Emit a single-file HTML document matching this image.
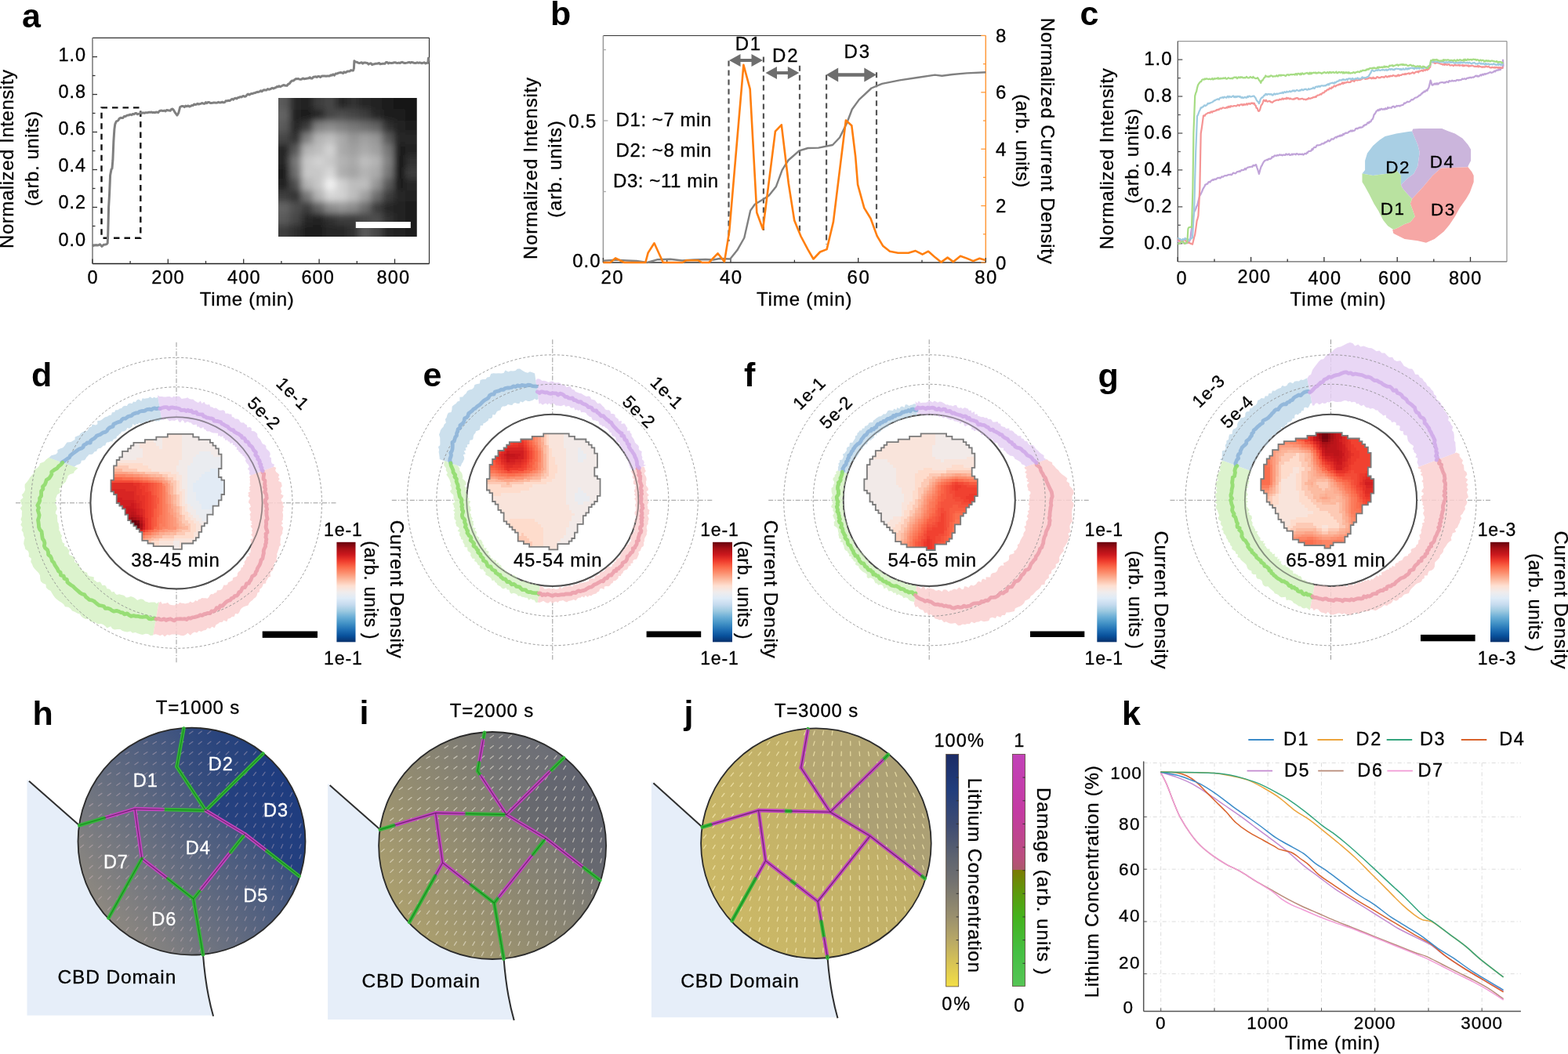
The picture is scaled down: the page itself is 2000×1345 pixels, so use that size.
<!DOCTYPE html>
<html><head><meta charset="utf-8"><title>Figure</title>
<style>html,body{margin:0;padding:0;background:#fff;}svg{display:block;}</style></head>
<body><svg width="2000" height="1345" viewBox="0 0 2000 1345" font-family="'Liberation Sans', Arial, sans-serif">
<rect width="2000" height="1345" fill="#fff"/>
<defs><clipPath id="insA"><rect x="355" y="125" width="176.5" height="177"/></clipPath><filter id="blurA" x="-50%" y="-50%" width="200%" height="200%"><feGaussianBlur stdDeviation="4.5"/></filter><filter id="blurA2" x="-50%" y="-50%" width="200%" height="200%"><feGaussianBlur stdDeviation="4"/></filter></defs>
<rect x="355" y="125" width="176.5" height="177" fill="#1c1c1c"/>
<g clip-path="url(#insA)"><g filter="url(#blurA)">
<rect x="347" y="117" width="23.3" height="23.3" fill="rgb(90,90,90)"/>
<rect x="369.7" y="117" width="15.3" height="23.3" fill="rgb(40,40,40)"/>
<rect x="384.4" y="117" width="15.3" height="23.3" fill="rgb(35,35,35)"/>
<rect x="399.1" y="117" width="15.3" height="23.3" fill="rgb(60,60,60)"/>
<rect x="413.8" y="117" width="15.3" height="23.3" fill="rgb(70,70,70)"/>
<rect x="428.5" y="117" width="15.3" height="23.3" fill="rgb(40,40,40)"/>
<rect x="443.2" y="117" width="15.3" height="23.3" fill="rgb(50,50,50)"/>
<rect x="458" y="117" width="15.3" height="23.3" fill="rgb(40,40,40)"/>
<rect x="472.7" y="117" width="15.3" height="23.3" fill="rgb(35,35,35)"/>
<rect x="487.4" y="117" width="15.3" height="23.3" fill="rgb(30,30,30)"/>
<rect x="502.1" y="117" width="15.3" height="23.3" fill="rgb(25,25,25)"/>
<rect x="516.8" y="117" width="23.3" height="23.3" fill="rgb(20,20,20)"/>
<rect x="347" y="139.7" width="23.3" height="15.3" fill="rgb(100,100,100)"/>
<rect x="369.7" y="139.7" width="15.3" height="15.3" fill="rgb(35,35,35)"/>
<rect x="384.4" y="139.7" width="15.3" height="15.3" fill="rgb(30,30,30)"/>
<rect x="399.1" y="139.7" width="15.3" height="15.3" fill="rgb(40,40,40)"/>
<rect x="413.8" y="139.7" width="15.3" height="15.3" fill="rgb(70,70,70)"/>
<rect x="428.5" y="139.7" width="15.3" height="15.3" fill="rgb(80,80,80)"/>
<rect x="443.2" y="139.7" width="15.3" height="15.3" fill="rgb(70,70,70)"/>
<rect x="458" y="139.7" width="15.3" height="15.3" fill="rgb(60,60,60)"/>
<rect x="472.7" y="139.7" width="15.3" height="15.3" fill="rgb(40,40,40)"/>
<rect x="487.4" y="139.7" width="15.3" height="15.3" fill="rgb(30,30,30)"/>
<rect x="502.1" y="139.7" width="15.3" height="15.3" fill="rgb(30,30,30)"/>
<rect x="516.8" y="139.7" width="23.3" height="15.3" fill="rgb(25,25,25)"/>
<rect x="347" y="154.4" width="23.3" height="15.3" fill="rgb(90,90,90)"/>
<rect x="369.7" y="154.4" width="15.3" height="15.3" fill="rgb(40,40,40)"/>
<rect x="384.4" y="154.4" width="15.3" height="15.3" fill="rgb(60,60,60)"/>
<rect x="399.1" y="154.4" width="15.3" height="15.3" fill="rgb(130,130,130)"/>
<rect x="413.8" y="154.4" width="15.3" height="15.3" fill="rgb(140,140,140)"/>
<rect x="428.5" y="154.4" width="15.3" height="15.3" fill="rgb(130,130,130)"/>
<rect x="443.2" y="154.4" width="15.3" height="15.3" fill="rgb(120,120,120)"/>
<rect x="458" y="154.4" width="15.3" height="15.3" fill="rgb(110,110,110)"/>
<rect x="472.7" y="154.4" width="15.3" height="15.3" fill="rgb(100,100,100)"/>
<rect x="487.4" y="154.4" width="15.3" height="15.3" fill="rgb(50,50,50)"/>
<rect x="502.1" y="154.4" width="15.3" height="15.3" fill="rgb(35,35,35)"/>
<rect x="516.8" y="154.4" width="23.3" height="15.3" fill="rgb(30,30,30)"/>
<rect x="347" y="169.1" width="23.3" height="15.3" fill="rgb(70,70,70)"/>
<rect x="369.7" y="169.1" width="15.3" height="15.3" fill="rgb(50,50,50)"/>
<rect x="384.4" y="169.1" width="15.3" height="15.3" fill="rgb(130,130,130)"/>
<rect x="399.1" y="169.1" width="15.3" height="15.3" fill="rgb(180,180,180)"/>
<rect x="413.8" y="169.1" width="15.3" height="15.3" fill="rgb(190,190,190)"/>
<rect x="428.5" y="169.1" width="15.3" height="15.3" fill="rgb(170,170,170)"/>
<rect x="443.2" y="169.1" width="15.3" height="15.3" fill="rgb(150,150,150)"/>
<rect x="458" y="169.1" width="15.3" height="15.3" fill="rgb(160,160,160)"/>
<rect x="472.7" y="169.1" width="15.3" height="15.3" fill="rgb(150,150,150)"/>
<rect x="487.4" y="169.1" width="15.3" height="15.3" fill="rgb(90,90,90)"/>
<rect x="502.1" y="169.1" width="15.3" height="15.3" fill="rgb(40,40,40)"/>
<rect x="516.8" y="169.1" width="23.3" height="15.3" fill="rgb(40,40,40)"/>
<rect x="347" y="183.8" width="23.3" height="15.3" fill="rgb(40,40,40)"/>
<rect x="369.7" y="183.8" width="15.3" height="15.3" fill="rgb(90,90,90)"/>
<rect x="384.4" y="183.8" width="15.3" height="15.3" fill="rgb(180,180,180)"/>
<rect x="399.1" y="183.8" width="15.3" height="15.3" fill="rgb(190,190,190)"/>
<rect x="413.8" y="183.8" width="15.3" height="15.3" fill="rgb(210,210,210)"/>
<rect x="428.5" y="183.8" width="15.3" height="15.3" fill="rgb(170,170,170)"/>
<rect x="443.2" y="183.8" width="15.3" height="15.3" fill="rgb(160,160,160)"/>
<rect x="458" y="183.8" width="15.3" height="15.3" fill="rgb(170,170,170)"/>
<rect x="472.7" y="183.8" width="15.3" height="15.3" fill="rgb(160,160,160)"/>
<rect x="487.4" y="183.8" width="15.3" height="15.3" fill="rgb(120,120,120)"/>
<rect x="502.1" y="183.8" width="15.3" height="15.3" fill="rgb(30,30,30)"/>
<rect x="516.8" y="183.8" width="23.3" height="15.3" fill="rgb(35,35,35)"/>
<rect x="347" y="198.5" width="23.3" height="15.3" fill="rgb(40,40,40)"/>
<rect x="369.7" y="198.5" width="15.3" height="15.3" fill="rgb(120,120,120)"/>
<rect x="384.4" y="198.5" width="15.3" height="15.3" fill="rgb(200,200,200)"/>
<rect x="399.1" y="198.5" width="15.3" height="15.3" fill="rgb(210,210,210)"/>
<rect x="413.8" y="198.5" width="15.3" height="15.3" fill="rgb(200,200,200)"/>
<rect x="428.5" y="198.5" width="15.3" height="15.3" fill="rgb(180,180,180)"/>
<rect x="443.2" y="198.5" width="15.3" height="15.3" fill="rgb(170,170,170)"/>
<rect x="458" y="198.5" width="15.3" height="15.3" fill="rgb(190,190,190)"/>
<rect x="472.7" y="198.5" width="15.3" height="15.3" fill="rgb(180,180,180)"/>
<rect x="487.4" y="198.5" width="15.3" height="15.3" fill="rgb(130,130,130)"/>
<rect x="502.1" y="198.5" width="15.3" height="15.3" fill="rgb(25,25,25)"/>
<rect x="516.8" y="198.5" width="23.3" height="15.3" fill="rgb(50,50,50)"/>
<rect x="347" y="213.2" width="23.3" height="15.3" fill="rgb(30,30,30)"/>
<rect x="369.7" y="213.2" width="15.3" height="15.3" fill="rgb(110,110,110)"/>
<rect x="384.4" y="213.2" width="15.3" height="15.3" fill="rgb(200,200,200)"/>
<rect x="399.1" y="213.2" width="15.3" height="15.3" fill="rgb(200,200,200)"/>
<rect x="413.8" y="213.2" width="15.3" height="15.3" fill="rgb(215,215,215)"/>
<rect x="428.5" y="213.2" width="15.3" height="15.3" fill="rgb(175,175,175)"/>
<rect x="443.2" y="213.2" width="15.3" height="15.3" fill="rgb(165,165,165)"/>
<rect x="458" y="213.2" width="15.3" height="15.3" fill="rgb(180,180,180)"/>
<rect x="472.7" y="213.2" width="15.3" height="15.3" fill="rgb(170,170,170)"/>
<rect x="487.4" y="213.2" width="15.3" height="15.3" fill="rgb(120,120,120)"/>
<rect x="502.1" y="213.2" width="15.3" height="15.3" fill="rgb(25,25,25)"/>
<rect x="516.8" y="213.2" width="23.3" height="15.3" fill="rgb(60,60,60)"/>
<rect x="347" y="228" width="23.3" height="15.3" fill="rgb(35,35,35)"/>
<rect x="369.7" y="228" width="15.3" height="15.3" fill="rgb(80,80,80)"/>
<rect x="384.4" y="228" width="15.3" height="15.3" fill="rgb(180,180,180)"/>
<rect x="399.1" y="228" width="15.3" height="15.3" fill="rgb(200,200,200)"/>
<rect x="413.8" y="228" width="15.3" height="15.3" fill="rgb(240,240,240)"/>
<rect x="428.5" y="228" width="15.3" height="15.3" fill="rgb(210,210,210)"/>
<rect x="443.2" y="228" width="15.3" height="15.3" fill="rgb(190,190,190)"/>
<rect x="458" y="228" width="15.3" height="15.3" fill="rgb(190,190,190)"/>
<rect x="472.7" y="228" width="15.3" height="15.3" fill="rgb(150,150,150)"/>
<rect x="487.4" y="228" width="15.3" height="15.3" fill="rgb(90,90,90)"/>
<rect x="502.1" y="228" width="15.3" height="15.3" fill="rgb(30,30,30)"/>
<rect x="516.8" y="228" width="23.3" height="15.3" fill="rgb(40,40,40)"/>
<rect x="347" y="242.7" width="23.3" height="15.3" fill="rgb(60,60,60)"/>
<rect x="369.7" y="242.7" width="15.3" height="15.3" fill="rgb(50,50,50)"/>
<rect x="384.4" y="242.7" width="15.3" height="15.3" fill="rgb(120,120,120)"/>
<rect x="399.1" y="242.7" width="15.3" height="15.3" fill="rgb(180,180,180)"/>
<rect x="413.8" y="242.7" width="15.3" height="15.3" fill="rgb(215,215,215)"/>
<rect x="428.5" y="242.7" width="15.3" height="15.3" fill="rgb(210,210,210)"/>
<rect x="443.2" y="242.7" width="15.3" height="15.3" fill="rgb(190,190,190)"/>
<rect x="458" y="242.7" width="15.3" height="15.3" fill="rgb(160,160,160)"/>
<rect x="472.7" y="242.7" width="15.3" height="15.3" fill="rgb(110,110,110)"/>
<rect x="487.4" y="242.7" width="15.3" height="15.3" fill="rgb(60,60,60)"/>
<rect x="502.1" y="242.7" width="15.3" height="15.3" fill="rgb(40,40,40)"/>
<rect x="516.8" y="242.7" width="23.3" height="15.3" fill="rgb(35,35,35)"/>
<rect x="347" y="257.4" width="23.3" height="15.3" fill="rgb(100,100,100)"/>
<rect x="369.7" y="257.4" width="15.3" height="15.3" fill="rgb(80,80,80)"/>
<rect x="384.4" y="257.4" width="15.3" height="15.3" fill="rgb(60,60,60)"/>
<rect x="399.1" y="257.4" width="15.3" height="15.3" fill="rgb(100,100,100)"/>
<rect x="413.8" y="257.4" width="15.3" height="15.3" fill="rgb(140,140,140)"/>
<rect x="428.5" y="257.4" width="15.3" height="15.3" fill="rgb(150,150,150)"/>
<rect x="443.2" y="257.4" width="15.3" height="15.3" fill="rgb(140,140,140)"/>
<rect x="458" y="257.4" width="15.3" height="15.3" fill="rgb(110,110,110)"/>
<rect x="472.7" y="257.4" width="15.3" height="15.3" fill="rgb(60,60,60)"/>
<rect x="487.4" y="257.4" width="15.3" height="15.3" fill="rgb(40,40,40)"/>
<rect x="502.1" y="257.4" width="15.3" height="15.3" fill="rgb(35,35,35)"/>
<rect x="516.8" y="257.4" width="23.3" height="15.3" fill="rgb(30,30,30)"/>
<rect x="347" y="272.1" width="23.3" height="15.3" fill="rgb(90,90,90)"/>
<rect x="369.7" y="272.1" width="15.3" height="15.3" fill="rgb(70,70,70)"/>
<rect x="384.4" y="272.1" width="15.3" height="15.3" fill="rgb(40,40,40)"/>
<rect x="399.1" y="272.1" width="15.3" height="15.3" fill="rgb(35,35,35)"/>
<rect x="413.8" y="272.1" width="15.3" height="15.3" fill="rgb(50,50,50)"/>
<rect x="428.5" y="272.1" width="15.3" height="15.3" fill="rgb(60,60,60)"/>
<rect x="443.2" y="272.1" width="15.3" height="15.3" fill="rgb(60,60,60)"/>
<rect x="458" y="272.1" width="15.3" height="15.3" fill="rgb(70,70,70)"/>
<rect x="472.7" y="272.1" width="15.3" height="15.3" fill="rgb(80,80,80)"/>
<rect x="487.4" y="272.1" width="15.3" height="15.3" fill="rgb(50,50,50)"/>
<rect x="502.1" y="272.1" width="15.3" height="15.3" fill="rgb(35,35,35)"/>
<rect x="516.8" y="272.1" width="23.3" height="15.3" fill="rgb(30,30,30)"/>
<rect x="347" y="286.8" width="23.3" height="23.3" fill="rgb(60,60,60)"/>
<rect x="369.7" y="286.8" width="15.3" height="23.3" fill="rgb(45,45,45)"/>
<rect x="384.4" y="286.8" width="15.3" height="23.3" fill="rgb(30,30,30)"/>
<rect x="399.1" y="286.8" width="15.3" height="23.3" fill="rgb(30,30,30)"/>
<rect x="413.8" y="286.8" width="15.3" height="23.3" fill="rgb(40,40,40)"/>
<rect x="428.5" y="286.8" width="15.3" height="23.3" fill="rgb(40,40,40)"/>
<rect x="443.2" y="286.8" width="15.3" height="23.3" fill="rgb(50,50,50)"/>
<rect x="458" y="286.8" width="15.3" height="23.3" fill="rgb(90,90,90)"/>
<rect x="472.7" y="286.8" width="15.3" height="23.3" fill="rgb(70,70,70)"/>
<rect x="487.4" y="286.8" width="15.3" height="23.3" fill="rgb(40,40,40)"/>
<rect x="502.1" y="286.8" width="15.3" height="23.3" fill="rgb(35,35,35)"/>
<rect x="516.8" y="286.8" width="23.3" height="23.3" fill="rgb(30,30,30)"/>
</g></g>
<rect x="453.8" y="283" width="70" height="8" fill="#fff"/>
<line x1="118" y1="48.3" x2="547.5" y2="48.3" stroke="#333" stroke-width="1.2"/>
<line x1="547.5" y1="48.3" x2="547.5" y2="336.4" stroke="#333" stroke-width="1.2"/>
<line x1="118" y1="336.4" x2="547.5" y2="336.4" stroke="#222" stroke-width="1.5"/>
<line x1="118" y1="48.3" x2="118" y2="336.4" stroke="#777" stroke-width="1.5"/>
<line x1="118" y1="312.5" x2="124" y2="312.5" stroke="#333" stroke-width="1.3"/>
<line x1="118" y1="288.5" x2="121.5" y2="288.5" stroke="#333" stroke-width="1.3"/>
<line x1="118" y1="264.5" x2="124" y2="264.5" stroke="#333" stroke-width="1.3"/>
<line x1="118" y1="240.5" x2="121.5" y2="240.5" stroke="#333" stroke-width="1.3"/>
<line x1="118" y1="216.5" x2="124" y2="216.5" stroke="#333" stroke-width="1.3"/>
<line x1="118" y1="192.5" x2="121.5" y2="192.5" stroke="#333" stroke-width="1.3"/>
<line x1="118" y1="168.5" x2="124" y2="168.5" stroke="#333" stroke-width="1.3"/>
<line x1="118" y1="144.5" x2="121.5" y2="144.5" stroke="#333" stroke-width="1.3"/>
<line x1="118" y1="120.5" x2="124" y2="120.5" stroke="#333" stroke-width="1.3"/>
<line x1="118" y1="96.5" x2="121.5" y2="96.5" stroke="#333" stroke-width="1.3"/>
<line x1="118" y1="72.5" x2="124" y2="72.5" stroke="#333" stroke-width="1.3"/>
<line x1="117.9" y1="336.4" x2="117.9" y2="330.4" stroke="#333" stroke-width="1.3"/>
<line x1="166.1" y1="336.4" x2="166.1" y2="332.9" stroke="#333" stroke-width="1.3"/>
<line x1="214.3" y1="336.4" x2="214.3" y2="330.4" stroke="#333" stroke-width="1.3"/>
<line x1="262.5" y1="336.4" x2="262.5" y2="332.9" stroke="#333" stroke-width="1.3"/>
<line x1="310.7" y1="336.4" x2="310.7" y2="330.4" stroke="#333" stroke-width="1.3"/>
<line x1="358.9" y1="336.4" x2="358.9" y2="332.9" stroke="#333" stroke-width="1.3"/>
<line x1="407.1" y1="336.4" x2="407.1" y2="330.4" stroke="#333" stroke-width="1.3"/>
<line x1="455.3" y1="336.4" x2="455.3" y2="332.9" stroke="#333" stroke-width="1.3"/>
<line x1="503.5" y1="336.4" x2="503.5" y2="330.4" stroke="#333" stroke-width="1.3"/>
<text x="109" y="313.5" font-size="23.5" text-anchor="end" stroke="#000" stroke-width="0.3" textLength="34.5" lengthAdjust="spacing">0.0</text>
<text x="109" y="266" font-size="23.5" text-anchor="end" stroke="#000" stroke-width="0.3" textLength="34.5" lengthAdjust="spacing">0.2</text>
<text x="109" y="219.3" font-size="23.5" text-anchor="end" stroke="#000" stroke-width="0.3" textLength="34.5" lengthAdjust="spacing">0.4</text>
<text x="109" y="171.9" font-size="23.5" text-anchor="end" stroke="#000" stroke-width="0.3" textLength="34.5" lengthAdjust="spacing">0.6</text>
<text x="109" y="125.3" font-size="23.5" text-anchor="end" stroke="#000" stroke-width="0.3" textLength="34.5" lengthAdjust="spacing">0.8</text>
<text x="109" y="77.9" font-size="23.5" text-anchor="end" stroke="#000" stroke-width="0.3" textLength="34.5" lengthAdjust="spacing">1.0</text>
<text x="118.1" y="362" font-size="23.5" text-anchor="middle" stroke="#000" stroke-width="0.3" textLength="13.8" lengthAdjust="spacing">0</text>
<text x="214" y="362" font-size="23.5" text-anchor="middle" stroke="#000" stroke-width="0.3" textLength="41.4" lengthAdjust="spacing">200</text>
<text x="310.8" y="362" font-size="23.5" text-anchor="middle" stroke="#000" stroke-width="0.3" textLength="41.4" lengthAdjust="spacing">400</text>
<text x="405.1" y="362" font-size="23.5" text-anchor="middle" stroke="#000" stroke-width="0.3" textLength="41.4" lengthAdjust="spacing">600</text>
<text x="501.3" y="362" font-size="23.5" text-anchor="middle" stroke="#000" stroke-width="0.3" textLength="41.4" lengthAdjust="spacing">800</text>
<text x="314.7" y="390.4" font-size="24" text-anchor="middle" stroke="#000" stroke-width="0.3" textLength="120" lengthAdjust="spacing">Time (min)</text>
<text x="16.8" y="203" font-size="24" text-anchor="middle" stroke="#000" stroke-width="0.3" textLength="228" lengthAdjust="spacing" transform="rotate(-90 16.8 203)">Normalized Intensity</text>
<text x="48.5" y="202.5" font-size="24" text-anchor="middle" stroke="#000" stroke-width="0.3" textLength="121" lengthAdjust="spacing" transform="rotate(-90 48.5 202.5)">(arb. units)</text>
<text x="28" y="34.5" font-size="43" font-weight="bold">a</text>
<rect x="129.5" y="137.4" width="49.8" height="166.4" fill="none" stroke="#111" stroke-width="2.4" stroke-dasharray="7.5 6"/>
<path d="M117.9 314.2 L120.3 312.9 L122.7 312.7 L125.1 313 L127.5 311.8 L130 314.5 L132.4 312.2 L134.8 311.9 L136.2 311.5 L137.2 310.1 L137.7 299.5 L138.6 264.6 L139.6 247.1 L140.6 223.7 L142 216.2 L143 214.8 L143.9 204.2 L144.9 179.8 L145.9 164.9 L146.8 158.4 L148.3 155 L150.7 153.7 L152.4 151.2 L154.1 150.3 L155.5 150.4 L156.9 150.4 L158.4 148.4 L159.8 148.6 L161.3 147.7 L162.9 147 L164.5 146.9 L166.1 146.1 L167.7 146.7 L169.3 145.5 L170.9 145.8 L172.4 144.6 L173.8 144.5 L175.3 145.8 L176.7 145.4 L178.2 145 L179.7 143.5 L181.2 144.3 L182.7 143.8 L184.2 144.3 L185.7 143.7 L187.2 143.8 L188.7 143.7 L190.2 143.1 L191.6 143.4 L193.1 143 L194.5 143.7 L196 143.4 L197.4 143.8 L198.9 143.1 L200.3 143.2 L201.8 143.7 L203.2 141.9 L204.7 141.2 L206.3 141.1 L207.9 141.6 L209.5 141.1 L211.1 141.9 L212.7 140.5 L214.3 140.8 L215.7 141.1 L217.2 141.3 L218.6 139.5 L220.1 139 L221.5 140.5 L223.5 143.9 L225.9 147.1 L227.8 144 L229.7 136.5 L231.7 135.6 L233.6 135.4 L235.2 136.6 L236.8 135.1 L238.4 135.8 L240 134.9 L241.6 136 L243.2 135.4 L244.7 134.5 L246.1 134.6 L247.6 133 L249 133.6 L250.4 133.3 L252 132.2 L253.5 133.1 L255 132.6 L256.5 132.1 L258 131.5 L259.5 132.3 L261 132.3 L262.5 130.6 L263.9 131.7 L265.4 130.4 L266.8 130.5 L268.3 131.5 L269.7 131.4 L271.2 131.3 L272.6 131 L274.1 131.1 L275.5 131.2 L277 131.1 L278.6 130.3 L280.2 130.9 L281.8 130.8 L283.4 130.1 L285 130.8 L286.6 130.5 L288.2 128.6 L289.8 128.9 L291.4 128.2 L293 128.6 L294.6 127.3 L296.2 126.3 L297.7 127.1 L299.1 125.6 L300.6 125.2 L302 125.9 L303.5 124.5 L304.9 124.4 L306.4 123.6 L307.8 123.9 L309.3 122.9 L310.7 122.4 L312.1 123.3 L313.6 122.8 L315 121.1 L316.5 120.1 L317.9 121 L319.4 120.1 L320.8 119.4 L322.3 119.4 L323.7 118.8 L325.2 118.5 L326.6 118 L328.1 117.2 L329.6 117.4 L331.1 116.9 L332.6 115.7 L334.1 116.8 L335.5 115.4 L337 114.7 L338.5 115.1 L340 114.9 L341.5 113.5 L343 114.2 L344.4 113.9 L345.9 113.1 L347.3 112.2 L348.8 113 L350.2 112.2 L351.7 111.8 L353.1 110.5 L354.6 110.9 L356 109.7 L357.5 110.7 L358.9 110 L360.3 109.2 L361.8 108.5 L363.2 109.1 L364.7 109.3 L366.1 109.2 L367.7 107.2 L369.3 106.7 L370.9 104.3 L372.6 103.1 L374.2 103.1 L375.8 101.7 L377.3 100.6 L378.8 100.8 L380.3 100.4 L381.8 101.1 L383.3 101.4 L384.8 101 L386.3 99.9 L387.8 100.8 L389.3 100.5 L390.8 100.2 L392.3 100 L393.8 99.8 L395.2 98.7 L396.7 100 L398.2 100.1 L399.7 98.2 L401.2 98.1 L402.7 97.7 L404.1 98.6 L405.6 97.5 L407.1 97.4 L408.6 98.5 L410.1 97.3 L411.5 96.9 L413 97 L414.5 97 L416 97.3 L417.5 96.9 L419 96.9 L420.4 97 L421.9 95.8 L423.4 96.2 L424.9 94.9 L426.4 96.2 L428 94.1 L429.6 94.1 L431.2 93.3 L432.8 92.9 L434.4 92.5 L436 92.8 L437.5 93.5 L438.9 91.8 L440.4 92.6 L441.8 92 L443.2 91 L444.7 91 L446.1 90.9 L447.6 89.6 L449 89.9 L450.5 90.1 L451.4 87.4 L451.9 77.8 L453.6 79.1 L455.3 79.2 L456.8 80.1 L458.3 80.6 L459.7 80.1 L461.2 79.7 L462.7 81.1 L464.2 80 L465.7 79.9 L467.2 80.3 L468.6 80.4 L470.1 82.1 L471.6 81.1 L473.1 80.8 L474.6 82.5 L476.1 81.9 L477.5 81.8 L479 81.2 L480.5 81.3 L482 81.1 L483.5 80.4 L485 81.8 L486.4 81.6 L487.9 81.3 L489.4 81.2 L490.9 81.2 L492.4 79.4 L493.9 79.5 L495.3 80.9 L496.8 80.1 L498.3 80.4 L499.8 80.4 L501.3 80.3 L502.8 79.7 L504.2 79.8 L505.7 80.2 L507.2 80.4 L508.7 80.1 L510.2 80.5 L511.7 79.6 L513.1 79.3 L514.6 80 L516.1 80.6 L517.6 80.4 L519.1 80.1 L520.6 79.7 L522 79.4 L523.5 80.2 L525 79.4 L526.5 79.8 L528 80.2 L529.5 80.4 L530.9 80.2 L532.4 79.8 L533.9 80.3 L535.4 79.8 L536.9 80.3 L538.4 80.7 L539.9 80.1 L541.4 79.8 L542.9 81 L544.4 80.3 L545.9 80.3 L546.4 74.2 L546.9 78.9" stroke="#808080" stroke-width="3" fill="none" stroke-linejoin="round"/>
<line x1="769.4" y1="45.5" x2="1257.3" y2="45.5" stroke="#333" stroke-width="1.2"/>
<line x1="769.4" y1="335" x2="1257.3" y2="335" stroke="#333" stroke-width="1.5"/>
<line x1="769.4" y1="45.5" x2="769.4" y2="335" stroke="#999" stroke-width="1.5"/>
<line x1="1257.3" y1="45.5" x2="1257.3" y2="335" stroke="#ff9a3c" stroke-width="1.5"/>
<line x1="769.4" y1="335" x2="775.4" y2="335" stroke="#aaa" stroke-width="1.3"/>
<line x1="769.4" y1="244.5" x2="772.9" y2="244.5" stroke="#aaa" stroke-width="1.3"/>
<line x1="769.4" y1="154" x2="775.4" y2="154" stroke="#aaa" stroke-width="1.3"/>
<line x1="769.4" y1="63.5" x2="772.9" y2="63.5" stroke="#aaa" stroke-width="1.3"/>
<line x1="1257.3" y1="335" x2="1251.3" y2="335" stroke="#ff9a3c" stroke-width="1.3"/>
<line x1="1257.3" y1="298.8" x2="1254" y2="298.8" stroke="#ff9a3c" stroke-width="1.3"/>
<line x1="1257.3" y1="262.6" x2="1251.3" y2="262.6" stroke="#ff9a3c" stroke-width="1.3"/>
<line x1="1257.3" y1="226.4" x2="1254" y2="226.4" stroke="#ff9a3c" stroke-width="1.3"/>
<line x1="1257.3" y1="190.2" x2="1251.3" y2="190.2" stroke="#ff9a3c" stroke-width="1.3"/>
<line x1="1257.3" y1="154" x2="1254" y2="154" stroke="#ff9a3c" stroke-width="1.3"/>
<line x1="1257.3" y1="117.8" x2="1251.3" y2="117.8" stroke="#ff9a3c" stroke-width="1.3"/>
<line x1="1257.3" y1="81.6" x2="1254" y2="81.6" stroke="#ff9a3c" stroke-width="1.3"/>
<line x1="1257.3" y1="45.4" x2="1251.3" y2="45.4" stroke="#ff9a3c" stroke-width="1.3"/>
<line x1="769.4" y1="335" x2="769.4" y2="329" stroke="#333" stroke-width="1.3"/>
<line x1="850.7" y1="335" x2="850.7" y2="331.7" stroke="#333" stroke-width="1.3"/>
<line x1="932" y1="335" x2="932" y2="329" stroke="#333" stroke-width="1.3"/>
<line x1="1013.4" y1="335" x2="1013.4" y2="331.7" stroke="#333" stroke-width="1.3"/>
<line x1="1094.7" y1="335" x2="1094.7" y2="329" stroke="#333" stroke-width="1.3"/>
<line x1="1176" y1="335" x2="1176" y2="331.7" stroke="#333" stroke-width="1.3"/>
<line x1="1257.3" y1="335" x2="1257.3" y2="329" stroke="#333" stroke-width="1.3"/>
<text x="765.5" y="340.5" font-size="24" text-anchor="end" stroke="#000" stroke-width="0.3" textLength="35.2" lengthAdjust="spacing">0.0</text>
<text x="760.4" y="162.5" font-size="24" text-anchor="end" stroke="#000" stroke-width="0.3" textLength="35.2" lengthAdjust="spacing">0.5</text>
<text x="1270" y="343.5" font-size="24" stroke="#000" stroke-width="0.3" textLength="14.1" lengthAdjust="spacing">0</text>
<text x="1270" y="271.1" font-size="24" stroke="#000" stroke-width="0.3" textLength="14.1" lengthAdjust="spacing">2</text>
<text x="1270" y="198.7" font-size="24" stroke="#000" stroke-width="0.3" textLength="14.1" lengthAdjust="spacing">4</text>
<text x="1270" y="126.3" font-size="24" stroke="#000" stroke-width="0.3" textLength="14.1" lengthAdjust="spacing">6</text>
<text x="1270" y="53.9" font-size="24" stroke="#000" stroke-width="0.3" textLength="14.1" lengthAdjust="spacing">8</text>
<text x="780.5" y="362" font-size="24" text-anchor="middle" stroke="#000" stroke-width="0.3" textLength="28.2" lengthAdjust="spacing">20</text>
<text x="932" y="362" font-size="24" text-anchor="middle" stroke="#000" stroke-width="0.3" textLength="28.2" lengthAdjust="spacing">40</text>
<text x="1094.7" y="362" font-size="24" text-anchor="middle" stroke="#000" stroke-width="0.3" textLength="28.2" lengthAdjust="spacing">60</text>
<text x="1257.3" y="362" font-size="24" text-anchor="middle" stroke="#000" stroke-width="0.3" textLength="28.2" lengthAdjust="spacing">80</text>
<text x="1025.7" y="390.4" font-size="24" text-anchor="middle" stroke="#000" stroke-width="0.3" textLength="121.4" lengthAdjust="spacing">Time (min)</text>
<text x="685.1" y="215" font-size="24" text-anchor="middle" stroke="#000" stroke-width="0.3" textLength="231.8" lengthAdjust="spacing" transform="rotate(-90 685.1 215)">Normalized Intensity</text>
<text x="716.2" y="216" font-size="24" text-anchor="middle" stroke="#000" stroke-width="0.3" textLength="123.4" lengthAdjust="spacing" transform="rotate(-90 716.2 216)">(arb. units)</text>
<text x="1328.1" y="179.8" font-size="24" text-anchor="middle" stroke="#000" stroke-width="0.3" textLength="314" lengthAdjust="spacing" transform="rotate(90 1328.1 179.8)">Normalized Current Density</text>
<text x="1296" y="179.8" font-size="24" text-anchor="middle" stroke="#000" stroke-width="0.3" textLength="119" lengthAdjust="spacing" transform="rotate(90 1296 179.8)">(arb. units)</text>
<text x="702" y="31.5" font-size="43" font-weight="bold">b</text>
<text x="785.6" y="160.7" font-size="24" stroke="#000" stroke-width="0.3" textLength="121.7" lengthAdjust="spacing">D1: ~7 min</text>
<text x="785.6" y="199.5" font-size="24" stroke="#000" stroke-width="0.3" textLength="121.7" lengthAdjust="spacing">D2: ~8 min</text>
<text x="782" y="239" font-size="24" stroke="#000" stroke-width="0.3" textLength="134" lengthAdjust="spacing">D3: ~11 min</text>
<line x1="929.5" y1="77.6" x2="929.5" y2="308" stroke="#555" stroke-width="2.2" stroke-dasharray="7 5"/>
<line x1="973.9" y1="72.5" x2="973.9" y2="294" stroke="#555" stroke-width="2.2" stroke-dasharray="7 5"/>
<line x1="1020" y1="83.7" x2="1020" y2="296" stroke="#555" stroke-width="2.2" stroke-dasharray="7 5"/>
<line x1="1054.1" y1="95.6" x2="1054.1" y2="312" stroke="#555" stroke-width="2.2" stroke-dasharray="7 5"/>
<line x1="1118" y1="92.3" x2="1118" y2="294" stroke="#555" stroke-width="2.2" stroke-dasharray="7 5"/>
<path d="M930 77 L944.5 69 L944.5 85Z" fill="#6e6e6e"/><path d="M973 77 L958.5 69 L958.5 85Z" fill="#6e6e6e"/><line x1="943.5" y1="77" x2="959.5" y2="77" stroke="#6e6e6e" stroke-width="4"/>
<path d="M976.5 93 L991 85 L991 101Z" fill="#6e6e6e"/><path d="M1019.3 93 L1004.8 85 L1004.8 101Z" fill="#6e6e6e"/><line x1="990" y1="93" x2="1005.8" y2="93" stroke="#6e6e6e" stroke-width="4"/>
<path d="M1053.7 95.6 L1069.2 86.6 L1069.2 104.6Z" fill="#6e6e6e"/><path d="M1117.8 95.6 L1102.3 86.6 L1102.3 104.6Z" fill="#6e6e6e"/><line x1="1068.2" y1="95.6" x2="1103.3" y2="95.6" stroke="#6e6e6e" stroke-width="4.5"/>
<text x="954" y="64.1" font-size="24" text-anchor="middle" stroke="#000" stroke-width="0.3" textLength="32.4" lengthAdjust="spacing">D1</text>
<text x="1001.3" y="79.2" font-size="24" text-anchor="middle" stroke="#000" stroke-width="0.3" textLength="32.4" lengthAdjust="spacing">D2</text>
<text x="1092.8" y="74.3" font-size="24" text-anchor="middle" stroke="#000" stroke-width="0.3" textLength="32.4" lengthAdjust="spacing">D3</text>
<path d="M769.4 332.8 L785 331.6 L800 332.5 L812 333 L825.5 335 L839 331.2 L855 330.8 L870 332.5 L885 331.5 L900 331 L910 331.5 L917.8 330 L931.3 330.5 L940.3 319.3 L949.3 303.5 L957.2 268.6 L962.8 260.8 L974 254 L980.8 249.5 L989.8 238.3 L997.7 216.9 L1005.5 204.5 L1019.3 192.4 L1030.5 189 L1044 188.6 L1062 185 L1071 175.5 L1080 157.5 L1086.8 139.5 L1095.8 127.1 L1111.5 112.5 L1125 106.9 L1147.5 102.4 L1170 99 L1192.5 95.6 L1201.5 96.8 L1215 95 L1233 93.4 L1257.3 92.3" stroke="#808080" stroke-width="2.4" fill="none" stroke-linejoin="round"/>
<path d="M769.4 335 L778.3 335 L785 329.4 L796.3 335 L823.3 335 L826.6 322.6 L834.5 310.3 L845.8 335 L870.5 335 L875 332.3 L890.8 332.3 L895.3 335 L904.3 335 L915.5 323.3 L924 333.9 L930.2 295.6 L948.4 82.8 L956.7 113.6 L965.3 271.2 L973.1 292.5 L988.9 167.6 L996.8 159.3 L1005.8 234 L1013.2 281.3 L1021.5 301.5 L1030.3 318.1 L1037.5 330.5 L1046 321.5 L1054.6 318.1 L1062.9 283.3 L1078.9 153.5 L1086.3 160.2 L1091.2 200 L1094.1 235.7 L1102.3 265.4 L1110.5 278.8 L1118.7 301.1 L1126.1 313.7 L1135 320.7 L1145.4 322.7 L1158.8 322.7 L1167.7 320.1 L1176.6 324.6 L1184.1 320.7 L1193 328.6 L1200.4 334.6 L1208.6 328.6 L1216 334.1 L1225 326.7 L1233.1 329.6 L1241.3 333.1 L1249.5 329.8 L1256.9 332" stroke="#ff7f0e" stroke-width="2.6" fill="none" stroke-linejoin="round"/>
<line x1="1502.3" y1="52.6" x2="1922" y2="52.6" stroke="#999" stroke-width="1.3"/>
<line x1="1922" y1="52.6" x2="1922" y2="333.9" stroke="#999" stroke-width="1.3"/>
<line x1="1502.3" y1="333.9" x2="1922" y2="333.9" stroke="#666" stroke-width="1.3"/>
<line x1="1502.3" y1="52.6" x2="1502.3" y2="333.9" stroke="#666" stroke-width="1.4"/>
<line x1="1502.3" y1="310.8" x2="1508.3" y2="310.8" stroke="#555" stroke-width="1.3"/>
<line x1="1502.3" y1="287.3" x2="1505.8" y2="287.3" stroke="#555" stroke-width="1.3"/>
<line x1="1502.3" y1="263.9" x2="1508.3" y2="263.9" stroke="#555" stroke-width="1.3"/>
<line x1="1502.3" y1="240.4" x2="1505.8" y2="240.4" stroke="#555" stroke-width="1.3"/>
<line x1="1502.3" y1="216.9" x2="1508.3" y2="216.9" stroke="#555" stroke-width="1.3"/>
<line x1="1502.3" y1="193.5" x2="1505.8" y2="193.5" stroke="#555" stroke-width="1.3"/>
<line x1="1502.3" y1="170" x2="1508.3" y2="170" stroke="#555" stroke-width="1.3"/>
<line x1="1502.3" y1="146.5" x2="1505.8" y2="146.5" stroke="#555" stroke-width="1.3"/>
<line x1="1502.3" y1="123" x2="1508.3" y2="123" stroke="#555" stroke-width="1.3"/>
<line x1="1502.3" y1="99.6" x2="1505.8" y2="99.6" stroke="#555" stroke-width="1.3"/>
<line x1="1502.3" y1="76.1" x2="1508.3" y2="76.1" stroke="#555" stroke-width="1.3"/>
<line x1="1502.3" y1="333.9" x2="1502.3" y2="327.9" stroke="#333" stroke-width="1.3"/>
<line x1="1549" y1="333.9" x2="1549" y2="330.4" stroke="#333" stroke-width="1.3"/>
<line x1="1595.6" y1="333.9" x2="1595.6" y2="327.9" stroke="#333" stroke-width="1.3"/>
<line x1="1642.2" y1="333.9" x2="1642.2" y2="330.4" stroke="#333" stroke-width="1.3"/>
<line x1="1688.9" y1="333.9" x2="1688.9" y2="327.9" stroke="#333" stroke-width="1.3"/>
<line x1="1735.5" y1="333.9" x2="1735.5" y2="330.4" stroke="#333" stroke-width="1.3"/>
<line x1="1782.2" y1="333.9" x2="1782.2" y2="327.9" stroke="#333" stroke-width="1.3"/>
<line x1="1828.8" y1="333.9" x2="1828.8" y2="330.4" stroke="#333" stroke-width="1.3"/>
<line x1="1875.5" y1="333.9" x2="1875.5" y2="327.9" stroke="#333" stroke-width="1.3"/>
<text x="1494.5" y="317.7" font-size="24" text-anchor="end" stroke="#000" stroke-width="0.3" textLength="35.2" lengthAdjust="spacing">0.0</text>
<text x="1494.5" y="270.8" font-size="24" text-anchor="end" stroke="#000" stroke-width="0.3" textLength="35.2" lengthAdjust="spacing">0.2</text>
<text x="1494.5" y="223.8" font-size="24" text-anchor="end" stroke="#000" stroke-width="0.3" textLength="35.2" lengthAdjust="spacing">0.4</text>
<text x="1494.5" y="176.9" font-size="24" text-anchor="end" stroke="#000" stroke-width="0.3" textLength="35.2" lengthAdjust="spacing">0.6</text>
<text x="1494.5" y="129.9" font-size="24" text-anchor="end" stroke="#000" stroke-width="0.3" textLength="35.2" lengthAdjust="spacing">0.8</text>
<text x="1494.5" y="83" font-size="24" text-anchor="end" stroke="#000" stroke-width="0.3" textLength="35.2" lengthAdjust="spacing">1.0</text>
<text x="1507" y="362.8" font-size="23.5" text-anchor="middle" stroke="#000" stroke-width="0.3" textLength="13.8" lengthAdjust="spacing">0</text>
<text x="1599.3" y="361.2" font-size="23.5" text-anchor="middle" stroke="#000" stroke-width="0.3" textLength="41.4" lengthAdjust="spacing">200</text>
<text x="1689.3" y="363" font-size="23.5" text-anchor="middle" stroke="#000" stroke-width="0.3" textLength="41.4" lengthAdjust="spacing">400</text>
<text x="1778.8" y="363" font-size="23.5" text-anchor="middle" stroke="#000" stroke-width="0.3" textLength="41.4" lengthAdjust="spacing">600</text>
<text x="1868.6" y="363" font-size="23.5" text-anchor="middle" stroke="#000" stroke-width="0.3" textLength="41.4" lengthAdjust="spacing">800</text>
<text x="1706.5" y="390.2" font-size="24" text-anchor="middle" stroke="#000" stroke-width="0.3" textLength="122" lengthAdjust="spacing">Time (min)</text>
<text x="1419.7" y="202.7" font-size="24" text-anchor="middle" stroke="#000" stroke-width="0.3" textLength="231" lengthAdjust="spacing" transform="rotate(-90 1419.7 202.7)">Normalized Intensity</text>
<text x="1451.6" y="199.2" font-size="24" text-anchor="middle" stroke="#000" stroke-width="0.3" textLength="121" lengthAdjust="spacing" transform="rotate(-90 1451.6 199.2)">(arb. units)</text>
<text x="1377.5" y="31.5" font-size="43" font-weight="bold">c</text>
<path d="M1737.5 221.6 L1741.1 216.9 L1741.1 205 L1744 195.4 L1751.2 185.9 L1759.5 178.8 L1766.6 174 L1780.9 170.5 L1796.4 168.1 L1801.1 167.5 L1808.3 184.7 L1810.7 194.3 L1808.3 212.1 L1803.5 221.6 L1794 228.8 L1786.9 235.9 L1786.9 224 L1780.9 216.9 L1770.2 221.6 L1751.2 224Z" stroke="none" stroke-width="0" fill="#a9cfe4"/>
<path d="M1801.1 167.5 L1802.3 164.5 L1810.7 163.9 L1839.2 163.9 L1846.3 166.9 L1855.9 170.5 L1865.4 176.4 L1872.5 184.7 L1876.1 190.7 L1876.1 205 L1872.5 212.1 L1872.5 213.3 L1838 214.5 L1827.3 224 L1815.4 238.3 L1801.1 253.7 L1796.4 249 L1789.2 240.7 L1786.9 235.9 L1794 228.8 L1803.5 221.6 L1808.3 212.1 L1810.7 194.3 L1808.3 184.7Z" stroke="none" stroke-width="0" fill="#cbb5dc"/>
<path d="M1872.5 213.3 L1877.3 219.2 L1879.7 224 L1879.7 232.3 L1874.9 245.4 L1870.1 253.7 L1861.8 265.6 L1855.9 276.3 L1848.7 287 L1841.6 295.4 L1829.7 304.9 L1819 309.7 L1808.3 307.3 L1791.6 304.9 L1777.3 297.8 L1776.2 293 L1777.3 293 L1783.3 290.6 L1791.6 285.9 L1798.8 283.5 L1804.7 276.3 L1802.3 269.2 L1798.8 259.7 L1801.1 253.7 L1815.4 238.3 L1827.3 224 L1838 214.5Z" stroke="none" stroke-width="0" fill="#f6a7a5"/>
<path d="M1737.5 221.6 L1751.2 224 L1770.2 221.6 L1780.9 216.9 L1786.9 224 L1786.9 235.9 L1789.2 240.7 L1796.4 249 L1801.1 253.7 L1798.8 259.7 L1802.3 269.2 L1804.7 276.3 L1798.8 283.5 L1791.6 285.9 L1783.3 290.6 L1777.3 293 L1770.2 288.2 L1764.3 281.1 L1758.3 269.2 L1752.4 259.7 L1746.4 247.8 L1740.5 237.1 L1737.5 232.3Z" stroke="none" stroke-width="0" fill="#b9e2a0"/>
<text x="1782.4" y="221.2" font-size="22.5" text-anchor="middle" stroke="#000" stroke-width="0.3" textLength="30.3" lengthAdjust="spacing">D2</text>
<text x="1838.9" y="213.7" font-size="22.5" text-anchor="middle" stroke="#000" stroke-width="0.3" textLength="30.3" lengthAdjust="spacing">D4</text>
<text x="1775.8" y="273.8" font-size="22.5" text-anchor="middle" stroke="#000" stroke-width="0.3" textLength="30.3" lengthAdjust="spacing">D1</text>
<text x="1840.1" y="275.3" font-size="22.5" text-anchor="middle" stroke="#000" stroke-width="0.3" textLength="30.3" lengthAdjust="spacing">D3</text>
<path d="M1502.3 309.1 L1503.2 307.3 L1504.2 307 L1505.1 307.5 L1506 306.6 L1507 306.2 L1507.9 306.8 L1508.8 307.4 L1509.8 309.7 L1510.7 310.7 L1511.6 310.2 L1512.6 310.5 L1513.5 309.4 L1514.4 310.3 L1515.4 309 L1516.3 308 L1517.2 307.8 L1518.2 305.3 L1519.1 297.5 L1520 291.3 L1521 283.5 L1522.1 276.7 L1523.3 270.1 L1524.2 268.7 L1525.2 266.6 L1526.1 263.8 L1527 262.2 L1528.1 258 L1529.2 253.7 L1530.3 249.8 L1531.3 248.2 L1532.3 246.1 L1533.3 244 L1534.3 241.4 L1535.3 239.6 L1536.4 238 L1537.3 235.7 L1538.3 235.5 L1539.3 234.5 L1540.3 234.6 L1541.3 232.4 L1542.3 231.9 L1543.3 232.5 L1544.3 231.3 L1545.2 230.2 L1546.2 229.9 L1547.1 229.1 L1548 229.8 L1549 228.7 L1549.9 228.6 L1550.8 229 L1551.7 228.1 L1552.7 227.2 L1553.6 226.9 L1554.5 227.2 L1555.5 226.7 L1556.4 227.4 L1557.3 226.7 L1558.3 225.3 L1559.2 225.6 L1560.1 225.7 L1561.1 224.8 L1562 224.2 L1562.9 224 L1563.9 224.3 L1564.8 223.9 L1565.7 223.6 L1566.7 222.8 L1567.6 223 L1568.5 223 L1569.5 222.5 L1570.4 223.1 L1571.3 222.9 L1572.3 221.4 L1573.2 220.6 L1574.1 221 L1575.1 221.2 L1576 221.3 L1576.9 220.4 L1577.9 219.2 L1578.8 219.2 L1579.7 219.2 L1580.7 218.2 L1581.6 219 L1582.5 218.1 L1583.5 216.9 L1584.4 217.2 L1585.3 217.1 L1586.3 217 L1587.2 216.1 L1588.1 215 L1589.1 216.4 L1590 214.6 L1590.9 214.1 L1591.9 213.6 L1592.8 213.5 L1593.7 213 L1594.7 213.1 L1595.6 212.7 L1596.5 212.5 L1597.5 212.9 L1598.4 210.9 L1599.3 211.1 L1600.3 211.4 L1601.2 210.5 L1602.1 210.1 L1603.3 213.8 L1604.5 217.2 L1605.9 222 L1606.8 218.6 L1607.7 215.3 L1608.7 212.3 L1609.6 211.2 L1610.5 209 L1611.5 207.2 L1612.4 206 L1613.3 205 L1614.3 204.6 L1615.2 204.2 L1616.1 203.7 L1617.1 204.2 L1618 202.7 L1618.9 202.5 L1619.9 203 L1620.8 202.6 L1621.7 202 L1622.7 200 L1623.6 200.4 L1624.5 200.1 L1625.5 198.5 L1626.4 198.4 L1627.3 198.9 L1628.3 198.6 L1629.2 197.9 L1630.1 198.5 L1631.1 198.2 L1632 197.3 L1632.9 197.7 L1633.9 197.9 L1634.8 197.6 L1635.7 198.3 L1636.7 197.6 L1637.6 197.5 L1638.5 197.8 L1639.5 197.9 L1640.4 196.4 L1641.3 197 L1642.2 197.5 L1643.2 196.8 L1644.2 196.4 L1645.1 197.8 L1646.1 197.8 L1647 197.6 L1648 196.5 L1648.9 197.5 L1649.9 196.5 L1650.8 196.5 L1651.8 196.8 L1652.7 197.4 L1653.7 196 L1654.6 196.3 L1655.6 196.8 L1656.5 197.3 L1657.5 196.5 L1658.4 197 L1659.4 196.7 L1660.3 197.1 L1661.3 196.5 L1662.3 197.6 L1663.2 197.1 L1664.2 195.9 L1665.1 196 L1666 196.4 L1667 194.7 L1667.9 195.1 L1668.8 193.3 L1669.8 193 L1670.7 192.9 L1671.6 192.6 L1672.6 192.4 L1673.5 190.1 L1674.4 191 L1675.4 188.9 L1676.3 187.9 L1677.2 188 L1678.2 188.1 L1679.1 186.1 L1680 185.3 L1681 185.4 L1682 185.3 L1682.9 185.1 L1683.9 184.8 L1684.8 184.6 L1685.8 183.3 L1686.7 183.4 L1687.7 183.4 L1688.7 183.1 L1689.6 181.7 L1690.6 181.9 L1691.5 181.1 L1692.5 181 L1693.4 179.6 L1694.4 179.1 L1695.4 180.4 L1696.3 179.6 L1697.3 178.9 L1698.2 177.3 L1699.2 177.3 L1700.1 177.7 L1701 177.5 L1702 176.2 L1702.9 175.5 L1703.8 174.9 L1704.8 175.6 L1705.7 174.2 L1706.6 174.1 L1707.6 174.1 L1708.5 172.8 L1709.4 173.8 L1710.4 172.4 L1711.3 173.2 L1712.2 172.7 L1713.2 170.9 L1714.1 171.8 L1715 170.3 L1716 170.2 L1716.9 169.3 L1717.8 169.9 L1718.8 169.5 L1719.7 169.2 L1720.6 167.8 L1721.6 167.9 L1722.5 166.9 L1723.4 166.6 L1724.4 167.7 L1725.3 166.5 L1726.2 167 L1727.2 166.7 L1728.1 166.3 L1729 164.4 L1730 164.2 L1730.9 163.7 L1731.8 164.3 L1732.8 163.4 L1733.7 162.7 L1734.6 163.1 L1735.5 162.3 L1736.5 162.6 L1737.4 162.5 L1738.3 161.8 L1739.3 160.2 L1740.2 160.5 L1741.1 159.1 L1742.1 159.3 L1743 158.9 L1743.9 157.2 L1744.9 156.5 L1745.8 157.3 L1746.7 155.3 L1747.7 155.7 L1748.6 155 L1749.5 152.8 L1750.6 152.3 L1751.6 149.9 L1752.6 146.4 L1753.6 145.4 L1754.6 143.9 L1755.6 141.7 L1756.6 141.4 L1757.5 140.2 L1758.5 141.2 L1759.5 139.5 L1760.5 140.3 L1761.4 138.9 L1762.4 138.8 L1763.4 139.8 L1764.3 139.6 L1765.3 139 L1766.3 139.5 L1767.2 138.2 L1768.2 139.2 L1769.2 139 L1770.1 137 L1771.1 138.1 L1772 137.4 L1773 137.5 L1774 137.6 L1774.9 137.8 L1775.9 136.1 L1776.8 135.8 L1777.8 135.6 L1778.8 137 L1779.7 136.6 L1780.7 135.7 L1781.6 134.8 L1782.6 135.5 L1783.5 135 L1784.5 134.9 L1785.5 135.5 L1786.4 134.5 L1787.4 134.5 L1788.4 134.1 L1789.3 134 L1790.3 133.1 L1791.2 131.4 L1792.2 131.9 L1793.2 131.1 L1794.1 130.6 L1795.1 129.6 L1796 130.2 L1797 129.9 L1798 129.4 L1798.9 129 L1799.9 127.5 L1800.9 127 L1801.8 127.5 L1802.7 126.8 L1803.7 125.8 L1804.6 125.1 L1805.5 124.5 L1806.5 124.5 L1807.4 124.3 L1808.3 123.3 L1809.3 123 L1810.2 121.5 L1811.1 121.7 L1812.1 121.1 L1813 119.4 L1813.9 119.5 L1814.9 117.9 L1815.8 117.8 L1816.7 116.5 L1817.7 117.2 L1818.6 116 L1819.5 114.8 L1820.5 115.5 L1821.4 113.3 L1822.3 112.2 L1823.3 108.4 L1824.7 102.6 L1825.6 105.2 L1826.5 108.4 L1827.5 108.6 L1828.4 107.7 L1829.4 106.7 L1830.3 107.7 L1831.3 106.4 L1832.2 107.7 L1833.2 106.1 L1834.2 107.5 L1835.1 106.8 L1836.1 105.6 L1837 105.6 L1838 105.2 L1838.9 105.2 L1839.9 105.2 L1840.8 105.1 L1841.8 105.9 L1842.7 105.2 L1843.7 105.6 L1844.6 104.4 L1845.6 104.3 L1846.6 104.9 L1847.5 105.1 L1848.4 103.2 L1849.4 103.3 L1850.3 103.7 L1851.2 103.5 L1852.2 102.7 L1853.1 103.3 L1854 103.3 L1855 103.2 L1855.9 103.2 L1856.8 103.4 L1857.8 102.1 L1858.7 102.4 L1859.6 101.9 L1860.6 102.7 L1861.5 102 L1862.4 102.2 L1863.4 102 L1864.3 101.6 L1865.2 100.4 L1866.2 101 L1867.1 100.8 L1868 100.3 L1869 100.8 L1869.9 101.1 L1870.8 99.9 L1871.8 99.8 L1872.7 99.3 L1873.6 99.6 L1874.6 98.9 L1875.5 98.7 L1876.4 99.4 L1877.4 98.7 L1878.3 98.5 L1879.2 98.8 L1880.2 98.2 L1881.1 97.7 L1882 96.8 L1883 96.6 L1883.9 97.6 L1884.8 96.7 L1885.8 97.6 L1886.7 97.3 L1887.6 96.3 L1888.6 95.4 L1889.5 96.5 L1890.4 95.1 L1891.4 94.7 L1892.3 95.6 L1893.2 94.6 L1894.2 94.1 L1895.1 94.8 L1896 94 L1897 93.7 L1897.9 93.7 L1898.8 93 L1899.8 92.6 L1900.7 92.1 L1901.6 92.5 L1902.6 92.9 L1903.5 92.4 L1904.4 92.2 L1905.4 91.2 L1906.3 90.5 L1907.2 91.4 L1908.2 89.9 L1909.1 89.5 L1910 89.8 L1911 89.2 L1911.9 89.5 L1912.8 88.1 L1913.8 89 L1914.7 86.9 L1915.6 86.9 L1916.6 86.9 L1917 76.5 L1917.5 84.7" stroke="#c0a3d8" stroke-width="2.2" fill="none" stroke-linejoin="round"/>
<path d="M1502.3 305.2 L1503.2 305.5 L1504.2 307.4 L1505.1 307.6 L1506 306.4 L1507 306.8 L1507.9 306.7 L1508.8 307.2 L1509.8 306.4 L1510.7 306.1 L1511.6 306 L1512.6 307.7 L1513.5 308.1 L1514.4 309.1 L1515.4 309.4 L1516.3 309.9 L1517.2 310 L1518.2 310.7 L1519.1 310.9 L1520 311.2 L1521 311.7 L1522 307.8 L1523.1 303 L1524.2 299.4 L1525.4 291.1 L1526.6 281.9 L1527.5 279.1 L1528.4 275.5 L1529.4 258.5 L1530.3 241.3 L1531.7 170.3 L1532.8 163.5 L1533.9 155.6 L1535 147.5 L1535.9 147.4 L1536.8 147.8 L1537.8 145.8 L1538.7 145.4 L1539.6 144.9 L1540.6 144.2 L1541.5 144.1 L1542.4 143.7 L1543.4 144.2 L1544.3 142.7 L1545.2 142.4 L1546.2 143.5 L1547.1 142 L1548 141.8 L1549 141.9 L1549.9 141.4 L1550.9 141.2 L1551.9 140 L1552.9 140.4 L1553.8 139.5 L1554.8 140 L1555.8 138.7 L1556.8 138.3 L1557.7 138.8 L1558.7 138.3 L1559.7 137.3 L1560.6 137.5 L1561.6 137.7 L1562.6 138 L1563.5 137.7 L1564.5 136.8 L1565.4 137.6 L1566.4 136 L1567.4 137 L1568.3 135.6 L1569.3 136.6 L1570.2 135.2 L1571.2 135.5 L1572.1 135.7 L1573.1 135.5 L1574.1 135 L1575 135 L1576 135.3 L1576.9 135.3 L1577.9 134.6 L1578.8 133.7 L1579.8 134.1 L1580.7 135 L1581.7 133.5 L1582.7 133.5 L1583.6 133.1 L1584.6 134.3 L1585.5 133.1 L1586.5 134.2 L1587.4 133 L1588.4 133.6 L1589.3 133.5 L1590.3 132.2 L1591.2 133.5 L1592.2 132.5 L1593.1 131.8 L1594.1 132.8 L1595 132.7 L1596 131.3 L1596.9 132 L1597.9 131.4 L1598.8 132.5 L1599.8 131.7 L1600.7 134 L1601.7 134.9 L1602.6 137.9 L1603.7 138 L1604.8 141.5 L1605.9 141.9 L1606.8 140.7 L1607.7 137.7 L1608.7 134.2 L1609.8 133.2 L1610.8 130.8 L1611.9 127.6 L1612.9 128.4 L1613.9 129.2 L1614.8 127.6 L1615.8 129.3 L1616.8 129.7 L1617.8 129.3 L1618.7 129 L1619.7 128.9 L1620.7 130.3 L1621.6 130 L1622.6 130.8 L1623.6 130.2 L1624.5 129.2 L1625.5 128.9 L1626.4 128.3 L1627.3 128.2 L1628.3 127.6 L1629.2 127.6 L1630.1 127.7 L1631.1 127.8 L1632 126.6 L1632.9 126.9 L1633.9 127.2 L1634.8 126.4 L1635.7 125.5 L1636.7 126.8 L1637.6 125.8 L1638.5 126.1 L1639.5 125.7 L1640.4 126.3 L1641.3 124.6 L1642.2 125.8 L1643.2 125.2 L1644.1 125.6 L1645 126.4 L1646 125.5 L1646.9 126.3 L1647.8 126.5 L1648.8 126.6 L1649.7 126.4 L1650.6 126.6 L1651.6 125.6 L1652.5 125.9 L1653.4 125.1 L1654.4 125.2 L1655.3 125.1 L1656.2 126.6 L1657.2 126.3 L1658.1 126.7 L1659 126.1 L1660 126.1 L1660.9 125.8 L1661.8 126 L1662.8 126.9 L1663.7 126.7 L1664.6 126.5 L1665.6 127.3 L1666.5 127 L1667.4 126.1 L1668.4 126.4 L1669.3 125 L1670.2 125.7 L1671.2 125.8 L1672.1 125.4 L1673 125.1 L1674 124.9 L1674.9 124.1 L1675.8 124 L1676.8 124.1 L1677.7 123.2 L1678.6 123.8 L1679.6 122.3 L1680.5 121.6 L1681.5 121.5 L1682.4 121.5 L1683.4 120.7 L1684.3 120 L1685.3 120.5 L1686.3 119.2 L1687.2 118.4 L1688.2 118.5 L1689.1 118.1 L1690.1 116.2 L1691 116.5 L1692 115.6 L1692.9 114.3 L1693.9 114.3 L1694.9 114.3 L1695.8 112.4 L1696.8 113 L1697.7 113.1 L1698.7 111.3 L1699.6 111.8 L1700.6 111 L1701.6 109.6 L1702.6 109.5 L1703.5 110.4 L1704.5 109.1 L1705.5 108.8 L1706.5 108.3 L1707.4 108.4 L1708.4 107.3 L1709.4 107.8 L1710.4 107 L1711.3 106.7 L1712.2 105.4 L1713.2 106.8 L1714.1 105.3 L1715 106.2 L1716 105.3 L1716.9 105.4 L1717.8 105.1 L1718.8 104.4 L1719.7 104.9 L1720.6 105.2 L1721.6 105 L1722.5 104.9 L1723.4 103.2 L1724.4 103.4 L1725.3 102.6 L1726.2 103 L1727.2 104 L1728.1 102.7 L1729 102.2 L1730 102.2 L1730.9 102.4 L1731.8 102.5 L1732.8 102.1 L1733.7 101.3 L1734.6 102.1 L1735.5 101.4 L1736.5 101.3 L1737.4 100.2 L1738.3 100.3 L1739.3 99.9 L1740.2 99.9 L1741.1 100.8 L1742.1 100.8 L1743 100.3 L1743.9 100.6 L1744.9 100.2 L1745.8 99.7 L1746.7 99.1 L1747.7 99.7 L1748.6 99.2 L1749.5 100.4 L1750.5 99.8 L1751.4 98.6 L1752.3 100.1 L1753.3 99.5 L1754.2 100.1 L1755.1 99.9 L1756.1 98.3 L1757 98.1 L1757.9 98.6 L1758.9 99.5 L1759.8 99.1 L1760.7 99.2 L1761.7 98.2 L1762.6 98.1 L1763.5 98.5 L1764.5 98.2 L1765.4 98.9 L1766.4 98 L1767.4 97.1 L1768.3 97.4 L1769.3 98.5 L1770.2 97.7 L1771.2 97.2 L1772.1 97.9 L1773.1 96.6 L1774 97.3 L1775 96.8 L1775.9 97.2 L1776.9 96 L1777.8 96.3 L1778.8 96.6 L1779.7 97.3 L1780.7 96.7 L1781.7 97.3 L1782.6 96.2 L1783.6 95.5 L1784.5 96.8 L1785.5 96 L1786.4 95.9 L1787.4 95.9 L1788.3 95.2 L1789.3 94.6 L1790.2 94.8 L1791.2 95.1 L1792.2 94 L1793.1 95 L1794.1 94.1 L1795 94.1 L1796 93.7 L1796.9 93.4 L1797.9 94.4 L1798.8 93.5 L1799.8 93.7 L1800.7 93.1 L1801.7 92.3 L1802.7 92.8 L1803.6 93.8 L1804.6 92.8 L1805.5 92.1 L1806.5 91.6 L1807.4 91.8 L1808.3 91.2 L1809.3 92.5 L1810.2 90.5 L1811.1 90.7 L1812.1 90.7 L1813 89.9 L1813.9 89.7 L1814.9 90.9 L1815.8 89.4 L1816.7 89.2 L1817.7 90 L1818.6 88.8 L1819.5 88.8 L1820.5 89.4 L1821.4 88 L1822.3 88.2 L1823.3 86.3 L1824.2 85.6 L1825.1 79.1 L1826.1 78.8 L1827 79.2 L1827.9 79.9 L1828.8 78.7 L1829.8 80.6 L1830.7 80.9 L1831.6 80.2 L1832.6 79.7 L1833.5 80.2 L1834.4 80.2 L1835.4 80.8 L1836.3 80.6 L1837.2 81.5 L1838.2 81.8 L1839.1 81.5 L1840 82.5 L1841 82.6 L1841.9 81.5 L1842.8 82.8 L1843.8 81.9 L1844.7 82 L1845.6 82.9 L1846.6 82.4 L1847.5 82.2 L1848.4 82.1 L1849.4 83.5 L1850.3 83.5 L1851.2 83.2 L1852.2 83 L1853.1 83.4 L1854 84 L1855 83 L1855.9 82.3 L1856.8 83.5 L1857.8 83.2 L1858.7 83.5 L1859.6 83.4 L1860.6 82.7 L1861.5 83.8 L1862.4 83.2 L1863.4 83.5 L1864.3 83.5 L1865.2 82.8 L1866.2 84.4 L1867.1 83.1 L1868 84.1 L1869 83.5 L1869.9 83.3 L1870.8 83.6 L1871.8 84.1 L1872.7 83.3 L1873.6 84.8 L1874.6 83.8 L1875.5 84.3 L1876.4 84.1 L1877.4 83.5 L1878.3 83.7 L1879.2 84.1 L1880.2 84.7 L1881.1 84.9 L1882 84.6 L1883 85 L1883.9 85 L1884.8 83.8 L1885.8 85.4 L1886.7 84.2 L1887.6 85 L1888.6 85.1 L1889.5 85.3 L1890.4 85.8 L1891.4 85.1 L1892.3 85.7 L1893.2 85.3 L1894.2 85.6 L1895.1 84.5 L1896 84.5 L1897 85.5 L1897.9 85.2 L1898.8 84.7 L1899.8 85.9 L1900.7 86.4 L1901.6 86.2 L1902.6 86.4 L1903.5 85.6 L1904.4 86.2 L1905.4 86.3 L1906.3 85.6 L1907.2 86.7 L1908.2 85.7 L1909.1 86.1 L1910 86.7 L1911 85.9 L1911.9 86.9 L1912.8 86 L1913.8 86 L1914.7 86.9 L1915.6 86.6 L1916.6 86.2 L1917.5 86.7" stroke="#f59494" stroke-width="2.2" fill="none" stroke-linejoin="round"/>
<path d="M1502.3 304.3 L1503.2 304.1 L1504.2 304.9 L1505.1 305 L1506 305.4 L1507 306.9 L1507.9 306.8 L1508.8 305 L1509.8 305.9 L1510.7 305.7 L1511.6 304 L1512.6 305.2 L1513.5 304.8 L1514.4 305.7 L1515.4 305.6 L1516.3 306.8 L1517.2 305.4 L1518.2 304.5 L1519.1 304.7 L1520 303.8 L1521 303.4 L1522.1 284.6 L1523.3 263.4 L1524.2 228.5 L1525.2 193.8 L1526.1 172 L1527 148.2 L1528 146.7 L1528.9 144.1 L1529.8 141.7 L1530.8 139.8 L1531.7 137.3 L1532.7 137.6 L1533.7 136.3 L1534.7 136.3 L1535.7 134.8 L1536.6 134.3 L1537.6 135.1 L1538.6 134.4 L1539.6 133.7 L1540.6 131.8 L1541.5 132.4 L1542.4 131.6 L1543.4 131.8 L1544.3 131 L1545.2 130.8 L1546.2 130.5 L1547.1 129.6 L1548 129.2 L1549 128.1 L1549.9 128.2 L1550.9 127.3 L1551.9 127 L1552.9 126.4 L1553.8 126.6 L1554.8 127.1 L1555.8 125.4 L1556.8 124.8 L1557.7 124.5 L1558.7 124.7 L1559.7 124 L1560.6 124.9 L1561.6 123.6 L1562.6 124 L1563.6 124.4 L1564.5 124.7 L1565.5 123.1 L1566.5 122.8 L1567.4 124.4 L1568.4 122.9 L1569.4 123.5 L1570.3 123.9 L1571.3 123.5 L1572.3 122.5 L1573.2 122.4 L1574.1 124.1 L1575.1 123.1 L1576 124.2 L1576.9 123 L1577.9 123.8 L1578.8 122.9 L1579.7 122.8 L1580.7 123.7 L1581.6 122.9 L1582.5 124.3 L1583.5 124.8 L1584.4 123.9 L1585.3 125 L1586.3 124.8 L1587.2 124.3 L1588.2 123.8 L1589.2 124.6 L1590.1 124.7 L1591.1 123 L1592.1 124 L1593 122.6 L1594 122.7 L1595 123.5 L1595.9 123.3 L1596.9 123.1 L1597.9 122.7 L1598.8 122.7 L1599.8 122.7 L1600.7 124.2 L1601.7 125.3 L1602.6 127.7 L1603.7 129.2 L1604.8 130 L1605.9 132.2 L1606.8 130 L1607.7 126.6 L1608.7 125.3 L1609.6 124.4 L1610.5 124.5 L1611.5 122.8 L1612.4 121.6 L1613.3 121.8 L1614.3 119.8 L1615.2 119.8 L1616.1 121 L1617.1 120 L1618 120.3 L1618.9 120 L1619.9 120.7 L1620.8 120.1 L1621.7 120.1 L1622.7 121.5 L1623.6 121.5 L1624.5 120.2 L1625.5 119.4 L1626.4 120.6 L1627.3 120 L1628.3 119.6 L1629.2 119.9 L1630.1 119.6 L1631.1 119.5 L1632 119.2 L1632.9 118.6 L1633.9 119 L1634.8 118.7 L1635.7 117.7 L1636.7 119 L1637.6 117.7 L1638.5 117.2 L1639.5 117.9 L1640.4 117.8 L1641.3 116.6 L1642.2 117.4 L1643.2 117.4 L1644.1 116.8 L1645 116.2 L1646 117.2 L1646.9 116.7 L1647.8 116.6 L1648.8 115.5 L1649.7 116.2 L1650.6 115.3 L1651.6 116.5 L1652.5 116 L1653.4 115.3 L1654.4 114.8 L1655.3 115.5 L1656.2 115.8 L1657.2 115.9 L1658.1 115 L1659 115.5 L1660 114.3 L1660.9 114.1 L1661.8 115.2 L1662.8 114.9 L1663.7 113.8 L1664.6 114 L1665.6 113.6 L1666.5 114.4 L1667.4 114.7 L1668.4 114.3 L1669.3 113.2 L1670.2 114.1 L1671.2 113.7 L1672.1 113.3 L1673.1 113.1 L1674 112.9 L1675 111.7 L1675.9 112.9 L1676.9 112.9 L1677.8 110.9 L1678.8 110.8 L1679.7 110.4 L1680.7 111.2 L1681.6 110 L1682.6 109.8 L1683.5 110.9 L1684.5 109.7 L1685.4 109.3 L1686.4 109.4 L1687.3 109.4 L1688.3 109.6 L1689.2 109.3 L1690.1 109.2 L1691.1 109.3 L1692 108.1 L1693 108.4 L1693.9 107.2 L1694.9 108.4 L1695.8 106.6 L1696.8 106.7 L1697.7 106 L1698.7 105.9 L1699.6 105.6 L1700.6 105.8 L1701.6 106.5 L1702.6 104.8 L1703.5 105.5 L1704.5 104.8 L1705.5 103.8 L1706.5 103.6 L1707.4 103.5 L1708.4 102.1 L1709.4 102.3 L1710.4 102.4 L1711.3 102.5 L1712.2 101.3 L1713.2 101.9 L1714.1 101.2 L1715 102 L1716 102.1 L1716.9 101.4 L1717.8 100.8 L1718.8 101.9 L1719.7 100.6 L1720.6 100.3 L1721.6 100.4 L1722.5 100.3 L1723.4 101.7 L1724.4 100.5 L1725.3 99.9 L1726.2 101.4 L1727.2 100.9 L1728.1 100.8 L1729 100.2 L1730 100.3 L1730.9 100.1 L1731.8 99.4 L1732.8 100.8 L1733.7 100.6 L1734.6 100.4 L1735.5 100.3 L1736.5 100.3 L1737.4 98.4 L1738.3 98.6 L1739.3 99.9 L1740.2 99 L1741.1 99.2 L1742.1 99.1 L1743 98.9 L1743.9 98.2 L1744.9 98.2 L1745.8 97 L1746.7 95.7 L1747.7 93.8 L1748.6 92.5 L1749.5 90.1 L1750.5 89.7 L1751.4 90.3 L1752.3 90.8 L1753.3 90.6 L1754.2 90.2 L1755.1 89.7 L1756.1 89.3 L1757 90 L1757.9 89.1 L1758.9 89.4 L1759.8 89.7 L1760.7 89.8 L1761.7 89.5 L1762.6 89.1 L1763.5 89.5 L1764.5 89 L1765.4 89.3 L1766.3 89.7 L1767.3 89.1 L1768.2 88.7 L1769.1 89.9 L1770.1 89.1 L1771 89.1 L1771.9 88.2 L1772.9 88 L1773.8 89 L1774.7 88 L1775.7 88.1 L1776.6 89.1 L1777.5 88.6 L1778.5 89.2 L1779.4 87.9 L1780.3 88.1 L1781.3 87.6 L1782.2 87.8 L1783.1 87.9 L1784.1 87.8 L1785 88 L1785.9 88.9 L1786.9 87.9 L1787.8 88.9 L1788.7 88.6 L1789.7 87.4 L1790.6 88.7 L1791.5 88.6 L1792.5 88.5 L1793.4 87 L1794.3 88.3 L1795.3 88.5 L1796.2 86.9 L1797.1 88.2 L1798.1 86.8 L1799 87.1 L1799.9 86.8 L1800.9 86.5 L1801.8 87.1 L1802.7 86.7 L1803.7 88.1 L1804.6 86.6 L1805.5 87.1 L1806.5 86.6 L1807.4 87.7 L1808.3 86.5 L1809.3 86.1 L1810.2 87.7 L1811.1 87.1 L1812.1 86.6 L1813 86.1 L1813.9 87.2 L1814.9 87.2 L1815.8 87 L1816.7 86.3 L1817.7 86 L1818.6 86.6 L1819.5 86.1 L1820.5 85.5 L1821.4 85.1 L1822.3 84.4 L1823.3 84.5 L1824.2 83.1 L1825.1 77.8 L1826.1 78.9 L1827 78.3 L1827.9 79.4 L1828.8 78.5 L1829.8 78.4 L1830.7 78.5 L1831.6 78.9 L1832.6 79 L1833.5 78.7 L1834.4 78.3 L1835.4 79.7 L1836.3 79.8 L1837.2 78.6 L1838.2 78.4 L1839.1 79.1 L1840 79.3 L1841 78.8 L1841.9 79.9 L1842.8 79.7 L1843.8 79.9 L1844.7 79.2 L1845.6 79.7 L1846.6 79.9 L1847.5 79.1 L1848.4 78.6 L1849.4 79.9 L1850.3 79.2 L1851.2 79.8 L1852.2 79 L1853.1 79.5 L1854 80.1 L1855 80.3 L1855.9 80.7 L1856.8 79.8 L1857.8 80.1 L1858.7 80.5 L1859.6 80.2 L1860.6 80.3 L1861.5 79.5 L1862.4 80.7 L1863.4 79.1 L1864.3 80.1 L1865.2 80 L1866.2 80.2 L1867.1 79.6 L1868 79.7 L1869 80.2 L1869.9 80.4 L1870.8 80 L1871.8 79.7 L1872.7 80.6 L1873.6 80 L1874.6 79.7 L1875.5 80.6 L1876.4 81.1 L1877.4 81.2 L1878.3 80.3 L1879.2 80.4 L1880.2 79.9 L1881.1 80.2 L1882 81.4 L1883 81.5 L1883.9 81.4 L1884.8 81.6 L1885.8 80.7 L1886.7 80.4 L1887.6 80.4 L1888.6 81.7 L1889.5 80.6 L1890.4 81.7 L1891.4 81.5 L1892.3 81 L1893.2 82.2 L1894.2 82.3 L1895.1 80.9 L1896 82 L1897 81.9 L1897.9 81.5 L1898.8 81.4 L1899.8 82.7 L1900.7 82.1 L1901.6 82 L1902.6 81.9 L1903.5 82.5 L1904.4 81.9 L1905.4 81.2 L1906.3 82.3 L1907.2 82.1 L1908.2 82.9 L1909.1 82.7 L1910 82 L1911 83.1 L1911.9 81.7 L1912.8 81.7 L1913.8 83.2 L1914.7 81.7 L1915.6 82.8 L1916.6 82.1 L1917.5 82.2" stroke="#9ecae1" stroke-width="2.2" fill="none" stroke-linejoin="round"/>
<path d="M1502.3 311.3 L1503.2 311.1 L1504.2 310.1 L1505.1 310 L1506 309.7 L1507 308.6 L1507.9 308.1 L1508.8 308.8 L1509.8 309.4 L1510.7 310.9 L1511.6 310.7 L1512.6 310.4 L1513.5 309.8 L1514.4 309.2 L1515.4 291.9 L1516.3 290.2 L1517.2 290 L1518.2 289.8 L1519.1 289.4 L1520 290.3 L1521.4 240.7 L1522.4 169.7 L1523.3 146.1 L1524.2 122.4 L1525.2 118.8 L1526.1 116.8 L1527 112.3 L1528 108.6 L1529.1 106.8 L1530.3 105.3 L1531.2 104.1 L1532.2 104.2 L1533.1 101.9 L1534 101.4 L1535 101.4 L1535.9 101.7 L1536.8 100.5 L1537.8 101.1 L1538.7 100.4 L1539.6 100.4 L1540.6 101 L1541.5 101.1 L1542.4 100.6 L1543.4 100.9 L1544.3 101.3 L1545.2 101 L1546.2 99.9 L1547.1 101.3 L1548 101.2 L1549 100 L1549.9 100.7 L1550.8 100.2 L1551.7 100.2 L1552.7 100.5 L1553.6 99.2 L1554.5 100.7 L1555.5 100.2 L1556.4 100.6 L1557.3 99.8 L1558.3 100.4 L1559.2 100.2 L1560.1 99.5 L1561.1 100.2 L1562 99.8 L1562.9 99.1 L1563.9 100.6 L1564.8 100.6 L1565.7 100.3 L1566.7 99.2 L1567.6 99.5 L1568.5 100.2 L1569.5 100 L1570.4 100.2 L1571.3 99.7 L1572.3 100.4 L1573.2 99.2 L1574.1 98.7 L1575.1 98.6 L1576 98.9 L1576.9 98.5 L1577.9 100.2 L1578.8 99.6 L1579.7 98.3 L1580.7 98.6 L1581.6 99.3 L1582.5 98.2 L1583.5 98.8 L1584.4 98.4 L1585.3 99.3 L1586.3 99.4 L1587.2 98.9 L1588.1 99.5 L1589.1 98.9 L1590 97.8 L1590.9 98.9 L1591.9 99.5 L1592.8 99.4 L1593.7 99.1 L1594.7 97.9 L1595.6 98.7 L1596.5 98.9 L1597.5 99.4 L1598.4 97.8 L1599.3 99 L1600.3 99.5 L1601.2 99.9 L1602.1 100.1 L1603.1 100 L1604 99.1 L1604.9 100.2 L1606 102.4 L1607.1 103.5 L1608.2 105.9 L1609.4 102.7 L1610.5 102.6 L1611.5 100.7 L1612.4 99.2 L1613.3 98.7 L1614.3 96.5 L1615.2 97.5 L1616.1 97.8 L1617.1 97.5 L1618 98.1 L1618.9 97.4 L1619.9 97.6 L1620.8 96.4 L1621.7 96.5 L1622.7 97 L1623.6 97.9 L1624.5 97.4 L1625.5 97.4 L1626.4 97.4 L1627.3 97.3 L1628.3 96.1 L1629.2 97.4 L1630.1 97.5 L1631.1 95.8 L1632 96.4 L1632.9 95.6 L1633.9 96.7 L1634.8 95.7 L1635.7 96.1 L1636.7 95.8 L1637.6 95.8 L1638.5 96.2 L1639.5 97 L1640.4 96.7 L1641.3 95.4 L1642.2 95.3 L1643.2 95.2 L1644.1 96.2 L1645 95.5 L1646 95.1 L1646.9 95.3 L1647.8 94.9 L1648.8 95.3 L1649.7 95 L1650.6 94.9 L1651.6 95.5 L1652.5 94.2 L1653.4 94.1 L1654.4 95.6 L1655.3 93.9 L1656.2 93.8 L1657.2 94.2 L1658.1 95.3 L1659 93.6 L1660 95 L1660.9 93.3 L1661.8 93.8 L1662.8 94.8 L1663.7 94.5 L1664.6 93.5 L1665.6 93.6 L1666.5 93.2 L1667.5 92.8 L1668.4 94.1 L1669.4 94.5 L1670.3 92.7 L1671.3 94.4 L1672.2 92.7 L1673.1 94.1 L1674.1 92.8 L1675 92.8 L1676 92.6 L1676.9 93.1 L1677.9 92.5 L1678.8 93.7 L1679.8 92.8 L1680.7 93.4 L1681.7 92.3 L1682.6 92.5 L1683.5 93 L1684.5 92.9 L1685.4 93.8 L1686.4 93.7 L1687.3 92.6 L1688.3 92.8 L1689.2 92 L1690.2 92.5 L1691.1 93.3 L1692.1 92.9 L1693 92.1 L1694 92.5 L1694.9 93.4 L1695.8 91.8 L1696.8 91.8 L1697.7 93.2 L1698.7 92.3 L1699.6 92.5 L1700.6 91.8 L1701.5 92.7 L1702.5 92.9 L1703.4 92.4 L1704.4 91.5 L1705.3 93.2 L1706.3 93.2 L1707.2 92.3 L1708.2 91.8 L1709.1 92.5 L1710.1 92.7 L1711 91.9 L1712 92.1 L1712.9 93.5 L1713.9 92 L1714.8 93.3 L1715.8 93.1 L1716.7 92.1 L1717.7 92.9 L1718.6 92.3 L1719.6 93.5 L1720.5 92.2 L1721.5 93.5 L1722.4 93.6 L1723.4 93 L1724.3 93.3 L1725.3 92.9 L1726.2 92.1 L1727.2 92.3 L1728.1 93.4 L1729 92.6 L1730 92 L1730.9 92 L1731.8 91.4 L1732.8 91.6 L1733.7 92.2 L1734.6 91.7 L1735.5 90.4 L1736.5 91.2 L1737.4 90.2 L1738.3 89.6 L1739.3 90.1 L1740.2 89.9 L1741.1 89.7 L1742.1 89.9 L1743 88.5 L1743.9 89 L1744.9 87.9 L1745.8 88.7 L1746.7 87.4 L1747.7 87.2 L1748.6 87.2 L1749.5 87.2 L1750.5 87.7 L1751.4 86.4 L1752.4 87.1 L1753.3 86.4 L1754.3 87.3 L1755.2 87.3 L1756.2 87 L1757.1 85.7 L1758 86.8 L1759 85.3 L1759.9 86.2 L1760.9 85.7 L1761.8 86 L1762.8 85.4 L1763.7 86.3 L1764.7 85.6 L1765.6 84.5 L1766.5 85.8 L1767.5 84.8 L1768.4 85.3 L1769.4 85.2 L1770.3 85.6 L1771.3 85.5 L1772.2 83.7 L1773.2 83.8 L1774.1 83.7 L1775 83.6 L1776 83.2 L1776.9 84.6 L1777.9 83.7 L1778.8 83.8 L1779.8 83.5 L1780.7 82.7 L1781.7 82.9 L1782.6 82.4 L1783.5 83.9 L1784.5 82.8 L1785.4 82.7 L1786.4 82.4 L1787.3 82.6 L1788.3 82 L1789.2 83.1 L1790.2 82.1 L1791.1 83.1 L1792.1 82.9 L1793.1 82.4 L1794 82.8 L1795 83.7 L1795.9 83.9 L1796.9 83.8 L1797.9 83.3 L1798.8 82.7 L1799.8 83 L1800.7 84 L1801.7 84.1 L1802.6 83.4 L1803.6 84.5 L1804.6 84.4 L1805.5 85.2 L1806.5 85 L1807.4 84.5 L1808.3 84.3 L1809.3 84.6 L1810.2 85.2 L1811.1 84.2 L1812.1 85 L1813 86 L1813.9 86.2 L1814.9 84.7 L1815.8 84.8 L1816.7 85 L1817.7 85.7 L1818.6 86.4 L1819.5 86.9 L1820.5 86.8 L1821.4 86.9 L1822.3 84.5 L1823.3 83.5 L1824.2 82.6 L1825.1 77.2 L1826.1 77.1 L1827 77 L1827.9 75.8 L1828.8 77.3 L1829.8 76.1 L1830.7 76.4 L1831.6 76.7 L1832.6 75.9 L1833.5 77.2 L1834.4 76.8 L1835.4 77.5 L1836.3 77.6 L1837.2 77.8 L1838.2 77.3 L1839.1 77.6 L1840 77.8 L1841 76.1 L1841.9 77.4 L1842.8 76.3 L1843.8 76.7 L1844.7 76.6 L1845.6 76.8 L1846.6 76.3 L1847.5 76.4 L1848.4 76.8 L1849.4 77.1 L1850.3 76.9 L1851.2 76.8 L1852.2 77.2 L1853.1 77.2 L1854 77.8 L1855 76.5 L1855.9 77.1 L1856.8 77.9 L1857.8 77.6 L1858.7 76.2 L1859.6 77.4 L1860.6 77.1 L1861.5 76.5 L1862.4 76.1 L1863.4 77 L1864.3 76.9 L1865.2 76.8 L1866.2 77.5 L1867.1 75.8 L1868 77.4 L1869 75.6 L1869.9 77 L1870.8 77 L1871.8 75.6 L1872.7 75.6 L1873.6 76.7 L1874.6 76 L1875.5 76.1 L1876.4 75.8 L1877.4 76.8 L1878.3 75.7 L1879.2 75.5 L1880.2 76.1 L1881.1 75.8 L1882 75.8 L1883 77 L1883.9 76.2 L1884.8 76.3 L1885.8 76.8 L1886.7 77.8 L1887.6 76.9 L1888.6 76.4 L1889.5 77.6 L1890.4 77.1 L1891.4 76.7 L1892.3 77.3 L1893.2 78.5 L1894.2 77.4 L1895.1 78.2 L1896 77.1 L1897 77.6 L1897.9 78.3 L1898.8 77.3 L1899.8 77.9 L1900.7 78.5 L1901.6 77.7 L1902.6 77.6 L1903.5 77.7 L1904.4 77.8 L1905.4 78.3 L1906.3 78.3 L1907.2 78.6 L1908.2 78.8 L1909.1 78 L1910 79.3 L1911 79.9 L1911.9 78.8 L1912.8 79.2 L1913.8 79.2 L1914.7 79.2 L1915.6 79.9 L1916.6 80.1 L1917.5 80.4" stroke="#a6dc84" stroke-width="2.2" fill="none" stroke-linejoin="round"/>
<line x1="20" y1="641.8" x2="430" y2="641.8" stroke="#9a9a9a" stroke-width="1" stroke-dasharray="6 2 1.5 2"/>
<line x1="225" y1="436.8" x2="225" y2="846.8" stroke="#9a9a9a" stroke-width="1" stroke-dasharray="6 2 1.5 2"/>
<circle cx="225" cy="641.8" r="109.6" fill="#fff" stroke="#505050" stroke-width="2"/>
<path d="M201.4 506.6 L199.2 508.1 L196.5 506.8 L194.3 508.2 L191.3 506.2 L189.3 508 L186.8 508.2 L184.4 508.7 L181.6 508.2 L180.3 511.9 L176.9 509.6 L174.6 510.6 L173 513 L170.1 512.5 L168.5 514.9 L165.6 514.5 L163.4 515.4 L161.9 518 L159.1 517.8 L156.8 518.8 L155.1 521.1 L152.4 521.6 L150.4 523.2 L147.3 523.3 L146 526 L142.9 526.2 L142 529.4 L139.1 529.9 L137.1 531.6 L134.2 532.2 L132 533.8 L130 535.4 L127.6 536.8 L124.2 537.1 L124.4 541.2 L122 542.4 L117.5 541.6 L116.8 544.4 L113.9 545.2 L112.6 547.5 L111.3 549.7 L107.7 550.1 L105.2 551.5 L102.8 553 L101.5 555.3 L98.3 556.4 L95.6 557.8 L95.6 561 L93 562.5 L90.5 564.1 L85.5 564.5 L83.8 566.7 L82.3 569.1 L80.3 571.2 L76.6 572.6 L73.3 574.3 L73.5 577.5 L71.2 579.7 L65.4 581.3 L62.2 584.2 L94.9 595.7 L97.6 593.5 L102 592.1 L103.4 590.2 L103.8 587.8 L107.9 587.2 L109.3 585.4 L110.4 583.4 L112.2 581.8 L113.6 580 L117.7 579.8 L119.2 578.2 L120.4 576.4 L123.3 575.8 L123.9 573.6 L125.6 572.2 L128.6 571.8 L130.2 570.3 L131.5 568.7 L134.3 568.4 L135 566.2 L136.1 564.5 L138.9 564.3 L140.8 563.3 L143.6 563.2 L144.3 561.1 L146.2 560 L148.4 559.2 L149 556.7 L150.9 555.7 L152.3 554 L154.1 552.9 L155.1 550.7 L157.7 550.6 L159.6 549.7 L161.2 548.2 L162.2 546 L165.2 546.8 L166.9 545.6 L168.6 544.4 L169.2 541.1 L172.5 543.1 L173.5 540.8 L176.1 541.6 L177.2 539.3 L180 540.8 L181.7 539.8 L183.7 539.6 L185.3 538.3 L187.2 537.9 L189.4 538.5 L190.3 535 L193.2 537.8 L194.9 536.5 L196.9 536.7 L199.2 537.8 L201 537.1 L203 537.4 L204.4 535.2 L206.6 536.6Z" stroke="none" stroke-width="0" fill="#c3dbea" fill-opacity="0.85"/>
<path d="M62.1 584.1 L58.7 586.5 L56.3 589.3 L50.9 591.2 L50.1 594.6 L47.1 597.4 L43.1 599.8 L43.5 603.2 L41.1 606.1 L38.4 608.9 L36.6 612 L34.4 615 L31.7 618.1 L31.6 621.5 L32.1 624.9 L30.7 628.2 L27.8 631.5 L29.6 635 L26 638.3 L26.5 641.8 L28.3 645.2 L25.8 648.8 L28.1 652.1 L27.8 655.6 L27.9 659 L26.4 662.7 L28.1 666 L26.3 669.7 L28.7 672.9 L27.5 676.6 L29.7 679.8 L30 683.3 L31.6 686.5 L30.6 690.3 L30.2 694 L31.5 697.3 L32.3 700.7 L35.9 703.3 L36.9 706.6 L36.7 710.3 L40 712.8 L39.2 716.9 L41 719.9 L42.2 723.2 L44.3 726.1 L46.9 728.7 L49.4 731.3 L51 734.3 L51.2 738.2 L52 741.7 L54.5 744.2 L58.5 745.8 L58.8 749.8 L61.3 752.2 L64.6 754.1 L66.3 757.1 L68.2 760 L70.2 762.8 L72.7 765.1 L75.6 767.2 L78.6 769 L81.3 771.2 L83 774.2 L87.3 774.7 L90 776.8 L92 779.5 L95.5 780.7 L98.3 782.5 L101.8 783.5 L103.7 786.4 L106.1 788.6 L109.1 790.1 L113.6 789.7 L115 793.2 L118.7 793.6 L121.9 794.6 L124.6 796.4 L128.7 795.9 L131.7 797.1 L134.3 799 L136.5 801.4 L141.2 799.3 L143.2 802.3 L146.2 803.4 L149.8 803 L153.4 803.1 L156.1 805.1 L159.3 805.9 L162.5 806.6 L166.4 805.5 L169 807.8 L172.7 807 L175.6 808.2 L178.7 809.2 L181.8 809.9 L185.5 808.8 L188.9 809 L191.8 810.9 L195.2 810.7 L202.8 767.8 L199.8 770.2 L197.6 768.6 L195 768.5 L192.5 768.5 L189.9 768.9 L187.5 768.1 L185.2 767.5 L183.3 765.4 L181.1 764.4 L178.5 764.6 L175.2 766.1 L173.3 764.3 L171.3 762.7 L169.1 761.7 L166.8 761.1 L163.6 762.3 L160.8 762.6 L159.1 760.6 L157.1 759.4 L154.6 759 L152.2 758.3 L149 758.9 L146.9 757.6 L145.7 755.1 L142.3 755.6 L141.1 753.1 L139.2 751.6 L136.4 751.2 L135.4 748.6 L133.8 746.8 L130.3 747 L129.2 744.5 L127.7 742.6 L123.7 743.1 L122 741.3 L119.6 740 L119.9 736.5 L117 735.7 L113.7 735.2 L111.7 733.6 L111.2 730.7 L108.2 729.8 L106.2 728.1 L103.5 726.9 L103.2 724 L99.9 723 L101 719.3 L97.6 718.4 L94.8 717 L95.8 713.4 L94.2 711.4 L92.4 709.4 L88.8 708.2 L87.6 705.9 L88.8 702.5 L86.7 700.5 L85.5 698.2 L81.9 696.7 L82.4 693.7 L79.6 691.9 L79.2 689.2 L78 686.8 L79.2 683.6 L77.3 681.4 L76.8 678.8 L75.2 676.4 L75.5 673.6 L74.9 671 L74.8 668.3 L73.3 665.8 L73.2 663.1 L73 660.5 L73.2 657.8 L70.8 655.3 L71.2 652.6 L72.8 649.8 L72.5 647.1 L71.6 644.5 L70 641.8 L72.1 639.1 L71 636.4 L72.1 633.8 L73 631.2 L76.7 628.8 L76.8 626.2 L75.3 623.4 L78.7 621.2 L79.6 618.8 L81.9 616.6 L84.1 614.4 L84.7 612 L86.1 609.7 L86.5 607.3 L89.3 605.2 L94.1 603.8 L94.9 601.3 L97.3 599.3 L99.4 597.3Z" stroke="none" stroke-width="0" fill="#d6f1c4" fill-opacity="0.85"/>
<path d="M195.3 810.1 L198.5 809.2 L201.4 809.9 L204.2 811.3 L207.3 809.8 L210.1 812.6 L213.3 809.7 L216.1 810.8 L219.1 809.5 L222.1 809.5 L225 809.4 L227.9 809.9 L230.9 811.1 L233.9 811.3 L236.8 810.1 L239.5 807.7 L242.8 810.7 L245.4 808 L248.2 806.6 L251.2 807.4 L253.8 805.1 L256.9 805.9 L259.6 804.5 L262.5 804.1 L264.8 801.3 L268 802.3 L270.3 799.7 L273.7 801.2 L275.5 797.2 L278.1 796 L280.4 794.1 L283.4 793.9 L285.5 791.5 L289.3 793.2 L290.8 789.5 L293.6 789 L295.8 786.9 L298.9 786.8 L300.1 783.1 L303.5 783.5 L305.4 781 L306.7 777.8 L308.6 775.7 L311 774.2 L313.7 773.2 L316.5 772.5 L317.8 769.5 L319.7 767.5 L322 765.9 L323.8 763.8 L326.1 762.3 L327.6 759.9 L328.4 756.6 L330.9 755.4 L331.2 751.8 L333.5 750.3 L334.9 747.9 L335.8 745.1 L339.1 744.5 L339.5 741.3 L341.1 739.2 L342.2 736.7 L345.2 735.7 L344.6 732 L345.6 729.4 L348 728 L348.8 725.3 L349.3 722.5 L349.6 719.6 L350.9 717.5 L353.6 716 L352.4 712.4 L353.6 710.2 L353.1 707.1 L354.1 704.8 L354.8 702.3 L355.7 700 L356 697.4 L358.3 695.6 L357.3 692.6 L357.7 690.1 L358 687.6 L357.6 684.9 L359 682.8 L360.4 680.6 L360.1 678 L360.9 675.7 L361.2 673.2 L358.4 670.1 L361 668.2 L359.3 665.5 L360.9 663.3 L360.7 660.9 L361.1 658.5 L361 656.1 L360.1 653.6 L361.4 651.3 L360.6 648.9 L362.3 646.6 L360.3 644.2 L361.8 641.8 L359.1 639.5 L358.6 637.1 L360.8 634.7 L361.6 632.2 L358 630.2 L359.3 627.7 L358.7 625.4 L357.7 623.1 L359.8 620.3 L359.2 617.9 L358.7 615.5 L354.9 613.8 L356.8 610.9 L354.8 608.9 L356.4 606 L354.4 604 L352.2 602.2 L351.1 600 L352.3 597 L349.3 595.6 L319.5 606.6 L318 609.1 L319 610.6 L318.5 612.7 L319 614.3 L318.8 616.2 L318.4 618.1 L319.8 619.6 L317.6 621.9 L318.7 623.4 L317.7 625.3 L319.6 626.7 L316.1 628.9 L317.5 630.4 L316.5 632.2 L316.8 633.8 L318.9 635.2 L318.6 636.9 L317.5 638.6 L317 640.2 L317.2 641.8 L319 643.4 L319.3 645.1 L320 646.8 L317.9 648.3 L318.3 650 L318.9 651.7 L320.4 653.5 L319.4 655.1 L318.4 656.6 L319.4 658.4 L319.5 660.2 L319.2 661.8 L318.8 663.5 L321.7 665.9 L320 667.2 L321.9 669.6 L319.5 670.7 L320.3 672.8 L322.3 675.3 L320.9 676.7 L321.7 678.9 L321.7 680.9 L320 682.1 L322.4 685.2 L322.5 687.3 L319.4 687.9 L319.8 690.1 L320 692.3 L320.9 695 L320.1 696.7 L320.1 698.9 L319.3 700.7 L319.8 703.4 L319.2 705.4 L316.7 706 L318.4 709.6 L315.7 710.1 L314.2 711.5 L314 713.8 L312.8 715.5 L311.4 716.9 L312.1 720.2 L310.1 721.1 L309.9 723.8 L307.6 724.4 L307.2 726.9 L306 728.6 L304.2 729.7 L303 731.5 L302.8 734.5 L301.3 736 L299 736.5 L297 737.4 L296.7 740.5 L294.8 741.5 L292.9 742.5 L290.9 743.3 L290.1 746 L288 746.7 L285.5 746.6 L284.4 748.9 L283.3 751.4 L281.6 752.8 L279.4 753.2 L277 753.2 L276 756.3 L273.7 756.6 L272 758.2 L269.6 758.1 L267.8 759.3 L266.4 762 L264.6 763.7 L262.1 763.2 L259.8 763.2 L257.5 763.1 L255.6 764.5 L253.4 764.7 L251.7 767.3 L249.1 765.9 L247.3 768.5 L245.1 769 L242.7 767.4 L240.7 769.5 L238.5 769.8 L236.2 770.4 L234 769.8 L231.7 769.8 L229.4 768.8 L227.3 771.1 L225 770.5 L222.7 772.5 L220.4 772.2 L218.2 771.9 L216 771.2 L213.9 768.7 L211.5 769.9 L209.3 770 L206.9 770.7 L205.1 767.5 L202.5 769.4Z" stroke="none" stroke-width="0" fill="#fad0d0" fill-opacity="0.85"/>
<path d="M348.8 595.7 L350.1 592.8 L347 591.5 L346.1 589.4 L345.9 587 L346 584.3 L343.6 582.9 L344.8 579.7 L344.2 577.3 L342.9 575.4 L340.9 573.8 L339.4 572 L339.4 569.2 L337.8 567.4 L335 566.5 L333.8 564.5 L332.8 562.3 L331.6 560.2 L329.5 558.7 L328.3 556.6 L328.2 553.4 L326.4 551.7 L324.3 550.2 L320.8 550.1 L320.9 546.7 L319 545.1 L315.3 545.4 L314.9 542.3 L312.6 541.2 L311 539.3 L307.8 539.4 L306.1 537.9 L304.8 535.6 L302.6 534.6 L299.7 534.6 L298.3 532.5 L295.9 532 L295.3 528.5 L292.6 528.4 L290.5 527.4 L287.6 527.8 L286.7 524.5 L284.7 523.2 L281.8 523.8 L279.4 523.4 L277.5 521.9 L275.6 520.4 L272.8 521 L270.9 519.5 L268.5 519.2 L267.1 515.9 L264.4 516.5 L262.1 515.7 L260.5 512.7 L257.4 514.9 L255.8 511.5 L252.8 513.9 L250.6 512.7 L248.4 511.4 L246.3 509.5 L243.8 509.6 L241.5 508.9 L239.2 507.3 L236.7 508.2 L234.2 508.6 L231.7 508.9 L229.3 506.2 L226.8 505.4 L224.2 506.7 L221.7 505.4 L219.2 507.4 L216.7 505.9 L214.1 505.9 L211.6 506.5 L209.1 506.6 L206.5 506 L203.9 505.9 L201 504.5 L206.4 535.4 L208.6 536.3 L210.2 533.7 L212.3 534.2 L214.6 536.1 L216.6 537.4 L218.5 536.6 L220.5 536.6 L222.5 536.9 L224.4 536 L226.4 534.9 L228.3 538.4 L230.2 539 L232.3 536.1 L234.2 537.1 L235.8 539.9 L237.8 538.5 L239.8 537.9 L241.5 539.3 L243.4 539.3 L245 541 L246.6 542.3 L248.6 541.9 L250.6 541.6 L251.6 544.9 L253.7 544.2 L255 546.3 L256.9 546.4 L259.3 545 L260.3 547.8 L262.2 548 L263.2 550.1 L265 550.4 L267.1 550.2 L268.6 551.2 L270.3 551.9 L271.9 552.6 L274 552.6 L275.9 552.8 L278.1 552.7 L277.9 556.5 L280.4 556 L281.6 557.5 L284.6 556.3 L284.8 559.2 L286.8 559.6 L287.3 562 L290.1 561.3 L290.8 563.3 L292.9 563.8 L293.5 565.9 L296.9 565.1 L296.9 567.9 L299.4 568 L299.8 570.3 L302.3 570.5 L301.6 573.7 L303.9 574.2 L304.3 576.3 L306.1 577.3 L307 579 L309.2 579.7 L309.4 581.8 L311.6 582.5 L312.1 584.4 L313.6 585.6 L312.9 588.2 L313.9 589.6 L314.8 591.2 L316.4 592.4 L317.2 594 L317.9 595.7 L315.7 598.7 L317.6 599.8 L318.5 601.4 L317.9 603.5 L318.2 605.3 L320.3 606.4Z" stroke="none" stroke-width="0" fill="#e5d0f3" fill-opacity="0.85"/>
<circle cx="225" cy="641.8" r="148" fill="none" stroke="#8a8a8a" stroke-width="1" stroke-dasharray="3 2.5" opacity="0.85"/>
<circle cx="225" cy="641.8" r="185.5" fill="none" stroke="#8a8a8a" stroke-width="1" stroke-dasharray="3 2.5" opacity="0.85"/>
<circle cx="225" cy="641.8" r="109.6" fill="none" stroke="#505050" stroke-width="1.6" opacity="0.55"/>
<path d="M204 521.4 L201.7 520.9 L199.6 521.7 L197.2 520.9 L195.1 521.3 L193.2 522.8 L190.8 522.2 L188.5 522.3 L186.4 523 L184.6 524.4 L182.3 524.5 L180.1 524.7 L177.9 525.3 L176.2 526.8 L173.9 526.9 L171.8 527.6 L169.7 528.4 L168.1 530.2 L166.1 530.9 L163.7 531.3 L161.8 532.7 L160 534.1 L157.2 534.1 L155.4 535.6 L154 537.8 L151.6 538.4 L149.2 539.2 L147.1 540.3 L144.8 541.2 L144.1 544.1 L141.6 544.9 L139.4 546 L137.6 547.7 L136.4 549.9 L134.5 551.3 L131.9 551.8 L129.9 553.1 L127.9 554.4 L125.5 555.3 L123.1 556.3 L121.7 558.2 L119.9 559.7 L117.6 560.8 L115.6 562.3 L115.3 565 L111.2 565 L109.5 566.8 L106.8 567.9 L106.2 570.4 L104 571.9 L101 573.1 L98.7 574.6 L96.4 576.3 L94 577.9 L91.8 579.7 L89.5 581.5 L88.5 583.9 L85.6 585.5 L82.6 587.9 L78.9 590.1" stroke="#8db4d8" stroke-width="4.8" fill="none" stroke-linejoin="round" stroke-linecap="round" stroke-opacity="0.9"/>
<path d="M79.8 590.4 L77.7 592.8 L74.8 595 L72.8 597.6 L69.1 599.7 L65.8 602.1 L65.9 605.1 L64.4 607.7 L62.7 610.3 L59.2 612.6 L58.4 615.4 L57.3 618.2 L54.5 620.9 L54.9 623.9 L52.6 626.7 L52.6 629.7 L52.6 632.8 L50.6 635.7 L50.8 638.8 L49.6 641.8 L47.8 644.9 L49.5 647.9 L48.2 651.1 L49.2 654.1 L50.1 657.1 L49.6 660.2 L48.5 663.5 L49 666.5 L49.4 669.6 L49.5 672.7 L50.7 675.7 L53.1 678.3 L53.4 681.4 L53.8 684.5 L54.3 687.5 L56.2 690.2 L57 693.2 L56.4 696.6 L57.6 699.4 L60.5 701.7 L61.5 704.6 L61.6 707.8 L64.4 710 L65.7 712.7 L66.4 715.8 L68.8 718 L69.9 720.8 L71.6 723.3 L73.3 725.9 L74.4 728.7 L77.2 730.6 L77.5 734 L81.3 735.1 L81.9 738.3 L85.4 739.6 L85.9 742.9 L88.3 744.8 L90.7 746.7 L93.4 748.3 L95.4 750.5 L97.7 752.5 L99.9 754.4 L102.1 756.4 L104.7 758 L107.9 758.9 L109.4 761.5 L111.7 763.3 L113.8 765.3 L117.2 765.8 L119.9 767.1 L122 769 L124.2 770.9 L126.5 772.5 L129.7 773 L132.6 773.8 L134.3 776.3 L137.7 776.2 L140.4 777.2 L142.6 778.9 L145.1 780.2 L148.7 779.4 L151.4 780.2 L153.8 781.5 L156.7 781.8 L158.7 783.9 L162.3 782.9 L164.6 784.9 L167.2 786.3 L170.4 785.7 L173.3 786.3 L176.3 786.3 L178.9 787.2 L181.9 787.3 L184.9 786.9 L187.7 787.2 L190.1 789.5 L193 789.8 L196.1 789.2 L198.9 790" stroke="#8fdb6c" stroke-width="4.8" fill="none" stroke-linejoin="round" stroke-linecap="round" stroke-opacity="0.9"/>
<path d="M198.9 789.9 L201.6 789.6 L204.1 790.6 L206.7 790.8 L209.4 789.8 L211.9 791.5 L214.6 790.4 L217.2 789.7 L219.8 790.9 L222.4 791.9 L225 789.9 L227.6 789.8 L230.2 789.6 L232.8 790 L235.3 789.6 L238 790.6 L240.4 788.7 L243.1 789.1 L245.5 787.8 L248.1 787.6 L250.6 786.9 L253.1 786.2 L255.4 784.7 L258.1 785.4 L260.4 783.7 L262.9 783.1 L265.3 782.3 L268 782.5 L269.9 780 L272.6 780.1 L274.8 778.5 L276.3 775.6 L279.4 776.5 L280.7 773 L283.6 773.4 L285.4 771.4 L287.2 769.4 L289.2 767.7 L291.3 766.5 L293.8 765.9 L295.2 763.5 L297.7 762.8 L299.3 760.6 L301.9 760.2 L303.7 758.4 L304.8 755.8 L307.1 754.8 L308.3 752.3 L309.5 749.9 L312.3 749.6 L313.5 747.3 L314.5 744.7 L317.4 744.4 L318.4 741.9 L319.9 740.1 L320.9 737.7 L321.8 735.3 L324.1 734.2 L325.8 732.6 L326.3 729.8 L327.8 728.1 L328.3 725.5 L329.5 723.5 L330.8 721.5 L331.8 719.4 L332.5 717.1 L332.9 714.6 L334.8 713.1 L335.3 710.7 L335.7 708.3 L336.4 706.1 L336.2 703.4 L336.6 701.2 L337.6 699.2 L338.6 697.2 L338.5 694.7 L339.5 692.8 L339.3 690.3 L339.9 688.2 L338.9 685.5 L339.4 683.4 L339 681.1 L341 679.5 L340.7 677.2 L339.6 674.7 L339.1 672.4 L339.4 670.3 L339.7 668.3 L339.4 666.1 L339.5 664.1 L341.1 662.3 L340.6 660.1 L340.1 658 L339.9 655.9 L340.1 653.9 L339.6 651.8 L340.7 649.9 L340.1 647.8 L339.5 645.8 L340.3 643.8 L338.5 641.8 L338.4 639.8 L338.4 637.8 L340.3 635.8 L340 633.8 L339.8 631.8 L339.1 629.8 L337.7 628 L338.4 625.8 L338.7 623.7 L337.4 621.8 L338.2 619.6 L337.5 617.6 L337.9 615.3 L337.9 613.2 L336.1 611.5 L336.1 609.4 L336.3 607.1 L336.7 604.8 L335 603.1 L335 600.9" stroke="#eb9eab" stroke-width="4.8" fill="none" stroke-linejoin="round" stroke-linecap="round" stroke-opacity="0.9"/>
<path d="M335.1 600.9 L333.5 599.3 L334 596.9 L332.2 595.4 L332.9 592.8 L331 591.5 L331.4 589 L330.5 587.1 L328.6 585.8 L328.8 583.3 L327.1 581.9 L325.7 580.3 L326.5 577.4 L325.1 575.8 L323.4 574.4 L322.6 572.5 L321.6 570.6 L320 569.1 L318 567.9 L317.3 565.6 L316 563.9 L313.4 563.2 L312.7 560.9 L311.5 559.1 L308.8 558.7 L308 556.4 L306.1 555.2 L304.5 553.8 L302.4 553 L300.5 551.8 L298.6 550.9 L297.7 548.7 L295 548.6 L293.4 547.4 L291.7 546.2 L290.5 544.2 L288.4 543.6 L286.5 542.6 L284.9 541.3 L282.8 540.8 L281.7 538.6 L279.5 538.1 L277.5 537.5 L275.3 537.3 L273.1 537.1 L271.9 534.8 L269.9 534 L267.8 533.8 L265.8 533.2 L263.6 533 L261.8 531.7 L259.7 531.3 L258.3 528.8 L256.1 528.8 L253.9 528.6 L251.8 528.3 L250.2 525.9 L247.9 526.5 L245.8 526.3 L244 524 L241.7 524.7 L239.7 523.3 L237.4 524.5 L235.4 523.2 L233.2 523.3 L230.9 523.5 L228.8 521.5 L226.6 521 L224.3 520.6 L222.1 520.5 L219.8 519.8 L217.5 520.1 L215.4 521.8 L212.9 519.6 L210.6 519.7 L208.4 520 L206.2 520.7 L204 521.5" stroke="#cfaae9" stroke-width="4.8" fill="none" stroke-linejoin="round" stroke-linecap="round" stroke-opacity="0.9"/>
<g shape-rendering="crispEdges">
<path fill="#f9e4db" d="M213.8 553.9h18.5v4.1h-18.5zM206.6 557.6h25.7v4.1h-25.7zM184.9 561.2h11.2v4.1h-11.2zM206.6 561.2h25.7v4.1h-25.7zM177.7 564.9h22.1v4.1h-22.1zM206.6 564.9h25.7v4.1h-25.7zM177.7 568.6h25.7v4.1h-25.7zM206.6 568.6h25.7v4.1h-25.7zM181.3 572.3h51v4.1h-51zM181.3 575.9h51v4.1h-51zM181.3 579.6h51v4.1h-51zM174 583.3h58.2v4.1h-58.2zM148.7 587h79.9v4.1h-79.9zM181.3 590.6h47.4v4.1h-47.4zM188.5 594.3h36.5v4.1h-36.5zM192.1 598h32.9v4.1h-32.9zM217.4 601.6h11.2v4.1h-11.2zM224.6 605.3h7.6v4.1h-7.6zM224.6 609h7.6v4.1h-7.6zM228.3 612.7h4v4.1h-4zM228.3 616.3h4v4.1h-4zM228.3 620h4v4.1h-4zM228.3 623.7h7.6v4.1h-7.6zM231.9 627.4h4v4.1h-4zM231.9 631h4v4.1h-4zM231.9 634.7h4v4.1h-4zM231.9 638.4h4v4.1h-4zM231.9 642h7.6v4.1h-7.6zM235.5 645.7h4v4.1h-4zM235.5 649.4h4v4.1h-4zM239.1 653.1h4v4.1h-4zM239.1 656.7h7.6v4.1h-7.6zM242.7 660.4h7.6v4.1h-7.6zM246.3 664.1h7.6v4.1h-7.6zM249.9 667.7h7.6v4.1h-7.6zM249.9 671.4h7.6v4.1h-7.6zM249.9 675.1h7.6v4.1h-7.6zM246.3 678.8h7.6v4.1h-7.6zM246.3 682.4h7.6v4.1h-7.6zM221 686.1h29.3v4.1h-29.3zM203 689.8h18.5v4.1h-18.5zM228.3 689.8h18.5v4.1h-18.5zM203 693.5h18.5v4.1h-18.5zM228.3 693.5h4v4.1h-4zM228.3 697.1h4v4.1h-4z"/>
<path fill="#f2eae8" d="M231.9 553.9h14.9v4.1h-14.9zM199.3 557.6h7.6v4.1h-7.6zM231.9 557.6h22.1v4.1h-22.1zM195.7 561.2h11.2v4.1h-11.2zM231.9 561.2h36.5v4.1h-36.5zM170.4 564.9h7.6v4.1h-7.6zM199.3 564.9h7.6v4.1h-7.6zM231.9 564.9h40.2v4.1h-40.2zM166.8 568.6h11.2v4.1h-11.2zM203 568.6h4v4.1h-4zM231.9 568.6h43.8v4.1h-43.8zM163.2 572.3h18.5v4.1h-18.5zM231.9 572.3h47.4v4.1h-47.4zM156 575.9h25.7v4.1h-25.7zM231.9 575.9h22.1v4.1h-22.1zM268 575.9h11.2v4.1h-11.2zM156 579.6h25.7v4.1h-25.7zM231.9 579.6h18.5v4.1h-18.5zM271.6 579.6h11.2v4.1h-11.2zM152.3 583.3h22.1v4.1h-22.1zM231.9 583.3h14.9v4.1h-14.9zM228.3 587h18.5v4.1h-18.5zM228.3 590.6h14.9v4.1h-14.9zM224.6 594.3h14.9v4.1h-14.9zM224.6 598h14.9v4.1h-14.9zM228.3 601.6h11.2v4.1h-11.2zM231.9 605.3h7.6v4.1h-7.6zM231.9 609h7.6v4.1h-7.6zM231.9 612.7h7.6v4.1h-7.6zM231.9 616.3h7.6v4.1h-7.6zM231.9 620h7.6v4.1h-7.6zM235.5 623.7h4v4.1h-4zM235.5 627.4h4v4.1h-4zM235.5 631h4v4.1h-4zM235.5 634.7h4v4.1h-4zM235.5 638.4h4v4.1h-4zM239.1 642h4v4.1h-4zM239.1 645.7h7.6v4.1h-7.6zM239.1 649.4h11.2v4.1h-11.2zM242.7 653.1h7.6v4.1h-7.6zM246.3 656.7h7.6v4.1h-7.6zM249.9 660.4h7.6v4.1h-7.6zM253.6 664.1h11.2v4.1h-11.2zM257.2 667.7h4v4.1h-4zM221 689.8h7.6v4.1h-7.6zM221 693.5h7.6v4.1h-7.6zM221 697.1h7.6v4.1h-7.6z"/>
<path fill="#eaecf0" d="M253.6 575.9h14.9v4.1h-14.9zM249.9 579.6h22.1v4.1h-22.1zM246.3 583.3h36.6v4.1h-36.6zM246.3 587h36.6v4.1h-36.6zM242.7 590.6h40.2v4.1h-40.2zM239.1 594.3h43.8v4.1h-43.8zM239.1 598h29.3v4.1h-29.3zM239.1 601.6h22.1v4.1h-22.1zM239.1 605.3h18.5v4.1h-18.5zM239.1 609h14.9v4.1h-14.9zM239.1 612.7h11.2v4.1h-11.2zM239.1 616.3h7.6v4.1h-7.6zM239.1 620h7.6v4.1h-7.6zM239.1 623.7h7.6v4.1h-7.6zM239.1 627.4h11.2v4.1h-11.2zM239.1 631h11.2v4.1h-11.2zM239.1 634.7h11.2v4.1h-11.2zM239.1 638.4h14.9v4.1h-14.9zM242.7 642h14.9v4.1h-14.9zM246.3 645.7h11.2v4.1h-11.2zM249.9 649.4h22.1v4.1h-22.1zM249.9 653.1h22.1v4.1h-22.1zM253.6 656.7h11.2v4.1h-11.2zM257.2 660.4h7.6v4.1h-7.6z"/>
<path fill="#fedccc" d="M148.7 590.6h32.9v4.1h-32.9zM163.2 594.3h25.7v4.1h-25.7zM174 598h18.5v4.1h-18.5zM203 601.6h14.9v4.1h-14.9zM213.8 605.3h11.2v4.1h-11.2zM221 609h4v4.1h-4zM224.6 612.7h4v4.1h-4zM224.6 616.3h4v4.1h-4zM224.6 620h4v4.1h-4zM224.6 623.7h4v4.1h-4zM224.6 627.4h7.6v4.1h-7.6zM228.3 631h4v4.1h-4zM228.3 634.7h4v4.1h-4zM228.3 638.4h4v4.1h-4zM228.3 642h4v4.1h-4zM231.9 645.7h4v4.1h-4zM231.9 649.4h4v4.1h-4zM231.9 653.1h7.6v4.1h-7.6zM235.5 656.7h4v4.1h-4zM235.5 660.4h7.6v4.1h-7.6zM239.1 664.1h7.6v4.1h-7.6zM242.7 667.7h7.6v4.1h-7.6zM242.7 671.4h7.6v4.1h-7.6zM242.7 675.1h7.6v4.1h-7.6zM235.5 678.8h11.2v4.1h-11.2zM221 682.4h25.7v4.1h-25.7zM203 686.1h18.5v4.1h-18.5zM192.1 689.8h11.2v4.1h-11.2zM195.7 693.5h7.6v4.1h-7.6z"/>
<path fill="#fdcab5" d="M145.1 594.3h18.5v4.1h-18.5zM156 598h18.5v4.1h-18.5zM184.9 601.6h18.5v4.1h-18.5zM206.6 605.3h7.6v4.1h-7.6zM213.8 609h7.6v4.1h-7.6zM217.4 612.7h7.6v4.1h-7.6zM221 616.3h4v4.1h-4zM221 620h4v4.1h-4zM221 623.7h4v4.1h-4zM221 627.4h4v4.1h-4zM224.6 631h4v4.1h-4zM224.6 634.7h4v4.1h-4zM224.6 638.4h4v4.1h-4zM224.6 642h4v4.1h-4zM228.3 645.7h4v4.1h-4zM228.3 649.4h4v4.1h-4zM228.3 653.1h4v4.1h-4zM231.9 656.7h4v4.1h-4zM231.9 660.4h4v4.1h-4zM231.9 664.1h7.6v4.1h-7.6zM235.5 667.7h7.6v4.1h-7.6zM239.1 671.4h4v4.1h-4zM231.9 675.1h11.2v4.1h-11.2zM224.6 678.8h11.2v4.1h-11.2zM206.6 682.4h14.9v4.1h-14.9zM195.7 686.1h7.6v4.1h-7.6zM188.5 689.8h4v4.1h-4z"/>
<path fill="#fcb89d" d="M145.1 598h11.2v4.1h-11.2zM181.3 601.6h4v4.1h-4zM203 605.3h4v4.1h-4zM221 631h4v4.1h-4zM221 634.7h4v4.1h-4zM224.6 645.7h4v4.1h-4zM228.3 656.7h4v4.1h-4zM235.5 671.4h4v4.1h-4zM221 678.8h4v4.1h-4zM203 682.4h4v4.1h-4z"/>
<path fill="#e2ebf5" d="M268 598h11.2v4.1h-11.2zM260.8 601.6h18.5v4.1h-18.5zM257.2 605.3h22.1v4.1h-22.1zM253.6 609h29.3v4.1h-29.3zM249.9 612.7h36.6v4.1h-36.6zM246.3 616.3h40.2v4.1h-40.2zM246.3 620h40.2v4.1h-40.2zM246.3 623.7h40.2v4.1h-40.2zM249.9 627.4h36.6v4.1h-36.6zM249.9 631h32.9v4.1h-32.9zM249.9 634.7h32.9v4.1h-32.9zM253.6 638.4h25.7v4.1h-25.7zM257.2 642h22.1v4.1h-22.1zM257.2 645.7h14.9v4.1h-14.9z"/>
<path fill="#fca487" d="M145.1 601.6h18.5v4.1h-18.5zM181.3 605.3h7.6v4.1h-7.6zM203 609h4v4.1h-4zM210.2 612.7h4v4.1h-4zM213.8 616.3h4v4.1h-4zM213.8 620h4v4.1h-4zM213.8 623.7h4v4.1h-4zM213.8 627.4h4v4.1h-4zM217.4 642h4v4.1h-4zM217.4 645.7h4v4.1h-4zM221 653.1h4v4.1h-4zM221 656.7h4v4.1h-4zM224.6 667.7h4v4.1h-4zM224.6 671.4h4v4.1h-4zM213.8 675.1h7.6v4.1h-7.6zM192.1 682.4h4v4.1h-4zM181.3 686.1h4v4.1h-4z"/>
<path fill="#fcac90" d="M163.2 601.6h7.6v4.1h-7.6zM188.5 605.3h4v4.1h-4zM206.6 609h4v4.1h-4zM217.4 631h4v4.1h-4zM217.4 634.7h4v4.1h-4zM217.4 638.4h4v4.1h-4zM221 645.7h4v4.1h-4zM221 649.4h4v4.1h-4zM224.6 660.4h4v4.1h-4zM224.6 664.1h4v4.1h-4zM228.3 671.4h4v4.1h-4zM221 675.1h4v4.1h-4zM203 678.8h7.6v4.1h-7.6zM195.7 682.4h4v4.1h-4zM184.9 686.1h4v4.1h-4z"/>
<path fill="#fcb499" d="M170.4 601.6h7.6v4.1h-7.6zM192.1 605.3h7.6v4.1h-7.6zM213.8 612.7h4v4.1h-4zM217.4 620h4v4.1h-4zM217.4 623.7h4v4.1h-4zM217.4 627.4h4v4.1h-4zM221 642h4v4.1h-4zM224.6 653.1h4v4.1h-4zM224.6 656.7h4v4.1h-4zM228.3 664.1h4v4.1h-4zM228.3 667.7h4v4.1h-4zM231.9 671.4h4v4.1h-4zM224.6 675.1h4v4.1h-4zM210.2 678.8h7.6v4.1h-7.6zM199.3 682.4h4v4.1h-4zM188.5 686.1h4v4.1h-4z"/>
<path fill="#fcbca2" d="M177.7 601.6h4v4.1h-4zM199.3 605.3h4v4.1h-4zM210.2 609h4v4.1h-4zM217.4 616.3h4v4.1h-4zM221 638.4h4v4.1h-4zM224.6 649.4h4v4.1h-4zM228.3 660.4h4v4.1h-4zM231.9 667.7h4v4.1h-4zM228.3 675.1h4v4.1h-4zM217.4 678.8h4v4.1h-4zM192.1 686.1h4v4.1h-4z"/>
<path fill="#fc8565" d="M145.1 605.3h14.9v4.1h-14.9zM181.3 609h7.6v4.1h-7.6zM199.3 612.7h4v4.1h-4zM206.6 616.3h4v4.1h-4zM210.2 642h4v4.1h-4zM210.2 645.7h4v4.1h-4zM210.2 649.4h4v4.1h-4zM210.2 653.1h4v4.1h-4zM210.2 656.7h4v4.1h-4zM210.2 660.4h4v4.1h-4zM210.2 664.1h4v4.1h-4zM210.2 667.7h4v4.1h-4zM206.6 671.4h7.6v4.1h-7.6zM199.3 675.1h4v4.1h-4zM181.3 682.4h4v4.1h-4z"/>
<path fill="#fc8d6d" d="M159.6 605.3h11.2v4.1h-11.2zM188.5 609h4v4.1h-4zM203 612.7h4v4.1h-4zM210.2 627.4h4v4.1h-4zM210.2 631h4v4.1h-4zM210.2 634.7h4v4.1h-4zM210.2 638.4h4v4.1h-4zM213.8 653.1h4v4.1h-4zM213.8 656.7h4v4.1h-4zM213.8 660.4h4v4.1h-4zM213.8 664.1h4v4.1h-4zM213.8 667.7h4v4.1h-4zM213.8 671.4h4v4.1h-4zM192.1 678.8h4v4.1h-4z"/>
<path fill="#fc9475" d="M170.4 605.3h7.6v4.1h-7.6zM192.1 609h4v4.1h-4zM210.2 616.3h4v4.1h-4zM210.2 620h4v4.1h-4zM210.2 623.7h4v4.1h-4zM213.8 642h4v4.1h-4zM213.8 645.7h4v4.1h-4zM213.8 649.4h4v4.1h-4zM217.4 656.7h4v4.1h-4zM217.4 660.4h4v4.1h-4zM217.4 664.1h4v4.1h-4zM217.4 667.7h4v4.1h-4zM217.4 671.4h7.6v4.1h-7.6zM203 675.1h7.6v4.1h-7.6zM195.7 678.8h4v4.1h-4zM184.9 682.4h4v4.1h-4z"/>
<path fill="#fc9c7e" d="M177.7 605.3h4v4.1h-4zM195.7 609h7.6v4.1h-7.6zM206.6 612.7h4v4.1h-4zM213.8 631h4v4.1h-4zM213.8 634.7h4v4.1h-4zM213.8 638.4h4v4.1h-4zM217.4 649.4h4v4.1h-4zM217.4 653.1h4v4.1h-4zM221 660.4h4v4.1h-4zM221 664.1h4v4.1h-4zM221 667.7h4v4.1h-4zM210.2 675.1h4v4.1h-4zM199.3 678.8h4v4.1h-4zM188.5 682.4h4v4.1h-4z"/>
<path fill="#fa6547" d="M145.1 609h11.2v4.1h-11.2zM181.3 612.7h7.6v4.1h-7.6zM199.3 616.3h4v4.1h-4zM199.3 620h4v4.1h-4zM199.3 623.7h4v4.1h-4zM199.3 627.4h4v4.1h-4zM199.3 631h4v4.1h-4zM199.3 642h4v4.1h-4zM199.3 645.7h4v4.1h-4zM199.3 649.4h4v4.1h-4zM199.3 653.1h4v4.1h-4zM199.3 656.7h4v4.1h-4zM195.7 671.4h4v4.1h-4zM188.5 675.1h4v4.1h-4zM181.3 678.8h4v4.1h-4z"/>
<path fill="#fb6e4e" d="M156 609h14.9v4.1h-14.9zM188.5 612.7h4v4.1h-4zM203 616.3h4v4.1h-4zM203 620h4v4.1h-4zM203 623.7h4v4.1h-4zM203 627.4h4v4.1h-4zM203 631h4v4.1h-4zM203 634.7h4v4.1h-4zM203 638.4h4v4.1h-4zM203 642h4v4.1h-4zM203 645.7h4v4.1h-4zM203 649.4h4v4.1h-4zM203 653.1h4v4.1h-4zM199.3 660.4h4v4.1h-4zM199.3 664.1h4v4.1h-4zM199.3 667.7h4v4.1h-4zM199.3 671.4h4v4.1h-4zM192.1 675.1h4v4.1h-4z"/>
<path fill="#fb7656" d="M170.4 609h7.6v4.1h-7.6zM192.1 612.7h4v4.1h-4zM203 656.7h4v4.1h-4zM203 660.4h4v4.1h-4zM203 664.1h4v4.1h-4zM184.9 678.8h4v4.1h-4z"/>
<path fill="#fb7d5d" d="M177.7 609h4v4.1h-4zM195.7 612.7h4v4.1h-4zM206.6 620h4v4.1h-4zM206.6 623.7h4v4.1h-4zM206.6 627.4h4v4.1h-4zM206.6 631h4v4.1h-4zM206.6 634.7h4v4.1h-4zM206.6 638.4h4v4.1h-4zM206.6 642h4v4.1h-4zM206.6 645.7h4v4.1h-4zM206.6 649.4h4v4.1h-4zM206.6 653.1h4v4.1h-4zM206.6 656.7h4v4.1h-4zM206.6 660.4h4v4.1h-4zM206.6 664.1h4v4.1h-4zM203 667.7h7.6v4.1h-7.6zM203 671.4h4v4.1h-4zM195.7 675.1h4v4.1h-4zM188.5 678.8h4v4.1h-4z"/>
<path fill="#f34a36" d="M141.5 612.7h29.3v4.1h-29.3zM188.5 616.3h4v4.1h-4zM188.5 620h4v4.1h-4zM188.5 623.7h4v4.1h-4zM192.1 631h4v4.1h-4zM192.1 634.7h4v4.1h-4zM192.1 638.4h4v4.1h-4zM192.1 642h4v4.1h-4zM192.1 645.7h4v4.1h-4zM192.1 649.4h4v4.1h-4zM192.1 653.1h4v4.1h-4zM192.1 656.7h4v4.1h-4z"/>
<path fill="#f5533c" d="M170.4 612.7h7.6v4.1h-7.6zM192.1 616.3h4v4.1h-4zM192.1 620h4v4.1h-4zM192.1 623.7h4v4.1h-4zM192.1 627.4h4v4.1h-4zM195.7 631h4v4.1h-4zM195.7 634.7h4v4.1h-4zM195.7 638.4h4v4.1h-4zM195.7 642h4v4.1h-4zM195.7 645.7h4v4.1h-4zM192.1 660.4h4v4.1h-4zM192.1 664.1h4v4.1h-4zM192.1 667.7h4v4.1h-4zM192.1 671.4h4v4.1h-4zM184.9 675.1h4v4.1h-4z"/>
<path fill="#f85c41" d="M177.7 612.7h4v4.1h-4zM195.7 616.3h4v4.1h-4zM195.7 620h4v4.1h-4zM195.7 623.7h4v4.1h-4zM195.7 627.4h4v4.1h-4zM199.3 634.7h4v4.1h-4zM199.3 638.4h4v4.1h-4zM195.7 649.4h4v4.1h-4zM195.7 653.1h4v4.1h-4zM195.7 656.7h4v4.1h-4zM195.7 660.4h4v4.1h-4zM195.7 664.1h4v4.1h-4zM195.7 667.7h4v4.1h-4z"/>
<path fill="#df2c25" d="M141.5 616.3h29.3v4.1h-29.3zM141.5 620h32.9v4.1h-32.9zM159.6 623.7h14.9v4.1h-14.9zM170.4 627.4h4v4.1h-4zM170.4 631h7.6v4.1h-7.6zM170.4 634.7h7.6v4.1h-7.6zM174 638.4h7.6v4.1h-7.6zM177.7 642h4v4.1h-4zM177.7 645.7h4v4.1h-4zM181.3 649.4h4v4.1h-4zM181.3 653.1h4v4.1h-4zM181.3 656.7h4v4.1h-4z"/>
<path fill="#e63228" d="M170.4 616.3h7.6v4.1h-7.6zM174 620h4v4.1h-4zM174 623.7h7.6v4.1h-7.6zM174 627.4h7.6v4.1h-7.6zM177.7 631h7.6v4.1h-7.6zM177.7 634.7h7.6v4.1h-7.6zM181.3 638.4h4v4.1h-4zM181.3 642h4v4.1h-4zM181.3 645.7h4v4.1h-4zM184.9 660.4h4v4.1h-4zM184.9 664.1h4v4.1h-4zM184.9 667.7h4v4.1h-4zM184.9 671.4h4v4.1h-4z"/>
<path fill="#ed392b" d="M177.7 616.3h4v4.1h-4zM177.7 620h7.6v4.1h-7.6zM181.3 623.7h4v4.1h-4zM181.3 627.4h7.6v4.1h-7.6zM184.9 631h4v4.1h-4zM184.9 634.7h4v4.1h-4zM184.9 638.4h4v4.1h-4zM184.9 642h4v4.1h-4zM184.9 645.7h4v4.1h-4zM184.9 649.4h4v4.1h-4zM184.9 653.1h4v4.1h-4zM184.9 656.7h4v4.1h-4zM181.3 675.1h4v4.1h-4z"/>
<path fill="#f14130" d="M181.3 616.3h7.6v4.1h-7.6zM184.9 620h4v4.1h-4zM184.9 623.7h4v4.1h-4zM188.5 627.4h4v4.1h-4zM188.5 631h4v4.1h-4zM188.5 634.7h4v4.1h-4zM188.5 638.4h4v4.1h-4zM188.5 642h4v4.1h-4zM188.5 645.7h4v4.1h-4zM188.5 649.4h4v4.1h-4zM188.5 653.1h4v4.1h-4zM188.5 656.7h4v4.1h-4zM188.5 660.4h4v4.1h-4zM188.5 664.1h4v4.1h-4zM188.5 667.7h4v4.1h-4zM188.5 671.4h4v4.1h-4z"/>
<path fill="#d82523" d="M141.5 623.7h18.5v4.1h-18.5zM145.1 627.4h25.7v4.1h-25.7zM148.7 631h22.1v4.1h-22.1zM156 634.7h14.9v4.1h-14.9zM170.4 638.4h4v4.1h-4zM174 642h4v4.1h-4zM174 645.7h4v4.1h-4zM177.7 649.4h4v4.1h-4zM177.7 653.1h4v4.1h-4zM181.3 660.4h4v4.1h-4zM177.7 675.1h4v4.1h-4z"/>
<path fill="#d11e20" d="M148.7 634.7h7.6v4.1h-7.6zM148.7 638.4h22.1v4.1h-22.1zM152.3 642h14.9v4.1h-14.9zM170.4 642h4v4.1h-4zM156 645.7h4v4.1h-4zM170.4 645.7h4v4.1h-4zM174 649.4h4v4.1h-4zM174 653.1h4v4.1h-4zM177.7 656.7h4v4.1h-4zM181.3 664.1h4v4.1h-4zM181.3 671.4h4v4.1h-4z"/>
<path fill="#ca181d" d="M166.8 642h4v4.1h-4zM159.6 645.7h11.2v4.1h-11.2zM159.6 649.4h4v4.1h-4zM170.4 649.4h4v4.1h-4zM181.3 667.7h4v4.1h-4z"/>
<path fill="#c3161b" d="M163.2 649.4h7.6v4.1h-7.6zM159.6 653.1h7.6v4.1h-7.6zM170.4 653.1h4v4.1h-4zM174 656.7h4v4.1h-4zM177.7 660.4h4v4.1h-4z"/>
<path fill="#bc141a" d="M166.8 653.1h4v4.1h-4zM163.2 656.7h4v4.1h-4zM170.4 656.7h4v4.1h-4z"/>
<path fill="#b51318" d="M166.8 656.7h4v4.1h-4zM174 660.4h4v4.1h-4zM177.7 664.1h4v4.1h-4z"/>
<path fill="#ad1117" d="M163.2 660.4h4v4.1h-4zM177.7 671.4h4v4.1h-4z"/>
<path fill="#9b0c14" d="M166.8 660.4h4v4.1h-4z"/>
<path fill="#a60f15" d="M170.4 660.4h4v4.1h-4zM177.7 667.7h4v4.1h-4z"/>
<path fill="#6b010e" d="M166.8 664.1h7.6v4.1h-7.6zM174 667.7h4v4.1h-4z"/>
<path fill="#830711" d="M174 664.1h4v4.1h-4z"/>
<path fill="#67000d" d="M170.4 667.7h4v4.1h-4z"/>
<path fill="#77040f" d="M174 671.4h4v4.1h-4z"/>
</g>
<path d="M213.8 553.9h3.6M213.8 553.9v3.7M217.4 553.9h3.6M221 553.9h3.6M224.6 553.9h3.6M228.3 553.9h3.6M231.9 553.9h3.6M235.5 553.9h3.6M239.1 553.9h3.6M242.7 553.9h3.6M246.3 553.9v3.7M199.3 557.6h3.6M199.3 557.6v3.7M203 557.6h3.6M206.6 557.6h3.6M210.2 557.6h3.6M246.3 557.6h3.6M249.9 557.6h3.6M253.6 557.6v3.7M184.9 561.2h3.6M184.9 561.2v3.7M188.5 561.2h3.6M192.1 561.2h3.6M195.7 561.2h3.6M253.6 561.2h3.6M257.2 561.2h3.6M260.8 561.2h3.6M264.4 561.2h3.6M268 561.2v3.7M170.4 564.9h3.6M170.4 564.9v3.7M174 564.9h3.6M177.7 564.9h3.6M181.3 564.9h3.6M268 564.9h3.6M271.6 564.9v3.7M166.8 568.6h3.6M166.8 568.6v3.7M271.6 568.6h3.6M275.3 568.6v3.7M163.2 572.3h3.6M163.2 572.3v3.7M275.3 572.3h3.6M278.9 572.3v3.7M156 575.9h3.6M156 575.9v3.7M159.6 575.9h3.6M278.9 575.9v3.7M156 579.6v3.7M278.9 579.6h3.6M282.5 579.6v3.7M152.3 583.3h3.6M152.3 583.3v3.7M282.5 583.3v3.7M148.7 587h3.6M148.7 587v3.7M282.5 587v3.7M148.7 590.6v3.7M282.5 590.6v3.7M145.1 594.3h3.6M145.1 594.3v3.7M278.9 598h3.6M282.5 594.3v3.7M145.1 598v3.7M278.9 598v3.7M145.1 601.6v3.7M278.9 601.6v3.7M145.1 605.3v3.7M278.9 605.3v3.7M145.1 609v3.7M278.9 609h3.6M282.5 609v3.7M141.5 612.7h3.6M141.5 612.7v3.7M282.5 612.7h3.6M286.1 612.7v3.7M141.5 616.3v3.7M286.1 616.3v3.7M141.5 620v3.7M286.1 620v3.7M141.5 627.4h3.6M141.5 623.7v3.7M286.1 623.7v3.7M145.1 631h3.6M145.1 627.4v3.7M282.5 631h3.6M286.1 627.4v3.7M148.7 631v3.7M282.5 631v3.7M148.7 634.7v3.7M278.9 638.4h3.6M282.5 634.7v3.7M148.7 642h3.6M148.7 638.4v3.7M278.9 638.4v3.7M152.3 645.7h3.6M152.3 642v3.7M271.6 645.7h3.6M275.3 645.7h3.6M278.9 642v3.7M156 649.4h3.6M156 645.7v3.7M271.6 645.7v3.7M159.6 649.4v3.7M271.6 649.4v3.7M159.6 656.7h3.6M159.6 653.1v3.7M264.4 656.7h3.6M268 656.7h3.6M271.6 653.1v3.7M163.2 656.7v3.7M264.4 656.7v3.7M163.2 664.1h3.6M163.2 660.4v3.7M264.4 660.4v3.7M166.8 667.7h3.6M166.8 664.1v3.7M260.8 667.7h3.6M264.4 664.1v3.7M170.4 671.4h3.6M170.4 667.7v3.7M257.2 671.4h3.6M260.8 667.7v3.7M174 675.1h3.6M174 671.4v3.7M257.2 671.4v3.7M177.7 678.8h3.6M177.7 675.1v3.7M253.6 678.8h3.6M257.2 675.1v3.7M181.3 678.8v3.7M253.6 678.8v3.7M181.3 682.4v3.7M249.9 686.1h3.6M253.6 682.4v3.7M181.3 689.8h3.6M181.3 686.1v3.7M184.9 689.8h3.6M246.3 689.8h3.6M249.9 686.1v3.7M188.5 693.5h3.6M188.5 689.8v3.7M192.1 693.5h3.6M231.9 693.5h3.6M235.5 693.5h3.6M239.1 693.5h3.6M242.7 693.5h3.6M246.3 689.8v3.7M195.7 697.1h3.6M195.7 693.5v3.7M199.3 697.1h3.6M203 697.1h3.6M206.6 697.1h3.6M210.2 697.1h3.6M213.8 697.1h3.6M217.4 697.1h3.6M231.9 693.5v3.7M221 700.8h3.6M221 697.1v3.7M224.6 700.8h3.6M228.3 700.8h3.6M231.9 697.1v3.7" stroke="#7a7a7a" stroke-width="1.8" fill="none" stroke-linecap="square"/>
<text x="223.5" y="722.9" font-size="24" text-anchor="middle" stroke="#000" stroke-width="0.3" textLength="112.6" lengthAdjust="spacing">38-45 min</text>
<text x="373.1" y="509.7" font-size="22.5" text-anchor="middle" stroke="#000" stroke-width="0.3" textLength="47.5" lengthAdjust="spacing" transform="rotate(45 373.1 502.2)">1e-1</text>
<text x="336.3" y="534.8" font-size="22.5" text-anchor="middle" stroke="#000" stroke-width="0.3" textLength="47.5" lengthAdjust="spacing" transform="rotate(45 336.3 527.3)">5e-2</text>
<defs><linearGradient id="cbd" x1="0" y1="0" x2="0" y2="1"><stop offset="0.0000" stop-color="#67000d"/><stop offset="0.0625" stop-color="#a50f15"/><stop offset="0.1250" stop-color="#cb181d"/><stop offset="0.1875" stop-color="#ef3b2c"/><stop offset="0.2500" stop-color="#fb6a4a"/><stop offset="0.3125" stop-color="#fc9272"/><stop offset="0.3750" stop-color="#fcbba1"/><stop offset="0.4375" stop-color="#fee0d2"/><stop offset="0.5000" stop-color="#f0ecec"/><stop offset="0.5625" stop-color="#deebf7"/><stop offset="0.6250" stop-color="#c6dbef"/><stop offset="0.6875" stop-color="#9ecae1"/><stop offset="0.7500" stop-color="#6baed6"/><stop offset="0.8125" stop-color="#4292c6"/><stop offset="0.8750" stop-color="#2171b5"/><stop offset="0.9375" stop-color="#08519c"/><stop offset="1.0000" stop-color="#08306b"/></linearGradient></defs><rect x="429.4" y="691.8" width="24.1" height="127.5" fill="url(#cbd)"/>
<text x="437.4" y="684.4" font-size="23" text-anchor="middle" stroke="#000" stroke-width="0.3" textLength="48.6" lengthAdjust="spacing">1e-1</text>
<text x="437.4" y="847.7" font-size="23" text-anchor="middle" stroke="#000" stroke-width="0.3" textLength="48.6" lengthAdjust="spacing">1e-1</text>
<text x="464.5" y="753" font-size="23.5" text-anchor="middle" stroke="#000" stroke-width="0.3" textLength="125.4" lengthAdjust="spacing" transform="rotate(90 464.5 753)">(arb. units )</text>
<text x="497.9" y="751.8" font-size="24" text-anchor="middle" stroke="#000" stroke-width="0.3" textLength="175.9" lengthAdjust="spacing" transform="rotate(90 497.9 751.8)">Current Density</text>
<rect x="334.7" y="805.5" width="70.3" height="8.4" fill="#000"/>
<text x="40" y="493" font-size="43" font-weight="bold">d</text>
<line x1="499.8" y1="638.3" x2="909.8" y2="638.3" stroke="#9a9a9a" stroke-width="1" stroke-dasharray="6 2 1.5 2"/>
<line x1="704.8" y1="433.3" x2="704.8" y2="843.3" stroke="#9a9a9a" stroke-width="1" stroke-dasharray="6 2 1.5 2"/>
<circle cx="704.8" cy="638.3" r="109.6" fill="#fff" stroke="#505050" stroke-width="2"/>
<path d="M682.1 476.4 L679 475.3 L675.9 474.2 L673.2 475.8 L670.1 475.1 L666.6 473 L663 470.5 L659.9 470.8 L657.4 473 L654.4 473.5 L651.2 473.3 L648.4 474.5 L644.5 472.6 L642.5 476.1 L639.4 476.4 L636 476.2 L632.8 476.6 L629.3 476.3 L626.2 477.1 L624.6 480.9 L621.4 481.5 L619.3 484.1 L615.8 484.1 L612.6 484.9 L611.8 489.4 L608.5 490 L605.4 491 L604.3 494.8 L602 496.8 L598.7 497.5 L596 499 L594.5 502 L592 503.9 L590.2 506.5 L586.4 506.8 L586.4 511.4 L583.4 512.5 L581.6 515.1 L578.9 516.7 L576.7 518.8 L576.4 522.7 L575.6 526 L571.9 526.8 L570.4 529.5 L569.6 532.7 L567.9 535.1 L568.9 539.6 L566.6 541.6 L565.6 544.4 L563.6 546.6 L561.9 549 L561.1 551.9 L559.9 554.6 L561.3 558.8 L561.3 562 L561.4 565.2 L561.2 568.2 L558.9 570.3 L560.2 573.9 L559.6 576.7 L560.2 579.9 L560.6 583 L560.8 585.9 L587.4 595.6 L588.3 593.6 L589 591.5 L590.4 589.7 L591.2 587.7 L592.2 585.8 L592 583.3 L590.8 580.2 L593.9 579.3 L591.7 575.6 L594.5 574.6 L593.6 571.5 L596.2 570.5 L595.8 567.5 L598.7 566.7 L598.8 564.1 L599.5 561.8 L602.6 561.3 L603.6 559.2 L603.8 556.5 L604.7 554.3 L606.3 552.7 L607 550.2 L609.6 549.5 L611.7 548.4 L612.5 546 L612.8 543 L616 543.1 L616.5 540.2 L618.9 539.5 L620.7 538.1 L622.6 536.8 L623.4 534.1 L626.2 534 L627.9 532.5 L628.4 529.1 L631.3 529.4 L632.7 527.3 L633.9 524.9 L636.1 523.9 L638.4 523.3 L639.3 520.2 L641.1 518.6 L643.8 518.6 L646 517.8 L647.8 516.1 L650.7 516.8 L653.3 517 L654.9 514.7 L657.1 514.1 L659.9 515 L662.4 515.1 L663.9 512.3 L666.7 513.6 L668.5 511.9 L670.6 510.7 L673.3 511.9 L675.6 512 L677.8 511.2 L680 510.6 L681.9 508.7 L684.6 510.6 L686.6 508.9Z" stroke="none" stroke-width="0" fill="#c3dbea" fill-opacity="0.85"/>
<path d="M566.9 588.1 L566.5 590.9 L566.2 593.7 L569 597.5 L568.7 600.2 L571 603.5 L569.3 605.8 L571.8 609.1 L573.4 612 L574.1 614.6 L575.3 617.2 L574.2 619.4 L575.9 622 L576.1 624.4 L574 626.5 L575.3 629 L578.2 631.5 L578.5 633.8 L578.4 636 L579.2 638.3 L580.5 640.5 L577.1 642.8 L578.8 644.9 L578.8 647.1 L580.5 649.2 L578 651.6 L580.5 653.6 L579 656 L579.8 658.1 L579.2 660.4 L579.6 662.6 L581.8 664.5 L580.9 666.9 L581.7 669 L582.1 671.2 L584.6 672.8 L586 674.6 L583.6 677.7 L586.8 678.9 L585.9 681.6 L586.3 683.8 L587.9 685.5 L588 687.9 L590.7 689.1 L590.3 691.7 L591.6 693.5 L592.6 695.5 L592.4 698 L596.2 698.5 L596.2 701 L596.7 703.3 L598.9 704.5 L600.5 706 L600.1 708.9 L601.4 710.7 L602.3 712.7 L605.7 713 L605.1 716.2 L607.5 717.1 L608.8 718.9 L609.6 721 L612.1 721.8 L611.8 725 L613.4 726.6 L616.5 726.6 L617.2 729 L619.4 729.9 L619.2 733.4 L621.3 734.4 L623.3 735.4 L625 736.8 L626.6 738.3 L627.5 740.9 L630.5 740.6 L631.4 743.1 L633.5 744 L634.5 746.6 L636.6 747.5 L638.6 748.5 L640 750.5 L642.2 751.4 L645.5 750.1 L646.9 752.5 L649.4 752.6 L650.4 755.9 L652.1 757.7 L655.1 756.7 L657.3 757.5 L659.4 758.4 L661 760.8 L663.7 760.3 L665.6 761.8 L668 762 L670.2 762.8 L672.6 762.7 L674.3 765.7 L677.1 764 L679.2 765.4 L681.5 765.4 L683.3 768.8 L685.7 769 L688.6 749.3 L686.9 747.2 L685 746.5 L683.3 745 L680.9 746.5 L679.5 743.9 L676.9 746 L675.6 743.2 L673.8 742.5 L671.7 742.7 L669.9 741.7 L668.3 740.3 L665.7 741.7 L663.8 741.2 L662.4 739.3 L660.6 738.6 L659.2 736.8 L657.7 735.4 L656.3 733.9 L654.4 733.4 L651.6 734.4 L651 731.5 L648.9 731.4 L647.4 730.2 L645.6 729.5 L644.6 727.5 L642.2 727.7 L641.9 724.9 L639.7 724.6 L639.4 722.1 L638 720.8 L636 720.3 L635.8 717.7 L632.7 718.4 L633.1 715.2 L631.2 714.5 L628.7 714.4 L628.2 712.3 L625.8 711.9 L625.6 709.6 L624.6 708 L622.5 707.4 L623.8 703.9 L622.1 702.9 L619.6 702.5 L620.8 699.3 L617.3 699.6 L617.2 697.4 L617.3 695.2 L615.3 694.2 L615.5 692 L614.5 690.4 L613.7 688.8 L610.3 688.6 L611.5 685.9 L609.4 684.8 L607.6 683.6 L607.4 681.7 L608.2 679.3 L607.1 677.8 L605.1 676.6 L607.1 673.9 L603.3 673.3 L603.4 671.2 L604.2 669 L603.4 667.4 L604.2 665.3 L601.2 664.1 L602.9 661.8 L601.7 660.2 L600.6 658.6 L600.9 656.6 L599.6 655 L599 653.2 L601.1 651 L600 649.3 L600.5 647.4 L598.9 645.7 L598.1 643.9 L598.9 642 L600.3 640.1 L597 638.3 L598.6 636.4 L595.9 634.4 L596.9 632.5 L595.9 630.5 L594.2 628.4 L594.1 626.3 L596.2 624.6 L594.7 622.4 L592.2 620 L594.6 618.3 L594.4 616.2 L593.4 613.8 L589.7 610.7 L590.3 608.6 L589.8 606.1 L589 603.5 L586.2 600.2 L586.3 597.7 L583.9 594.3Z" stroke="none" stroke-width="0" fill="#d6f1c4" fill-opacity="0.85"/>
<path d="M685.8 768.6 L688.1 769 L690.6 768.1 L693 766.8 L695.2 768.3 L697.4 769.6 L699.8 769.6 L702.1 767.2 L704.4 769.9 L706.7 768.5 L709 767.4 L711.4 769.1 L713.6 766.7 L715.8 766.7 L718.1 765.9 L720.5 767.4 L723 768.5 L725.1 767 L727.4 766.5 L729.6 766 L731.7 765 L734.4 766.5 L736.2 764.1 L738.1 762.7 L740.5 762.7 L742.3 761 L745.1 762.4 L746.6 759.7 L749.8 761.9 L751.4 759.7 L754.2 760.5 L755.9 758.7 L758.1 758 L760.4 757.6 L762 755.6 L764.1 754.7 L765.1 751.6 L767.2 750.8 L770.5 752 L771 748.5 L773.4 748.1 L776.2 748.3 L778.2 747.1 L779.3 744.7 L781.6 744 L782.4 741.2 L785.1 741.1 L786.8 739.6 L788.5 738 L788.8 734.9 L791.9 735 L792.6 732.4 L794.5 731.2 L795.2 728.7 L797.2 727.5 L799.7 726.8 L801.1 725 L801.6 722.5 L804.5 722 L804.5 719.1 L807.5 718.6 L807.3 715.5 L809.1 714.1 L812.1 713.4 L813.1 711.3 L814 709.2 L815 707.1 L814.3 704.1 L816.7 702.9 L817.5 700.8 L818.3 698.6 L820.5 697.3 L821.3 695.1 L820.9 692.4 L822 690.5 L821.9 688 L822.7 685.9 L823.8 684 L824.9 682 L824.8 679.6 L825.6 677.6 L825 675.1 L824.7 672.7 L825.2 670.6 L826.7 668.7 L826.5 666.4 L826.9 664.3 L827.8 662.2 L826.8 659.8 L825.8 657.5 L828.3 655.7 L827.7 653.4 L828.6 651.3 L826.1 648.9 L826.3 646.8 L825.5 644.6 L826.6 642.6 L827.4 640.4 L825.9 638.3 L826.3 636.1 L825.5 634 L827.8 631.7 L825.8 629.7 L824.4 627.6 L827 625.2 L826.7 623 L825.3 621 L823.8 619.1 L824.2 616.8 L823.9 614.7 L824.7 612.3 L824.5 610.1 L823.9 608 L822.7 606 L821.7 604.1 L823.9 601.1 L822.6 599.2 L822.4 596.9 L820.7 595.2 L804.5 601.2 L805.6 602.8 L806.5 604.6 L807.6 606.2 L806.6 608.5 L807.1 610.3 L809.3 611.7 L808 614 L808 615.9 L808 617.8 L811.2 619.2 L809.6 621.4 L810.5 623.2 L809.1 625.2 L808.8 627.2 L810.5 628.9 L808.8 630.9 L810.4 632.7 L811.1 634.5 L809 636.4 L810.5 638.3 L811.1 640.2 L811.4 642 L810.1 643.8 L810.2 645.7 L811.3 647.6 L811 649.5 L811.2 651.4 L809.8 653 L809.5 654.9 L809.9 656.8 L811.7 659.1 L810.9 660.9 L811.7 663 L808.6 664.2 L809.8 666.4 L811.3 668.8 L808.6 670 L808 671.8 L807 673.5 L809.4 676.4 L808.8 678.2 L807.2 679.7 L806.6 681.5 L804.6 682.8 L804 684.5 L804 686.7 L805.1 689.4 L804.4 691.3 L802.4 692.4 L802.4 694.7 L798.8 694.8 L800.1 697.8 L796.7 698 L797.4 700.7 L795 701.4 L794.1 703.2 L792.8 704.6 L792.3 706.6 L791.1 708.2 L791.1 710.7 L789.9 712.3 L786.8 712.2 L786 714 L785.9 716.6 L783.4 716.9 L783.3 719.6 L781 720.1 L780.7 722.6 L778.7 723.4 L775.6 722.7 L774.2 723.9 L772.9 725.4 L771.6 727 L770.5 728.7 L768.7 729.6 L766.5 729.7 L764.9 730.8 L764.6 734 L762.4 734.2 L760.2 734.3 L758.6 735.4 L758.2 738.7 L755.5 737.9 L753.6 738.4 L751.4 738.2 L750.8 741.7 L748.8 741.9 L747.1 743 L745 742.9 L743.1 743.4 L741.2 743.9 L739.1 743.8 L737.6 745.5 L735.5 745.5 L733.8 746.6 L731.5 745.6 L730.4 749 L728 747.6 L725.9 746.8 L724.2 748.4 L722.2 748.2 L720.2 748.5 L718.3 749.2 L716.5 751.2 L714.3 748.3 L712.5 751.2 L710.5 751.8 L708.5 751.9 L706.5 751 L704.5 751.3 L702.5 751.5 L700.5 750.5 L698.5 750.9 L696.4 751.5 L694.4 751.5 L692.6 749.1 L690.7 748.3 L688.8 747.8Z" stroke="none" stroke-width="0" fill="#fad0d0" fill-opacity="0.85"/>
<path d="M824.3 593.8 L820.9 592.7 L821.8 589.9 L820.9 587.8 L818.8 586.2 L819.4 583.4 L818.4 581.3 L818.3 578.8 L818.7 575.9 L815.9 574.8 L814.7 572.8 L815 569.9 L813.7 567.9 L811.7 566.4 L810 564.8 L809.3 562.4 L808.3 560.3 L807 558.4 L805.6 556.6 L805.6 553.7 L803.8 552.2 L803.5 549.4 L799.8 549.7 L800.3 546.1 L798.8 544.3 L797.8 542 L796.2 540.3 L792.4 541 L792.9 537 L789.3 537.6 L788.7 534.7 L786.7 533.5 L784.8 532.1 L784.3 528.9 L782 528 L779.3 527.9 L778.5 524.8 L776.7 523.2 L773.9 523.3 L771.8 522.2 L770.6 519.7 L768.7 518.2 L767 516.2 L765.2 514.6 L762.3 515 L760.6 512.9 L759 510.7 L756.7 509.9 L754.2 509.5 L752.8 506.3 L750.6 505.4 L747.8 505.9 L745.6 504.8 L743.5 503.4 L741.3 502 L738.9 501.7 L736.6 500.8 L734.2 500 L732.2 497.2 L729.7 497.1 L727.8 493.4 L725.2 492.9 L722.5 494.2 L720.3 491 L717.6 491.6 L715.2 489.6 L712.7 487.9 L710 488.4 L707.4 488.3 L704.8 486.6 L702.2 486.8 L699.6 488.1 L696.8 486.5 L694.1 485.7 L691.5 486 L688.6 483.7 L685.8 483.3 L683.3 485.2 L687.5 515.5 L689.6 514.6 L692 516.8 L694.1 515.5 L696.2 514.6 L698.4 516.5 L700.5 514.6 L702.7 516.5 L704.8 514.8 L706.9 515.3 L709 517.4 L711.1 517.5 L713.2 517.7 L715.3 518.3 L717.5 517.6 L719.8 516.5 L721.6 519 L723.8 518.3 L726 518.1 L727.8 520.2 L729.8 520.8 L732.1 520.1 L733.4 523.6 L735.8 522.8 L737.6 524.1 L740 523.1 L741.2 526.2 L743.5 525.9 L745.6 526.2 L747.5 527.1 L748.8 529.3 L750.5 530.6 L752.2 531.9 L754.3 532.2 L755.2 535 L756.6 536.6 L759 536.3 L760.8 537.3 L763.1 537.3 L764 539.7 L764.8 542.3 L767.2 542.2 L768.2 544.3 L770.8 544 L772.1 545.7 L774 546.5 L775.5 547.9 L776.7 549.5 L777.4 551.7 L779.8 552 L780 554.8 L781.1 556.5 L783.3 557 L785.1 558 L785.6 560.3 L786.1 562.5 L786.6 564.7 L789.7 564.5 L790.6 566.3 L789.7 569.6 L792.6 569.7 L792.4 572.3 L794 573.5 L793.7 576.2 L796.8 576.4 L795.9 579.4 L798.1 580.4 L797.4 583.1 L799.8 584 L800 586.1 L801.8 587.4 L800.6 590.2 L802.8 591.3 L802.2 593.8 L803.3 595.4 L803.6 597.4 L805.8 598.7 L807.5 600.1Z" stroke="none" stroke-width="0" fill="#e5d0f3" fill-opacity="0.85"/>
<circle cx="704.8" cy="638.3" r="148" fill="none" stroke="#8a8a8a" stroke-width="1" stroke-dasharray="3 2.5" opacity="0.85"/>
<circle cx="704.8" cy="638.3" r="185.5" fill="none" stroke="#8a8a8a" stroke-width="1" stroke-dasharray="3 2.5" opacity="0.85"/>
<circle cx="704.8" cy="638.3" r="109.6" fill="none" stroke="#505050" stroke-width="1.6" opacity="0.55"/>
<path d="M684.4 493.1 L681.8 492.9 L679.1 492.7 L676.2 491.3 L673.5 491.1 L671.1 492.3 L668.3 491.8 L665.5 491.5 L663.1 492.9 L660 491.9 L657.8 493.6 L654.7 492.9 L652.5 494.5 L649.8 495 L646.9 495 L644.2 495.6 L642.1 497.4 L639 497.1 L636.7 498.7 L634 499.3 L631.3 500 L629.9 503.2 L626.8 503.2 L624.5 504.6 L623.1 507.5 L620.9 509.2 L618.5 510.4 L616.4 512 L614.4 513.9 L612.6 516 L610.4 517.5 L608.2 519 L606.4 521 L603.9 522.2 L602.2 524.3 L600 525.9 L597.7 527.4 L597 530.5 L595.4 532.7 L592.7 533.7 L592.1 536.8 L591.1 539.4 L589.1 541.2 L586.9 542.8 L586.8 546.1 L584.2 547.5 L583.7 550.3 L582.6 552.7 L582.5 555.8 L580.8 557.7 L580 560.3 L579.3 562.9 L576.9 564.5 L577.3 567.6 L577.2 570.5 L577 573.2 L576.3 575.6 L574.8 577.7 L575.5 580.7 L574.9 583.2 L574 585.4 L573.8 588 L575.1 591.1" stroke="#8db4d8" stroke-width="4.8" fill="none" stroke-linejoin="round" stroke-linecap="round" stroke-opacity="0.9"/>
<path d="M574.8 591 L575.2 593.9 L576.7 597.1 L578 600.2 L578 602.8 L580.8 606.1 L579.9 608.4 L582.4 611.4 L582.1 613.8 L582.8 616.2 L584 618.6 L584.3 620.9 L583.8 623 L585.8 625.5 L585 627.5 L585.6 629.7 L586 631.9 L586.5 634.1 L588.2 636.2 L589.1 638.3 L588.3 640.3 L588.9 642.3 L589.7 644.3 L588.8 646.4 L589.7 648.4 L589.3 650.4 L590.8 652.3 L590.3 654.4 L589.4 656.6 L589.5 658.6 L590.2 660.6 L592.1 662.3 L593 664.1 L592.5 666.3 L593.5 668.1 L594.3 670 L593.2 672.4 L594.8 674.1 L595.3 676 L596.7 677.6 L595.9 680.1 L597.4 681.7 L598.2 683.5 L600.2 684.9 L601 686.7 L600.1 689.4 L602 690.7 L603.5 692.2 L604.7 693.8 L603.9 696.5 L605.7 697.9 L607.4 699.2 L608.2 701.1 L609.9 702.3 L609.6 704.9 L611.3 706.2 L613 707.5 L613.2 709.9 L614.9 711.1 L616.3 712.5 L616.4 715.2 L618.4 716.1 L620.1 717.3 L621 719.3 L621.6 721.5 L623 723 L625.9 722.9 L626.7 725 L627.9 726.8 L629.8 727.7 L631.8 728.5 L632.3 731 L634.3 731.9 L635.8 733.3 L638 733.7 L638.7 736.2 L640.5 737.3 L641.9 738.9 L644.4 738.8 L645.7 740.7 L647 742.7 L649.6 742.4 L651.2 744 L652.6 745.9 L655.3 745.2 L657.1 746.4 L658.6 748.4 L660.8 748.6 L662.9 749.1 L664.5 751 L666.3 752.6 L668.5 752.7 L670.7 752.9 L672.4 755 L674.5 755.6 L676.8 755.3 L678.8 756.4 L680.9 756.6 L683.1 756.9 L685.3 756.7 L687.3 758.1" stroke="#8fdb6c" stroke-width="4.8" fill="none" stroke-linejoin="round" stroke-linecap="round" stroke-opacity="0.9"/>
<path d="M687.5 756.9 L689.6 757.4 L691.5 759.5 L693.8 758.4 L695.8 759.4 L698.1 758 L700.2 758.8 L702.3 759.5 L704.4 760.4 L706.6 759.6 L708.7 758.8 L710.9 759.5 L713.1 759.4 L715.2 758.9 L717.3 758.7 L719.5 758.8 L721.5 757.8 L723.7 758 L725.9 757.9 L728.1 758.2 L729.9 756.4 L732 756.2 L734.3 756.6 L736 754.8 L737.9 753.9 L740.4 754.7 L742.3 753.8 L744.5 753.5 L746.5 752.8 L748.2 751.5 L750.1 750.4 L751.9 749.4 L754.1 749.1 L755.9 748 L757.5 746.3 L759.5 745.6 L761.4 744.8 L763.2 743.6 L765 742.6 L766.8 741.4 L769.5 741.8 L770.5 739.5 L772 738 L774.5 737.8 L775.5 735.6 L776.9 734 L779.8 734.2 L780.8 732.2 L782.4 730.8 L783.2 728.5 L786.1 728.6 L786.5 725.9 L789.1 725.6 L790.3 723.8 L792.2 722.7 L793.6 721.1 L794 718.6 L795.8 717.4 L798 716.5 L799.1 714.7 L800 712.7 L800.1 710.1 L802.2 709.1 L803.5 707.4 L804.6 705.6 L806.6 704.4 L807.4 702.4 L807.2 699.8 L809.7 698.9 L810.4 696.8 L811.8 695.2 L812.4 693.1 L812.2 690.7 L814.5 689.5 L814 686.9 L814.6 684.9 L815.3 683 L815.6 680.8 L817.5 679.3 L817.9 677.2 L816.4 674.6 L816.8 672.5 L818.6 670.9 L818.9 668.9 L818 666.5 L818.8 664.6 L817.7 662.3 L819.3 660.6 L817.8 658.2 L818.9 656.4 L818.9 654.3 L817.8 652.2 L818.5 650.2 L819.9 648.4 L818.8 646.3 L819.5 644.3 L817.7 642.2 L817.4 640.3 L818 638.3 L818.1 636.3 L817.7 634.3 L817.4 632.3 L818.7 630.2 L817.6 628.2 L818.5 626.1 L817.1 624.2 L817.3 622.2 L818.4 619.9 L817.5 618 L817 616.1 L816 614.2 L816.6 612 L816.5 609.9 L816.8 607.7 L814.6 606.2 L816.1 603.6 L814.5 601.9 L814.8 599.6 L813.2 598" stroke="#eb9eab" stroke-width="4.8" fill="none" stroke-linejoin="round" stroke-linecap="round" stroke-opacity="0.9"/>
<path d="M815.3 597.2 L813.7 595.5 L812.6 593.7 L812.5 591.4 L812.4 589.1 L811.7 587.1 L811.1 585 L809.9 583.2 L809.4 581 L808.3 579.1 L807 577.4 L806 575.5 L804.4 573.9 L803.4 572 L802.1 570.3 L802.5 567.3 L800.4 566.3 L799.8 564.1 L799.1 562 L796.9 561 L796.3 558.7 L795.8 556.4 L792.8 556.2 L793.1 553 L791 552.1 L789.3 550.7 L787.7 549.4 L786.3 547.8 L784.9 546.2 L783.3 544.7 L781.9 543.1 L780.6 541.2 L779.6 539 L777.4 538.4 L776.1 536.5 L774.1 535.5 L772.6 533.9 L771 532.4 L769.5 530.6 L766.8 530.9 L765.3 529.2 L763.8 527.4 L761.9 526.2 L760.6 523.9 L758 524.1 L756.1 523.1 L754.8 520.5 L752.7 519.7 L750.4 519.6 L748.8 517.5 L746.8 516.2 L744.6 515.7 L742.6 514.7 L740.8 512.7 L738.4 513 L736.2 512.2 L734.3 510.7 L732 510.6 L730.2 507.9 L727.7 508.4 L725.4 508 L723.3 506.4 L721 506.3 L718.9 504.1 L716.7 502.8 L714.3 502.2 L711.8 504 L709.6 501.9 L707.2 501.9 L704.8 501.5 L702.4 502.4 L700 501.9 L697.6 500.7 L695.2 501 L692.7 500.2 L690.2 499.8 L688 501.5 L685.3 499.9" stroke="#cfaae9" stroke-width="4.8" fill="none" stroke-linejoin="round" stroke-linecap="round" stroke-opacity="0.9"/>
<g shape-rendering="crispEdges">
<path fill="#fdcab5" d="M693.2 553.3h4v4h-4zM693.2 556.9h4v4h-4zM693.2 560.5h4v4h-4zM693.2 564.1h4v4h-4zM696.8 567.7h4v4h-4zM696.8 571.4h4v4h-4zM696.8 575h4v4h-4zM696.8 578.6h4v4h-4zM696.8 582.2h4v4h-4zM696.8 585.8h4v4h-4zM696.8 589.4h4v4h-4zM696.8 593h4v4h-4zM696.8 596.6h4v4h-4zM696.8 600.3h4v4h-4zM693.2 603.9h7.6v4h-7.6zM689.6 607.5h7.6v4h-7.6zM675.1 611.1h14.9v4h-14.9zM620.9 614.7h25.7v4h-25.7zM649.8 614.7h18.5v4h-18.5zM639 618.3h14.9v4h-14.9zM664.3 679.7h4v4h-4zM660.7 683.3h11.2v4h-11.2zM660.7 687h14.9v4h-14.9zM667.9 690.6h11.2v4h-11.2zM675.1 694.2h4v4h-4z"/>
<path fill="#fedccc" d="M696.8 553.3h4v4h-4zM696.8 556.9h4v4h-4zM696.8 560.5h4v4h-4zM696.8 564.1h4v4h-4zM700.4 571.4h4v4h-4zM700.4 575h4v4h-4zM700.4 578.6h4v4h-4zM700.4 582.2h7.6v4h-7.6zM700.4 585.8h7.6v4h-7.6zM700.4 589.4h7.6v4h-7.6zM700.4 593h11.2v4h-11.2zM700.4 596.6h11.2v4h-11.2zM700.4 600.3h11.2v4h-11.2zM700.4 603.9h7.6v4h-7.6zM696.8 607.5h11.2v4h-11.2zM689.6 611.1h14.9v4h-14.9zM667.9 614.7h29.3v4h-29.3zM620.9 618.3h18.5v4h-18.5zM653.4 618.3h25.7v4h-25.7zM620.9 621.9h54.6v4h-54.6zM624.5 625.5h40.2v4h-40.2zM628.1 629.2h11.2v4h-11.2zM649.8 661.7h32.9v4h-32.9zM646.2 665.3h40.2v4h-40.2zM649.8 668.9h40.2v4h-40.2zM653.4 672.5h40.2v4h-40.2zM657 676.1h36.5v4h-36.5zM660.7 679.7h4v4h-4zM667.9 679.7h25.7v4h-25.7zM671.5 683.3h22.1v4h-22.1zM675.1 687h18.5v4h-18.5zM678.7 690.6h14.9v4h-14.9zM678.7 694.2h14.9v4h-14.9z"/>
<path fill="#f9e4db" d="M700.4 553.3h18.5v4h-18.5zM700.4 556.9h18.5v4h-18.5zM700.4 560.5h18.5v4h-18.5zM700.4 564.1h18.5v4h-18.5zM700.4 567.7h18.5v4h-18.5zM704 571.4h18.5v4h-18.5zM704 575h18.5v4h-18.5zM704 578.6h18.5v4h-18.5zM707.7 582.2h14.9v4h-14.9zM707.7 585.8h14.9v4h-14.9zM707.7 589.4h14.9v4h-14.9zM711.3 593h11.2v4h-11.2zM711.3 596.6h11.2v4h-11.2zM711.3 600.3h11.2v4h-11.2zM707.7 603.9h14.9v4h-14.9zM707.7 607.5h14.9v4h-14.9zM704 611.1h18.5v4h-18.5zM696.8 614.7h25.7v4h-25.7zM678.7 618.3h43.8v4h-43.8zM675.1 621.9h47.4v4h-47.4zM664.3 625.5h58.2v4h-58.2zM639 629.2h83.5v4h-83.5zM628.1 632.8h94.4v4h-94.4zM628.1 636.4h94.4v4h-94.4zM631.7 640h90.8v4h-90.8zM635.4 643.6h90.8v4h-90.8zM635.4 647.2h90.8v4h-90.8zM639 650.8h90.8v4h-90.8zM642.6 654.4h90.8v4h-90.8zM642.6 658.1h87.2v4h-87.2zM642.6 661.7h7.6v4h-7.6zM682.4 661.7h47.4v4h-47.4zM686 665.3h40.2v4h-40.2zM689.6 668.9h36.5v4h-36.5zM693.2 672.5h29.3v4h-29.3zM693.2 676.1h29.3v4h-29.3zM693.2 679.7h29.3v4h-29.3zM693.2 683.3h25.7v4h-25.7zM693.2 687h22.1v4h-22.1zM693.2 690.6h18.5v4h-18.5zM693.2 694.2h18.5v4h-18.5zM700.4 697.8h11.2v4h-11.2z"/>
<path fill="#f2eae8" d="M718.5 553.3h7.6v4h-7.6zM718.5 556.9h14.9v4h-14.9zM718.5 560.5h29.3v4h-29.3zM718.5 564.1h32.9v4h-32.9zM718.5 567.7h36.5v4h-36.5zM722.1 571.4h14.9v4h-14.9zM740.2 571.4h18.5v4h-18.5zM722.1 575h14.9v4h-14.9zM743.8 575h14.9v4h-14.9zM722.1 578.6h14.9v4h-14.9zM747.4 578.6h14.9v4h-14.9zM722.1 582.2h14.9v4h-14.9zM747.4 582.2h14.9v4h-14.9zM722.1 585.8h14.9v4h-14.9zM743.8 585.8h18.5v4h-18.5zM722.1 589.4h40.2v4h-40.2zM722.1 593h40.2v4h-40.2zM722.1 596.6h36.5v4h-36.5zM722.1 600.3h36.5v4h-36.5zM722.1 603.9h36.5v4h-36.5zM722.1 607.5h40.2v4h-40.2zM722.1 611.1h43.8v4h-43.8zM722.1 614.7h43.8v4h-43.8zM722.1 618.3h43.8v4h-43.8zM722.1 621.9h14.9v4h-14.9zM740.2 621.9h25.7v4h-25.7zM722.1 625.5h14.9v4h-14.9zM743.8 625.5h22.1v4h-22.1zM722.1 629.2h11.2v4h-11.2zM747.4 629.2h18.5v4h-18.5zM722.1 632.8h11.2v4h-11.2zM751 632.8h11.2v4h-11.2zM722.1 636.4h11.2v4h-11.2zM751 636.4h11.2v4h-11.2zM722.1 640h14.9v4h-14.9zM743.8 640h14.9v4h-14.9zM725.7 643.6h29.3v4h-29.3zM725.7 647.2h25.7v4h-25.7zM729.3 650.8h22.1v4h-22.1zM733 654.4h14.9v4h-14.9zM729.3 658.1h14.9v4h-14.9zM729.3 661.7h14.9v4h-14.9zM725.7 665.3h18.5v4h-18.5zM725.7 668.9h11.2v4h-11.2zM722.1 672.5h14.9v4h-14.9zM722.1 676.1h14.9v4h-14.9zM722.1 679.7h11.2v4h-11.2zM718.5 683.3h14.9v4h-14.9zM714.9 687h14.9v4h-14.9zM711.3 690.6h14.9v4h-14.9z"/>
<path fill="#fb7d5d" d="M678.7 556.9h4v4h-4zM678.7 560.5h4v4h-4zM682.4 567.7h4v4h-4zM682.4 596.6h4v4h-4zM675.1 600.3h4v4h-4zM635.4 603.9h4v4h-4zM664.3 603.9h4v4h-4z"/>
<path fill="#fc8d6d" d="M682.4 556.9h4v4h-4zM682.4 560.5h4v4h-4zM686 571.4h4v4h-4zM686 589.4h4v4h-4zM686 593h4v4h-4zM686 596.6h4v4h-4zM682.4 600.3h4v4h-4zM624.5 603.9h7.6v4h-7.6zM671.5 603.9h4v4h-4zM642.6 607.5h4v4h-4zM649.8 607.5h7.6v4h-7.6z"/>
<path fill="#fc9c7e" d="M686 556.9h4v4h-4zM686 560.5h4v4h-4zM686 564.1h4v4h-4zM689.6 575h4v4h-4zM689.6 578.6h4v4h-4zM689.6 582.2h4v4h-4zM689.6 585.8h4v4h-4zM689.6 589.4h4v4h-4zM689.6 593h4v4h-4zM686 600.3h4v4h-4zM678.7 603.9h4v4h-4zM631.7 607.5h4v4h-4zM667.9 607.5h4v4h-4z"/>
<path fill="#fcb499" d="M689.6 556.9h4v4h-4zM689.6 560.5h4v4h-4zM693.2 578.6h4v4h-4zM693.2 582.2h4v4h-4zM693.2 585.8h4v4h-4zM693.2 589.4h4v4h-4zM693.2 593h4v4h-4zM693.2 596.6h4v4h-4zM678.7 607.5h7.6v4h-7.6zM631.7 611.1h7.6v4h-7.6zM660.7 611.1h7.6v4h-7.6z"/>
<path fill="#ed392b" d="M664.3 560.5h4v4h-4zM653.4 564.1h7.6v4h-7.6zM667.9 567.7h4v4h-4zM635.4 575h4v4h-4zM671.5 575h4v4h-4zM671.5 578.6h4v4h-4zM631.7 582.2h4v4h-4zM671.5 582.2h4v4h-4zM635.4 585.8h4v4h-4zM667.9 589.4h4v4h-4zM664.3 593h4v4h-4zM642.6 596.6h4v4h-4zM649.8 596.6h11.2v4h-11.2z"/>
<path fill="#f34a36" d="M667.9 560.5h4v4h-4zM671.5 567.7h4v4h-4zM675.1 575h4v4h-4zM675.1 578.6h4v4h-4zM675.1 582.2h4v4h-4zM631.7 589.4h4v4h-4zM671.5 589.4h4v4h-4zM635.4 593h4v4h-4zM639 596.6h4v4h-4zM667.9 596.6h4v4h-4zM646.2 600.3h7.6v4h-7.6z"/>
<path fill="#f85c41" d="M671.5 560.5h4v4h-4zM675.1 567.7h4v4h-4zM678.7 575h4v4h-4zM678.7 578.6h4v4h-4zM678.7 582.2h4v4h-4zM628.1 589.4h4v4h-4zM675.1 589.4h4v4h-4zM624.5 593h7.6v4h-7.6zM675.1 593h4v4h-4zM631.7 596.6h4v4h-4zM671.5 596.6h4v4h-4zM639 600.3h4v4h-4zM660.7 600.3h7.6v4h-7.6z"/>
<path fill="#fb6e4e" d="M675.1 560.5h4v4h-4zM678.7 567.7h4v4h-4zM682.4 575h4v4h-4zM682.4 578.6h4v4h-4zM682.4 582.2h4v4h-4zM682.4 585.8h4v4h-4zM678.7 593h4v4h-4zM678.7 596.6h4v4h-4zM631.7 600.3h4v4h-4zM671.5 600.3h4v4h-4zM646.2 603.9h11.2v4h-11.2z"/>
<path fill="#f14130" d="M649.8 564.1h4v4h-4zM667.9 564.1h4v4h-4zM671.5 571.4h4v4h-4zM631.7 585.8h4v4h-4zM671.5 585.8h4v4h-4zM635.4 589.4h4v4h-4zM639 593h4v4h-4zM667.9 593h4v4h-4zM660.7 596.6h7.6v4h-7.6z"/>
<path fill="#e63228" d="M660.7 564.1h7.6v4h-7.6zM646.2 567.7h14.9v4h-14.9zM667.9 571.4h4v4h-4zM635.4 582.2h4v4h-4zM667.9 585.8h4v4h-4zM639 589.4h4v4h-4zM664.3 589.4h4v4h-4zM642.6 593h4v4h-4zM653.4 593h11.2v4h-11.2zM646.2 596.6h4v4h-4z"/>
<path fill="#f5533c" d="M671.5 564.1h4v4h-4zM675.1 571.4h4v4h-4zM628.1 585.8h4v4h-4zM675.1 585.8h4v4h-4zM631.7 593h4v4h-4zM671.5 593h4v4h-4zM635.4 596.6h4v4h-4zM642.6 600.3h4v4h-4zM653.4 600.3h7.6v4h-7.6z"/>
<path fill="#fa6547" d="M675.1 564.1h4v4h-4zM678.7 571.4h4v4h-4zM678.7 585.8h4v4h-4zM678.7 589.4h4v4h-4zM624.5 596.6h7.6v4h-7.6zM675.1 596.6h4v4h-4zM635.4 600.3h4v4h-4zM667.9 600.3h4v4h-4z"/>
<path fill="#fb7656" d="M678.7 564.1h4v4h-4zM682.4 571.4h4v4h-4zM682.4 589.4h4v4h-4zM682.4 593h4v4h-4zM624.5 600.3h7.6v4h-7.6zM639 603.9h7.6v4h-7.6zM657 603.9h7.6v4h-7.6z"/>
<path fill="#fc8565" d="M682.4 564.1h4v4h-4zM686 575h4v4h-4zM686 578.6h4v4h-4zM686 582.2h4v4h-4zM686 585.8h4v4h-4zM678.7 600.3h4v4h-4zM631.7 603.9h4v4h-4zM667.9 603.9h4v4h-4zM646.2 607.5h4v4h-4z"/>
<path fill="#fcac90" d="M689.6 564.1h4v4h-4zM689.6 567.7h4v4h-4zM689.6 600.3h4v4h-4zM686 603.9h4v4h-4zM675.1 607.5h4v4h-4zM639 611.1h4v4h-4zM653.4 611.1h7.6v4h-7.6z"/>
<path fill="#df2c25" d="M660.7 567.7h7.6v4h-7.6zM642.6 571.4h4v4h-4zM639 575h4v4h-4zM667.9 575h4v4h-4zM635.4 578.6h4v4h-4zM667.9 578.6h4v4h-4zM667.9 582.2h4v4h-4zM639 585.8h4v4h-4zM664.3 585.8h4v4h-4zM642.6 589.4h4v4h-4zM657 589.4h7.6v4h-7.6zM646.2 593h7.6v4h-7.6z"/>
<path fill="#fc9475" d="M686 567.7h4v4h-4zM675.1 603.9h4v4h-4zM635.4 607.5h7.6v4h-7.6zM657 607.5h11.2v4h-11.2z"/>
<path fill="#fcb89d" d="M693.2 567.7h4v4h-4zM686 607.5h4v4h-4zM671.5 611.1h4v4h-4zM646.2 614.7h4v4h-4z"/>
<path fill="#d82523" d="M646.2 571.4h22.1v4h-22.1zM642.6 575h4v4h-4zM639 578.6h4v4h-4zM639 582.2h4v4h-4zM642.6 585.8h4v4h-4zM657 585.8h7.6v4h-7.6zM646.2 589.4h11.2v4h-11.2z"/>
<path fill="#fca487" d="M689.6 571.4h4v4h-4zM689.6 596.6h4v4h-4zM682.4 603.9h4v4h-4zM624.5 607.5h7.6v4h-7.6zM671.5 607.5h4v4h-4zM642.6 611.1h11.2v4h-11.2z"/>
<path fill="#fcbca2" d="M693.2 571.4h4v4h-4zM693.2 575h4v4h-4zM693.2 600.3h4v4h-4zM689.6 603.9h4v4h-4zM620.9 611.1h11.2v4h-11.2zM667.9 611.1h4v4h-4z"/>
<path fill="#eaecf0" d="M736.6 571.4h4v4h-4zM736.6 575h7.6v4h-7.6zM736.6 578.6h11.2v4h-11.2zM736.6 582.2h11.2v4h-11.2zM736.6 585.8h7.6v4h-7.6zM736.6 621.9h4v4h-4zM736.6 625.5h7.6v4h-7.6zM733 629.2h14.9v4h-14.9zM733 632.8h18.5v4h-18.5zM733 636.4h18.5v4h-18.5zM736.6 640h7.6v4h-7.6z"/>
<path fill="#ca181d" d="M646.2 575h4v4h-4zM642.6 578.6h4v4h-4zM657 578.6h7.6v4h-7.6zM649.8 582.2h11.2v4h-11.2zM646.2 585.8h4v4h-4z"/>
<path fill="#d11e20" d="M649.8 575h18.5v4h-18.5zM664.3 578.6h4v4h-4zM642.6 582.2h4v4h-4zM660.7 582.2h7.6v4h-7.6zM649.8 585.8h7.6v4h-7.6z"/>
<path fill="#bc141a" d="M646.2 578.6h4v4h-4z"/>
<path fill="#c3161b" d="M649.8 578.6h7.6v4h-7.6zM646.2 582.2h4v4h-4z"/>
</g>
<path d="M693.2 553.3h3.6M693.2 553.3v3.6M696.8 553.3h3.6M700.4 553.3h3.6M704 553.3h3.6M707.7 553.3h3.6M711.3 553.3h3.6M714.9 553.3h3.6M718.5 553.3h3.6M722.1 553.3h3.6M725.7 553.3v3.6M678.7 556.9h3.6M678.7 556.9v3.6M682.4 556.9h3.6M686 556.9h3.6M689.6 556.9h3.6M725.7 556.9h3.6M729.3 556.9h3.6M733 556.9v3.6M664.3 560.5h3.6M664.3 560.5v3.6M667.9 560.5h3.6M671.5 560.5h3.6M675.1 560.5h3.6M733 560.5h3.6M736.6 560.5h3.6M740.2 560.5h3.6M743.8 560.5h3.6M747.4 560.5v3.6M649.8 564.1h3.6M649.8 564.1v3.6M653.4 564.1h3.6M657 564.1h3.6M660.7 564.1h3.6M747.4 564.1h3.6M751 564.1v3.6M646.2 567.7h3.6M646.2 567.7v3.6M751 567.7h3.6M754.7 567.7v3.6M642.6 571.4h3.6M642.6 571.4v3.6M754.7 571.4h3.6M758.3 571.4v3.6M635.4 575h3.6M635.4 575v3.6M639 575h3.6M758.3 575v3.6M635.4 578.6v3.6M758.3 578.6h3.6M761.9 578.6v3.6M631.7 582.2h3.6M631.7 582.2v3.6M761.9 582.2v3.6M628.1 585.8h3.6M628.1 585.8v3.6M761.9 585.8v3.6M628.1 589.4v3.6M761.9 589.4v3.6M624.5 593h3.6M624.5 593v3.6M758.3 596.6h3.6M761.9 593v3.6M624.5 596.6v3.6M758.3 596.6v3.6M624.5 600.3v3.6M758.3 600.3v3.6M624.5 603.9v3.6M758.3 603.9v3.6M624.5 607.5v3.6M758.3 607.5h3.6M761.9 607.5v3.6M620.9 611.1h3.6M620.9 611.1v3.6M761.9 611.1h3.6M765.5 611.1v3.6M620.9 614.7v3.6M765.5 614.7v3.6M620.9 618.3v3.6M765.5 618.3v3.6M620.9 625.5h3.6M620.9 621.9v3.6M765.5 621.9v3.6M624.5 629.2h3.6M624.5 625.5v3.6M765.5 625.5v3.6M628.1 629.2v3.6M761.9 632.8h3.6M765.5 629.2v3.6M628.1 632.8v3.6M761.9 632.8v3.6M628.1 640h3.6M628.1 636.4v3.6M758.3 640h3.6M761.9 636.4v3.6M631.7 643.6h3.6M631.7 640v3.6M754.7 643.6h3.6M758.3 640v3.6M635.4 643.6v3.6M751 647.2h3.6M754.7 643.6v3.6M635.4 650.8h3.6M635.4 647.2v3.6M751 647.2v3.6M639 654.4h3.6M639 650.8v3.6M747.4 654.4h3.6M751 650.8v3.6M642.6 654.4v3.6M743.8 658.1h3.6M747.4 654.4v3.6M642.6 658.1v3.6M743.8 658.1v3.6M642.6 665.3h3.6M642.6 661.7v3.6M743.8 661.7v3.6M646.2 668.9h3.6M646.2 665.3v3.6M736.6 668.9h3.6M740.2 668.9h3.6M743.8 665.3v3.6M649.8 672.5h3.6M649.8 668.9v3.6M736.6 668.9v3.6M653.4 676.1h3.6M653.4 672.5v3.6M736.6 672.5v3.6M657 679.7h3.6M657 676.1v3.6M733 679.7h3.6M736.6 676.1v3.6M660.7 679.7v3.6M733 679.7v3.6M660.7 683.3v3.6M729.3 687h3.6M733 683.3v3.6M660.7 690.6h3.6M660.7 687v3.6M664.3 690.6h3.6M725.7 690.6h3.6M729.4 687v3.6M667.9 694.2h3.6M667.9 690.6v3.6M671.5 694.2h3.6M711.3 694.2h3.6M714.9 694.2h3.6M718.5 694.2h3.6M722.1 694.2h3.6M725.7 690.6v3.6M675.1 697.8h3.6M675.1 694.2v3.6M678.7 697.8h3.6M682.4 697.8h3.6M686 697.8h3.6M689.6 697.8h3.6M693.2 697.8h3.6M696.8 697.8h3.6M711.3 694.2v3.6M700.4 701.4h3.6M700.4 697.8v3.6M704 701.4h3.6M707.7 701.4h3.6M711.3 697.8v3.6" stroke="#7a7a7a" stroke-width="1.8" fill="none" stroke-linecap="square"/>
<text x="711.2" y="722.9" font-size="24" text-anchor="middle" stroke="#000" stroke-width="0.3" textLength="112.6" lengthAdjust="spacing">45-54 min</text>
<text x="850.4" y="508.6" font-size="22.5" text-anchor="middle" stroke="#000" stroke-width="0.3" textLength="47.5" lengthAdjust="spacing" transform="rotate(45 850.4 501.1)">1e-1</text>
<text x="814.5" y="533" font-size="22.5" text-anchor="middle" stroke="#000" stroke-width="0.3" textLength="47.5" lengthAdjust="spacing" transform="rotate(45 814.5 525.5)">5e-2</text>
<defs><linearGradient id="cbe" x1="0" y1="0" x2="0" y2="1"><stop offset="0.0000" stop-color="#67000d"/><stop offset="0.0625" stop-color="#a50f15"/><stop offset="0.1250" stop-color="#cb181d"/><stop offset="0.1875" stop-color="#ef3b2c"/><stop offset="0.2500" stop-color="#fb6a4a"/><stop offset="0.3125" stop-color="#fc9272"/><stop offset="0.3750" stop-color="#fcbba1"/><stop offset="0.4375" stop-color="#fee0d2"/><stop offset="0.5000" stop-color="#f0ecec"/><stop offset="0.5625" stop-color="#deebf7"/><stop offset="0.6250" stop-color="#c6dbef"/><stop offset="0.6875" stop-color="#9ecae1"/><stop offset="0.7500" stop-color="#6baed6"/><stop offset="0.8125" stop-color="#4292c6"/><stop offset="0.8750" stop-color="#2171b5"/><stop offset="0.9375" stop-color="#08519c"/><stop offset="1.0000" stop-color="#08306b"/></linearGradient></defs><rect x="909" y="691.8" width="25" height="127.5" fill="url(#cbe)"/>
<text x="917.5" y="684.4" font-size="23" text-anchor="middle" stroke="#000" stroke-width="0.3" textLength="48.6" lengthAdjust="spacing">1e-1</text>
<text x="917.5" y="847.7" font-size="23" text-anchor="middle" stroke="#000" stroke-width="0.3" textLength="48.6" lengthAdjust="spacing">1e-1</text>
<text x="941" y="753" font-size="23.5" text-anchor="middle" stroke="#000" stroke-width="0.3" textLength="125.4" lengthAdjust="spacing" transform="rotate(90 941 753)">(arb. units )</text>
<text x="974.5" y="751.8" font-size="24" text-anchor="middle" stroke="#000" stroke-width="0.3" textLength="175.9" lengthAdjust="spacing" transform="rotate(90 974.5 751.8)">Current Density</text>
<rect x="824.6" y="805.5" width="69.6" height="7.7" fill="#000"/>
<text x="539.5" y="493" font-size="43" font-weight="bold">e</text>
<line x1="980.2" y1="638.3" x2="1390.2" y2="638.3" stroke="#9a9a9a" stroke-width="1" stroke-dasharray="6 2 1.5 2"/>
<line x1="1185.2" y1="433.3" x2="1185.2" y2="843.3" stroke="#9a9a9a" stroke-width="1" stroke-dasharray="6 2 1.5 2"/>
<circle cx="1185.2" cy="638.3" r="109.6" fill="#fff" stroke="#505050" stroke-width="2"/>
<path d="M1167.9 515.4 L1165.7 515.3 L1163.7 516.5 L1161.6 516.7 L1159.6 517.9 L1157 516.3 L1154.8 516.3 L1153.5 520 L1150.9 518.5 L1148.8 519.1 L1147.3 521.7 L1144.4 519.9 L1143.3 523.2 L1140.4 521.6 L1139 524 L1136.5 523.7 L1134.1 523.5 L1132.1 524.5 L1130.9 526.9 L1129.3 528.6 L1126.7 528.2 L1125.2 530.1 L1123.4 531.3 L1121.1 531.6 L1119.3 532.8 L1117.4 533.9 L1115.8 535.4 L1114 536.6 L1113.1 539.1 L1110.5 539.1 L1108.2 539.8 L1107.3 542.1 L1105.5 543.3 L1103.1 543.8 L1102.5 546.4 L1099.8 546.7 L1099.1 549.2 L1096.3 549.4 L1095.3 551.5 L1093.5 552.7 L1093.2 555.5 L1090.9 556.3 L1090.9 559.2 L1089.7 560.9 L1088.6 562.8 L1087.5 564.7 L1084.1 564.9 L1083.6 567.1 L1083.4 569.7 L1080.9 570.6 L1079.7 572.4 L1080 575.1 L1078.5 576.7 L1077.4 578.6 L1074.8 579.6 L1076 582.7 L1075.1 584.6 L1074.3 586.6 L1070.8 587.3 L1071.1 589.9 L1069.3 591.5 L1070 594.1 L1068.8 595.9 L1069.1 598.3 L1068.6 600.4 L1080.1 604.2 L1080.9 602.4 L1083.5 601.3 L1081.8 598.6 L1084 597.4 L1083.5 595.1 L1084.9 593.7 L1084.8 591.5 L1085.6 589.7 L1087.1 588.3 L1090.1 587.7 L1088.9 584.9 L1090.2 583.5 L1093 582.9 L1093.8 581.2 L1095.2 579.8 L1096 578.1 L1096.9 576.5 L1096.7 574 L1098.2 572.7 L1100.9 572.5 L1100.5 569.7 L1102.5 568.9 L1103.5 567.3 L1106 567 L1106.6 565 L1106.8 562.6 L1109.1 562.2 L1111.1 561.5 L1112.3 560.1 L1114 559.2 L1115.2 557.8 L1115 554.6 L1118.4 555.7 L1118.4 552.8 L1120.7 552.8 L1122.1 551.4 L1123.6 550.4 L1124.4 548.1 L1126 547.1 L1128.2 547.1 L1129.6 545.7 L1131.3 545 L1133.3 544.6 L1133.9 541.7 L1135.7 541.2 L1137 539.5 L1138.7 538.6 L1141 539.1 L1142.7 538.3 L1144.4 537.4 L1146.3 537 L1148.3 536.8 L1149.3 534 L1151.5 534.6 L1153.1 533.4 L1154.8 532.4 L1157.3 534.3 L1158.6 531.6 L1160.5 531.2 L1162.7 532.6 L1163.9 528.8 L1166 529.6 L1168.2 530.8 L1170 530.1Z" stroke="none" stroke-width="0" fill="#c3dbea" fill-opacity="0.85"/>
<path d="M1068.9 600.5 L1066 601.9 L1066.9 604.4 L1064.6 606 L1064.8 608.3 L1062.6 610 L1062.4 612.2 L1064.1 614.8 L1064.1 616.9 L1062.6 618.9 L1062.9 621.1 L1060.4 623 L1060.6 625.2 L1060.6 627.4 L1061 629.6 L1062 631.8 L1060.7 634 L1059.5 636.1 L1061.9 638.3 L1061.1 640.5 L1062.4 642.6 L1060.7 644.8 L1060 647.1 L1062.8 649 L1062.1 651.2 L1063.5 653.2 L1063.8 655.4 L1062 657.8 L1063.1 659.8 L1063.9 661.9 L1065.5 663.7 L1063.6 666.4 L1063.9 668.5 L1063.7 670.8 L1066.4 672.4 L1068.2 674.1 L1068.8 676.1 L1069 678.3 L1069.7 680.3 L1069.4 682.8 L1070.1 684.8 L1070.3 687.1 L1073.2 688.2 L1071.4 691.4 L1074.8 692.1 L1075 694.5 L1076.3 696.2 L1076.6 698.5 L1077.1 700.7 L1078.6 702.4 L1081 703.4 L1081.5 705.6 L1083.3 707 L1083 709.8 L1086.1 710.3 L1086.2 712.9 L1088.1 714.1 L1088.9 716.3 L1091.6 716.9 L1090.9 720.3 L1092.7 721.6 L1095.1 722.3 L1095.7 724.7 L1097.1 726.4 L1098.7 727.9 L1100.3 729.4 L1102.1 730.5 L1104.1 731.6 L1105.7 733.1 L1105.7 736.5 L1107.3 738 L1110.6 737.3 L1112.5 738.3 L1114.4 739.4 L1115.4 741.8 L1116.5 744.2 L1118.9 744.4 L1120.1 746.7 L1123.1 745.8 L1125.2 746.6 L1126.6 748.5 L1127.5 751.6 L1130.9 749.7 L1132.2 751.9 L1133.5 754.5 L1136.1 753.9 L1138.1 754.8 L1139.6 757.1 L1142.3 756.3 L1143.6 759.5 L1146.5 758.3 L1148.5 759.7 L1150.7 760.5 L1152.5 763.3 L1155.1 762.6 L1157.4 762.9 L1159.3 765.5 L1161.5 766.9 L1163.9 767.5 L1166.3 768.1 L1169 749.1 L1167.3 747.1 L1165.2 747.2 L1163.2 746.8 L1161.5 744.9 L1158.9 746.7 L1157.6 743.8 L1154.9 745.9 L1153.6 742.8 L1151.5 743 L1149.6 742.2 L1147.9 740.7 L1145.3 742.2 L1144.5 739.1 L1142.1 739.7 L1140.1 739.6 L1138.2 739 L1136.6 737.9 L1135 736.9 L1133.7 735.1 L1131.8 734.7 L1130.9 732.3 L1128.1 733.3 L1126.6 732.2 L1125.4 730.4 L1124.4 728.4 L1122.3 728.1 L1121.5 726 L1119 726.1 L1116.8 725.8 L1115.6 724.3 L1114 723.1 L1113.2 721.1 L1111.2 720.5 L1109.3 719.7 L1107.7 718.6 L1108.2 715.3 L1106.5 714.3 L1104.5 713.6 L1103.7 711.7 L1102.7 710 L1102.3 707.9 L1100.3 707.1 L1099.4 705.3 L1097.4 704.5 L1096.9 702.4 L1095.5 701.1 L1094.9 699.2 L1092 698.8 L1091 697.2 L1089.7 695.7 L1088.9 693.9 L1089.8 691.2 L1088.3 689.8 L1088.3 687.7 L1085.2 687.1 L1084.9 685.1 L1083.8 683.5 L1084.1 681.2 L1082.5 679.8 L1081.3 678.2 L1082 675.9 L1080.1 674.5 L1080.2 672.4 L1081.3 670.1 L1080.2 668.4 L1079.5 666.6 L1079.3 664.7 L1077.3 663.2 L1079 660.9 L1076.8 659.4 L1075.8 657.6 L1075.3 655.7 L1077.4 653.5 L1077.5 651.5 L1074.8 649.9 L1075.8 647.9 L1074.9 646 L1076.8 644 L1073.8 642.2 L1074.6 640.2 L1076.4 638.3 L1073.4 636.3 L1074.1 634.4 L1075.9 632.6 L1076.5 630.7 L1074.8 628.6 L1075.3 626.7 L1077.7 625.1 L1077.3 623.1 L1074.9 620.8 L1077.9 619.4 L1077.7 617.4 L1077.9 615.5 L1079.4 613.9 L1078.6 611.7 L1078.4 609.7 L1078.6 607.7 L1081.3 606.5 L1081.9 604.7Z" stroke="none" stroke-width="0" fill="#d6f1c4" fill-opacity="0.85"/>
<path d="M1165.9 770.4 L1167.7 775 L1170.3 773.7 L1172.5 776.8 L1174.9 777.9 L1177.3 778.5 L1179.6 782.5 L1182.2 781.6 L1184.7 785.8 L1187.3 783.7 L1190 786.2 L1192.8 789.5 L1195.5 790 L1198.3 791.3 L1201 790.8 L1204.1 794.2 L1206.8 793.3 L1209.9 795 L1212.9 795.8 L1215.7 795.6 L1218.5 795 L1222.2 798.3 L1225.1 797.9 L1227.8 796.5 L1230.9 797 L1233.7 796 L1236.8 796.2 L1239.1 793.6 L1242.7 795.2 L1245.4 793.7 L1248.5 793.6 L1251.1 792.1 L1254.9 793.2 L1258 792.7 L1261.2 792.3 L1262.8 788.7 L1265.6 787.7 L1269.8 788.9 L1271.7 786.1 L1276.2 787.7 L1278.2 785 L1281.9 784.9 L1283.4 781.6 L1287 781.4 L1290.4 780.8 L1293.8 780.1 L1294.9 776.3 L1297.8 774.9 L1301 773.8 L1303.8 772.1 L1306.1 769.8 L1307.5 766.6 L1310.6 765.3 L1313.4 763.5 L1314.9 760.5 L1317.7 758.7 L1319.8 756.3 L1321.9 753.9 L1324.7 752 L1327 749.7 L1328.4 746.6 L1332.6 745.7 L1333 742 L1334.9 739.4 L1338 737.5 L1337.7 733.5 L1341 731.7 L1341.2 728 L1344.1 726 L1346.9 723.7 L1346.6 719.9 L1350.4 718.1 L1351.4 714.9 L1351 711.2 L1352.6 708.3 L1354.6 705.6 L1357.1 703.1 L1356.2 699.4 L1358.5 696.7 L1360.2 693.9 L1362 691 L1362.7 687.8 L1364.4 684.9 L1362.2 681 L1365.9 678.5 L1364.7 674.9 L1364.3 671.5 L1365.4 668.4 L1368 665.5 L1367.4 662.2 L1367.4 658.9 L1367.1 655.6 L1367.3 652.3 L1367.7 649.1 L1369.1 645.9 L1369.7 642.7 L1367.4 639.4 L1367.7 636.2 L1367.5 632.9 L1369.7 629.6 L1369.3 626.3 L1367.2 623.1 L1364.2 620 L1364.1 616.7 L1360.3 614 L1361.4 610.5 L1358.2 607.8 L1354.5 605.3 L1351.9 602.7 L1350 600 L1347.1 597.7 L1345.1 595.1 L1342.4 592.8 L1342 589.9 L1337.8 588.2 L1335.2 586.1 L1306.7 596 L1307.1 598.3 L1309.8 599.8 L1307.1 603 L1309.8 604.7 L1308.6 607.3 L1308.7 609.6 L1311.2 611.4 L1309.4 614.1 L1312.9 615.8 L1310.1 618.6 L1310.3 620.9 L1311.5 623.1 L1311.2 625.4 L1314.3 627.5 L1314.5 629.8 L1312.9 632.3 L1313.7 634.5 L1312.8 636.8 L1312.3 639.1 L1312.8 641.3 L1311.4 643.5 L1313.6 645.9 L1312.4 648.1 L1313.2 650.5 L1310.6 652.5 L1312.3 654.9 L1310.8 657 L1309.6 659.1 L1311.7 661.8 L1310.3 663.8 L1308.5 665.7 L1308.8 668.1 L1308.8 670.4 L1306.3 672.1 L1307.9 674.9 L1307.9 677.3 L1306.3 679.1 L1305.3 681.2 L1305.4 683.6 L1303.8 685.5 L1302.7 687.5 L1301.5 689.4 L1300.9 691.6 L1300 693.8 L1297.7 695.2 L1298.3 698.1 L1297 699.9 L1295.8 701.9 L1293.3 703.1 L1293.6 705.9 L1291.1 707.1 L1288.2 707.8 L1287 709.8 L1287.2 712.7 L1286.4 714.9 L1284.5 716.3 L1282.4 717.5 L1279.8 718.3 L1280.5 721.8 L1276.9 721.6 L1275.2 723.1 L1273.4 724.5 L1272.7 726.8 L1271.6 729 L1270 730.5 L1267.3 730.9 L1265.1 731.8 L1263.7 733.5 L1263.3 736.6 L1260.4 736.4 L1257.6 736.3 L1257.5 740 L1253.8 738.5 L1252.2 740 L1251.5 742.9 L1248.3 741.8 L1246.5 743 L1245.3 745.3 L1243.5 746.5 L1241.6 747.6 L1238.6 746.5 L1236.9 747.9 L1235.4 749.9 L1232.5 748.6 L1230 748.2 L1229.1 751.8 L1227 752.3 L1223.8 749.6 L1221.9 750.5 L1220.3 752.5 L1217.8 751.5 L1215.8 751.9 L1214 753.6 L1211.8 753.5 L1210.1 755.3 L1207.4 752.7 L1205.2 752.2 L1203.2 752.4 L1201.5 754.9 L1199.2 753.4 L1197 752.7 L1195.1 753.7 L1193 753.5 L1190.9 751.8 L1188.9 751.5 L1186.8 750.8 L1184.8 750.7 L1182.9 750.2 L1180.8 752.5 L1179 749.1 L1177 748.6 L1174.8 751.5 L1173 749.4 L1171.1 748.7 L1169.3 747.1Z" stroke="none" stroke-width="0" fill="#fad0d0" fill-opacity="0.85"/>
<path d="M1334.7 586.3 L1331.6 584.2 L1331.5 581.1 L1328.4 579.2 L1325.9 577.2 L1324 574.9 L1321.2 573 L1319.7 570.6 L1318 568.3 L1313.1 567.8 L1311.2 565.8 L1310.3 563.2 L1306.7 562.4 L1305.6 560.1 L1302.5 559.2 L1302.5 556.2 L1298.2 556.2 L1296.7 554.3 L1294.3 553.1 L1292.9 551.1 L1291 549.6 L1287.5 549.3 L1287.3 546.4 L1283.1 547 L1281.7 545.1 L1279.1 544.4 L1276.7 543.6 L1276.2 540.7 L1273.5 540.2 L1272.5 537.9 L1269 538.5 L1266.1 538.4 L1265.1 536 L1263.2 534.8 L1260.3 534.9 L1259 532.9 L1256.1 533.3 L1254.3 532 L1251.5 532.2 L1249.5 531.3 L1247.3 530.7 L1246.3 528.1 L1243.4 528.9 L1242.9 525 L1239.5 526.9 L1238.7 523.6 L1236 524.1 L1234.7 521.6 L1232.6 520.9 L1230.6 520.1 L1227.6 521.8 L1226 519.9 L1223.4 520.7 L1221.4 520 L1220 517.1 L1217.7 517.1 L1215.1 518.4 L1213.1 517.3 L1210.9 517.6 L1208.9 516.2 L1206.7 516.6 L1204.7 515.1 L1202.7 513.7 L1200.6 512.7 L1198.4 512.5 L1196.1 513.7 L1194 512.6 L1191.8 511.5 L1189.6 513.5 L1187.4 512.2 L1185.2 510.9 L1183 512.9 L1180.9 513.8 L1178.7 513.8 L1176.5 513.8 L1174.3 514.2 L1171.9 511.5 L1170 514.7 L1167.5 512.1 L1169.9 529.3 L1171.6 527.8 L1173.5 527.4 L1175.7 530 L1177.6 529 L1179.5 529.2 L1181.4 529.8 L1183.3 530.4 L1185.2 528 L1187.1 530.2 L1189 528.6 L1190.9 529.9 L1192.7 531 L1194.8 528.9 L1196.5 530.5 L1198.2 532.5 L1200.5 529.7 L1201.9 533.1 L1203.7 533.4 L1205.9 531.9 L1207.5 533.4 L1209.2 534.4 L1211 534.9 L1212.6 535.9 L1214.7 535.3 L1216.4 536.4 L1217.9 537.7 L1219.9 537.5 L1221.5 538.6 L1223.6 538.3 L1224.5 541.1 L1227.5 538.7 L1229 540 L1229.8 542.7 L1231.1 544.2 L1234 542.5 L1235.8 543.1 L1237.6 543.8 L1239.1 545 L1239.3 548.3 L1241.6 548.1 L1242.4 550.2 L1245.4 549.1 L1246.9 550.2 L1248.7 550.8 L1250.8 551.2 L1251 554.1 L1252.5 555.2 L1255.5 554.5 L1256.4 556.3 L1257.6 557.9 L1259.7 558.4 L1260.3 560.5 L1263 560.5 L1265.7 560.6 L1266.5 562.5 L1267 564.6 L1269.7 564.9 L1272.2 565.3 L1272.9 567.2 L1273.8 569.1 L1275 570.7 L1276.8 571.7 L1280.1 571.8 L1279.8 574.5 L1281.9 575.5 L1283.3 577 L1284.3 578.7 L1286.7 579.9 L1288.3 581.5 L1292 582 L1293.7 583.7 L1294.6 585.8 L1297.4 587 L1299.9 588.4 L1302.1 590.1 L1303 592.3 L1306.6 593.5 L1308.4 595.4Z" stroke="none" stroke-width="0" fill="#e5d0f3" fill-opacity="0.85"/>
<circle cx="1185.2" cy="638.3" r="148" fill="none" stroke="#8a8a8a" stroke-width="1" stroke-dasharray="3 2.5" opacity="0.85"/>
<circle cx="1185.2" cy="638.3" r="185.5" fill="none" stroke="#8a8a8a" stroke-width="1" stroke-dasharray="3 2.5" opacity="0.85"/>
<circle cx="1185.2" cy="638.3" r="109.6" fill="none" stroke="#505050" stroke-width="1.6" opacity="0.55"/>
<path d="M1169.1 523.6 L1167 523.4 L1164.7 522 L1162.7 522.4 L1161.1 524.8 L1158.7 523.5 L1156.9 525 L1154.8 524.9 L1153 526 L1150.8 525.9 L1149.3 527.9 L1147.5 528.7 L1145.5 529.3 L1143.3 529.1 L1141.9 531.1 L1139.4 530.4 L1138.3 533 L1136.1 533 L1134.5 534.4 L1132.3 534.4 L1130.7 535.8 L1129.3 537.4 L1126.9 537.3 L1125.6 539.1 L1123.4 539.3 L1122.2 541.3 L1119.7 541.2 L1118.4 542.9 L1117.7 545.4 L1115.5 545.9 L1114.5 547.8 L1111.7 547.5 L1111 549.9 L1108.5 550.1 L1106.9 551.4 L1106 553.3 L1104.7 555 L1102.7 555.8 L1101.6 557.5 L1100.4 559.2 L1099 560.7 L1098.2 562.7 L1097.1 564.3 L1095.7 565.9 L1093.7 566.8 L1092.3 568.3 L1090.8 569.7 L1089.8 571.5 L1088.4 573 L1087.8 575 L1086.2 576.4 L1085.6 578.4 L1084.5 580.2 L1082.6 581.4 L1082.8 583.8 L1081.4 585.4 L1081.3 587.6 L1079.6 589 L1079.4 591.2 L1078.8 593.1 L1076.9 594.5 L1076.1 596.4 L1074.8 598.1 L1075.7 600.6 L1074.4 602.3" stroke="#8db4d8" stroke-width="4.8" fill="none" stroke-linejoin="round" stroke-linecap="round" stroke-opacity="0.9"/>
<path d="M1074.2 602.2 L1074.2 604.4 L1073.5 606.3 L1073 608.2 L1071.9 610 L1072.3 612.2 L1071.5 614.1 L1069.3 615.8 L1069.8 617.9 L1068.8 619.9 L1068.5 621.9 L1068.5 624 L1069.5 626.1 L1069.4 628.2 L1069.6 630.2 L1068.6 632.2 L1067.2 634.2 L1067.5 636.2 L1067.9 638.3 L1069.2 640.3 L1068 642.4 L1068.6 644.4 L1067.3 646.5 L1067.9 648.6 L1068.7 650.5 L1067.9 652.7 L1069.7 654.5 L1069.7 656.6 L1070.5 658.5 L1070 660.7 L1071.6 662.4 L1070.1 664.9 L1071.1 666.8 L1073.3 668.3 L1073.5 670.3 L1072.5 672.8 L1074.6 674.2 L1075 676.2 L1074.8 678.5 L1076.2 680.1 L1076.8 682.1 L1078.3 683.7 L1077.8 686.1 L1079 687.8 L1080.9 689.2 L1081.2 691.3 L1081.4 693.5 L1082.3 695.3 L1084.8 696.2 L1085.4 698.3 L1086.3 700.1 L1087.3 701.9 L1088.5 703.5 L1088.8 705.8 L1090.3 707.2 L1090.9 709.3 L1093.9 709.6 L1094.3 711.9 L1095.8 713.3 L1096.1 715.7 L1097.7 717.1 L1099 718.7 L1101.6 719 L1102.6 720.9 L1103.5 722.9 L1105.6 723.7 L1106.6 725.5 L1107.7 727.4 L1110.5 727.4 L1111.6 729.2 L1113.6 730 L1113.8 733 L1116.4 733 L1117.8 734.6 L1120.1 734.8 L1121.2 736.9 L1122.4 738.8 L1124.8 738.8 L1125.9 740.9 L1127.7 742.1 L1130 742.1 L1131.4 744 L1133.6 744.1 L1135.2 745.6 L1136.9 746.9 L1138.9 747.5 L1140.9 747.8 L1143.2 747.6 L1145 748.8 L1147 749.7 L1148.7 751.5 L1151 751.4 L1153.1 752.2 L1154.8 754.4 L1157.1 754.4 L1159 756 L1161.3 755.7 L1163.6 755.7 L1165.4 758.2 L1167.9 757.1" stroke="#8fdb6c" stroke-width="4.8" fill="none" stroke-linejoin="round" stroke-linecap="round" stroke-opacity="0.9"/>
<path d="M1167.5 759.5 L1169.4 761.7 L1171.5 763.1 L1173.6 764.2 L1175.8 765 L1178 765.9 L1180.2 767.4 L1182.5 766.3 L1184.8 767.3 L1187.1 767.8 L1189.4 769.3 L1191.9 771.2 L1194.2 771.4 L1196.6 771.2 L1199.1 772.2 L1201.4 772 L1204.1 773.5 L1206.4 773 L1209.1 774 L1211.5 773.8 L1214.4 775.7 L1217.1 776.2 L1219.4 775 L1221.8 774.4 L1224.6 775.2 L1227.2 774.8 L1229.3 773.1 L1232.4 774.3 L1234.8 773.4 L1237.4 773.2 L1239.4 771.3 L1241.7 770.2 L1244.4 769.8 L1247.1 769.7 L1250 769.7 L1251.8 767.5 L1254.9 767.8 L1257 766.2 L1260.2 766.4 L1262 764.4 L1263.9 762.4 L1267 762.4 L1269.9 762 L1272.3 760.7 L1274.3 759 L1275.9 756.7 L1279.6 757.1 L1281.6 755.2 L1284.2 754.1 L1284.8 750.7 L1287.2 749.2 L1290.5 748.8 L1292.1 746.5 L1293.5 744 L1295.1 741.9 L1298.4 741.2 L1300.3 739.2 L1301.8 736.8 L1302.8 734.1 L1305.2 732.6 L1306.8 730.3 L1307.9 727.8 L1311.2 726.7 L1313.2 724.7 L1314.1 722 L1315.2 719.4 L1317.1 717.3 L1318.6 715.1 L1320.9 713.1 L1321.3 710.2 L1323.2 708.1 L1324.6 705.7 L1325.8 703.2 L1326.5 700.4 L1328.9 698.4 L1329.5 695.7 L1330.7 693.2 L1330.9 690.3 L1331.5 687.6 L1332.2 685 L1333.7 682.6 L1334 679.8 L1334.8 677.2 L1336.3 674.7 L1337.2 672.1 L1338.5 669.6 L1338.6 666.8 L1339.2 664 L1338.2 661.1 L1339.1 658.5 L1339 655.7 L1339.3 652.9 L1339.8 650.2 L1340 647.5 L1340.9 644.8 L1340.3 642 L1340.9 639.2 L1341.1 636.5 L1342.2 633.7 L1341.8 630.9 L1341.4 628.1 L1340.1 625.3 L1338.7 622.6 L1337.5 619.9 L1336.3 617.3 L1335.1 614.7 L1334.2 612 L1333.2 609.5 L1331.1 607.2 L1330.1 604.7 L1328.5 602.3 L1327.4 599.9 L1326.9 597.3 L1325 595.2 L1322.2 593.3 L1322.2 590.6" stroke="#eb9eab" stroke-width="4.8" fill="none" stroke-linejoin="round" stroke-linecap="round" stroke-opacity="0.9"/>
<path d="M1321.9 590.7 L1320.1 588.5 L1317.5 586.6 L1316.1 584.3 L1313.9 582.4 L1310.4 581.1 L1308.9 579 L1307.2 576.9 L1304.6 575.4 L1303 573.4 L1300.6 571.9 L1297.1 571.1 L1294.7 569.8 L1293.8 567.8 L1291.3 566.8 L1290.5 564.6 L1287.8 563.7 L1286.3 562.1 L1285.2 560.2 L1282.7 559.3 L1280.8 558.1 L1279 556.8 L1278 554.8 L1275.3 554.3 L1273.8 552.8 L1271.7 551.8 L1269.8 550.7 L1267.6 549.9 L1266.4 548.1 L1263.2 548.6 L1261.7 547.1 L1260.4 545.4 L1258.3 544.7 L1256.7 543.4 L1254.9 542.4 L1252.4 542.3 L1250.5 541.5 L1247.8 541.8 L1246.8 539.8 L1245.5 537.9 L1243.5 537.3 L1241.6 536.5 L1239.6 536.1 L1237.5 535.7 L1236.3 533.4 L1233.8 534 L1232.6 531.8 L1230.8 531 L1228.2 531.8 L1226.6 530.4 L1224.7 529.7 L1222.7 529.3 L1220.8 528.8 L1218.9 528.2 L1217.1 526.9 L1214.9 527.4 L1213.2 526 L1211.5 524.3 L1209.3 524.8 L1207.3 524.7 L1205.6 522.4 L1203.6 522 L1201.4 523.1 L1199.4 523 L1197.5 521.3 L1195.3 522.8 L1193.3 522.2 L1191.4 520.5 L1189.3 520.1 L1187.3 520.5 L1185.2 520.9 L1183.1 520.1 L1181.1 521.8 L1179 520.7 L1176.9 520.1 L1174.9 520.7 L1172.8 520.8 L1170.7 520 L1168.8 521.7" stroke="#cfaae9" stroke-width="4.8" fill="none" stroke-linejoin="round" stroke-linecap="round" stroke-opacity="0.9"/>
<g shape-rendering="crispEdges">
<path fill="#f9e4db" d="M1174.6 553.3h18.5v4h-18.5zM1160.1 556.9h32.9v4h-32.9zM1145.7 560.6h47.4v4h-47.4zM1131.2 564.2h61.9v4h-61.9zM1127.6 567.8h61.9v4h-61.9zM1124 571.4h65.5v4h-65.5zM1116.8 575.1h72.7v4h-72.7zM1116.8 578.7h72.7v4h-72.7zM1113.1 582.3h79.9v4h-79.9zM1232.4 582.3h11.2v4h-11.2zM1131.2 585.9h69.1v4h-69.1zM1203.5 585.9h40.2v4h-40.2zM1134.8 589.6h108.8v4h-108.8zM1138.5 593.2h76.3v4h-76.3zM1228.8 593.2h14.9v4h-14.9zM1142.1 596.8h36.5v4h-36.5zM1189.1 596.8h18.5v4h-18.5zM1142.1 600.4h29.3v4h-29.3zM1142.1 604.1h25.7v4h-25.7zM1142.1 607.7h25.7v4h-25.7zM1142.1 611.3h25.7v4h-25.7zM1142.1 615h25.7v4h-25.7zM1145.7 618.6h22.1v4h-22.1zM1149.3 622.2h18.5v4h-18.5zM1149.3 625.8h14.9v4h-14.9zM1152.9 629.5h11.2v4h-11.2zM1152.9 633.1h11.2v4h-11.2zM1152.9 636.7h11.2v4h-11.2zM1149.3 640.3h11.2v4h-11.2zM1149.3 644h7.6v4h-7.6zM1149.3 647.6h7.6v4h-7.6zM1149.3 651.2h4v4h-4zM1149.3 654.9h4v4h-4zM1138.5 658.5h11.2v4h-11.2zM1134.8 662.1h14.9v4h-14.9zM1131.2 665.7h14.9v4h-14.9zM1131.2 669.4h11.2v4h-11.2zM1134.8 673h4v4h-4z"/>
<path fill="#f2eae8" d="M1192.7 553.3h14.9v4h-14.9zM1192.7 556.9h22.1v4h-22.1zM1192.7 560.6h36.6v4h-36.6zM1192.7 564.2h40.2v4h-40.2zM1189.1 567.8h47.4v4h-47.4zM1189.1 571.4h51v4h-51zM1189.1 575.1h51v4h-51zM1189.1 578.7h54.6v4h-54.6zM1192.7 582.3h40.2v4h-40.2zM1109.5 585.9h22.1v4h-22.1zM1199.9 585.9h4v4h-4zM1109.5 589.6h25.7v4h-25.7zM1105.9 593.2h32.9v4h-32.9zM1105.9 596.8h36.6v4h-36.6zM1105.9 600.4h36.6v4h-36.6zM1105.9 604.1h36.6v4h-36.6zM1105.9 607.7h36.6v4h-36.6zM1102.3 611.3h40.2v4h-40.2zM1102.3 615h40.2v4h-40.2zM1102.3 618.6h43.8v4h-43.8zM1102.3 622.2h47.4v4h-47.4zM1105.9 625.8h43.8v4h-43.8zM1109.5 629.5h43.8v4h-43.8zM1109.5 633.1h43.8v4h-43.8zM1109.5 636.7h43.8v4h-43.8zM1113.1 640.3h36.5v4h-36.5zM1116.8 644h32.9v4h-32.9zM1116.8 647.6h32.9v4h-32.9zM1120.4 651.2h29.3v4h-29.3zM1124 654.9h25.7v4h-25.7zM1124 658.5h14.9v4h-14.9zM1124 662.1h11.2v4h-11.2zM1127.6 665.7h4v4h-4z"/>
<path fill="#fedccc" d="M1214.4 593.2h14.9v4h-14.9zM1178.2 596.8h11.2v4h-11.2zM1207.1 596.8h32.9v4h-32.9zM1171 600.4h36.6v4h-36.6zM1167.4 604.1h18.5v4h-18.5zM1167.4 607.7h14.9v4h-14.9zM1167.4 611.3h11.2v4h-11.2zM1167.4 615h7.6v4h-7.6zM1167.4 618.6h7.6v4h-7.6zM1167.4 622.2h4v4h-4zM1163.8 625.8h7.6v4h-7.6zM1163.8 629.5h7.6v4h-7.6zM1163.8 633.1h7.6v4h-7.6zM1163.8 636.7h4v4h-4zM1160.1 640.3h7.6v4h-7.6zM1156.5 644h7.6v4h-7.6zM1156.5 647.6h7.6v4h-7.6zM1152.9 651.2h7.6v4h-7.6zM1152.9 654.9h7.6v4h-7.6zM1149.3 658.5h7.6v4h-7.6zM1149.3 662.1h4v4h-4zM1145.7 665.7h7.6v4h-7.6zM1142.1 669.4h7.6v4h-7.6zM1138.5 673h11.2v4h-11.2zM1138.5 676.6h7.6v4h-7.6z"/>
<path fill="#fdcab5" d="M1207.1 600.4h32.9v4h-32.9zM1185.4 604.1h14.9v4h-14.9zM1181.8 607.7h7.6v4h-7.6zM1178.2 611.3h7.6v4h-7.6zM1174.6 615h11.2v4h-11.2zM1174.6 618.6h7.6v4h-7.6zM1171 622.2h7.6v4h-7.6zM1171 625.8h7.6v4h-7.6zM1171 629.5h4v4h-4zM1171 633.1h4v4h-4zM1167.4 636.7h4v4h-4zM1167.4 640.3h4v4h-4zM1163.8 644h7.6v4h-7.6zM1163.8 647.6h4v4h-4zM1160.1 651.2h7.6v4h-7.6zM1160.1 654.9h4v4h-4zM1156.5 658.5h4v4h-4zM1152.9 662.1h7.6v4h-7.6zM1152.9 665.7h4v4h-4zM1149.3 669.4h7.6v4h-7.6zM1149.3 673h4v4h-4zM1145.7 676.6h7.6v4h-7.6zM1142.1 680.2h7.6v4h-7.6zM1142.1 683.9h7.6v4h-7.6zM1142.1 687.5h7.6v4h-7.6z"/>
<path fill="#fcb89d" d="M1199.9 604.1h4v4h-4zM1189.1 607.7h4v4h-4zM1171 636.7h4v4h-4zM1160.1 658.5h4v4h-4z"/>
<path fill="#fcbca2" d="M1203.5 604.1h4v4h-4zM1192.7 607.7h4v4h-4zM1185.4 611.3h4v4h-4zM1181.8 618.6h4v4h-4zM1178.2 622.2h4v4h-4zM1174.6 629.5h4v4h-4zM1171 640.3h4v4h-4zM1167.4 647.6h4v4h-4zM1163.8 654.9h4v4h-4zM1156.5 665.7h4v4h-4zM1152.9 673h4v4h-4zM1149.3 680.2h4v4h-4zM1149.3 683.9h4v4h-4z"/>
<path fill="#fcb499" d="M1207.1 604.1h7.6v4h-7.6zM1232.4 604.1h7.6v4h-7.6zM1189.1 611.3h4v4h-4zM1185.4 615h4v4h-4zM1181.8 622.2h4v4h-4zM1178.2 625.8h4v4h-4zM1174.6 633.1h4v4h-4zM1174.6 636.7h4v4h-4zM1171 644h4v4h-4zM1167.4 651.2h4v4h-4zM1163.8 658.5h4v4h-4zM1160.1 662.1h4v4h-4zM1156.5 669.4h4v4h-4zM1152.9 676.6h4v4h-4zM1149.3 687.5h4v4h-4z"/>
<path fill="#fcac90" d="M1214.4 604.1h4v4h-4zM1225.2 604.1h7.6v4h-7.6zM1196.3 607.7h4v4h-4zM1185.4 618.6h4v4h-4zM1178.2 629.5h4v4h-4zM1174.6 640.3h4v4h-4zM1171 647.6h4v4h-4zM1171 651.2h4v4h-4zM1167.4 654.9h4v4h-4zM1163.8 662.1h4v4h-4zM1160.1 665.7h4v4h-4zM1156.5 673h4v4h-4zM1152.9 680.2h4v4h-4zM1152.9 683.9h4v4h-4zM1149.3 691.1h4v4h-4z"/>
<path fill="#fca487" d="M1218 604.1h7.6v4h-7.6zM1199.9 607.7h7.6v4h-7.6zM1192.7 611.3h4v4h-4zM1189.1 615h4v4h-4zM1185.4 622.2h4v4h-4zM1181.8 625.8h4v4h-4zM1178.2 633.1h4v4h-4zM1174.6 644h4v4h-4zM1171 654.9h4v4h-4zM1167.4 658.5h4v4h-4zM1163.8 665.7h4v4h-4zM1160.1 669.4h4v4h-4zM1156.5 676.6h4v4h-4zM1152.9 687.5h4v4h-4z"/>
<path fill="#fc9c7e" d="M1207.1 607.7h4v4h-4zM1196.3 611.3h4v4h-4zM1189.1 618.6h4v4h-4zM1185.4 625.8h4v4h-4zM1181.8 629.5h4v4h-4zM1178.2 636.7h4v4h-4zM1178.2 640.3h4v4h-4zM1174.6 647.6h4v4h-4zM1174.6 651.2h4v4h-4zM1171 658.5h4v4h-4zM1167.4 662.1h4v4h-4zM1160.1 673h4v4h-4zM1156.5 680.2h4v4h-4zM1152.9 691.1h4v4h-4z"/>
<path fill="#fc9475" d="M1210.8 607.7h4v4h-4zM1232.4 607.7h11.2v4h-11.2zM1192.7 615h4v4h-4zM1189.1 622.2h4v4h-4zM1185.4 629.5h4v4h-4zM1181.8 633.1h4v4h-4zM1178.2 644h4v4h-4zM1178.2 647.6h4v4h-4zM1174.6 654.9h4v4h-4zM1167.4 665.7h4v4h-4zM1163.8 669.4h4v4h-4zM1160.1 676.6h4v4h-4zM1156.5 683.9h4v4h-4zM1156.5 687.5h4v4h-4z"/>
<path fill="#fc8d6d" d="M1214.4 607.7h4v4h-4zM1221.6 607.7h11.2v4h-11.2zM1199.9 611.3h4v4h-4zM1189.1 625.8h4v4h-4zM1185.4 633.1h4v4h-4zM1181.8 636.7h4v4h-4zM1181.8 640.3h4v4h-4zM1178.2 651.2h4v4h-4zM1174.6 658.5h4v4h-4zM1171 662.1h4v4h-4zM1167.4 669.4h4v4h-4zM1163.8 673h4v4h-4zM1160.1 680.2h4v4h-4zM1156.5 691.1h4v4h-4zM1156.5 694.7h4v4h-4z"/>
<path fill="#fc8565" d="M1218 607.7h4v4h-4zM1203.5 611.3h4v4h-4zM1196.3 615h4v4h-4zM1192.7 618.6h4v4h-4zM1192.7 622.2h4v4h-4zM1189.1 629.5h4v4h-4zM1185.4 636.7h4v4h-4zM1181.8 644h4v4h-4zM1181.8 647.6h4v4h-4zM1178.2 654.9h4v4h-4zM1174.6 662.1h4v4h-4zM1171 665.7h4v4h-4zM1167.4 673h4v4h-4zM1163.8 676.6h4v4h-4zM1160.1 683.9h4v4h-4zM1160.1 687.5h4v4h-4z"/>
<path fill="#fb7d5d" d="M1207.1 611.3h4v4h-4zM1236.1 611.3h11.2v4h-11.2zM1192.7 625.8h4v4h-4zM1192.7 629.5h4v4h-4zM1189.1 633.1h4v4h-4zM1189.1 636.7h4v4h-4zM1185.4 640.3h4v4h-4zM1185.4 644h4v4h-4zM1181.8 651.2h4v4h-4zM1181.8 654.9h4v4h-4zM1178.2 658.5h4v4h-4zM1174.6 665.7h4v4h-4zM1171 669.4h4v4h-4zM1167.4 676.6h4v4h-4zM1163.8 680.2h4v4h-4zM1160.1 691.1h4v4h-4zM1160.1 694.7h4v4h-4z"/>
<path fill="#fb7656" d="M1210.8 611.3h4v4h-4zM1228.8 611.3h7.6v4h-7.6zM1199.9 615h4v4h-4zM1196.3 618.6h4v4h-4zM1196.3 622.2h4v4h-4zM1192.7 633.1h4v4h-4zM1189.1 640.3h4v4h-4zM1189.1 644h4v4h-4zM1185.4 647.6h4v4h-4zM1185.4 651.2h4v4h-4zM1181.8 658.5h4v4h-4zM1178.2 662.1h4v4h-4zM1218 662.1h7.6v4h-7.6zM1218 665.7h7.6v4h-7.6zM1171 673h4v4h-4zM1214.4 673h4v4h-4zM1214.4 676.6h4v4h-4zM1167.4 680.2h4v4h-4zM1163.8 683.9h4v4h-4z"/>
<path fill="#fb6e4e" d="M1214.4 611.3h4v4h-4zM1221.6 611.3h7.6v4h-7.6zM1203.5 615h4v4h-4zM1196.3 625.8h4v4h-4zM1196.3 629.5h4v4h-4zM1192.7 636.7h4v4h-4zM1192.7 640.3h4v4h-4zM1189.1 647.6h4v4h-4zM1189.1 651.2h4v4h-4zM1185.4 654.9h4v4h-4zM1218 654.9h11.2v4h-11.2zM1218 658.5h7.6v4h-7.6zM1178.2 665.7h4v4h-4zM1214.4 665.7h4v4h-4zM1174.6 669.4h4v4h-4zM1214.4 669.4h4v4h-4zM1171 676.6h4v4h-4zM1210.8 680.2h4v4h-4zM1167.4 683.9h4v4h-4zM1210.8 683.9h4v4h-4zM1163.8 687.5h4v4h-4zM1163.8 691.1h4v4h-4zM1163.8 694.7h4v4h-4z"/>
<path fill="#fa6547" d="M1218 611.3h4v4h-4zM1207.1 615h4v4h-4zM1199.9 618.6h4v4h-4zM1199.9 622.2h4v4h-4zM1199.9 625.8h4v4h-4zM1196.3 633.1h4v4h-4zM1196.3 636.7h4v4h-4zM1192.7 644h4v4h-4zM1192.7 647.6h4v4h-4zM1218 651.2h14.9v4h-14.9zM1189.1 654.9h4v4h-4zM1214.4 654.9h4v4h-4zM1185.4 658.5h4v4h-4zM1214.4 658.5h4v4h-4zM1181.8 662.1h4v4h-4zM1214.4 662.1h4v4h-4zM1210.8 665.7h4v4h-4zM1178.2 669.4h4v4h-4zM1210.8 669.4h4v4h-4zM1174.6 673h4v4h-4zM1210.8 673h4v4h-4zM1174.6 676.6h4v4h-4zM1210.8 676.6h4v4h-4zM1171 680.2h4v4h-4zM1207.1 683.9h4v4h-4zM1167.4 687.5h4v4h-4zM1207.1 687.5h4v4h-4zM1203.5 691.1h4v4h-4z"/>
<path fill="#f85c41" d="M1210.8 615h4v4h-4zM1236.1 615h11.2v4h-11.2zM1203.5 618.6h4v4h-4zM1203.5 622.2h4v4h-4zM1203.5 625.8h4v4h-4zM1199.9 629.5h7.6v4h-7.6zM1199.9 633.1h7.6v4h-7.6zM1199.9 636.7h4v4h-4zM1196.3 640.3h4v4h-4zM1196.3 644h4v4h-4zM1214.4 644h7.6v4h-7.6zM1210.8 647.6h22.1v4h-22.1zM1192.7 651.2h4v4h-4zM1210.8 651.2h7.6v4h-7.6zM1192.7 654.9h4v4h-4zM1210.8 654.9h4v4h-4zM1189.1 658.5h4v4h-4zM1210.8 658.5h4v4h-4zM1185.4 662.1h7.6v4h-7.6zM1210.8 662.1h4v4h-4zM1181.8 665.7h7.6v4h-7.6zM1178.2 673h4v4h-4zM1207.1 673h4v4h-4zM1207.1 676.6h4v4h-4zM1174.6 680.2h4v4h-4zM1207.1 680.2h4v4h-4zM1171 683.9h4v4h-4zM1203.5 683.9h4v4h-4zM1171 687.5h4v4h-4zM1203.5 687.5h4v4h-4zM1167.4 691.1h4v4h-4zM1199.9 691.1h4v4h-4zM1167.4 694.7h4v4h-4z"/>
<path fill="#f34a36" d="M1214.4 615h4v4h-4zM1221.6 615h7.6v4h-7.6zM1210.8 618.6h4v4h-4zM1232.4 618.6h14.9v4h-14.9zM1210.8 622.2h4v4h-4zM1210.8 625.8h7.6v4h-7.6zM1214.4 629.5h4v4h-4zM1214.4 633.1h11.2v4h-11.2zM1218 636.7h11.2v4h-11.2zM1225.2 640.3h11.2v4h-11.2zM1199.9 647.6h4v4h-4zM1199.9 651.2h7.6v4h-7.6zM1203.5 654.9h4v4h-4zM1196.3 658.5h4v4h-4zM1203.5 658.5h4v4h-4zM1196.3 662.1h4v4h-4zM1203.5 662.1h4v4h-4zM1192.7 665.7h4v4h-4zM1203.5 665.7h4v4h-4zM1189.1 669.4h7.6v4h-7.6zM1203.5 669.4h4v4h-4zM1181.8 673h7.6v4h-7.6zM1203.5 673h4v4h-4zM1178.2 680.2h4v4h-4zM1196.3 680.2h7.6v4h-7.6zM1178.2 683.9h4v4h-4zM1192.7 683.9h7.6v4h-7.6zM1174.6 687.5h4v4h-4zM1192.7 687.5h7.6v4h-7.6zM1174.6 691.1h4v4h-4zM1192.7 691.1h4v4h-4zM1174.6 694.7h4v4h-4z"/>
<path fill="#f14130" d="M1218 615h4v4h-4zM1214.4 618.6h4v4h-4zM1225.2 618.6h7.6v4h-7.6zM1214.4 622.2h4v4h-4zM1221.6 622.2h25.7v4h-25.7zM1218 625.8h29.3v4h-29.3zM1218 629.5h18.5v4h-18.5zM1225.2 633.1h7.6v4h-7.6zM1228.8 636.7h7.6v4h-7.6zM1236.1 640.3h4v4h-4zM1199.9 654.9h4v4h-4zM1199.9 658.5h4v4h-4zM1199.9 662.1h4v4h-4zM1196.3 665.7h7.6v4h-7.6zM1196.3 669.4h7.6v4h-7.6zM1189.1 673h14.9v4h-14.9zM1181.8 676.6h22.1v4h-22.1zM1181.8 680.2h14.9v4h-14.9zM1185.4 683.9h7.6v4h-7.6zM1178.2 687.5h4v4h-4zM1189.1 687.5h4v4h-4zM1189.1 691.1h4v4h-4zM1189.1 694.7h4v4h-4zM1189.1 698.4h4v4h-4z"/>
<path fill="#f5533c" d="M1228.8 615h7.6v4h-7.6zM1207.1 618.6h4v4h-4zM1207.1 622.2h4v4h-4zM1207.1 625.8h4v4h-4zM1207.1 629.5h7.6v4h-7.6zM1207.1 633.1h7.6v4h-7.6zM1203.5 636.7h14.9v4h-14.9zM1199.9 640.3h25.7v4h-25.7zM1199.9 644h14.9v4h-14.9zM1221.6 644h14.9v4h-14.9zM1196.3 647.6h4v4h-4zM1203.5 647.6h7.6v4h-7.6zM1196.3 651.2h4v4h-4zM1207.1 651.2h4v4h-4zM1196.3 654.9h4v4h-4zM1207.1 654.9h4v4h-4zM1192.7 658.5h4v4h-4zM1207.1 658.5h4v4h-4zM1192.7 662.1h4v4h-4zM1207.1 662.1h4v4h-4zM1189.1 665.7h4v4h-4zM1207.1 665.7h4v4h-4zM1181.8 669.4h7.6v4h-7.6zM1207.1 669.4h4v4h-4zM1178.2 676.6h4v4h-4zM1203.5 676.6h4v4h-4zM1203.5 680.2h4v4h-4zM1174.6 683.9h4v4h-4zM1199.9 683.9h4v4h-4zM1199.9 687.5h4v4h-4zM1171 691.1h4v4h-4zM1196.3 691.1h4v4h-4zM1171 694.7h4v4h-4z"/>
<path fill="#ed392b" d="M1218 618.6h7.6v4h-7.6zM1218 622.2h4v4h-4zM1236.1 629.5h11.2v4h-11.2zM1232.4 633.1h11.2v4h-11.2zM1236.1 636.7h7.6v4h-7.6zM1181.8 683.9h4v4h-4zM1185.4 687.5h4v4h-4zM1178.2 691.1h4v4h-4zM1185.4 691.1h4v4h-4zM1178.2 694.7h4v4h-4zM1185.4 694.7h4v4h-4zM1185.4 698.4h4v4h-4z"/>
<path fill="#e63228" d="M1181.8 687.5h4v4h-4zM1181.8 691.1h4v4h-4zM1181.8 694.7h4v4h-4zM1181.8 698.4h4v4h-4z"/>
</g>
<path d="M1174.6 553.3h3.6M1174.6 553.3v3.6M1178.2 553.3h3.6M1181.8 553.3h3.6M1185.4 553.3h3.6M1189.1 553.3h3.6M1192.7 553.3h3.6M1196.3 553.3h3.6M1199.9 553.3h3.6M1203.5 553.3h3.6M1207.1 553.3v3.6M1160.1 556.9h3.6M1160.1 556.9v3.6M1163.8 556.9h3.6M1167.4 556.9h3.6M1171 556.9h3.6M1207.1 556.9h3.6M1210.8 556.9h3.6M1214.4 556.9v3.6M1145.7 560.6h3.6M1145.7 560.6v3.6M1149.3 560.6h3.6M1152.9 560.6h3.6M1156.5 560.6h3.6M1214.4 560.6h3.6M1218 560.6h3.6M1221.6 560.6h3.6M1225.2 560.6h3.6M1228.8 560.6v3.6M1131.2 564.2h3.6M1131.2 564.2v3.6M1134.8 564.2h3.6M1138.5 564.2h3.6M1142.1 564.2h3.6M1228.8 564.2h3.6M1232.4 564.2v3.6M1127.6 567.8h3.6M1127.6 567.8v3.6M1232.4 567.8h3.6M1236.1 567.8v3.6M1124 571.4h3.6M1124 571.4v3.6M1236.1 571.4h3.6M1239.7 571.4v3.6M1116.8 575.1h3.6M1116.8 575.1v3.6M1120.4 575.1h3.6M1239.7 575.1v3.6M1116.8 578.7v3.6M1239.7 578.7h3.6M1243.3 578.7v3.6M1113.1 582.3h3.6M1113.1 582.3v3.6M1243.3 582.3v3.6M1109.5 585.9h3.6M1109.5 585.9v3.6M1243.3 585.9v3.6M1109.5 589.6v3.6M1243.3 589.6v3.6M1105.9 593.2h3.6M1105.9 593.2v3.6M1239.7 596.8h3.6M1243.3 593.2v3.6M1105.9 596.8v3.6M1239.7 596.8v3.6M1105.9 600.4v3.6M1239.7 600.4v3.6M1105.9 604.1v3.6M1239.7 604.1v3.6M1105.9 607.7v3.6M1239.7 607.7h3.6M1243.3 607.7v3.6M1102.3 611.3h3.6M1102.3 611.3v3.6M1243.3 611.3h3.6M1246.9 611.3v3.6M1102.3 615v3.6M1246.9 615v3.6M1102.3 618.6v3.6M1246.9 618.6v3.6M1102.3 625.8h3.6M1102.3 622.2v3.6M1246.9 622.2v3.6M1105.9 629.5h3.6M1105.9 625.8v3.6M1246.9 625.8v3.6M1109.5 629.5v3.6M1243.3 633.1h3.6M1246.9 629.5v3.6M1109.5 633.1v3.6M1243.3 633.1v3.6M1109.5 640.3h3.6M1109.5 636.7v3.6M1239.7 640.3h3.6M1243.3 636.7v3.6M1113.1 644h3.6M1113.1 640.3v3.6M1236.1 644h3.6M1239.7 640.3v3.6M1116.8 644v3.6M1232.4 647.6h3.6M1236.1 644v3.6M1116.8 651.2h3.6M1116.8 647.6v3.6M1232.4 647.6v3.6M1120.4 654.9h3.6M1120.4 651.2v3.6M1228.8 654.9h3.6M1232.4 651.2v3.6M1124 654.9v3.6M1225.2 658.5h3.6M1228.8 654.9v3.6M1124 658.5v3.6M1225.2 658.5v3.6M1124 665.7h3.6M1124 662.1v3.6M1225.2 662.1v3.6M1127.6 669.4h3.6M1127.6 665.7v3.6M1218 669.4h3.6M1221.6 669.4h3.6M1225.2 665.7v3.6M1131.2 673h3.6M1131.2 669.4v3.6M1218 669.4v3.6M1134.8 676.6h3.6M1134.8 673v3.6M1218 673v3.6M1138.5 680.2h3.6M1138.5 676.6v3.6M1214.4 680.2h3.6M1218 676.6v3.6M1142.1 680.2v3.6M1214.4 680.2v3.6M1142.1 683.9v3.6M1210.8 687.5h3.6M1214.4 683.9v3.6M1142.1 691.1h3.6M1142.1 687.5v3.6M1145.7 691.1h3.6M1207.1 691.1h3.6M1210.8 687.5v3.6M1149.3 694.7h3.6M1149.3 691.1v3.6M1152.9 694.7h3.6M1192.7 694.7h3.6M1196.3 694.7h3.6M1199.9 694.7h3.6M1203.5 694.7h3.6M1207.1 691.1v3.6M1156.5 698.4h3.6M1156.5 694.7v3.6M1160.1 698.4h3.6M1163.8 698.4h3.6M1167.4 698.4h3.6M1171 698.4h3.6M1174.6 698.4h3.6M1178.2 698.4h3.6M1192.7 694.7v3.6M1181.8 702h3.6M1181.8 698.4v3.6M1185.4 702h3.6M1189.1 702h3.6M1192.7 698.4v3.6" stroke="#7a7a7a" stroke-width="1.8" fill="none" stroke-linecap="square"/>
<text x="1188.9" y="722.9" font-size="24" text-anchor="middle" stroke="#000" stroke-width="0.3" textLength="112.6" lengthAdjust="spacing">54-65 min</text>
<text x="1031.9" y="509.7" font-size="22.5" text-anchor="middle" stroke="#000" stroke-width="0.3" textLength="47.5" lengthAdjust="spacing" transform="rotate(-45 1031.9 502.2)">1e-1</text>
<text x="1066.2" y="534.1" font-size="22.5" text-anchor="middle" stroke="#000" stroke-width="0.3" textLength="47.5" lengthAdjust="spacing" transform="rotate(-45 1066.2 526.6)">5e-2</text>
<defs><linearGradient id="cbf" x1="0" y1="0" x2="0" y2="1"><stop offset="0.0000" stop-color="#67000d"/><stop offset="0.0625" stop-color="#a50f15"/><stop offset="0.1250" stop-color="#cb181d"/><stop offset="0.1875" stop-color="#ef3b2c"/><stop offset="0.2500" stop-color="#fb6a4a"/><stop offset="0.3125" stop-color="#fc9272"/><stop offset="0.3750" stop-color="#fcbba1"/><stop offset="0.4375" stop-color="#fee0d2"/><stop offset="0.5000" stop-color="#f0ecec"/><stop offset="0.5625" stop-color="#deebf7"/><stop offset="0.6250" stop-color="#c6dbef"/><stop offset="0.6875" stop-color="#9ecae1"/><stop offset="0.7500" stop-color="#6baed6"/><stop offset="0.8125" stop-color="#4292c6"/><stop offset="0.8750" stop-color="#2171b5"/><stop offset="0.9375" stop-color="#08519c"/><stop offset="1.0000" stop-color="#08306b"/></linearGradient></defs><rect x="1399.3" y="691.8" width="25.1" height="127.5" fill="url(#cbf)"/>
<text x="1407.8" y="684.4" font-size="23" text-anchor="middle" stroke="#000" stroke-width="0.3" textLength="48.6" lengthAdjust="spacing">1e-1</text>
<text x="1407.8" y="847.7" font-size="23" text-anchor="middle" stroke="#000" stroke-width="0.3" textLength="48.6" lengthAdjust="spacing">1e-1</text>
<text x="1439.5" y="765.5" font-size="23.5" text-anchor="middle" stroke="#000" stroke-width="0.3" textLength="125.4" lengthAdjust="spacing" transform="rotate(90 1439.5 765.5)">(arb. units )</text>
<text x="1473" y="765.5" font-size="24" text-anchor="middle" stroke="#000" stroke-width="0.3" textLength="175.9" lengthAdjust="spacing" transform="rotate(90 1473 765.5)">Current Density</text>
<rect x="1314" y="805.5" width="69.3" height="7.5" fill="#000"/>
<text x="949" y="493" font-size="43" font-weight="bold">f</text>
<line x1="1492.5" y1="638.3" x2="1902.5" y2="638.3" stroke="#9a9a9a" stroke-width="1" stroke-dasharray="6 2 1.5 2"/>
<line x1="1697.5" y1="433.3" x2="1697.5" y2="843.3" stroke="#9a9a9a" stroke-width="1" stroke-dasharray="6 2 1.5 2"/>
<circle cx="1697.5" cy="638.3" r="109.6" fill="#fff" stroke="#505050" stroke-width="2"/>
<path d="M1667.2 482.4 L1664.6 483.7 L1662.1 485 L1659.2 484.6 L1656.8 486.6 L1653.9 486.3 L1651.2 486.7 L1649.1 489.2 L1645.7 487.7 L1643.1 488.9 L1641.4 492.1 L1638.8 493 L1635.4 491.9 L1633.7 495 L1631 495.7 L1628.5 496.9 L1626.2 498.7 L1623 498.6 L1621.7 502.1 L1618.4 502 L1617.2 505.4 L1613.8 505.2 L1612.5 508.4 L1608.8 507.9 L1606.7 509.9 L1604.2 511.1 L1603.3 514.7 L1601.5 517 L1598.9 518.2 L1597.1 520.5 L1594.1 521.2 L1593.5 524.9 L1590 525.2 L1588.4 527.6 L1588.2 531.4 L1585.8 532.9 L1582.2 533.5 L1581.4 536.5 L1579.4 538.4 L1578.2 541.1 L1578.1 544.6 L1576.1 546.5 L1573 547.7 L1571.9 550.3 L1571.7 553.7 L1568 554.6 L1567.3 557.6 L1567.1 560.7 L1564.3 562.4 L1564.4 565.7 L1562.7 568 L1563.5 571.5 L1562.7 574.2 L1558.8 575.5 L1558.9 578.6 L1558.7 581.6 L1558.7 584.6 L1555.8 586.5 L1595.5 601 L1596.2 599.1 L1596.8 597.1 L1597.2 595.1 L1596.8 592.7 L1598 591 L1598.5 589 L1601.6 588.2 L1602.4 586.4 L1601.1 583.4 L1603.4 582.3 L1605.5 581.2 L1604.4 578.1 L1608.4 578.4 L1608.3 575.8 L1608.5 573.6 L1610.3 572.4 L1610.3 569.9 L1612.6 569.1 L1615.1 568.6 L1616.5 567.3 L1617.8 565.8 L1617.9 563.2 L1618.3 560.8 L1620.8 560.4 L1622.4 559.3 L1622.5 556.5 L1623.8 554.8 L1626.9 555.4 L1627.9 553.6 L1628.6 551.2 L1630.2 550 L1631.8 548.8 L1634.2 548.7 L1634.1 545.1 L1637.3 546.3 L1638.6 544.6 L1639.5 542.4 L1641.6 542 L1642.3 539.2 L1644.3 538.5 L1646.2 537.9 L1647.8 536.6 L1648.8 533.8 L1651.1 534 L1651.5 529.8 L1653.2 528.6 L1655.7 529.4 L1657.2 527.5 L1659.1 526.9 L1660.4 524.1 L1662.6 524.2 L1663.6 520 L1665.8 519.8 L1668.2 520.7 L1669.8 518.4 L1671.3 515.1 L1673.4 514.3Z" stroke="none" stroke-width="0" fill="#c3dbea" fill-opacity="0.85"/>
<path d="M1559.9 587.9 L1557.2 589.7 L1557.6 592.6 L1556.7 595 L1555.1 597.2 L1556.8 600.4 L1554.4 602.4 L1553.3 604.8 L1552.5 607.3 L1552.4 610 L1554.1 612.9 L1550.6 614.9 L1551.5 617.7 L1550.2 620.1 L1552.6 623 L1550.5 625.4 L1552.6 628.1 L1549.9 630.5 L1550.4 633.1 L1551.2 635.7 L1552.2 638.3 L1549.9 640.9 L1552.5 643.4 L1550.7 646 L1550.8 648.6 L1552.8 651 L1553.4 653.4 L1554.5 655.9 L1555.1 658.3 L1553.5 661.1 L1554.8 663.5 L1557.6 665.5 L1556.6 668.2 L1557.8 670.5 L1559.9 672.6 L1558.1 675.6 L1560.6 677.5 L1560.4 680.2 L1562.5 682.2 L1563.9 684.3 L1564.2 686.8 L1566.1 688.8 L1566.6 691.4 L1569 693.1 L1569.2 695.8 L1571.5 697.5 L1571.1 700.5 L1573.4 702.2 L1575.8 703.7 L1576.2 706.4 L1579 707.6 L1578.4 710.9 L1581.5 711.9 L1582.5 714.2 L1584.5 715.9 L1586.3 717.6 L1588.3 719.2 L1589.9 721.1 L1590.6 723.7 L1591.7 725.9 L1593.5 727.6 L1596.3 728.4 L1596.5 731.6 L1598.6 733.1 L1602.1 733 L1602.2 736.3 L1603.6 738.4 L1606.4 738.9 L1608.5 740.1 L1609.9 742.1 L1610.5 745.2 L1612 747.2 L1614.1 748.5 L1617.3 748.2 L1619 749.9 L1620.7 751.8 L1622.6 753.2 L1624.5 754.7 L1625.9 757.2 L1628.2 758.1 L1630.4 759.1 L1632.2 761 L1634.3 762.2 L1637.2 761.9 L1639.9 761.8 L1640.7 766 L1643.5 765.6 L1646 766 L1648.2 767 L1650 769.4 L1652.2 770.6 L1654.4 771.7 L1656.4 773.6 L1659 773.8 L1661.1 775.7 L1663.5 776.4 L1666.3 775.5 L1668.5 776.9 L1670.7 778.7 L1676.7 747.2 L1675.1 745.4 L1673.6 743.4 L1671.5 743.6 L1669.6 743.5 L1667.8 742.8 L1666 742.1 L1664.8 739.7 L1662.5 740.5 L1660.8 739.5 L1659.9 736.6 L1658.5 735.1 L1656.4 735.3 L1655.2 733.4 L1653.3 733 L1651.9 731.7 L1649.6 732.2 L1649.3 728.8 L1647.8 727.8 L1645.9 727.5 L1644.9 725.6 L1643.5 724.5 L1642.1 723.4 L1640.2 723 L1639.5 720.8 L1636.8 721.6 L1635.3 720.5 L1634 719.1 L1634.3 715.9 L1631.4 716.6 L1632.1 713.1 L1629.1 713.8 L1629.8 710.4 L1627 710.8 L1625.7 709.6 L1626.2 706.6 L1622.9 707.2 L1622.6 705 L1620.7 704.3 L1619.5 702.9 L1619.6 700.5 L1616.8 700.4 L1615.4 699.1 L1614.7 697.3 L1612.9 696.4 L1613.9 693.5 L1610.9 693.3 L1612.2 690.3 L1608.7 690.3 L1607.3 688.9 L1607.7 686.6 L1606.4 685.2 L1605.1 683.7 L1604.6 682 L1602.9 680.7 L1604.3 678.1 L1600.9 677.5 L1601.2 675.3 L1599.8 673.9 L1599.4 672.1 L1597.6 670.7 L1597.3 668.9 L1597.7 666.9 L1596.7 665.3 L1595.8 663.7 L1597 661.5 L1596.7 659.7 L1596.3 658 L1593.3 656.7 L1594 654.7 L1591.7 653.2 L1593.7 651 L1592.5 649.3 L1591.1 647.6 L1589.9 645.8 L1590.9 643.9 L1589.6 642.1 L1592.1 640.1 L1589.2 638.3 L1591.7 636.4 L1589 634.5 L1590.6 632.7 L1591.7 630.9 L1590.4 628.9 L1589.9 626.9 L1589.4 625 L1590.4 623.2 L1592.5 621.6 L1589.7 619.2 L1592.7 617.8 L1592.7 615.9 L1593.6 614.2 L1591.9 611.8 L1592 609.9 L1593.4 608.3 L1592.6 606.1 L1594.5 604.6 L1594.3 602.6 L1596 601.2Z" stroke="none" stroke-width="0" fill="#d6f1c4" fill-opacity="0.85"/>
<path d="M1671.1 776.7 L1673.8 776.1 L1675.8 779.3 L1678.8 776.9 L1681.2 777.6 L1683.5 780.2 L1686 781.8 L1688.5 781.9 L1691.1 783.4 L1693.8 780.8 L1696.3 783.7 L1698.9 784.6 L1701.5 784.3 L1704.1 783.6 L1706.6 782.5 L1709.2 782.6 L1712 784.1 L1714.4 782.6 L1717.2 784.1 L1719.9 784.3 L1722.7 785 L1725.2 783.8 L1727.5 781.9 L1730.2 781.8 L1733.3 783.6 L1735.6 781.5 L1738.1 780.6 L1740.7 780.2 L1743.4 780.1 L1746.2 779.9 L1748.3 777.9 L1751.2 778.2 L1754.5 779.3 L1756.8 778 L1759 776.5 L1761.4 775.4 L1763.6 773.8 L1765.7 772.1 L1769.2 773.1 L1771.1 771.1 L1773.7 770.3 L1775.7 768.4 L1777 765.6 L1780.9 766.7 L1783.3 765.5 L1784.8 763 L1787.6 762.4 L1789.4 760.3 L1791.3 758.4 L1794.2 757.7 L1797 756.9 L1798.1 753.9 L1799.8 751.8 L1801.6 749.8 L1803.7 748 L1805.3 745.9 L1807.7 744.4 L1810.6 743.4 L1813.2 742.1 L1814.1 739.3 L1816.8 738 L1816.9 734.5 L1820.9 734.2 L1821.5 731.2 L1822.7 728.7 L1826.2 727.8 L1828.4 725.9 L1829.8 723.5 L1830.1 720.4 L1830.3 717.4 L1832.5 715.5 L1834.5 713.4 L1836.4 711.3 L1836.9 708.5 L1839.1 706.5 L1840.9 704.1 L1841.2 701.1 L1842.9 698.7 L1844.7 696.3 L1846.2 693.8 L1848.3 691.5 L1851.5 689.5 L1850.6 686 L1852.1 683.5 L1852.6 680.5 L1857.1 678.7 L1855.8 675.3 L1859.1 672.9 L1860.1 670 L1861.7 667.3 L1862.5 664.3 L1864.3 661.6 L1862.6 658.3 L1865.6 655.6 L1866.9 652.7 L1869 649.7 L1868.3 646.6 L1870.6 643.6 L1871.5 640.5 L1869.7 637.4 L1873 634.2 L1871.9 631.1 L1870.9 628 L1872.8 624.7 L1870.5 621.7 L1872.6 618.3 L1869.8 615.5 L1872.4 611.9 L1868.6 609.3 L1871.4 605.6 L1870.5 602.5 L1867.5 599.9 L1867.3 596.7 L1867 593.5 L1864.6 591 L1866 587.4 L1863.7 585 L1861.7 582.4 L1861.6 579.2 L1857.5 577.5 L1808.4 596.2 L1809.3 598 L1812.6 599.1 L1811.4 601.7 L1814 603.1 L1811.9 605.9 L1814.5 607.4 L1814.9 609.5 L1815.3 611.7 L1813.3 614.3 L1815.4 616.1 L1815.2 618.3 L1815.6 620.5 L1816 622.6 L1814.1 625 L1813 627.2 L1815.7 629.1 L1815.6 631.3 L1812.7 633.5 L1813.9 635.6 L1812 637.7 L1814.2 639.8 L1814.9 641.9 L1814.1 644 L1816.5 646.2 L1814.7 648.2 L1816.7 650.6 L1816.3 652.7 L1815 654.7 L1815.8 657 L1817.2 659.4 L1817.1 661.7 L1815.6 663.6 L1817.2 666.3 L1813.8 667.7 L1814.7 670.2 L1813.8 672.3 L1813.5 674.5 L1812.3 676.4 L1813 679 L1812.4 681.2 L1810.2 682.7 L1811 685.5 L1811.5 688.1 L1809.2 689.6 L1809.1 692 L1808.6 694.2 L1806.5 695.6 L1805.9 697.7 L1804 699.2 L1801.4 700.1 L1799.5 701.5 L1800 704.3 L1798.5 705.9 L1796.2 706.9 L1795.8 709.2 L1792.8 709.7 L1790.8 710.8 L1789.6 712.5 L1788.8 714.6 L1786.5 715.4 L1784.3 716.1 L1783.4 718.1 L1780.8 718.5 L1779.4 720 L1779.4 723 L1775.6 722 L1775.1 724.5 L1772.3 724.3 L1771.8 726.8 L1769.1 726.7 L1767.5 727.9 L1765.9 729.1 L1764 729.8 L1762.1 730.6 L1762.2 734.2 L1759.2 733.3 L1758.6 736.1 L1755.1 734.2 L1754.3 736.7 L1752.6 737.8 L1751.3 739.4 L1748.8 739 L1747.7 741.2 L1744.6 739.2 L1743.4 741.3 L1740.8 740.2 L1739.6 742.5 L1737.1 741.5 L1736 744 L1733.4 742.7 L1731.7 743.7 L1730.1 745.5 L1727.8 744.8 L1726.5 747.5 L1724 745.8 L1722 745.8 L1719.9 745.5 L1718.5 748.7 L1716.4 748.2 L1714.2 746.8 L1712.4 748.5 L1710.3 747.5 L1708.4 747.9 L1706.3 747.1 L1704.4 747.8 L1702.5 749.3 L1700.5 749 L1698.5 748 L1696.6 749.2 L1694.6 749.5 L1692.7 747.6 L1690.7 747.6 L1688.8 746.3 L1686.8 746.9 L1684.8 746.7 L1682.9 746.6 L1681 745.9 L1678.6 747.9 L1677.1 745.1Z" stroke="none" stroke-width="0" fill="#fad0d0" fill-opacity="0.85"/>
<path d="M1855.8 578.2 L1857 574.4 L1856.8 571.2 L1856.4 568 L1856.4 564.6 L1854.8 561.9 L1854.9 558.3 L1854.7 554.9 L1854.1 551.6 L1852 549.1 L1853.3 544.5 L1851 542 L1849.9 538.7 L1847.1 536.6 L1848.1 531.9 L1846 529.2 L1844.6 526 L1841.8 523.9 L1841.9 519.5 L1838.8 517.6 L1837.6 514.1 L1835.4 511.5 L1832.2 509.9 L1832 505.2 L1829.1 503.3 L1828.1 499.3 L1825.5 497 L1823.7 493.9 L1820.5 492.2 L1818.9 488.6 L1816.2 486.4 L1814.3 483.1 L1811 481.6 L1809.1 478.1 L1805.1 477.8 L1803.4 473.8 L1801.2 470.7 L1797 470.6 L1794.1 468.5 L1790.8 467.1 L1788.6 463.6 L1786.2 460.2 L1781.7 461 L1778.4 459.5 L1776.1 455.7 L1772 456 L1769.1 453.5 L1766.3 450.5 L1762.4 450.4 L1759.5 447.6 L1755.6 448.2 L1752.6 446 L1749.4 444.3 L1745.8 444.1 L1742.5 442.8 L1739.2 441.4 L1735.4 442.4 L1732.3 439.5 L1728.4 441.4 L1725.4 437.9 L1721.9 437.1 L1718.2 438.3 L1714 440.4 L1710 442.5 L1706.1 443.2 L1702.2 445.5 L1698.3 449.4 L1694.7 451.2 L1691.1 454.3 L1688.1 458.2 L1684.9 458.8 L1682 461.6 L1679.3 465 L1676.6 468.4 L1674.1 471.9 L1672.1 478 L1669.5 479.3 L1667.3 483 L1674 517.4 L1676.2 517.4 L1677.9 514.8 L1680.1 514.3 L1682.5 516.2 L1684.6 515.5 L1686.6 514 L1688.9 515 L1691 514.8 L1693.1 513 L1695.6 513.5 L1698.1 511.7 L1700.6 511.8 L1703 512.8 L1705.5 513 L1708 512.8 L1710.5 512.8 L1712.8 511.7 L1715.2 510.9 L1717.5 511.2 L1719.5 512.5 L1722 511.7 L1723.9 513.5 L1726.4 512.8 L1728.7 513 L1730.3 515.6 L1732.8 514.9 L1734.6 516.9 L1736.6 518 L1739.5 516.6 L1741.2 519.1 L1743.3 520.2 L1745.8 520.2 L1747.7 521.7 L1750.6 521 L1752.8 521.8 L1754.7 523.5 L1757.3 523.5 L1758.8 525.8 L1760.7 527.2 L1762.6 528.6 L1764.3 530.4 L1767.7 529.4 L1768 533.1 L1770.2 534 L1771.9 535.6 L1774 536.6 L1775.1 538.9 L1778.6 538.3 L1780.6 539.6 L1780.9 542.8 L1784.2 542.7 L1785.8 544.3 L1785.1 548.4 L1786.9 549.9 L1789.9 550.2 L1789.9 553.4 L1791.1 555.3 L1794.5 555.5 L1795.1 558 L1795.4 560.7 L1796.2 563 L1797.7 564.7 L1799.3 566.4 L1801.3 567.8 L1803.3 569.2 L1801.8 572.9 L1803.3 574.6 L1803.5 577.1 L1805.7 578.4 L1806.9 580.2 L1805.3 583.5 L1808.2 584.5 L1808.3 586.9 L1807.4 589.7 L1808.2 591.7 L1809.1 593.6 L1809.4 595.8Z" stroke="none" stroke-width="0" fill="#e5d0f3" fill-opacity="0.85"/>
<circle cx="1697.5" cy="638.3" r="148" fill="none" stroke="#8a8a8a" stroke-width="1" stroke-dasharray="3 2.5" opacity="0.85"/>
<circle cx="1697.5" cy="638.3" r="185.5" fill="none" stroke="#8a8a8a" stroke-width="1" stroke-dasharray="3 2.5" opacity="0.85"/>
<circle cx="1697.5" cy="638.3" r="109.6" fill="none" stroke="#505050" stroke-width="1.6" opacity="0.55"/>
<path d="M1670.6 500 L1668 499.4 L1665.5 499.9 L1663.2 500.8 L1661.1 502.5 L1659.2 504.6 L1656.4 503.9 L1654.3 505.3 L1652.1 506.4 L1650 507.9 L1648.4 510.5 L1646.1 511.1 L1644.3 513 L1641.9 513.5 L1640.4 515.9 L1637.6 515.6 L1635.4 516.6 L1633.4 518.1 L1631.8 520.2 L1630.4 522.7 L1627.6 522.6 L1625.7 524.2 L1624.2 526.2 L1622.4 527.8 L1620.9 529.9 L1619.1 531.5 L1617.5 533.3 L1615.5 534.6 L1613.3 535.7 L1611 536.8 L1610.5 539.8 L1608.3 541 L1606.5 542.6 L1604.7 544.1 L1602.9 545.8 L1601.3 547.5 L1599.2 548.9 L1598.7 551.7 L1596.8 553.2 L1596.4 556 L1594.8 557.7 L1593.7 559.9 L1591.8 561.4 L1589.8 562.9 L1589.7 565.8 L1588.1 567.6 L1586.2 569.2 L1584.3 571 L1583.3 573.2 L1582.2 575.4 L1582 578.1 L1579.8 579.7 L1578.9 581.9 L1579.6 584.9 L1577.7 586.7 L1576.8 589 L1575.9 591.2 L1576.4 594" stroke="#8db4d8" stroke-width="4.8" fill="none" stroke-linejoin="round" stroke-linecap="round" stroke-opacity="0.9"/>
<path d="M1578 594.6 L1576.2 596.3 L1575.4 598.4 L1574.9 600.6 L1575.5 603.1 L1574.9 605.3 L1574.7 607.5 L1572.3 609.2 L1572.2 611.5 L1571.9 613.8 L1571.5 616 L1572.1 618.3 L1572.1 620.6 L1571.6 622.8 L1571.1 625 L1571 627.2 L1570.7 629.4 L1569.9 631.6 L1570.1 633.8 L1571.5 636.1 L1569.6 638.3 L1570.4 640.5 L1570.7 642.7 L1571.6 644.9 L1572.4 647 L1571.8 649.3 L1571.6 651.5 L1572.7 653.6 L1574.1 655.6 L1573.4 658 L1575.6 659.8 L1576.3 661.9 L1576.8 663.9 L1577.3 666 L1578.6 668 L1578 670.3 L1578.2 672.5 L1581.2 673.9 L1580.7 676.3 L1582.6 677.8 L1583.8 679.7 L1584.1 681.9 L1583.8 684.4 L1585 686.3 L1586 688.3 L1588.3 689.6 L1589.5 691.4 L1590.6 693.3 L1592.1 695 L1591.7 697.7 L1593.2 699.3 L1594.4 701.2 L1596.5 702.4 L1596.8 704.8 L1598.8 706 L1600.2 707.7 L1602.1 709 L1602.6 711.3 L1604.4 712.6 L1606 714.1 L1608.1 715.1 L1608.6 717.5 L1610.7 718.5 L1612.4 719.9 L1612.9 722.3 L1615.4 722.8 L1616.8 724.3 L1618.5 725.5 L1618.9 728.2 L1621.2 728.7 L1621.8 731.3 L1623.7 732.3 L1624.9 734.2 L1626.8 735.3 L1628.2 736.9 L1629.9 738.2 L1631.9 739.1 L1633.6 740.3 L1635.1 741.8 L1637.7 741.7 L1639.3 743 L1641.3 743.8 L1642.9 745.4 L1644.2 747.5 L1646.6 747.4 L1647.8 750.1 L1650.5 749.3 L1652 751.1 L1654.2 751.6 L1655.4 754.3 L1657.5 755.1 L1659.9 754.6 L1661.4 757.2 L1663.3 758.5 L1666 757.2 L1667.7 759 L1670 758.9 L1672.1 759.8 L1673.8 762.3" stroke="#8fdb6c" stroke-width="4.8" fill="none" stroke-linejoin="round" stroke-linecap="round" stroke-opacity="0.9"/>
<path d="M1674.1 760.9 L1676.1 762.5 L1678.4 762.4 L1680.6 763.1 L1682.8 763.9 L1685.1 764.2 L1687.3 765.1 L1689.7 763.9 L1691.9 764 L1694.2 765.5 L1696.4 765.6 L1698.7 765.8 L1701 766.7 L1703.2 764.8 L1705.5 765 L1707.8 765.5 L1710.1 765.7 L1712.6 767 L1714.7 765.1 L1717 765.4 L1719.4 765.7 L1721.8 766 L1723.9 764.6 L1726.5 765.8 L1728.7 764.7 L1730.9 763.9 L1733.2 763.7 L1735.8 764 L1738.1 763.7 L1739.7 761 L1742.5 762.1 L1744.4 760.5 L1747.1 761.1 L1749.1 759.8 L1750.8 758 L1753.1 757.6 L1755.7 757.7 L1757.1 755.3 L1759.3 754.6 L1761.3 753.3 L1764.1 753.6 L1765.6 751.6 L1768.4 751.7 L1769.3 748.9 L1771.4 747.8 L1774.3 748 L1775.9 746.2 L1778.4 745.7 L1779.9 743.7 L1781.5 742 L1783.5 740.8 L1785.2 739.1 L1787.1 737.7 L1789.7 737 L1792 735.9 L1793.5 734.1 L1795.8 733 L1797.4 731.2 L1798 728.5 L1800.4 727.4 L1803.1 726.6 L1803.7 723.9 L1805.1 721.9 L1806.9 720.3 L1808.9 718.7 L1809.7 716.3 L1813.1 715.7 L1813.1 712.7 L1815 711.1 L1817.7 709.9 L1818.1 707.2 L1820.6 705.8 L1820.3 702.8 L1822.5 701.2 L1822.7 698.6 L1825.7 697.1 L1825.2 694.1 L1827.7 692.4 L1829.4 690.3 L1829.9 687.7 L1830.7 685.3 L1832.2 683 L1833.1 680.6 L1834.2 678.2 L1835.7 675.9 L1834.7 673 L1837.1 670.9 L1836.1 668 L1837.9 665.7 L1837.2 662.9 L1839.3 660.7 L1838.6 658 L1839.5 655.5 L1839.8 653 L1841 650.5 L1840.4 647.8 L1840.5 645.3 L1841.5 642.7 L1842.1 640.1 L1843.4 637.5 L1843.5 634.9 L1841.9 632.3 L1843.6 629.6 L1842.2 627.1 L1843.6 624.3 L1843.1 621.7 L1843.6 618.9 L1843.5 616.3 L1842 613.8 L1843 610.9 L1842.5 608.3 L1842.3 605.6 L1840.9 603.2 L1840 600.7 L1839.2 598.2 L1838 595.9 L1838.6 593 L1835.5 591.3 L1836.2 588.4 L1833.8 586.5" stroke="#eb9eab" stroke-width="4.8" fill="none" stroke-linejoin="round" stroke-linecap="round" stroke-opacity="0.9"/>
<path d="M1832.3 587.1 L1833.5 583.8 L1831.5 581.9 L1833 578.3 L1831.7 576 L1832.1 572.9 L1831 570.5 L1830.6 567.7 L1829.5 565.2 L1830.1 561.8 L1828.9 559.2 L1827.7 556.6 L1826.2 554.3 L1825.2 551.5 L1823.4 549.3 L1822.7 546.3 L1820.8 544.2 L1819.4 541.7 L1817.1 539.9 L1817.1 536.2 L1815.5 533.7 L1812.4 532.6 L1810.7 530.3 L1809.6 527.4 L1806.9 526.1 L1805.3 523.6 L1804.6 520.1 L1802.4 518.3 L1800.3 516.2 L1797.8 514.6 L1795.5 512.9 L1794 510 L1791.7 508.2 L1789.2 506.7 L1787.6 503.9 L1785.1 502.3 L1782.2 501.4 L1780.8 498 L1777.2 498.3 L1775.3 495.5 L1773 493.4 L1769.7 493.2 L1767 492 L1764.3 490.6 L1761.9 488.6 L1759.1 487.5 L1756.6 485.7 L1753.4 485.6 L1750.8 484 L1748.3 481.9 L1745.6 480.9 L1742.5 481.1 L1739.9 479.9 L1737.2 478.6 L1734.3 478.2 L1731.5 477.7 L1728.7 477 L1725.6 477.9 L1723 475.8 L1720 476.5 L1717.3 474.9 L1714.4 475.2 L1711 476.5 L1707.7 478.1 L1704.5 478.6 L1701.3 479.6 L1698.2 481.4 L1695.1 480.8 L1692.1 483.3 L1689.4 484.2 L1687 487.7 L1684.4 488.2 L1682 490.6 L1679.7 493 L1677.3 494.3 L1675.1 496.8 L1673 499.2 L1670.7 500.7" stroke="#cfaae9" stroke-width="4.8" fill="none" stroke-linejoin="round" stroke-linecap="round" stroke-opacity="0.9"/>
<g shape-rendering="crispEdges">
<path fill="#ad1117" d="M1678.5 552.1h4.1v4.1h-4.1zM1696.9 559.5h4.1v4.1h-4.1zM1693.2 563.2h4.1v4.1h-4.1zM1689.5 566.9h4.1v4.1h-4.1z"/>
<path fill="#8f0a12" d="M1682.1 552.1h4.1v4.1h-4.1zM1693.2 552.1h4.1v4.1h-4.1zM1693.2 555.8h4.1v4.1h-4.1z"/>
<path fill="#77040f" d="M1685.8 552.1h7.8v4.1h-7.8zM1685.8 555.8h7.8v4.1h-7.8z"/>
<path fill="#a60f15" d="M1696.9 552.1h4.1v4.1h-4.1zM1696.9 555.8h4.1v4.1h-4.1zM1682.1 559.5h4.1v4.1h-4.1zM1685.8 563.2h7.8v4.1h-7.8z"/>
<path fill="#b51318" d="M1700.6 552.1h4.1v4.1h-4.1zM1678.5 555.8h4.1v4.1h-4.1zM1700.6 555.8h4.1v4.1h-4.1zM1696.9 563.2h4.1v4.1h-4.1zM1685.8 566.9h4.1v4.1h-4.1zM1693.2 566.9h4.1v4.1h-4.1zM1689.5 570.6h4.1v4.1h-4.1z"/>
<path fill="#c3161b" d="M1704.3 552.1h4.1v4.1h-4.1zM1704.3 555.8h4.1v4.1h-4.1zM1704.3 559.5h4.1v4.1h-4.1zM1704.3 563.2h4.1v4.1h-4.1zM1704.3 566.9h4.1v4.1h-4.1zM1685.8 570.6h4.1v4.1h-4.1zM1704.3 570.6h4.1v4.1h-4.1zM1708 574.2h4.1v4.1h-4.1zM1689.5 577.9h11.5v4.1h-11.5zM1708 577.9h4.1v4.1h-4.1zM1700.6 581.6h11.5v4.1h-11.5zM1704.3 585.3h4.1v4.1h-4.1z"/>
<path fill="#ca181d" d="M1708 552.1h4.1v4.1h-4.1zM1674.8 555.8h4.1v4.1h-4.1zM1708 555.8h4.1v4.1h-4.1zM1674.8 559.5h4.1v4.1h-4.1zM1708 563.2h4.1v4.1h-4.1zM1682.1 566.9h4.1v4.1h-4.1zM1708 566.9h4.1v4.1h-4.1zM1708 570.6h4.1v4.1h-4.1zM1685.8 574.2h4.1v4.1h-4.1zM1711.7 577.9h4.1v4.1h-4.1zM1696.9 581.6h4.1v4.1h-4.1zM1700.6 585.3h4.1v4.1h-4.1zM1708 585.3h4.1v4.1h-4.1zM1704.3 589h7.8v4.1h-7.8z"/>
<path fill="#ed392b" d="M1667.4 555.8h4.1v4.1h-4.1zM1667.4 559.5h4.1v4.1h-4.1zM1719.1 559.5h4.1v4.1h-4.1zM1722.8 566.9h4.1v4.1h-4.1zM1678.5 570.6h4.1v4.1h-4.1zM1722.8 570.6h7.8v4.1h-7.8zM1722.8 574.2h11.5v4.1h-11.5zM1682.1 577.9h4.1v4.1h-4.1zM1726.5 577.9h7.8v4.1h-7.8zM1722.8 581.6h11.5v4.1h-11.5zM1685.8 585.3h4.1v4.1h-4.1zM1722.8 585.3h7.8v4.1h-7.8zM1689.5 589h4.1v4.1h-4.1zM1722.8 589h4.1v4.1h-4.1zM1719.1 592.7h4.1v4.1h-4.1zM1696.9 596.4h4.1v4.1h-4.1zM1719.1 596.4h4.1v4.1h-4.1zM1715.4 600.1h4.1v4.1h-4.1zM1741.2 600.1h4.1v4.1h-4.1zM1733.8 603.8h7.8v4.1h-7.8zM1733.8 607.5h4.1v4.1h-4.1zM1733.8 611.1h4.1v4.1h-4.1zM1733.8 618.5h4.1v4.1h-4.1zM1737.5 625.9h4.1v4.1h-4.1zM1741.2 633.3h7.8v4.1h-7.8z"/>
<path fill="#df2c25" d="M1671.1 555.8h4.1v4.1h-4.1zM1715.4 555.8h4.1v4.1h-4.1zM1671.1 559.5h4.1v4.1h-4.1zM1715.4 559.5h4.1v4.1h-4.1zM1674.8 563.2h4.1v4.1h-4.1zM1715.4 563.2h4.1v4.1h-4.1zM1678.5 566.9h4.1v4.1h-4.1zM1715.4 566.9h4.1v4.1h-4.1zM1719.1 574.2h4.1v4.1h-4.1zM1719.1 577.9h4.1v4.1h-4.1zM1685.8 581.6h4.1v4.1h-4.1zM1719.1 581.6h4.1v4.1h-4.1zM1689.5 585.3h4.1v4.1h-4.1zM1696.9 589h4.1v4.1h-4.1zM1715.4 589h4.1v4.1h-4.1zM1715.4 592.7h4.1v4.1h-4.1zM1700.6 596.4h4.1v4.1h-4.1zM1711.7 596.4h4.1v4.1h-4.1zM1741.2 607.5h7.8v4.1h-7.8zM1737.5 611.1h4.1v4.1h-4.1zM1737.5 614.8h4.1v4.1h-4.1zM1741.2 622.2h11.5v4.1h-11.5zM1741.2 625.9h11.5v4.1h-11.5z"/>
<path fill="#9b0c14" d="M1682.1 555.8h4.1v4.1h-4.1zM1693.2 559.5h4.1v4.1h-4.1z"/>
<path fill="#d82523" d="M1711.7 555.8h4.1v4.1h-4.1zM1711.7 559.5h4.1v4.1h-4.1zM1711.7 563.2h4.1v4.1h-4.1zM1682.1 570.6h4.1v4.1h-4.1zM1715.4 570.6h4.1v4.1h-4.1zM1715.4 574.2h4.1v4.1h-4.1zM1715.4 577.9h4.1v4.1h-4.1zM1715.4 581.6h4.1v4.1h-4.1zM1693.2 585.3h4.1v4.1h-4.1zM1715.4 585.3h4.1v4.1h-4.1zM1711.7 589h4.1v4.1h-4.1zM1700.6 592.7h4.1v4.1h-4.1zM1711.7 592.7h4.1v4.1h-4.1zM1741.2 611.1h11.5v4.1h-11.5zM1741.2 618.5h11.5v4.1h-11.5z"/>
<path fill="#fa6547" d="M1652.6 559.5h4.1v4.1h-4.1zM1682.1 589h4.1v4.1h-4.1zM1693.2 600.1h4.1v4.1h-4.1zM1704.3 607.5h4.1v4.1h-4.1zM1711.7 611.1h7.8v4.1h-7.8zM1719.1 614.8h4.1v4.1h-4.1zM1722.8 622.2h4.1v4.1h-4.1zM1726.5 625.9h4.1v4.1h-4.1zM1730.1 633.3h4.1v4.1h-4.1zM1730.1 637h4.1v4.1h-4.1zM1733.8 640.7h4.1v4.1h-4.1zM1733.8 644.4h4.1v4.1h-4.1z"/>
<path fill="#f85c41" d="M1656.3 559.5h4.1v4.1h-4.1zM1663.7 563.2h4.1v4.1h-4.1zM1671.1 566.9h4.1v4.1h-4.1zM1678.5 577.9h4.1v4.1h-4.1zM1682.1 585.3h4.1v4.1h-4.1zM1685.8 592.7h4.1v4.1h-4.1zM1689.5 596.4h4.1v4.1h-4.1zM1700.6 603.8h4.1v4.1h-4.1zM1708 607.5h4.1v4.1h-4.1zM1719.1 611.1h4.1v4.1h-4.1zM1722.8 618.5h4.1v4.1h-4.1zM1726.5 622.2h4.1v4.1h-4.1zM1730.1 629.6h4.1v4.1h-4.1zM1733.8 637h4.1v4.1h-4.1z"/>
<path fill="#f5533c" d="M1660 559.5h4.1v4.1h-4.1zM1667.4 563.2h4.1v4.1h-4.1zM1674.8 570.6h4.1v4.1h-4.1zM1696.9 600.1h4.1v4.1h-4.1zM1711.7 607.5h11.5v4.1h-11.5zM1722.8 611.1h4.1v4.1h-4.1zM1722.8 614.8h4.1v4.1h-4.1zM1726.5 618.5h4.1v4.1h-4.1zM1730.1 625.9h4.1v4.1h-4.1zM1733.8 633.3h4.1v4.1h-4.1zM1737.5 640.7h4.1v4.1h-4.1z"/>
<path fill="#f14130" d="M1663.7 559.5h4.1v4.1h-4.1zM1722.8 559.5h11.5v4.1h-11.5zM1671.1 563.2h4.1v4.1h-4.1zM1722.8 563.2h15.2v4.1h-15.2zM1674.8 566.9h4.1v4.1h-4.1zM1726.5 566.9h15.2v4.1h-15.2zM1730.1 570.6h15.2v4.1h-15.2zM1733.8 574.2h11.5v4.1h-11.5zM1733.8 577.9h15.2v4.1h-15.2zM1733.8 581.6h15.2v4.1h-15.2zM1730.1 585.3h18.9v4.1h-18.9zM1726.5 589h22.6v4.1h-22.6zM1693.2 592.7h4.1v4.1h-4.1zM1722.8 592.7h26.2v4.1h-26.2zM1722.8 596.4h22.6v4.1h-22.6zM1700.6 600.1h4.1v4.1h-4.1zM1719.1 600.1h4.1v4.1h-4.1zM1726.5 600.1h15.2v4.1h-15.2zM1708 603.8h7.8v4.1h-7.8zM1730.1 603.8h4.1v4.1h-4.1zM1730.1 607.5h4.1v4.1h-4.1zM1730.1 611.1h4.1v4.1h-4.1zM1730.1 614.8h4.1v4.1h-4.1zM1730.1 618.5h4.1v4.1h-4.1zM1733.8 622.2h4.1v4.1h-4.1zM1737.5 629.6h4.1v4.1h-4.1zM1737.5 633.3h4.1v4.1h-4.1zM1741.2 637h7.8v4.1h-7.8z"/>
<path fill="#bc141a" d="M1678.5 559.5h4.1v4.1h-4.1zM1700.6 559.5h4.1v4.1h-4.1zM1682.1 563.2h4.1v4.1h-4.1zM1700.6 563.2h4.1v4.1h-4.1zM1696.9 566.9h7.8v4.1h-7.8zM1693.2 570.6h11.5v4.1h-11.5zM1689.5 574.2h18.9v4.1h-18.9zM1700.6 577.9h7.8v4.1h-7.8z"/>
<path fill="#830711" d="M1685.8 559.5h7.8v4.1h-7.8z"/>
<path fill="#d11e20" d="M1708 559.5h4.1v4.1h-4.1zM1678.5 563.2h4.1v4.1h-4.1zM1711.7 566.9h4.1v4.1h-4.1zM1711.7 570.6h4.1v4.1h-4.1zM1711.7 574.2h4.1v4.1h-4.1zM1685.8 577.9h4.1v4.1h-4.1zM1689.5 581.6h7.8v4.1h-7.8zM1711.7 581.6h4.1v4.1h-4.1zM1696.9 585.3h4.1v4.1h-4.1zM1711.7 585.3h4.1v4.1h-4.1zM1700.6 589h4.1v4.1h-4.1zM1704.3 592.7h7.8v4.1h-7.8zM1704.3 596.4h7.8v4.1h-7.8zM1741.2 614.8h11.5v4.1h-11.5z"/>
<path fill="#fc8d6d" d="M1637.8 563.2h7.8v4.1h-7.8zM1656.3 566.9h4.1v4.1h-4.1zM1663.7 570.6h4.1v4.1h-4.1zM1619.4 585.3h4.1v4.1h-4.1zM1674.8 585.3h4.1v4.1h-4.1zM1619.4 589h4.1v4.1h-4.1zM1678.5 592.7h4.1v4.1h-4.1zM1689.5 603.8h4.1v4.1h-4.1zM1700.6 611.1h4.1v4.1h-4.1zM1704.3 614.8h4.1v4.1h-4.1zM1708 618.5h4.1v4.1h-4.1zM1608.3 622.2h11.5v4.1h-11.5zM1711.7 622.2h4.1v4.1h-4.1zM1719.1 633.3h4.1v4.1h-4.1zM1719.1 637h4.1v4.1h-4.1zM1719.1 640.7h4.1v4.1h-4.1zM1719.1 644.4h4.1v4.1h-4.1zM1719.1 648h4.1v4.1h-4.1zM1719.1 651.7h4.1v4.1h-4.1zM1722.8 659.1h4.1v4.1h-4.1zM1722.8 662.8h7.8v4.1h-7.8zM1652.6 684.9h4.1v4.1h-4.1zM1678.5 684.9h4.1v4.1h-4.1zM1704.3 684.9h11.5v4.1h-11.5z"/>
<path fill="#fc8565" d="M1645.2 563.2h7.8v4.1h-7.8zM1667.4 570.6h4.1v4.1h-4.1zM1671.1 574.2h4.1v4.1h-4.1zM1674.8 581.6h4.1v4.1h-4.1zM1619.4 592.7h4.1v4.1h-4.1zM1619.4 596.4h4.1v4.1h-4.1zM1682.1 596.4h4.1v4.1h-4.1zM1619.4 600.1h4.1v4.1h-4.1zM1685.8 600.1h4.1v4.1h-4.1zM1619.4 603.8h4.1v4.1h-4.1zM1619.4 607.5h4.1v4.1h-4.1zM1696.9 607.5h4.1v4.1h-4.1zM1619.4 611.1h4.1v4.1h-4.1zM1619.4 614.8h4.1v4.1h-4.1zM1708 614.8h4.1v4.1h-4.1zM1711.7 618.5h4.1v4.1h-4.1zM1715.4 625.9h4.1v4.1h-4.1zM1719.1 629.6h4.1v4.1h-4.1zM1722.8 655.4h4.1v4.1h-4.1zM1726.5 659.1h4.1v4.1h-4.1zM1656.3 684.9h11.5v4.1h-11.5zM1674.8 684.9h4.1v4.1h-4.1zM1685.8 688.6h15.2v4.1h-15.2zM1711.7 688.6h4.1v4.1h-4.1zM1685.8 692.3h15.2v4.1h-15.2zM1689.5 696h7.8v4.1h-7.8z"/>
<path fill="#fb7d5d" d="M1652.6 563.2h4.1v4.1h-4.1zM1660 566.9h4.1v4.1h-4.1zM1674.8 577.9h4.1v4.1h-4.1zM1615.7 585.3h4.1v4.1h-4.1zM1678.5 589h4.1v4.1h-4.1zM1693.2 603.8h4.1v4.1h-4.1zM1608.3 618.5h11.5v4.1h-11.5zM1715.4 622.2h4.1v4.1h-4.1zM1719.1 625.9h4.1v4.1h-4.1zM1722.8 633.3h4.1v4.1h-4.1zM1722.8 637h4.1v4.1h-4.1zM1722.8 640.7h4.1v4.1h-4.1zM1722.8 644.4h4.1v4.1h-4.1zM1722.8 648h4.1v4.1h-4.1zM1722.8 651.7h7.8v4.1h-7.8zM1726.5 655.4h4.1v4.1h-4.1zM1667.4 684.9h7.8v4.1h-7.8zM1678.5 688.6h7.8v4.1h-7.8zM1700.6 688.6h11.5v4.1h-11.5zM1678.5 692.3h7.8v4.1h-7.8z"/>
<path fill="#fb7656" d="M1656.3 563.2h4.1v4.1h-4.1zM1663.7 566.9h4.1v4.1h-4.1zM1671.1 570.6h4.1v4.1h-4.1zM1678.5 585.3h4.1v4.1h-4.1zM1615.7 589h4.1v4.1h-4.1zM1615.7 592.7h4.1v4.1h-4.1zM1682.1 592.7h4.1v4.1h-4.1zM1689.5 600.1h4.1v4.1h-4.1zM1700.6 607.5h4.1v4.1h-4.1zM1704.3 611.1h4.1v4.1h-4.1zM1711.7 614.8h4.1v4.1h-4.1zM1715.4 618.5h4.1v4.1h-4.1zM1719.1 622.2h4.1v4.1h-4.1zM1722.8 629.6h4.1v4.1h-4.1zM1726.5 633.3h4.1v4.1h-4.1zM1726.5 637h4.1v4.1h-4.1zM1726.5 640.7h4.1v4.1h-4.1zM1726.5 644.4h4.1v4.1h-4.1zM1726.5 648h7.8v4.1h-7.8zM1730.1 651.7h7.8v4.1h-7.8zM1656.3 688.6h7.8v4.1h-7.8zM1674.8 688.6h4.1v4.1h-4.1zM1674.8 692.3h4.1v4.1h-4.1z"/>
<path fill="#fb6e4e" d="M1660 563.2h4.1v4.1h-4.1zM1667.4 566.9h4.1v4.1h-4.1zM1674.8 574.2h4.1v4.1h-4.1zM1678.5 581.6h4.1v4.1h-4.1zM1612 592.7h4.1v4.1h-4.1zM1612 596.4h7.8v4.1h-7.8zM1685.8 596.4h4.1v4.1h-4.1zM1612 600.1h7.8v4.1h-7.8zM1612 603.8h7.8v4.1h-7.8zM1696.9 603.8h4.1v4.1h-4.1zM1612 607.5h7.8v4.1h-7.8zM1608.3 611.1h11.5v4.1h-11.5zM1708 611.1h4.1v4.1h-4.1zM1608.3 614.8h11.5v4.1h-11.5zM1715.4 614.8h4.1v4.1h-4.1zM1719.1 618.5h4.1v4.1h-4.1zM1722.8 625.9h4.1v4.1h-4.1zM1726.5 629.6h4.1v4.1h-4.1zM1730.1 640.7h4.1v4.1h-4.1zM1730.1 644.4h4.1v4.1h-4.1zM1733.8 648h4.1v4.1h-4.1zM1663.7 688.6h11.5v4.1h-11.5zM1663.7 692.3h11.5v4.1h-11.5z"/>
<path fill="#e63228" d="M1719.1 563.2h4.1v4.1h-4.1zM1719.1 566.9h4.1v4.1h-4.1zM1719.1 570.6h4.1v4.1h-4.1zM1682.1 574.2h4.1v4.1h-4.1zM1722.8 577.9h4.1v4.1h-4.1zM1719.1 585.3h4.1v4.1h-4.1zM1693.2 589h4.1v4.1h-4.1zM1719.1 589h4.1v4.1h-4.1zM1696.9 592.7h4.1v4.1h-4.1zM1715.4 596.4h4.1v4.1h-4.1zM1704.3 600.1h11.5v4.1h-11.5zM1741.2 603.8h4.1v4.1h-4.1zM1737.5 607.5h4.1v4.1h-4.1zM1733.8 614.8h4.1v4.1h-4.1zM1737.5 618.5h4.1v4.1h-4.1zM1737.5 622.2h4.1v4.1h-4.1zM1741.2 629.6h7.8v4.1h-7.8z"/>
<path fill="#fc9c7e" d="M1630.5 566.9h18.9v4.1h-18.9zM1656.3 570.6h4.1v4.1h-4.1zM1623.1 574.2h4.1v4.1h-4.1zM1667.4 574.2h4.1v4.1h-4.1zM1623.1 577.9h4.1v4.1h-4.1zM1671.1 577.9h4.1v4.1h-4.1zM1623.1 581.6h4.1v4.1h-4.1zM1623.1 585.3h4.1v4.1h-4.1zM1623.1 589h4.1v4.1h-4.1zM1623.1 592.7h4.1v4.1h-4.1zM1674.8 592.7h4.1v4.1h-4.1zM1623.1 596.4h4.1v4.1h-4.1zM1623.1 600.1h4.1v4.1h-4.1zM1678.5 600.1h4.1v4.1h-4.1zM1623.1 603.8h4.1v4.1h-4.1zM1682.1 603.8h7.8v4.1h-7.8zM1623.1 607.5h4.1v4.1h-4.1zM1623.1 611.1h4.1v4.1h-4.1zM1696.9 611.1h4.1v4.1h-4.1zM1700.6 614.8h4.1v4.1h-4.1zM1612 625.9h7.8v4.1h-7.8zM1711.7 629.6h4.1v4.1h-4.1zM1715.4 633.3h4.1v4.1h-4.1zM1715.4 637h4.1v4.1h-4.1zM1715.4 640.7h4.1v4.1h-4.1zM1715.4 644.4h4.1v4.1h-4.1zM1715.4 648h4.1v4.1h-4.1zM1715.4 651.7h4.1v4.1h-4.1zM1719.1 659.1h4.1v4.1h-4.1zM1719.1 662.8h4.1v4.1h-4.1zM1719.1 677.6h4.1v4.1h-4.1zM1652.6 681.2h7.8v4.1h-7.8zM1674.8 681.2h4.1v4.1h-4.1zM1708 681.2h7.8v4.1h-7.8zM1685.8 684.9h11.5v4.1h-11.5z"/>
<path fill="#fc9475" d="M1648.9 566.9h7.8v4.1h-7.8zM1660 570.6h4.1v4.1h-4.1zM1619.4 581.6h4.1v4.1h-4.1zM1674.8 589h4.1v4.1h-4.1zM1678.5 596.4h4.1v4.1h-4.1zM1682.1 600.1h4.1v4.1h-4.1zM1693.2 607.5h4.1v4.1h-4.1zM1619.4 618.5h4.1v4.1h-4.1zM1704.3 618.5h4.1v4.1h-4.1zM1708 622.2h4.1v4.1h-4.1zM1711.7 625.9h4.1v4.1h-4.1zM1715.4 629.6h4.1v4.1h-4.1zM1719.1 655.4h4.1v4.1h-4.1zM1722.8 666.5h4.1v4.1h-4.1zM1660 681.2h15.2v4.1h-15.2zM1715.4 681.2h4.1v4.1h-4.1zM1648.9 684.9h4.1v4.1h-4.1zM1682.1 684.9h4.1v4.1h-4.1zM1696.9 684.9h7.8v4.1h-7.8z"/>
<path fill="#fca487" d="M1630.5 570.6h4.1v4.1h-4.1zM1626.8 574.2h4.1v4.1h-4.1zM1663.7 574.2h4.1v4.1h-4.1zM1671.1 581.6h4.1v4.1h-4.1zM1671.1 585.3h4.1v4.1h-4.1zM1674.8 596.4h4.1v4.1h-4.1zM1678.5 603.8h4.1v4.1h-4.1zM1689.5 607.5h4.1v4.1h-4.1zM1623.1 614.8h4.1v4.1h-4.1zM1700.6 618.5h4.1v4.1h-4.1zM1619.4 622.2h4.1v4.1h-4.1zM1704.3 622.2h4.1v4.1h-4.1zM1708 625.9h4.1v4.1h-4.1zM1685.8 633.3h7.8v4.1h-7.8zM1711.7 633.3h4.1v4.1h-4.1zM1715.4 655.4h4.1v4.1h-4.1zM1719.1 666.5h4.1v4.1h-4.1zM1719.1 670.2h4.1v4.1h-4.1zM1719.1 673.9h4.1v4.1h-4.1zM1663.7 677.6h11.5v4.1h-11.5zM1715.4 677.6h4.1v4.1h-4.1zM1648.9 681.2h4.1v4.1h-4.1zM1678.5 681.2h7.8v4.1h-7.8zM1700.6 681.2h7.8v4.1h-7.8z"/>
<path fill="#fcac90" d="M1634.1 570.6h22.6v4.1h-22.6zM1630.5 574.2h4.1v4.1h-4.1zM1660 574.2h4.1v4.1h-4.1zM1626.8 577.9h4.1v4.1h-4.1zM1626.8 581.6h4.1v4.1h-4.1zM1626.8 585.3h4.1v4.1h-4.1zM1626.8 589h4.1v4.1h-4.1zM1671.1 589h4.1v4.1h-4.1zM1674.8 600.1h4.1v4.1h-4.1zM1674.8 603.8h4.1v4.1h-4.1zM1678.5 607.5h11.5v4.1h-11.5zM1693.2 611.1h4.1v4.1h-4.1zM1671.1 614.8h4.1v4.1h-4.1zM1696.9 614.8h4.1v4.1h-4.1zM1623.1 618.5h4.1v4.1h-4.1zM1696.9 618.5h4.1v4.1h-4.1zM1700.6 622.2h4.1v4.1h-4.1zM1619.4 625.9h4.1v4.1h-4.1zM1700.6 625.9h7.8v4.1h-7.8zM1615.7 629.6h4.1v4.1h-4.1zM1689.5 629.6h4.1v4.1h-4.1zM1708 629.6h4.1v4.1h-4.1zM1682.1 633.3h4.1v4.1h-4.1zM1693.2 633.3h4.1v4.1h-4.1zM1711.7 637h4.1v4.1h-4.1zM1711.7 640.7h4.1v4.1h-4.1zM1711.7 644.4h4.1v4.1h-4.1zM1711.7 648h4.1v4.1h-4.1zM1715.4 659.1h4.1v4.1h-4.1zM1715.4 662.8h4.1v4.1h-4.1zM1715.4 673.9h4.1v4.1h-4.1zM1652.6 677.6h11.5v4.1h-11.5zM1674.8 677.6h4.1v4.1h-4.1zM1708 677.6h7.8v4.1h-7.8zM1685.8 681.2h15.2v4.1h-15.2z"/>
<path fill="#fcb499" d="M1634.1 574.2h7.8v4.1h-7.8zM1656.3 574.2h4.1v4.1h-4.1zM1630.5 577.9h4.1v4.1h-4.1zM1667.4 577.9h4.1v4.1h-4.1zM1667.4 581.6h4.1v4.1h-4.1zM1626.8 592.7h4.1v4.1h-4.1zM1671.1 592.7h4.1v4.1h-4.1zM1626.8 596.4h4.1v4.1h-4.1zM1671.1 596.4h4.1v4.1h-4.1zM1626.8 600.1h4.1v4.1h-4.1zM1671.1 600.1h4.1v4.1h-4.1zM1626.8 603.8h4.1v4.1h-4.1zM1671.1 603.8h4.1v4.1h-4.1zM1671.1 607.5h7.8v4.1h-7.8zM1667.4 611.1h11.5v4.1h-11.5zM1667.4 614.8h4.1v4.1h-4.1zM1671.1 618.5h4.1v4.1h-4.1zM1623.1 622.2h4.1v4.1h-4.1zM1696.9 622.2h4.1v4.1h-4.1zM1689.5 625.9h11.5v4.1h-11.5zM1682.1 629.6h7.8v4.1h-7.8zM1693.2 629.6h15.2v4.1h-15.2zM1696.9 633.3h7.8v4.1h-7.8zM1708 633.3h4.1v4.1h-4.1zM1685.8 637h11.5v4.1h-11.5zM1708 637h4.1v4.1h-4.1zM1711.7 651.7h4.1v4.1h-4.1zM1711.7 655.4h4.1v4.1h-4.1zM1711.7 659.1h4.1v4.1h-4.1zM1715.4 666.5h4.1v4.1h-4.1zM1715.4 670.2h4.1v4.1h-4.1zM1711.7 673.9h4.1v4.1h-4.1zM1648.9 677.6h4.1v4.1h-4.1zM1678.5 677.6h4.1v4.1h-4.1zM1704.3 677.6h4.1v4.1h-4.1z"/>
<path fill="#fcbca2" d="M1641.5 574.2h7.8v4.1h-7.8zM1663.7 577.9h4.1v4.1h-4.1zM1630.5 581.6h4.1v4.1h-4.1zM1663.7 581.6h4.1v4.1h-4.1zM1667.4 585.3h4.1v4.1h-4.1zM1667.4 589h4.1v4.1h-4.1zM1667.4 603.8h4.1v4.1h-4.1zM1626.8 607.5h4.1v4.1h-4.1zM1667.4 607.5h4.1v4.1h-4.1zM1626.8 611.1h4.1v4.1h-4.1zM1678.5 611.1h7.8v4.1h-7.8zM1689.5 611.1h4.1v4.1h-4.1zM1626.8 614.8h4.1v4.1h-4.1zM1674.8 614.8h4.1v4.1h-4.1zM1667.4 618.5h4.1v4.1h-4.1zM1674.8 618.5h4.1v4.1h-4.1zM1693.2 618.5h4.1v4.1h-4.1zM1667.4 622.2h15.2v4.1h-15.2zM1693.2 622.2h4.1v4.1h-4.1zM1671.1 625.9h18.9v4.1h-18.9zM1619.4 629.6h4.1v4.1h-4.1zM1674.8 629.6h7.8v4.1h-7.8zM1678.5 633.3h4.1v4.1h-4.1zM1704.3 633.3h4.1v4.1h-4.1zM1682.1 637h4.1v4.1h-4.1zM1696.9 637h7.8v4.1h-7.8zM1685.8 640.7h11.5v4.1h-11.5zM1708 640.7h4.1v4.1h-4.1zM1708 644.4h4.1v4.1h-4.1zM1708 648h4.1v4.1h-4.1zM1711.7 662.8h4.1v4.1h-4.1zM1652.6 673.9h22.6v4.1h-22.6zM1682.1 677.6h4.1v4.1h-4.1zM1696.9 677.6h7.8v4.1h-7.8z"/>
<path fill="#fcb89d" d="M1648.9 574.2h7.8v4.1h-7.8zM1634.1 577.9h4.1v4.1h-4.1zM1630.5 585.3h4.1v4.1h-4.1zM1663.7 585.3h4.1v4.1h-4.1zM1667.4 592.7h4.1v4.1h-4.1zM1667.4 600.1h4.1v4.1h-4.1zM1685.8 611.1h4.1v4.1h-4.1zM1663.7 614.8h4.1v4.1h-4.1zM1693.2 614.8h4.1v4.1h-4.1zM1678.5 618.5h4.1v4.1h-4.1zM1682.1 622.2h4.1v4.1h-4.1zM1689.5 622.2h4.1v4.1h-4.1zM1623.1 625.9h4.1v4.1h-4.1zM1615.7 633.3h4.1v4.1h-4.1zM1674.8 633.3h4.1v4.1h-4.1zM1678.5 637h4.1v4.1h-4.1zM1704.3 637h4.1v4.1h-4.1zM1696.9 640.7h7.8v4.1h-7.8zM1708 651.7h4.1v4.1h-4.1zM1711.7 666.5h4.1v4.1h-4.1zM1674.8 673.9h4.1v4.1h-4.1zM1708 673.9h4.1v4.1h-4.1zM1693.2 677.6h4.1v4.1h-4.1z"/>
<path fill="#f34a36" d="M1678.5 574.2h4.1v4.1h-4.1zM1682.1 581.6h4.1v4.1h-4.1zM1685.8 589h4.1v4.1h-4.1zM1689.5 592.7h4.1v4.1h-4.1zM1693.2 596.4h4.1v4.1h-4.1zM1722.8 600.1h4.1v4.1h-4.1zM1704.3 603.8h4.1v4.1h-4.1zM1715.4 603.8h15.2v4.1h-15.2zM1722.8 607.5h7.8v4.1h-7.8zM1726.5 611.1h4.1v4.1h-4.1zM1726.5 614.8h4.1v4.1h-4.1zM1730.1 622.2h4.1v4.1h-4.1zM1733.8 625.9h4.1v4.1h-4.1zM1733.8 629.6h4.1v4.1h-4.1zM1737.5 637h4.1v4.1h-4.1zM1741.2 640.7h4.1v4.1h-4.1z"/>
<path fill="#fdcab5" d="M1637.8 577.9h15.2v4.1h-15.2zM1656.3 577.9h7.8v4.1h-7.8zM1634.1 581.6h15.2v4.1h-15.2zM1656.3 581.6h7.8v4.1h-7.8zM1634.1 585.3h11.5v4.1h-11.5zM1656.3 585.3h7.8v4.1h-7.8zM1630.5 589h7.8v4.1h-7.8zM1660 589h7.8v4.1h-7.8zM1630.5 592.7h4.1v4.1h-4.1zM1660 592.7h7.8v4.1h-7.8zM1630.5 596.4h4.1v4.1h-4.1zM1663.7 596.4h7.8v4.1h-7.8zM1630.5 600.1h4.1v4.1h-4.1zM1660 600.1h7.8v4.1h-7.8zM1630.5 603.8h4.1v4.1h-4.1zM1660 603.8h7.8v4.1h-7.8zM1630.5 607.5h4.1v4.1h-4.1zM1660 607.5h7.8v4.1h-7.8zM1630.5 611.1h4.1v4.1h-4.1zM1660 611.1h7.8v4.1h-7.8zM1660 614.8h4.1v4.1h-4.1zM1678.5 614.8h15.2v4.1h-15.2zM1626.8 618.5h4.1v4.1h-4.1zM1660 618.5h7.8v4.1h-7.8zM1682.1 618.5h11.5v4.1h-11.5zM1626.8 622.2h4.1v4.1h-4.1zM1660 622.2h7.8v4.1h-7.8zM1685.8 622.2h4.1v4.1h-4.1zM1626.8 625.9h4.1v4.1h-4.1zM1663.7 625.9h7.8v4.1h-7.8zM1623.1 629.6h4.1v4.1h-4.1zM1663.7 629.6h11.5v4.1h-11.5zM1619.4 633.3h4.1v4.1h-4.1zM1667.4 633.3h7.8v4.1h-7.8zM1615.7 637h7.8v4.1h-7.8zM1671.1 637h7.8v4.1h-7.8zM1619.4 640.7h4.1v4.1h-4.1zM1674.8 640.7h11.5v4.1h-11.5zM1704.3 640.7h4.1v4.1h-4.1zM1678.5 644.4h29.9v4.1h-29.9zM1682.1 648h26.2v4.1h-26.2zM1693.2 651.7h15.2v4.1h-15.2zM1696.9 655.4h15.2v4.1h-15.2zM1700.6 659.1h11.5v4.1h-11.5zM1704.3 662.8h7.8v4.1h-7.8zM1652.6 666.5h22.6v4.1h-22.6zM1708 666.5h4.1v4.1h-4.1zM1648.9 670.2h29.9v4.1h-29.9zM1708 670.2h7.8v4.1h-7.8zM1645.2 673.9h7.8v4.1h-7.8zM1678.5 673.9h7.8v4.1h-7.8zM1693.2 673.9h15.2v4.1h-15.2zM1685.8 677.6h7.8v4.1h-7.8z"/>
<path fill="#fedccc" d="M1652.6 577.9h4.1v4.1h-4.1zM1648.9 581.6h7.8v4.1h-7.8zM1645.2 585.3h11.5v4.1h-11.5zM1637.8 589h22.6v4.1h-22.6zM1634.1 592.7h26.2v4.1h-26.2zM1634.1 596.4h15.2v4.1h-15.2zM1656.3 596.4h7.8v4.1h-7.8zM1634.1 600.1h15.2v4.1h-15.2zM1656.3 600.1h4.1v4.1h-4.1zM1634.1 603.8h11.5v4.1h-11.5zM1652.6 603.8h7.8v4.1h-7.8zM1634.1 607.5h7.8v4.1h-7.8zM1652.6 607.5h7.8v4.1h-7.8zM1652.6 611.1h7.8v4.1h-7.8zM1630.5 614.8h4.1v4.1h-4.1zM1652.6 614.8h7.8v4.1h-7.8zM1630.5 618.5h4.1v4.1h-4.1zM1652.6 618.5h7.8v4.1h-7.8zM1630.5 622.2h4.1v4.1h-4.1zM1652.6 622.2h7.8v4.1h-7.8zM1630.5 625.9h4.1v4.1h-4.1zM1656.3 625.9h7.8v4.1h-7.8zM1626.8 629.6h4.1v4.1h-4.1zM1656.3 629.6h7.8v4.1h-7.8zM1623.1 633.3h7.8v4.1h-7.8zM1656.3 633.3h11.5v4.1h-11.5zM1623.1 637h7.8v4.1h-7.8zM1656.3 637h15.2v4.1h-15.2zM1623.1 640.7h7.8v4.1h-7.8zM1660 640.7h15.2v4.1h-15.2zM1623.1 644.4h4.1v4.1h-4.1zM1663.7 644.4h15.2v4.1h-15.2zM1667.4 648h15.2v4.1h-15.2zM1674.8 651.7h18.9v4.1h-18.9zM1667.4 655.4h29.9v4.1h-29.9zM1652.6 659.1h48.4v4.1h-48.4zM1645.2 662.8h59.5v4.1h-59.5zM1645.2 666.5h7.8v4.1h-7.8zM1674.8 666.5h33.6v4.1h-33.6zM1641.5 670.2h7.8v4.1h-7.8zM1678.5 670.2h7.8v4.1h-7.8zM1693.2 670.2h15.2v4.1h-15.2zM1641.5 673.9h4.1v4.1h-4.1zM1685.8 673.9h7.8v4.1h-7.8z"/>
<path fill="#f9e4db" d="M1648.9 596.4h7.8v4.1h-7.8zM1648.9 600.1h7.8v4.1h-7.8zM1645.2 603.8h7.8v4.1h-7.8zM1641.5 607.5h11.5v4.1h-11.5zM1634.1 611.1h18.9v4.1h-18.9zM1634.1 614.8h18.9v4.1h-18.9zM1634.1 618.5h18.9v4.1h-18.9zM1634.1 622.2h18.9v4.1h-18.9zM1634.1 625.9h22.6v4.1h-22.6zM1630.5 629.6h26.2v4.1h-26.2zM1630.5 633.3h26.2v4.1h-26.2zM1630.5 637h26.2v4.1h-26.2zM1630.5 640.7h29.9v4.1h-29.9zM1626.8 644.4h37.3v4.1h-37.3zM1626.8 648h41v4.1h-41zM1626.8 651.7h48.4v4.1h-48.4zM1630.5 655.4h37.3v4.1h-37.3zM1630.5 659.1h22.6v4.1h-22.6zM1634.1 662.8h11.5v4.1h-11.5zM1637.8 666.5h7.8v4.1h-7.8zM1637.8 670.2h4.1v4.1h-4.1zM1685.8 670.2h7.8v4.1h-7.8z"/>
</g>
<path d="M1678.5 552.1h3.7M1678.5 552.1v3.7M1682.1 552.1h3.7M1685.8 552.1h3.7M1689.5 552.1h3.7M1693.2 552.1h3.7M1696.9 552.1h3.7M1700.6 552.1h3.7M1704.3 552.1h3.7M1708 552.1h3.7M1711.7 552.1v3.7M1667.4 555.8h3.7M1667.4 555.8v3.7M1671.1 555.8h3.7M1674.8 555.8h3.7M1711.7 555.8h3.7M1715.4 555.8h3.7M1719.1 555.8v3.7M1652.6 559.5h3.7M1652.6 559.5v3.7M1656.3 559.5h3.7M1660 559.5h3.7M1663.7 559.5h3.7M1719.1 559.5h3.7M1722.8 559.5h3.7M1726.5 559.5h3.7M1730.1 559.5h3.7M1733.8 559.5v3.7M1637.8 563.2h3.7M1637.8 563.2v3.7M1641.5 563.2h3.7M1645.2 563.2h3.7M1648.9 563.2h3.7M1733.8 563.2h3.7M1737.5 563.2v3.7M1630.5 566.9h3.7M1630.5 566.9v3.7M1634.1 566.9h3.7M1737.5 566.9h3.7M1741.2 566.9v3.7M1630.5 570.6v3.7M1741.2 570.6h3.7M1744.9 570.6v3.7M1623.1 574.2h3.7M1623.1 574.2v3.7M1626.8 574.2h3.7M1744.9 574.2v3.7M1623.1 577.9v3.7M1744.9 577.9h3.7M1748.6 577.9v3.7M1619.4 581.6h3.7M1619.4 581.6v3.7M1748.6 581.6v3.7M1615.7 585.3h3.7M1615.7 585.3v3.7M1748.6 585.3v3.7M1615.7 589v3.7M1748.6 589v3.7M1612 592.7h3.7M1612 592.7v3.7M1744.9 596.4h3.7M1748.6 592.7v3.7M1612 596.4v3.7M1744.9 596.4v3.7M1612 600.1v3.7M1744.9 600.1v3.7M1612 603.8v3.7M1744.9 603.8v3.7M1612 607.5v3.7M1744.9 607.5h3.7M1748.6 607.5v3.7M1608.3 611.1h3.7M1608.3 611.1v3.7M1748.6 611.1h3.7M1752.3 611.1v3.7M1608.3 614.8v3.7M1752.3 614.8v3.7M1608.3 618.5v3.7M1752.3 618.5v3.7M1608.3 625.9h3.7M1608.3 622.2v3.7M1752.3 622.2v3.7M1612 629.6h3.7M1612 625.9v3.7M1748.6 629.6h3.7M1752.3 625.9v3.7M1615.7 629.6v3.7M1748.6 629.6v3.7M1615.7 633.3v3.7M1748.6 633.3v3.7M1615.7 640.7h3.7M1615.7 637v3.7M1744.9 640.7h3.7M1748.6 637v3.7M1619.4 644.4h3.7M1619.4 640.7v3.7M1737.5 644.4h3.7M1741.2 644.4h3.7M1744.9 640.7v3.7M1623.1 648h3.7M1623.1 644.4v3.7M1737.5 644.4v3.7M1626.8 648v3.7M1737.5 648v3.7M1626.8 655.4h3.7M1626.8 651.7v3.7M1730.1 655.4h3.7M1733.8 655.4h3.7M1737.5 651.7v3.7M1630.5 655.4v3.7M1730.1 655.4v3.7M1630.5 662.8h3.7M1630.5 659.1v3.7M1730.1 659.1v3.7M1634.1 666.5h3.7M1634.1 662.8v3.7M1726.5 666.5h3.7M1730.1 662.8v3.7M1637.8 666.5v3.7M1722.8 670.2h3.7M1726.5 666.5v3.7M1637.8 673.9h3.7M1637.8 670.2v3.7M1722.8 670.2v3.7M1641.5 677.6h3.7M1641.5 673.9v3.7M1645.2 677.6h3.7M1722.8 673.9v3.7M1648.9 677.6v3.7M1719.1 681.3h3.7M1722.8 677.6v3.7M1648.9 681.2v3.7M1715.4 684.9h3.7M1719.1 681.2v3.7M1648.9 688.6h3.7M1648.9 684.9v3.7M1652.6 688.6h3.7M1715.4 684.9v3.7M1656.3 692.3h3.7M1656.3 688.6v3.7M1660 692.3h3.7M1700.6 692.3h3.7M1704.3 692.3h3.7M1708 692.3h3.7M1711.7 692.3h3.7M1715.4 688.6v3.7M1663.7 696h3.7M1663.7 692.3v3.7M1667.4 696h3.7M1671.1 696h3.7M1674.8 696h3.7M1678.5 696h3.7M1682.1 696h3.7M1685.8 696h3.7M1696.9 696h3.7M1700.6 692.3v3.7M1689.5 699.7h3.7M1689.5 696v3.7M1693.2 699.7h3.7M1696.9 696v3.7" stroke="#7a7a7a" stroke-width="1.8" fill="none" stroke-linecap="square"/>
<text x="1703.6" y="722.9" font-size="24" text-anchor="middle" stroke="#000" stroke-width="0.3" textLength="126.7" lengthAdjust="spacing">65-891 min</text>
<text x="1541.2" y="507" font-size="22.5" text-anchor="middle" stroke="#000" stroke-width="0.3" textLength="47.5" lengthAdjust="spacing" transform="rotate(-45 1541.2 499.5)">1e-3</text>
<text x="1577.7" y="533.3" font-size="22.5" text-anchor="middle" stroke="#000" stroke-width="0.3" textLength="47.5" lengthAdjust="spacing" transform="rotate(-45 1577.7 525.8)">5e-4</text>
<defs><linearGradient id="cbg" x1="0" y1="0" x2="0" y2="1"><stop offset="0.0000" stop-color="#67000d"/><stop offset="0.0625" stop-color="#a50f15"/><stop offset="0.1250" stop-color="#cb181d"/><stop offset="0.1875" stop-color="#ef3b2c"/><stop offset="0.2500" stop-color="#fb6a4a"/><stop offset="0.3125" stop-color="#fc9272"/><stop offset="0.3750" stop-color="#fcbba1"/><stop offset="0.4375" stop-color="#fee0d2"/><stop offset="0.5000" stop-color="#f0ecec"/><stop offset="0.5625" stop-color="#deebf7"/><stop offset="0.6250" stop-color="#c6dbef"/><stop offset="0.6875" stop-color="#9ecae1"/><stop offset="0.7500" stop-color="#6baed6"/><stop offset="0.8125" stop-color="#4292c6"/><stop offset="0.8750" stop-color="#2171b5"/><stop offset="0.9375" stop-color="#08519c"/><stop offset="1.0000" stop-color="#08306b"/></linearGradient></defs><rect x="1901" y="691.8" width="24.1" height="127.5" fill="url(#cbg)"/>
<text x="1909" y="684.4" font-size="23" text-anchor="middle" stroke="#000" stroke-width="0.3" textLength="48.6" lengthAdjust="spacing">1e-3</text>
<text x="1909" y="847.7" font-size="23" text-anchor="middle" stroke="#000" stroke-width="0.3" textLength="48.6" lengthAdjust="spacing">1e-3</text>
<text x="1949.6" y="769" font-size="23.5" text-anchor="middle" stroke="#000" stroke-width="0.3" textLength="125.4" lengthAdjust="spacing" transform="rotate(90 1949.6 769)">(arb. units )</text>
<text x="1983" y="765.5" font-size="24" text-anchor="middle" stroke="#000" stroke-width="0.3" textLength="175.9" lengthAdjust="spacing" transform="rotate(90 1983 765.5)">Current Density</text>
<rect x="1812" y="809.9" width="69.6" height="8.4" fill="#000"/>
<text x="1400.5" y="493.5" font-size="43" font-weight="bold">g</text>
<path d="M34.5 994.7 L37 996.7 L100.9 1053.3 L100.2 1059.8 L99.7 1066.3 L99.5 1072.9 L99.6 1079.5 L100 1086 L100.7 1092.6 L101.7 1099 L103 1105.5 L104.6 1111.9 L106.5 1118.2 L108.6 1124.4 L111.1 1130.5 L113.8 1136.4 L116.8 1142.3 L120 1148 L123.5 1153.6 L127.2 1159 L131.2 1164.2 L135.4 1169.2 L139.9 1174.1 L144.5 1178.7 L149.4 1183.1 L154.4 1187.3 L159.7 1191.3 L165.1 1195 L170.7 1198.5 L176.4 1201.7 L182.3 1204.7 L188.2 1207.3 L194.4 1209.8 L200.6 1211.9 L206.9 1213.7 L213.3 1215.3 L219.7 1216.6 L226.2 1217.5 L232.7 1218.2 L239.3 1218.6 L245.9 1218.7 L252.4 1218.5 L259 1218 L265 1258.7 L272.1 1295.7 L34.5 1295.7Z" stroke="none" stroke-width="0" fill="#e6eef9"/>
<path d="M37 996.7 L101.2 1053.3" stroke="#2e2e2e" stroke-width="2" fill="none"/>
<path d="M259 1218.3 Q262.5 1263.7 272.1 1296.7" stroke="#2e2e2e" stroke-width="2" fill="none"/>
<defs><linearGradient id="sgh" gradientUnits="userSpaceOnUse" x1="124.5" y1="1153.7" x2="354.5" y2="978.7"><stop offset="0" stop-color="#8d8880"/><stop offset="1" stop-color="#22407f"/></linearGradient><clipPath id="cch"><circle cx="244.5" cy="1073.7" r="145"/></clipPath></defs>
<circle cx="244.5" cy="1073.7" r="145" fill="url(#sgh)"/>
<g clip-path="url(#cch)">
<path d="M335.5 961.8 L262.3 1034.3 L312.5 1064.4 L381.6 1118 L384.9 1109.9 L386.8 1101.4 L388.2 1092.8 L389.1 1084.2 L389.5 1075.5 L389.3 1066.8 L388.7 1058.1 L387.5 1049.5 L385.8 1041 L383.5 1032.5 L380.8 1024.3 L377.6 1016.2 L373.9 1008.3 L369.8 1000.7 L365.2 993.3 L360.1 986.2 L354.7 979.4 L348.8 973 L342.6 966.9Z" stroke="none" stroke-width="0" fill="#1d3b7f" fill-opacity="0.75"/>
<path d="M234.4 929.5 L225.5 978.5 L262.3 1034.3 L335.5 961.8 L331.7 957.8 L327.3 954.6 L322.7 951.6 L318.1 948.8 L313.3 946.1 L308.5 943.6 L303.5 941.3 L298.5 939.1 L293.4 937.2 L288.2 935.5 L283 933.9 L277.7 932.6 L272.4 931.4 L267 930.5 L261.6 929.7 L256.2 929.2 L250.7 928.8 L245.3 928.7 L239.8 928.8Z" stroke="none" stroke-width="0" fill="#1f3b7c" fill-opacity="0.35"/>
<path d="M229.9 936.1l4.3 -2.9M241.6 936.2l4.3 -3M253.2 936.2l4.2 -3.1M264.8 936.3l4.1 -3.2M183.5 949.3l4.4 -2.7M195.1 949.3l4.4 -2.8M206.7 949.3l4.3 -2.9M218.4 949.4l4.3 -2.9M230 949.4l4.2 -3M241.6 949.5l4.2 -3.1M253.2 949.5l4.1 -3.2M264.9 949.5l4 -3.3M276.5 949.6l3.9 -3.4M288.2 949.6l3.9 -3.5M299.8 949.7l3.8 -3.6M160.3 962.4l4.4 -2.7M171.9 962.5l4.4 -2.8M183.5 962.5l4.4 -2.8M195.1 962.6l4.3 -2.9M206.8 962.6l4.3 -3M218.4 962.6l4.2 -3.1M230 962.7l4.1 -3.2M241.7 962.7l4.1 -3.2M253.3 962.8l4 -3.3M264.9 962.8l3.9 -3.4M276.6 962.9l3.8 -3.5M288.2 962.9l3.7 -3.6M299.9 963l3.6 -3.7M311.5 963l3.5 -3.8M323.2 963.1l3.4 -3.9M148.7 975.7l4.4 -2.8M160.3 975.7l4.4 -2.8M171.9 975.7l4.3 -2.9M183.6 975.8l4.3 -3M195.2 975.8l4.2 -3M206.8 975.9l4.2 -3.1M218.4 975.9l4.1 -3.2M230.1 975.9l4 -3.3M241.7 976l4 -3.4M253.4 976l3.9 -3.4M265 976.1l3.8 -3.5M276.6 976.1l3.7 -3.6M288.3 976.2l3.6 -3.7M299.9 976.2l3.5 -3.8M311.6 976.3l3.4 -3.9M323.3 976.3l3.3 -4M334.9 976.4l3.2 -4.1M137.1 988.9l4.4 -2.8M148.7 988.9l4.3 -2.9M160.4 989l4.3 -2.9M172 989l4.2 -3M183.6 989l4.2 -3.1M195.2 989.1l4.1 -3.1M206.9 989.1l4.1 -3.2M218.5 989.2l4 -3.3M230.1 989.2l3.9 -3.4M241.8 989.2l3.9 -3.5M253.4 989.3l3.8 -3.6M265 989.3l3.7 -3.6M276.7 989.4l3.6 -3.7M288.3 989.4l3.5 -3.8M300 989.5l3.4 -3.9M311.7 989.5l3.3 -4M323.3 989.6l3.2 -4.1M335 989.6l3 -4.2M346.7 989.7l2.9 -4.3M125.5 1002.1l4.3 -2.9M137.1 1002.2l4.3 -2.9M148.8 1002.2l4.3 -3M160.4 1002.2l4.2 -3M172 1002.3l4.2 -3.1M183.6 1002.3l4.1 -3.2M195.3 1002.3l4.1 -3.3M206.9 1002.4l4 -3.3M218.5 1002.4l3.9 -3.4M230.2 1002.4l3.9 -3.5M241.8 1002.5l3.8 -3.6M253.5 1002.5l3.7 -3.7M265.1 1002.6l3.6 -3.7M276.7 1002.6l3.5 -3.8M288.4 1002.7l3.4 -3.9M300.1 1002.7l3.3 -4M311.7 1002.8l3.2 -4.1M323.4 1002.8l3.1 -4.2M335 1002.8l2.9 -4.3M346.7 1002.9l2.8 -4.4M358.4 1002.9l2.6 -4.5M125.6 1015.4l4.3 -3M137.2 1015.4l4.2 -3M148.8 1015.4l4.2 -3.1M160.4 1015.5l4.1 -3.1M172.1 1015.5l4.1 -3.2M183.7 1015.5l4 -3.3M195.3 1015.6l4 -3.4M206.9 1015.6l3.9 -3.4M218.6 1015.7l3.8 -3.5M230.2 1015.7l3.8 -3.6M241.9 1015.7l3.7 -3.7M253.5 1015.8l3.6 -3.8M265.1 1015.8l3.5 -3.8M276.8 1015.9l3.4 -3.9M288.4 1015.9l3.3 -4M300.1 1016l3.2 -4.1M311.8 1016l3.1 -4.2M323.4 1016l3 -4.3M335.1 1016.1l2.8 -4.4M346.8 1016.1l2.7 -4.5M358.4 1016.2l2.5 -4.5M370.1 1016.2l2.4 -4.6M114 1028.6l4.3 -3M125.6 1028.6l4.2 -3.1M137.2 1028.7l4.2 -3.1M148.8 1028.7l4.1 -3.2M160.5 1028.7l4.1 -3.2M172.1 1028.8l4 -3.3M183.7 1028.8l3.9 -3.4M195.4 1028.8l3.9 -3.5M207 1028.9l3.8 -3.5M218.6 1028.9l3.7 -3.6M230.3 1028.9l3.7 -3.7M241.9 1029l3.6 -3.8M253.5 1029l3.5 -3.8M265.2 1029.1l3.4 -3.9M276.8 1029.1l3.3 -4M288.5 1029.1l3.2 -4.1M300.2 1029.2l3.1 -4.2M311.8 1029.2l3 -4.3M323.5 1029.3l2.9 -4.3M335.1 1029.3l2.7 -4.4M346.8 1029.4l2.6 -4.5M358.5 1029.4l2.4 -4.6M370.2 1029.4l2.3 -4.7M114 1041.8l4.2 -3.1M125.6 1041.9l4.1 -3.1M137.3 1041.9l4.1 -3.2M148.9 1041.9l4 -3.3M160.5 1042l4 -3.3M172.1 1042l3.9 -3.4M183.8 1042l3.9 -3.5M195.4 1042.1l3.8 -3.5M207 1042.1l3.7 -3.6M218.7 1042.1l3.7 -3.7M230.3 1042.2l3.6 -3.8M242 1042.2l3.5 -3.8M253.6 1042.3l3.4 -3.9M265.2 1042.3l3.3 -4M276.9 1042.3l3.2 -4.1M288.5 1042.4l3.1 -4.2M300.2 1042.4l3 -4.2M311.9 1042.5l2.9 -4.3M323.5 1042.5l2.8 -4.4M335.2 1042.5l2.6 -4.5M346.9 1042.6l2.5 -4.6M358.5 1042.6l2.3 -4.6M370.2 1042.7l2.2 -4.7M114 1055.1l4.1 -3.2M125.7 1055.1l4.1 -3.2M137.3 1055.1l4 -3.3M148.9 1055.2l4 -3.4M160.5 1055.2l3.9 -3.4M172.2 1055.2l3.9 -3.5M183.8 1055.3l3.8 -3.6M195.4 1055.3l3.7 -3.6M207.1 1055.4l3.7 -3.7M218.7 1055.4l3.6 -3.8M230.4 1055.4l3.5 -3.8M242 1055.5l3.4 -3.9M253.6 1055.5l3.3 -4M265.3 1055.5l3.2 -4.1M276.9 1055.6l3.1 -4.2M288.6 1055.6l3 -4.2M300.2 1055.7l2.9 -4.3M311.9 1055.7l2.8 -4.4M323.6 1055.7l2.7 -4.5M335.2 1055.8l2.5 -4.5M346.9 1055.8l2.4 -4.6M358.6 1055.8l2.3 -4.7M370.2 1055.9l2.1 -4.8M381.9 1055.9l2 -4.8M102.5 1068.3l4.1 -3.2M114.1 1068.3l4 -3.3M125.7 1068.4l4 -3.3M137.3 1068.4l3.9 -3.4M149 1068.4l3.9 -3.4M160.6 1068.5l3.8 -3.5M172.2 1068.5l3.8 -3.6M183.8 1068.5l3.7 -3.6M195.5 1068.6l3.6 -3.7M207.1 1068.6l3.6 -3.8M218.8 1068.6l3.5 -3.9M230.4 1068.7l3.4 -3.9M242 1068.7l3.3 -4M253.7 1068.7l3.2 -4.1M265.3 1068.8l3.1 -4.1M277 1068.8l3 -4.2M288.6 1068.8l2.9 -4.3M300.3 1068.9l2.8 -4.4M311.9 1068.9l2.7 -4.4M323.6 1069l2.6 -4.5M335.3 1069l2.5 -4.6M346.9 1069l2.3 -4.7M358.6 1069.1l2.2 -4.7M370.3 1069.1l2 -4.8M382 1069.1l1.9 -4.8M102.5 1081.5l4 -3.3M114.1 1081.6l4 -3.3M125.7 1081.6l3.9 -3.4M137.4 1081.6l3.9 -3.5M149 1081.7l3.8 -3.5M160.6 1081.7l3.8 -3.6M172.2 1081.7l3.7 -3.7M183.9 1081.8l3.6 -3.7M195.5 1081.8l3.6 -3.8M207.2 1081.8l3.5 -3.9M218.8 1081.9l3.4 -3.9M230.4 1081.9l3.3 -4M242.1 1081.9l3.2 -4.1M253.7 1082l3.2 -4.1M265.4 1082l3.1 -4.2M277 1082l3 -4.3M288.7 1082.1l2.9 -4.3M300.3 1082.1l2.7 -4.4M312 1082.1l2.6 -4.5M323.6 1082.2l2.5 -4.6M335.3 1082.2l2.4 -4.6M347 1082.2l2.2 -4.7M358.6 1082.3l2.1 -4.8M370.3 1082.3l2 -4.8M382 1082.3l1.8 -4.9M114.1 1094.8l3.9 -3.4M125.8 1094.8l3.9 -3.5M137.4 1094.9l3.8 -3.5M149 1094.9l3.8 -3.6M160.7 1094.9l3.7 -3.7M172.3 1095l3.6 -3.7M183.9 1095l3.6 -3.8M195.6 1095l3.5 -3.9M207.2 1095.1l3.4 -3.9M218.8 1095.1l3.3 -4M230.5 1095.1l3.3 -4.1M242.1 1095.2l3.2 -4.1M253.8 1095.2l3.1 -4.2M265.4 1095.2l3 -4.3M277.1 1095.3l2.9 -4.3M288.7 1095.3l2.8 -4.4M300.4 1095.3l2.7 -4.5M312 1095.4l2.6 -4.5M323.7 1095.4l2.4 -4.6M335.3 1095.4l2.3 -4.7M347 1095.5l2.2 -4.7M358.7 1095.5l2 -4.8M370.4 1095.5l1.9 -4.8M382 1095.5l1.8 -4.9M114.2 1108l3.9 -3.5M125.8 1108.1l3.8 -3.6M137.4 1108.1l3.7 -3.6M149.1 1108.1l3.7 -3.7M160.7 1108.2l3.6 -3.7M172.3 1108.2l3.6 -3.8M184 1108.2l3.5 -3.9M195.6 1108.3l3.4 -3.9M207.2 1108.3l3.3 -4M218.9 1108.3l3.3 -4M230.5 1108.4l3.2 -4.1M242.2 1108.4l3.1 -4.2M253.8 1108.4l3 -4.2M265.4 1108.5l2.9 -4.3M277.1 1108.5l2.8 -4.4M288.7 1108.5l2.7 -4.4M300.4 1108.6l2.6 -4.5M312.1 1108.6l2.5 -4.6M323.7 1108.6l2.4 -4.6M335.4 1108.6l2.2 -4.7M347 1108.7l2.1 -4.8M358.7 1108.7l2 -4.8M370.4 1108.7l1.8 -4.9M114.2 1121.3l3.8 -3.6M125.8 1121.3l3.7 -3.6M137.5 1121.3l3.7 -3.7M149.1 1121.4l3.6 -3.7M160.7 1121.4l3.6 -3.8M172.4 1121.4l3.5 -3.9M184 1121.5l3.4 -3.9M195.6 1121.5l3.3 -4M207.3 1121.5l3.3 -4M218.9 1121.6l3.2 -4.1M230.5 1121.6l3.1 -4.2M242.2 1121.6l3 -4.2M253.8 1121.6l2.9 -4.3M265.5 1121.7l2.8 -4.4M277.1 1121.7l2.7 -4.4M288.8 1121.7l2.6 -4.5M300.4 1121.8l2.5 -4.5M312.1 1121.8l2.4 -4.6M323.8 1121.8l2.3 -4.7M335.4 1121.9l2.2 -4.7M347.1 1121.9l2 -4.8M358.7 1121.9l1.9 -4.8M370.4 1121.9l1.8 -4.9M125.9 1134.5l3.7 -3.7M137.5 1134.6l3.6 -3.7M149.1 1134.6l3.5 -3.8M160.8 1134.6l3.5 -3.9M172.4 1134.7l3.4 -3.9M184 1134.7l3.3 -4M195.7 1134.7l3.3 -4M207.3 1134.8l3.2 -4.1M218.9 1134.8l3.1 -4.2M230.6 1134.8l3 -4.2M242.2 1134.8l2.9 -4.3M253.9 1134.9l2.9 -4.3M265.5 1134.9l2.8 -4.4M277.2 1134.9l2.7 -4.5M288.8 1135l2.6 -4.5M300.5 1135l2.5 -4.6M312.1 1135l2.3 -4.6M323.8 1135l2.2 -4.7M335.4 1135.1l2.1 -4.8M347.1 1135.1l2 -4.8M358.8 1135.1l1.9 -4.9M370.4 1135.2l1.7 -4.9M125.9 1147.8l3.6 -3.7M137.5 1147.8l3.5 -3.8M149.2 1147.8l3.5 -3.9M160.8 1147.9l3.4 -3.9M172.4 1147.9l3.4 -4M184.1 1147.9l3.3 -4M195.7 1147.9l3.2 -4.1M207.3 1148l3.1 -4.2M219 1148l3 -4.2M230.6 1148l3 -4.3M242.3 1148.1l2.9 -4.3M253.9 1148.1l2.8 -4.4M265.6 1148.1l2.7 -4.4M277.2 1148.2l2.6 -4.5M288.9 1148.2l2.5 -4.6M300.5 1148.2l2.4 -4.6M312.2 1148.2l2.3 -4.7M323.8 1148.3l2.2 -4.7M335.5 1148.3l2 -4.8M347.1 1148.3l1.9 -4.8M358.8 1148.3l1.8 -4.9M137.6 1161l3.5 -3.9M149.2 1161.1l3.4 -3.9M160.8 1161.1l3.4 -4M172.5 1161.1l3.3 -4M184.1 1161.1l3.2 -4.1M195.7 1161.2l3.1 -4.1M207.4 1161.2l3.1 -4.2M219 1161.2l3 -4.3M230.6 1161.3l2.9 -4.3M242.3 1161.3l2.8 -4.4M253.9 1161.3l2.7 -4.4M265.6 1161.3l2.6 -4.5M277.2 1161.4l2.5 -4.5M288.9 1161.4l2.4 -4.6M300.5 1161.4l2.3 -4.7M312.2 1161.5l2.2 -4.7M323.8 1161.5l2.1 -4.8M335.5 1161.5l2 -4.8M347.2 1161.5l1.9 -4.9M149.2 1174.3l3.4 -4M160.9 1174.3l3.3 -4M172.5 1174.3l3.2 -4.1M184.1 1174.4l3.2 -4.1M195.8 1174.4l3.1 -4.2M207.4 1174.4l3 -4.2M219 1174.5l2.9 -4.3M230.7 1174.5l2.8 -4.4M242.3 1174.5l2.7 -4.4M254 1174.5l2.7 -4.5M265.6 1174.6l2.6 -4.5M277.3 1174.6l2.5 -4.6M288.9 1174.6l2.4 -4.6M300.6 1174.6l2.3 -4.7M312.2 1174.7l2.2 -4.7M323.9 1174.7l2.1 -4.8M335.5 1174.7l1.9 -4.8M160.9 1187.5l3.2 -4.1M172.5 1187.6l3.2 -4.1M184.2 1187.6l3.1 -4.2M195.8 1187.6l3 -4.2M207.4 1187.6l2.9 -4.3M219.1 1187.7l2.9 -4.3M230.7 1187.7l2.8 -4.4M242.4 1187.7l2.7 -4.5M254 1187.8l2.6 -4.5M265.6 1187.8l2.5 -4.6M277.3 1187.8l2.4 -4.6M288.9 1187.8l2.3 -4.7M300.6 1187.9l2.2 -4.7M312.2 1187.9l2.1 -4.8M323.9 1187.9l2 -4.8M184.2 1200.8l3 -4.2M195.8 1200.8l3 -4.3M207.5 1200.9l2.9 -4.3M219.1 1200.9l2.8 -4.4M230.7 1200.9l2.7 -4.4M242.4 1200.9l2.6 -4.5M254 1201l2.5 -4.5M265.7 1201l2.4 -4.6M277.3 1201l2.4 -4.6M289 1201l2.3 -4.7M300.6 1201.1l2.2 -4.7M219.1 1214.1l2.7 -4.4M230.8 1214.1l2.7 -4.5M242.4 1214.2l2.6 -4.5M254.1 1214.2l2.5 -4.6M265.7 1214.2l2.4 -4.6" stroke="#e8c8d0" stroke-width="1.3" stroke-linecap="round" opacity="0.35" fill="none"/>
</g>
<circle cx="244.5" cy="1073.7" r="145" fill="none" stroke="#2a2a2a" stroke-width="1.8"/>
<line x1="234.4" y1="929.5" x2="225.5" y2="978.5" stroke="#35b53a" stroke-width="4.6" stroke-linecap="round"/>
<line x1="225.5" y1="978.5" x2="262.3" y2="1034.3" stroke="#35b53a" stroke-width="4.6" stroke-linecap="round"/>
<line x1="335.5" y1="961.8" x2="262.3" y2="1034.3" stroke="#35b53a" stroke-width="4.6" stroke-linecap="round"/>
<line x1="262.3" y1="1034.3" x2="208.1" y2="1033" stroke="#35b53a" stroke-width="4.6" stroke-linecap="round"/>
<line x1="208.1" y1="1033" x2="172" y2="1032.1" stroke="#c145bf" stroke-width="4.6" stroke-linecap="round"/>
<line x1="172" y1="1032.1" x2="133.1" y2="1043.8" stroke="#c145bf" stroke-width="4.6" stroke-linecap="round"/>
<line x1="133.1" y1="1043.8" x2="101.2" y2="1053.3" stroke="#35b53a" stroke-width="4.6" stroke-linecap="round"/>
<line x1="172" y1="1032.1" x2="180.9" y2="1095.6" stroke="#c145bf" stroke-width="4.6" stroke-linecap="round"/>
<line x1="180.9" y1="1095.6" x2="213.8" y2="1121.3" stroke="#c145bf" stroke-width="4.6" stroke-linecap="round"/>
<line x1="213.8" y1="1121.3" x2="246.7" y2="1147" stroke="#35b53a" stroke-width="4.6" stroke-linecap="round"/>
<line x1="180.9" y1="1095.6" x2="138.5" y2="1171.5" stroke="#35b53a" stroke-width="4.6" stroke-linecap="round"/>
<line x1="246.7" y1="1147" x2="259" y2="1218.3" stroke="#35b53a" stroke-width="4.6" stroke-linecap="round"/>
<line x1="246.7" y1="1147" x2="256.6" y2="1134.6" stroke="#35b53a" stroke-width="4.6" stroke-linecap="round"/>
<line x1="256.6" y1="1134.6" x2="294.1" y2="1087.5" stroke="#c145bf" stroke-width="4.6" stroke-linecap="round"/>
<line x1="294.1" y1="1087.5" x2="312.5" y2="1064.4" stroke="#35b53a" stroke-width="4.6" stroke-linecap="round"/>
<line x1="262.3" y1="1034.3" x2="312.5" y2="1064.4" stroke="#c145bf" stroke-width="4.6" stroke-linecap="round"/>
<line x1="312.5" y1="1064.4" x2="340.1" y2="1085.8" stroke="#c145bf" stroke-width="4.6" stroke-linecap="round"/>
<line x1="340.1" y1="1085.8" x2="381.6" y2="1118" stroke="#35b53a" stroke-width="4.6" stroke-linecap="round"/>
<line x1="234.4" y1="929.5" x2="225.5" y2="978.5" stroke="#0d7d14" stroke-width="1.1" stroke-opacity="0.8"/>
<line x1="225.5" y1="978.5" x2="262.3" y2="1034.3" stroke="#0d7d14" stroke-width="1.1" stroke-opacity="0.8"/>
<line x1="335.5" y1="961.8" x2="262.3" y2="1034.3" stroke="#0d7d14" stroke-width="1.1" stroke-opacity="0.8"/>
<line x1="262.3" y1="1034.3" x2="208.1" y2="1033" stroke="#0d7d14" stroke-width="1.1" stroke-opacity="0.8"/>
<line x1="208.1" y1="1033" x2="172" y2="1032.1" stroke="#5a1a5a" stroke-width="1.1" stroke-opacity="0.8"/>
<line x1="172" y1="1032.1" x2="133.1" y2="1043.8" stroke="#5a1a5a" stroke-width="1.1" stroke-opacity="0.8"/>
<line x1="133.1" y1="1043.8" x2="101.2" y2="1053.3" stroke="#0d7d14" stroke-width="1.1" stroke-opacity="0.8"/>
<line x1="172" y1="1032.1" x2="180.9" y2="1095.6" stroke="#5a1a5a" stroke-width="1.1" stroke-opacity="0.8"/>
<line x1="180.9" y1="1095.6" x2="213.8" y2="1121.3" stroke="#5a1a5a" stroke-width="1.1" stroke-opacity="0.8"/>
<line x1="213.8" y1="1121.3" x2="246.7" y2="1147" stroke="#0d7d14" stroke-width="1.1" stroke-opacity="0.8"/>
<line x1="180.9" y1="1095.6" x2="138.5" y2="1171.5" stroke="#0d7d14" stroke-width="1.1" stroke-opacity="0.8"/>
<line x1="246.7" y1="1147" x2="259" y2="1218.3" stroke="#0d7d14" stroke-width="1.1" stroke-opacity="0.8"/>
<line x1="246.7" y1="1147" x2="256.6" y2="1134.6" stroke="#0d7d14" stroke-width="1.1" stroke-opacity="0.8"/>
<line x1="256.6" y1="1134.6" x2="294.1" y2="1087.5" stroke="#5a1a5a" stroke-width="1.1" stroke-opacity="0.8"/>
<line x1="294.1" y1="1087.5" x2="312.5" y2="1064.4" stroke="#0d7d14" stroke-width="1.1" stroke-opacity="0.8"/>
<line x1="262.3" y1="1034.3" x2="312.5" y2="1064.4" stroke="#5a1a5a" stroke-width="1.1" stroke-opacity="0.8"/>
<line x1="312.5" y1="1064.4" x2="340.1" y2="1085.8" stroke="#5a1a5a" stroke-width="1.1" stroke-opacity="0.8"/>
<line x1="340.1" y1="1085.8" x2="381.6" y2="1118" stroke="#0d7d14" stroke-width="1.1" stroke-opacity="0.8"/>
<text x="252" y="911.3" font-size="24" text-anchor="middle" stroke="#000" stroke-width="0.3" textLength="106.3" lengthAdjust="spacing">T=1000 s</text>
<text x="41.5" y="924.7" font-size="43" font-weight="bold">h</text>
<text x="73.5" y="1254.6" font-size="24.5" stroke="#000" stroke-width="0.3" textLength="150.8" lengthAdjust="spacing">CBD Domain</text>
<text x="185.3" y="1003.8" font-size="23.5" text-anchor="middle" fill="#fff" stroke="#fff" stroke-width="0.3" textLength="31" lengthAdjust="spacing">D1</text>
<text x="281.3" y="982.6" font-size="23.5" text-anchor="middle" fill="#fff" stroke="#fff" stroke-width="0.3" textLength="31" lengthAdjust="spacing">D2</text>
<text x="351.5" y="1041.7" font-size="23.5" text-anchor="middle" fill="#fff" stroke="#fff" stroke-width="0.3" textLength="31" lengthAdjust="spacing">D3</text>
<text x="252.3" y="1089.6" font-size="23.5" text-anchor="middle" fill="#fff" stroke="#fff" stroke-width="0.3" textLength="31" lengthAdjust="spacing">D4</text>
<text x="147.4" y="1107.5" font-size="23.5" text-anchor="middle" fill="#fff" stroke="#fff" stroke-width="0.3" textLength="31" lengthAdjust="spacing">D7</text>
<text x="325.9" y="1151" font-size="23.5" text-anchor="middle" fill="#fff" stroke="#fff" stroke-width="0.3" textLength="31" lengthAdjust="spacing">D5</text>
<text x="208.8" y="1181.1" font-size="23.5" text-anchor="middle" fill="#fff" stroke="#fff" stroke-width="0.3" textLength="31" lengthAdjust="spacing">D6</text>
<path d="M418.1 1000 L420.6 1002 L484.5 1058.6 L483.8 1065.1 L483.3 1071.6 L483.1 1078.2 L483.2 1084.8 L483.6 1091.3 L484.3 1097.9 L485.3 1104.3 L486.6 1110.8 L488.2 1117.2 L490.1 1123.5 L492.2 1129.7 L494.7 1135.8 L497.4 1141.7 L500.4 1147.6 L503.6 1153.3 L507.1 1158.9 L510.8 1164.3 L514.8 1169.5 L519 1174.5 L523.5 1179.4 L528.1 1184 L533 1188.4 L538 1192.6 L543.3 1196.6 L548.7 1200.3 L554.3 1203.8 L560 1207 L565.9 1210 L571.8 1212.6 L578 1215.1 L584.2 1217.2 L590.5 1219 L596.9 1220.6 L603.3 1221.9 L609.8 1222.8 L616.3 1223.5 L622.9 1223.9 L629.5 1224 L636 1223.8 L642.6 1223.3 L648.6 1264 L655.7 1301 L418.1 1301Z" stroke="none" stroke-width="0" fill="#e6eef9"/>
<path d="M420.6 1002 L484.8 1058.6" stroke="#2e2e2e" stroke-width="2" fill="none"/>
<path d="M642.6 1223.6 Q646.1 1269 655.7 1302" stroke="#2e2e2e" stroke-width="2" fill="none"/>
<defs><linearGradient id="sgi" gradientUnits="userSpaceOnUse" x1="508.1" y1="1159" x2="738.1" y2="984"><stop offset="0" stop-color="#ab9f6e"/><stop offset="1" stop-color="#6a6c76"/></linearGradient><clipPath id="cci"><circle cx="628.1" cy="1079" r="145"/></clipPath></defs>
<circle cx="628.1" cy="1079" r="145" fill="url(#sgi)"/>
<g clip-path="url(#cci)">
<path d="M719.1 967.1 L645.9 1039.6 L696.1 1069.7 L765.2 1123.3 L768.5 1115.2 L770.4 1106.7 L771.8 1098.1 L772.7 1089.5 L773.1 1080.8 L772.9 1072.1 L772.3 1063.4 L771.1 1054.8 L769.4 1046.3 L767.1 1037.8 L764.4 1029.6 L761.2 1021.5 L757.5 1013.6 L753.4 1006 L748.8 998.6 L743.7 991.5 L738.3 984.7 L732.4 978.3 L726.2 972.2Z" stroke="none" stroke-width="0" fill="#5b5f6d" fill-opacity="0.6"/>
<path d="M618 934.8 L609.1 983.8 L645.9 1039.6 L719.1 967.1 L715.3 963.1 L710.9 959.9 L706.3 956.9 L701.7 954.1 L696.9 951.4 L692.1 948.9 L687.1 946.6 L682.1 944.4 L677 942.5 L671.8 940.8 L666.6 939.2 L661.3 937.9 L656 936.7 L650.6 935.8 L645.2 935 L639.8 934.5 L634.3 934.1 L628.9 934 L623.4 934.1Z" stroke="none" stroke-width="0" fill="#6b6e78" fill-opacity="0.35"/>
<path d="M613.6 941.5l4.3 -3M625.2 941.5l4.2 -3.1M636.8 941.6l4.1 -3.2M648.5 941.6l4 -3.3M567.1 954.6l4.4 -2.8M578.7 954.6l4.4 -2.8M590.4 954.7l4.3 -2.9M602 954.7l4.2 -3M613.6 954.8l4.2 -3.1M625.3 954.8l4.1 -3.2M636.9 954.9l4 -3.3M648.5 954.9l3.9 -3.4M660.2 955l3.8 -3.6M671.9 955l3.7 -3.7M683.5 955.1l3.6 -3.8M543.9 967.8l4.4 -2.7M555.5 967.8l4.4 -2.8M567.1 967.9l4.3 -2.9M578.8 967.9l4.3 -3M590.4 967.9l4.2 -3.1M602 968l4.1 -3.2M613.7 968l4 -3.3M625.3 968.1l4 -3.4M637 968.1l3.9 -3.5M648.6 968.2l3.8 -3.6M660.3 968.2l3.7 -3.7M671.9 968.3l3.5 -3.8M683.6 968.4l3.4 -3.9M695.3 968.4l3.3 -4M706.9 968.5l3.1 -4.2M532.3 981l4.4 -2.8M543.9 981l4.3 -2.9M555.6 981.1l4.3 -3M567.2 981.1l4.2 -3M578.8 981.2l4.2 -3.1M590.5 981.2l4.1 -3.2M602.1 981.3l4 -3.3M613.7 981.3l3.9 -3.4M625.4 981.3l3.8 -3.5M637 981.4l3.8 -3.6M648.7 981.5l3.6 -3.7M660.3 981.5l3.5 -3.8M672 981.6l3.4 -3.9M683.7 981.6l3.3 -4M695.3 981.7l3.1 -4.2M707 981.7l3 -4.3M718.7 981.8l2.8 -4.4M520.7 994.2l4.3 -2.9M532.4 994.3l4.3 -2.9M544 994.3l4.2 -3M555.6 994.3l4.2 -3.1M567.2 994.4l4.1 -3.2M578.9 994.4l4.1 -3.2M590.5 994.5l4 -3.3M602.1 994.5l3.9 -3.4M613.8 994.6l3.8 -3.5M625.4 994.6l3.7 -3.6M637.1 994.7l3.6 -3.7M648.7 994.7l3.5 -3.8M660.4 994.8l3.4 -3.9M672.1 994.8l3.3 -4M683.7 994.9l3.2 -4.1M695.4 994.9l3 -4.2M707.1 995l2.8 -4.4M718.8 995l2.7 -4.5M730.5 995.1l2.5 -4.6M509.1 1007.5l4.3 -2.9M520.8 1007.5l4.3 -3M532.4 1007.5l4.2 -3M544 1007.6l4.2 -3.1M555.7 1007.6l4.1 -3.2M567.3 1007.6l4 -3.3M578.9 1007.7l4 -3.4M590.6 1007.7l3.9 -3.5M602.2 1007.8l3.8 -3.5M613.8 1007.8l3.7 -3.6M625.5 1007.9l3.6 -3.7M637.1 1007.9l3.5 -3.8M648.8 1008l3.4 -3.9M660.5 1008l3.3 -4M672.1 1008.1l3.2 -4.1M683.8 1008.1l3 -4.2M695.5 1008.2l2.9 -4.3M707.1 1008.2l2.7 -4.4M718.8 1008.3l2.6 -4.5M730.5 1008.3l2.4 -4.6M742.2 1008.4l2.2 -4.7M509.2 1020.7l4.2 -3M520.8 1020.7l4.2 -3.1M532.4 1020.8l4.1 -3.2M544.1 1020.8l4.1 -3.2M555.7 1020.9l4 -3.3M567.3 1020.9l3.9 -3.4M579 1020.9l3.9 -3.5M590.6 1021l3.8 -3.6M602.2 1021l3.7 -3.6M613.9 1021.1l3.6 -3.7M625.5 1021.1l3.5 -3.8M637.2 1021.2l3.4 -3.9M648.8 1021.2l3.3 -4M660.5 1021.3l3.2 -4.1M672.2 1021.3l3.1 -4.2M683.8 1021.4l2.9 -4.3M695.5 1021.4l2.8 -4.4M707.2 1021.4l2.6 -4.5M718.9 1021.5l2.4 -4.6M730.6 1021.5l2.3 -4.7M742.3 1021.6l2.1 -4.8M754 1021.6l1.9 -4.8M497.6 1033.9l4.2 -3.1M509.2 1034l4.2 -3.1M520.8 1034l4.1 -3.2M532.5 1034l4 -3.3M544.1 1034.1l4 -3.3M555.7 1034.1l3.9 -3.4M567.4 1034.1l3.8 -3.5M579 1034.2l3.8 -3.6M590.7 1034.2l3.7 -3.7M602.3 1034.3l3.6 -3.7M613.9 1034.3l3.5 -3.8M625.6 1034.4l3.4 -3.9M637.2 1034.4l3.3 -4M648.9 1034.5l3.2 -4.1M660.6 1034.5l3.1 -4.2M672.2 1034.5l2.9 -4.3M683.9 1034.6l2.8 -4.4M695.6 1034.6l2.7 -4.5M707.2 1034.7l2.5 -4.6M718.9 1034.7l2.3 -4.6M730.6 1034.8l2.2 -4.7M742.3 1034.8l2 -4.8M754 1034.8l1.8 -4.9M497.6 1047.2l4.1 -3.2M509.3 1047.2l4.1 -3.2M520.9 1047.2l4 -3.3M532.5 1047.3l4 -3.4M544.2 1047.3l3.9 -3.4M555.8 1047.4l3.8 -3.5M567.4 1047.4l3.8 -3.6M579.1 1047.4l3.7 -3.7M590.7 1047.5l3.6 -3.8M602.3 1047.5l3.5 -3.8M614 1047.6l3.4 -3.9M625.6 1047.6l3.3 -4M637.3 1047.6l3.2 -4.1M649 1047.7l3.1 -4.2M660.6 1047.7l3 -4.3M672.3 1047.8l2.8 -4.4M683.9 1047.8l2.7 -4.4M695.6 1047.9l2.6 -4.5M707.3 1047.9l2.4 -4.6M719 1047.9l2.3 -4.7M730.7 1048l2.1 -4.8M742.3 1048l1.9 -4.8M754 1048.1l1.7 -4.9M497.7 1060.4l4.1 -3.3M509.3 1060.5l4 -3.3M520.9 1060.5l3.9 -3.4M532.6 1060.5l3.9 -3.5M544.2 1060.6l3.8 -3.5M555.8 1060.6l3.7 -3.6M567.5 1060.6l3.7 -3.7M579.1 1060.7l3.6 -3.8M590.7 1060.7l3.5 -3.8M602.4 1060.8l3.4 -3.9M614 1060.8l3.3 -4M625.7 1060.8l3.2 -4.1M637.3 1060.9l3.1 -4.2M649 1060.9l3 -4.2M660.7 1061l2.9 -4.3M672.3 1061l2.8 -4.4M684 1061l2.6 -4.5M695.7 1061.1l2.5 -4.6M707.3 1061.1l2.3 -4.7M719 1061.2l2.2 -4.7M730.7 1061.2l2 -4.8M742.4 1061.2l1.8 -4.9M754.1 1061.3l1.6 -4.9M765.8 1061.3l1.5 -5M486.1 1073.6l4 -3.3M497.7 1073.7l4 -3.3M509.3 1073.7l3.9 -3.4M521 1073.7l3.9 -3.5M532.6 1073.8l3.8 -3.6M544.2 1073.8l3.7 -3.6M555.9 1073.8l3.7 -3.7M567.5 1073.9l3.6 -3.8M579.1 1073.9l3.5 -3.8M590.8 1074l3.4 -3.9M602.4 1074l3.3 -4M614.1 1074l3.2 -4.1M625.7 1074.1l3.1 -4.2M637.4 1074.1l3 -4.2M649 1074.2l2.9 -4.3M660.7 1074.2l2.8 -4.4M672.4 1074.2l2.7 -4.5M684 1074.3l2.5 -4.5M695.7 1074.3l2.4 -4.6M707.4 1074.3l2.2 -4.7M719.1 1074.4l2.1 -4.8M730.7 1074.4l1.9 -4.8M742.4 1074.4l1.8 -4.9M754.1 1074.5l1.6 -5M765.8 1074.5l1.4 -5M486.1 1086.9l4 -3.4M497.7 1086.9l3.9 -3.4M509.4 1086.9l3.8 -3.5M521 1087l3.8 -3.6M532.6 1087l3.7 -3.6M544.3 1087.1l3.7 -3.7M555.9 1087.1l3.6 -3.8M567.5 1087.1l3.5 -3.8M579.2 1087.2l3.4 -3.9M590.8 1087.2l3.3 -4M602.5 1087.2l3.2 -4.1M614.1 1087.3l3.1 -4.1M625.8 1087.3l3 -4.2M637.4 1087.3l2.9 -4.3M649.1 1087.4l2.8 -4.4M660.8 1087.4l2.7 -4.4M672.4 1087.5l2.6 -4.5M684.1 1087.5l2.4 -4.6M695.7 1087.5l2.3 -4.7M707.4 1087.6l2.2 -4.7M719.1 1087.6l2 -4.8M730.8 1087.6l1.8 -4.9M742.5 1087.7l1.7 -4.9M754.1 1087.7l1.5 -5M765.8 1087.7l1.3 -5M497.8 1100.2l3.8 -3.5M509.4 1100.2l3.8 -3.6M521 1100.2l3.7 -3.6M532.7 1100.3l3.6 -3.7M544.3 1100.3l3.6 -3.8M556 1100.3l3.5 -3.8M567.6 1100.4l3.4 -3.9M579.2 1100.4l3.3 -4M590.9 1100.4l3.2 -4.1M602.5 1100.5l3.2 -4.1M614.2 1100.5l3.1 -4.2M625.8 1100.5l3 -4.3M637.5 1100.6l2.8 -4.3M649.1 1100.6l2.7 -4.4M660.8 1100.6l2.6 -4.5M672.5 1100.7l2.5 -4.6M684.1 1100.7l2.4 -4.6M695.8 1100.7l2.2 -4.7M707.5 1100.8l2.1 -4.8M719.1 1100.8l1.9 -4.8M730.8 1100.8l1.8 -4.9M742.5 1100.9l1.6 -4.9M754.2 1100.9l1.5 -5M765.9 1100.9l1.3 -5M497.8 1113.4l3.8 -3.6M509.5 1113.4l3.7 -3.7M521.1 1113.5l3.6 -3.7M532.7 1113.5l3.6 -3.8M544.4 1113.5l3.5 -3.8M556 1113.6l3.4 -3.9M567.6 1113.6l3.3 -4M579.3 1113.6l3.3 -4.1M590.9 1113.7l3.2 -4.1M602.6 1113.7l3.1 -4.2M614.2 1113.7l3 -4.3M625.9 1113.8l2.9 -4.3M637.5 1113.8l2.8 -4.4M649.2 1113.8l2.7 -4.5M660.8 1113.9l2.5 -4.5M672.5 1113.9l2.4 -4.6M684.2 1113.9l2.3 -4.7M695.8 1114l2.2 -4.7M707.5 1114l2 -4.8M719.2 1114l1.9 -4.9M730.8 1114.1l1.7 -4.9M742.5 1114.1l1.6 -5M754.2 1114.1l1.4 -5M497.9 1126.6l3.7 -3.7M509.5 1126.7l3.6 -3.7M521.1 1126.7l3.6 -3.8M532.8 1126.7l3.5 -3.9M544.4 1126.8l3.4 -3.9M556 1126.8l3.3 -4M567.7 1126.8l3.3 -4M579.3 1126.9l3.2 -4.1M591 1126.9l3.1 -4.2M602.6 1126.9l3 -4.2M614.2 1127l2.9 -4.3M625.9 1127l2.8 -4.4M637.6 1127l2.7 -4.4M649.2 1127.1l2.6 -4.5M660.9 1127.1l2.5 -4.6M672.5 1127.1l2.3 -4.6M684.2 1127.2l2.2 -4.7M695.9 1127.2l2.1 -4.8M707.5 1127.2l1.9 -4.8M719.2 1127.2l1.8 -4.9M730.9 1127.3l1.7 -4.9M742.5 1127.3l1.5 -5M754.2 1127.3l1.4 -5M509.5 1139.9l3.6 -3.8M521.2 1139.9l3.5 -3.9M532.8 1140l3.4 -3.9M544.4 1140l3.3 -4M556.1 1140l3.3 -4M567.7 1140.1l3.2 -4.1M579.3 1140.1l3.1 -4.2M591 1140.1l3 -4.2M602.6 1140.2l2.9 -4.3M614.3 1140.2l2.8 -4.4M625.9 1140.2l2.7 -4.4M637.6 1140.2l2.6 -4.5M649.2 1140.3l2.5 -4.6M660.9 1140.3l2.4 -4.6M672.6 1140.3l2.3 -4.7M684.2 1140.4l2.1 -4.7M695.9 1140.4l2 -4.8M707.6 1140.4l1.9 -4.8M719.2 1140.4l1.7 -4.9M730.9 1140.5l1.6 -4.9M742.6 1140.5l1.5 -5M754.2 1140.5l1.3 -5M509.6 1153.1l3.5 -3.9M521.2 1153.2l3.4 -3.9M532.8 1153.2l3.4 -4M544.5 1153.2l3.3 -4M556.1 1153.2l3.2 -4.1M567.7 1153.3l3.1 -4.2M579.4 1153.3l3 -4.2M591 1153.3l2.9 -4.3M602.7 1153.4l2.9 -4.3M614.3 1153.4l2.8 -4.4M626 1153.4l2.7 -4.5M637.6 1153.5l2.5 -4.5M649.3 1153.5l2.4 -4.6M660.9 1153.5l2.3 -4.7M672.6 1153.6l2.2 -4.7M684.3 1153.6l2.1 -4.8M695.9 1153.6l2 -4.8M707.6 1153.6l1.8 -4.9M719.3 1153.7l1.7 -4.9M730.9 1153.7l1.6 -5M742.6 1153.7l1.4 -5M521.2 1166.4l3.4 -4M532.9 1166.4l3.3 -4M544.5 1166.4l3.2 -4.1M556.1 1166.5l3.1 -4.2M567.8 1166.5l3 -4.2M579.4 1166.5l3 -4.3M591.1 1166.6l2.9 -4.3M602.7 1166.6l2.8 -4.4M614.4 1166.6l2.7 -4.5M626 1166.7l2.6 -4.5M637.7 1166.7l2.5 -4.6M649.3 1166.7l2.4 -4.6M661 1166.7l2.3 -4.7M672.6 1166.8l2.1 -4.7M684.3 1166.8l2 -4.8M696 1166.8l1.9 -4.8M707.6 1166.8l1.8 -4.9M719.3 1166.9l1.6 -4.9M730.9 1166.9l1.5 -5M532.9 1179.6l3.2 -4.1M544.5 1179.7l3.1 -4.1M556.2 1179.7l3.1 -4.2M567.8 1179.7l3 -4.3M579.5 1179.8l2.9 -4.3M591.1 1179.8l2.8 -4.4M602.7 1179.8l2.7 -4.4M614.4 1179.8l2.6 -4.5M626 1179.9l2.5 -4.5M637.7 1179.9l2.4 -4.6M649.3 1179.9l2.3 -4.7M661 1180l2.2 -4.7M672.7 1180l2.1 -4.8M684.3 1180l2 -4.8M696 1180l1.8 -4.9M707.6 1180.1l1.7 -4.9M719.3 1180.1l1.6 -5M544.6 1192.9l3.1 -4.2M556.2 1192.9l3 -4.2M567.8 1193l2.9 -4.3M579.5 1193l2.8 -4.4M591.1 1193l2.7 -4.4M602.8 1193l2.7 -4.5M614.4 1193.1l2.6 -4.5M626.1 1193.1l2.5 -4.6M637.7 1193.1l2.4 -4.6M649.4 1193.1l2.2 -4.7M661 1193.2l2.1 -4.7M672.7 1193.2l2 -4.8M684.3 1193.2l1.9 -4.8M696 1193.2l1.8 -4.9M707.7 1193.3l1.7 -4.9M567.9 1206.2l2.9 -4.3M579.5 1206.2l2.8 -4.4M591.2 1206.2l2.7 -4.5M602.8 1206.3l2.6 -4.5M614.5 1206.3l2.5 -4.6M626.1 1206.3l2.4 -4.6M637.8 1206.3l2.3 -4.7M649.4 1206.4l2.2 -4.7M661.1 1206.4l2.1 -4.8M672.7 1206.4l2 -4.8M684.4 1206.4l1.9 -4.9M602.8 1219.5l2.5 -4.5M614.5 1219.5l2.4 -4.6M626.1 1219.5l2.3 -4.6M637.8 1219.5l2.2 -4.7M649.4 1219.6l2.1 -4.7" stroke="#f4eee0" stroke-width="1.3" stroke-linecap="round" opacity="0.55" fill="none"/>
</g>
<circle cx="628.1" cy="1079" r="145" fill="none" stroke="#2a2a2a" stroke-width="1.8"/>
<line x1="618" y1="934.8" x2="616.2" y2="944.6" stroke="#35b53a" stroke-width="4.6" stroke-linecap="round"/>
<line x1="616.2" y1="944.6" x2="611.1" y2="973" stroke="#c145bf" stroke-width="4.6" stroke-linecap="round"/>
<line x1="611.1" y1="973" x2="609.1" y2="983.8" stroke="#35b53a" stroke-width="4.6" stroke-linecap="round"/>
<line x1="609.1" y1="983.8" x2="613.5" y2="990.5" stroke="#35b53a" stroke-width="4.6" stroke-linecap="round"/>
<line x1="613.5" y1="990.5" x2="645.9" y2="1039.6" stroke="#c145bf" stroke-width="4.6" stroke-linecap="round"/>
<line x1="719.1" y1="967.1" x2="700.8" y2="985.2" stroke="#35b53a" stroke-width="4.6" stroke-linecap="round"/>
<line x1="700.8" y1="985.2" x2="645.9" y2="1039.6" stroke="#c145bf" stroke-width="4.6" stroke-linecap="round"/>
<line x1="645.9" y1="1039.6" x2="591.7" y2="1038.3" stroke="#35b53a" stroke-width="4.6" stroke-linecap="round"/>
<line x1="591.7" y1="1038.3" x2="555.6" y2="1037.4" stroke="#c145bf" stroke-width="4.6" stroke-linecap="round"/>
<line x1="555.6" y1="1037.4" x2="502.5" y2="1053.3" stroke="#c145bf" stroke-width="4.6" stroke-linecap="round"/>
<line x1="502.5" y1="1053.3" x2="484.8" y2="1058.6" stroke="#35b53a" stroke-width="4.6" stroke-linecap="round"/>
<line x1="555.6" y1="1037.4" x2="564.5" y2="1100.9" stroke="#c145bf" stroke-width="4.6" stroke-linecap="round"/>
<line x1="564.5" y1="1100.9" x2="600.7" y2="1129.2" stroke="#c145bf" stroke-width="4.6" stroke-linecap="round"/>
<line x1="600.7" y1="1129.2" x2="630.3" y2="1152.3" stroke="#35b53a" stroke-width="4.6" stroke-linecap="round"/>
<line x1="564.5" y1="1100.9" x2="555.2" y2="1117.6" stroke="#c145bf" stroke-width="4.6" stroke-linecap="round"/>
<line x1="555.2" y1="1117.6" x2="522.1" y2="1176.8" stroke="#35b53a" stroke-width="4.6" stroke-linecap="round"/>
<line x1="630.3" y1="1152.3" x2="642.6" y2="1223.6" stroke="#35b53a" stroke-width="4.6" stroke-linecap="round"/>
<line x1="630.3" y1="1152.3" x2="636.9" y2="1144" stroke="#35b53a" stroke-width="4.6" stroke-linecap="round"/>
<line x1="636.9" y1="1144" x2="679.7" y2="1090.3" stroke="#c145bf" stroke-width="4.6" stroke-linecap="round"/>
<line x1="679.7" y1="1090.3" x2="696.1" y2="1069.7" stroke="#35b53a" stroke-width="4.6" stroke-linecap="round"/>
<line x1="645.9" y1="1039.6" x2="696.1" y2="1069.7" stroke="#c145bf" stroke-width="4.6" stroke-linecap="round"/>
<line x1="696.1" y1="1069.7" x2="744.5" y2="1107.2" stroke="#c145bf" stroke-width="4.6" stroke-linecap="round"/>
<line x1="744.5" y1="1107.2" x2="765.2" y2="1123.3" stroke="#35b53a" stroke-width="4.6" stroke-linecap="round"/>
<line x1="618" y1="934.8" x2="616.2" y2="944.6" stroke="#0d7d14" stroke-width="1.1" stroke-opacity="0.8"/>
<line x1="616.2" y1="944.6" x2="611.1" y2="973" stroke="#5a1a5a" stroke-width="1.1" stroke-opacity="0.8"/>
<line x1="611.1" y1="973" x2="609.1" y2="983.8" stroke="#0d7d14" stroke-width="1.1" stroke-opacity="0.8"/>
<line x1="609.1" y1="983.8" x2="613.5" y2="990.5" stroke="#0d7d14" stroke-width="1.1" stroke-opacity="0.8"/>
<line x1="613.5" y1="990.5" x2="645.9" y2="1039.6" stroke="#5a1a5a" stroke-width="1.1" stroke-opacity="0.8"/>
<line x1="719.1" y1="967.1" x2="700.8" y2="985.2" stroke="#0d7d14" stroke-width="1.1" stroke-opacity="0.8"/>
<line x1="700.8" y1="985.2" x2="645.9" y2="1039.6" stroke="#5a1a5a" stroke-width="1.1" stroke-opacity="0.8"/>
<line x1="645.9" y1="1039.6" x2="591.7" y2="1038.3" stroke="#0d7d14" stroke-width="1.1" stroke-opacity="0.8"/>
<line x1="591.7" y1="1038.3" x2="555.6" y2="1037.4" stroke="#5a1a5a" stroke-width="1.1" stroke-opacity="0.8"/>
<line x1="555.6" y1="1037.4" x2="502.5" y2="1053.3" stroke="#5a1a5a" stroke-width="1.1" stroke-opacity="0.8"/>
<line x1="502.5" y1="1053.3" x2="484.8" y2="1058.6" stroke="#0d7d14" stroke-width="1.1" stroke-opacity="0.8"/>
<line x1="555.6" y1="1037.4" x2="564.5" y2="1100.9" stroke="#5a1a5a" stroke-width="1.1" stroke-opacity="0.8"/>
<line x1="564.5" y1="1100.9" x2="600.7" y2="1129.2" stroke="#5a1a5a" stroke-width="1.1" stroke-opacity="0.8"/>
<line x1="600.7" y1="1129.2" x2="630.3" y2="1152.3" stroke="#0d7d14" stroke-width="1.1" stroke-opacity="0.8"/>
<line x1="564.5" y1="1100.9" x2="555.2" y2="1117.6" stroke="#5a1a5a" stroke-width="1.1" stroke-opacity="0.8"/>
<line x1="555.2" y1="1117.6" x2="522.1" y2="1176.8" stroke="#0d7d14" stroke-width="1.1" stroke-opacity="0.8"/>
<line x1="630.3" y1="1152.3" x2="642.6" y2="1223.6" stroke="#0d7d14" stroke-width="1.1" stroke-opacity="0.8"/>
<line x1="630.3" y1="1152.3" x2="636.9" y2="1144" stroke="#0d7d14" stroke-width="1.1" stroke-opacity="0.8"/>
<line x1="636.9" y1="1144" x2="679.7" y2="1090.3" stroke="#5a1a5a" stroke-width="1.1" stroke-opacity="0.8"/>
<line x1="679.7" y1="1090.3" x2="696.1" y2="1069.7" stroke="#0d7d14" stroke-width="1.1" stroke-opacity="0.8"/>
<line x1="645.9" y1="1039.6" x2="696.1" y2="1069.7" stroke="#5a1a5a" stroke-width="1.1" stroke-opacity="0.8"/>
<line x1="696.1" y1="1069.7" x2="744.5" y2="1107.2" stroke="#5a1a5a" stroke-width="1.1" stroke-opacity="0.8"/>
<line x1="744.5" y1="1107.2" x2="765.2" y2="1123.3" stroke="#0d7d14" stroke-width="1.1" stroke-opacity="0.8"/>
<text x="627" y="915.2" font-size="24" text-anchor="middle" stroke="#000" stroke-width="0.3" textLength="106.3" lengthAdjust="spacing">T=2000 s</text>
<text x="458.5" y="924.1" font-size="43" font-weight="bold">i</text>
<text x="461.4" y="1260.4" font-size="24.5" stroke="#000" stroke-width="0.3" textLength="150.8" lengthAdjust="spacing">CBD Domain</text>
<path d="M830.9 997.2 L833.4 999.2 L895.6 1055.5 L894.8 1062.1 L894.3 1068.7 L894.1 1075.4 L894.2 1082 L894.6 1088.7 L895.3 1095.3 L896.4 1101.9 L897.7 1108.4 L899.3 1114.8 L901.2 1121.2 L903.4 1127.5 L905.8 1133.7 L908.6 1139.7 L911.6 1145.7 L914.8 1151.4 L918.4 1157.1 L922.2 1162.5 L926.2 1167.8 L930.5 1172.9 L935 1177.8 L939.7 1182.5 L944.6 1187 L949.7 1191.2 L955 1195.3 L960.5 1199 L966.1 1202.5 L971.9 1205.8 L977.9 1208.8 L984 1211.5 L990.1 1213.9 L996.4 1216.1 L1002.8 1218 L1009.3 1219.6 L1015.8 1220.8 L1022.4 1221.8 L1029 1222.5 L1035.6 1222.9 L1042.3 1223 L1048.9 1222.8 L1055.5 1222.3 L1061.4 1261.2 L1068.5 1298.2 L830.9 1298.2Z" stroke="none" stroke-width="0" fill="#e6eef9"/>
<path d="M833.4 999.2 L895.8 1055.5" stroke="#2e2e2e" stroke-width="2" fill="none"/>
<path d="M1055.6 1222.6 Q1058.9 1266.2 1068.5 1299.2" stroke="#2e2e2e" stroke-width="2" fill="none"/>
<defs><linearGradient id="sgj" gradientUnits="userSpaceOnUse" x1="920.9" y1="1156.2" x2="1150.9" y2="981.2"><stop offset="0" stop-color="#cbb866"/><stop offset="1" stop-color="#bcac6b"/></linearGradient><clipPath id="ccj"><circle cx="1040.9" cy="1076.2" r="146.8"/></clipPath></defs>
<circle cx="1040.9" cy="1076.2" r="146.8" fill="url(#sgj)"/>
<g clip-path="url(#ccj)">
<path d="M1133 962.9 L1058.9 1036.3 L1109.7 1066.8 L1179.7 1121 L1183 1112.9 L1185 1104.3 L1186.4 1095.6 L1187.3 1086.8 L1187.7 1078 L1187.5 1069.2 L1186.8 1060.4 L1185.6 1051.7 L1183.9 1043.1 L1181.7 1034.5 L1178.9 1026.2 L1175.7 1018 L1171.9 1010 L1167.7 1002.3 L1163.1 994.8 L1157.9 987.6 L1152.4 980.7 L1146.5 974.2 L1140.2 968.1Z" stroke="none" stroke-width="0" fill="#aa9e75" fill-opacity="0.9"/>
<path d="M1030.7 930.2 L1021.7 979.8 L1058.9 1036.3 L1133 962.9 L1129.2 958.9 L1124.7 955.7 L1120.1 952.6 L1115.4 949.7 L1110.6 947 L1105.7 944.5 L1100.7 942.1 L1095.6 940 L1090.4 938 L1085.2 936.2 L1079.9 934.7 L1074.5 933.3 L1069.1 932.1 L1063.7 931.2 L1058.2 930.4 L1052.7 929.9 L1047.2 929.5 L1041.7 929.4 L1036.2 929.5Z" stroke="none" stroke-width="0" fill="#b1a574" fill-opacity="0.85"/>
<path d="M1025.6 937.8l2.2 -4.7M1037.4 937.8l1.7 -4.9M1049.2 937.9l1.3 -5M1061.1 938l0.8 -5.1M978.7 950.7l3.1 -4.1M990.4 950.8l2.9 -4.3M1002.2 950.8l2.6 -4.5M1013.9 950.9l2.3 -4.7M1025.7 951l2 -4.8M1037.5 951.1l1.6 -5M1049.3 951.1l1.2 -5.1M1061.1 951.2l0.8 -5.1M1072.9 951.2l0.3 -5.2M1084.8 951.2l-0.1 -5.2M1096.6 951.2l-0.6 -5.2M955.4 963.8l3.4 -4M967.1 963.9l3.2 -4.1M978.8 963.9l3 -4.3M990.5 964l2.7 -4.4M1002.3 964.1l2.4 -4.6M1014 964.2l2.1 -4.7M1025.8 964.2l1.8 -4.9M1037.6 964.3l1.5 -5M1049.4 964.3l1.1 -5.1M1061.2 964.4l0.7 -5.2M1073 964.4l0.3 -5.2M1084.8 964.4l-0.1 -5.2M1096.6 964.4l-0.5 -5.2M1108.4 964.4l-0.9 -5.1M1120.2 964.3l-1.3 -5M943.8 977l3.4 -4M955.5 977.1l3.2 -4.1M967.2 977.1l3 -4.2M978.9 977.2l2.8 -4.4M990.6 977.3l2.5 -4.5M1002.4 977.3l2.3 -4.7M1014.1 977.4l2 -4.8M1025.9 977.5l1.7 -4.9M1037.6 977.5l1.3 -5M1049.4 977.6l1 -5.1M1061.2 977.6l0.6 -5.2M1073 977.6l0.3 -5.2M1084.8 977.6l-0.1 -5.2M1096.6 977.6l-0.5 -5.2M1108.3 977.6l-0.9 -5.1M1120.1 977.5l-1.2 -5.1M1131.9 977.5l-1.6 -5M932.2 990.2l3.4 -4M943.9 990.2l3.2 -4.1M955.6 990.3l3 -4.2M967.3 990.4l2.8 -4.4M979 990.4l2.6 -4.5M990.7 990.5l2.4 -4.6M1002.4 990.6l2.1 -4.7M1014.2 990.6l1.9 -4.9M1025.9 990.7l1.6 -5M1037.7 990.7l1.3 -5M1049.4 990.8l0.9 -5.1M1061.2 990.8l0.6 -5.2M1073 990.8l0.2 -5.2M1084.8 990.8l-0.1 -5.2M1096.5 990.8l-0.5 -5.2M1108.3 990.8l-0.8 -5.1M1120.1 990.7l-1.1 -5.1M1131.8 990.7l-1.5 -5M1143.6 990.6l-1.8 -4.9M920.6 1003.4l3.4 -3.9M932.3 1003.4l3.2 -4.1M944 1003.5l3.1 -4.2M955.7 1003.6l2.9 -4.3M967.4 1003.6l2.7 -4.4M979.1 1003.7l2.5 -4.6M990.8 1003.7l2.3 -4.7M1002.5 1003.8l2 -4.8M1014.2 1003.8l1.7 -4.9M1026 1003.9l1.5 -5M1037.7 1003.9l1.2 -5.1M1049.5 1004l0.9 -5.1M1061.2 1004l0.5 -5.2M1073 1004l0.2 -5.2M1084.8 1004l-0.1 -5.2M1096.5 1004l-0.4 -5.2M1108.3 1004l-0.8 -5.1M1120 1003.9l-1.1 -5.1M1131.8 1003.9l-1.4 -5M1143.5 1003.9l-1.6 -4.9M1155.3 1003.8l-1.9 -4.8M920.7 1016.6l3.2 -4.1M932.4 1016.7l3.1 -4.2M944 1016.7l2.9 -4.3M955.7 1016.8l2.8 -4.4M967.4 1016.9l2.6 -4.5M979.1 1016.9l2.4 -4.6M990.8 1017l2.1 -4.7M1002.6 1017l1.9 -4.8M1014.3 1017.1l1.6 -4.9M1026 1017.1l1.4 -5M1037.8 1017.1l1.1 -5.1M1049.5 1017.2l0.8 -5.1M1061.2 1017.2l0.5 -5.2M1073 1017.2l0.2 -5.2M1084.7 1017.2l-0.1 -5.2M1096.5 1017.2l-0.4 -5.2M1108.3 1017.2l-0.7 -5.2M1120 1017.2l-1 -5.1M1131.7 1017.1l-1.3 -5M1143.5 1017.1l-1.5 -5M1155.2 1017l-1.8 -4.9M1166.9 1017l-2 -4.8M909.1 1029.8l3.3 -4.1M920.7 1029.9l3.1 -4.2M932.4 1029.9l3 -4.3M944.1 1030l2.8 -4.4M955.8 1030l2.6 -4.5M967.5 1030.1l2.4 -4.6M979.2 1030.1l2.2 -4.7M990.9 1030.2l2 -4.8M1002.6 1030.2l1.8 -4.9M1014.3 1030.3l1.5 -5M1026.1 1030.3l1.3 -5M1037.8 1030.3l1 -5.1M1049.5 1030.4l0.8 -5.1M1061.3 1030.4l0.5 -5.2M1073 1030.4l0.2 -5.2M1084.7 1030.4l-0.1 -5.2M1096.5 1030.4l-0.4 -5.2M1108.2 1030.4l-0.7 -5.2M1120 1030.4l-0.9 -5.1M1131.7 1030.3l-1.2 -5.1M1143.4 1030.3l-1.5 -5M1155.2 1030.3l-1.7 -4.9M1166.9 1030.2l-1.9 -4.8M909.1 1043.1l3.1 -4.1M920.8 1043.1l3 -4.2M932.5 1043.2l2.8 -4.4M944.2 1043.2l2.7 -4.5M955.8 1043.3l2.5 -4.6M967.5 1043.3l2.3 -4.7M979.2 1043.4l2.1 -4.7M990.9 1043.4l1.9 -4.8M1002.7 1043.5l1.7 -4.9M1014.4 1043.5l1.5 -5M1026.1 1043.5l1.2 -5.1M1037.8 1043.6l1 -5.1M1049.5 1043.6l0.7 -5.2M1061.3 1043.6l0.4 -5.2M1073 1043.6l0.2 -5.2M1084.7 1043.6l-0.1 -5.2M1096.5 1043.6l-0.4 -5.2M1108.2 1043.6l-0.6 -5.2M1119.9 1043.6l-0.9 -5.1M1131.7 1043.5l-1.1 -5.1M1143.4 1043.5l-1.4 -5M1155.1 1043.5l-1.6 -4.9M1166.8 1043.4l-1.8 -4.9M1178.5 1043.4l-2.1 -4.8M909.2 1056.3l3 -4.2M920.9 1056.4l2.9 -4.3M932.5 1056.4l2.7 -4.4M944.2 1056.5l2.6 -4.5M955.9 1056.5l2.4 -4.6M967.6 1056.6l2.2 -4.7M979.3 1056.6l2 -4.8M991 1056.6l1.8 -4.9M1002.7 1056.7l1.6 -4.9M1014.4 1056.7l1.4 -5M1026.1 1056.7l1.2 -5.1M1037.8 1056.8l0.9 -5.1M1049.6 1056.8l0.7 -5.2M1061.3 1056.8l0.4 -5.2M1073 1056.8l0.2 -5.2M1084.7 1056.8l-0.1 -5.2M1096.5 1056.8l-0.3 -5.2M1108.2 1056.8l-0.6 -5.2M1119.9 1056.8l-0.8 -5.1M1131.6 1056.7l-1.1 -5.1M1143.4 1056.7l-1.3 -5M1155.1 1056.7l-1.5 -5M1166.8 1056.6l-1.7 -4.9M1178.5 1056.6l-2 -4.8M897.6 1069.5l3 -4.2M909.2 1069.6l2.9 -4.3M920.9 1069.6l2.8 -4.4M932.6 1069.6l2.6 -4.5M944.3 1069.7l2.5 -4.6M956 1069.7l2.3 -4.7M967.6 1069.8l2.1 -4.7M979.3 1069.8l1.9 -4.8M991 1069.9l1.7 -4.9M1002.7 1069.9l1.5 -5M1014.4 1069.9l1.3 -5M1026.2 1069.9l1.1 -5.1M1037.9 1070l0.9 -5.1M1049.6 1070l0.6 -5.2M1061.3 1070l0.4 -5.2M1073 1070l0.2 -5.2M1084.7 1070l-0.1 -5.2M1096.5 1070l-0.3 -5.2M1108.2 1070l-0.6 -5.2M1119.9 1070l-0.8 -5.1M1131.6 1069.9l-1 -5.1M1143.3 1069.9l-1.2 -5M1155 1069.9l-1.5 -5M1166.7 1069.9l-1.7 -4.9M1178.4 1069.8l-1.9 -4.9M897.6 1082.7l2.9 -4.3M909.3 1082.8l2.8 -4.4M921 1082.8l2.7 -4.5M932.6 1082.9l2.5 -4.5M944.3 1082.9l2.4 -4.6M956 1083l2.2 -4.7M967.7 1083l2 -4.8M979.4 1083l1.8 -4.9M991.1 1083.1l1.7 -4.9M1002.8 1083.1l1.5 -5M1014.5 1083.1l1.3 -5M1026.2 1083.1l1 -5.1M1037.9 1083.2l0.8 -5.1M1049.6 1083.2l0.6 -5.2M1061.3 1083.2l0.4 -5.2M1073 1083.2l0.2 -5.2M1084.7 1083.2l-0.1 -5.2M1096.5 1083.2l-0.3 -5.2M1108.2 1083.2l-0.5 -5.2M1119.9 1083.2l-0.8 -5.1M1131.6 1083.2l-1 -5.1M1143.3 1083.1l-1.2 -5.1M1155 1083.1l-1.4 -5M1166.7 1083.1l-1.6 -5M1178.4 1083l-1.8 -4.9M909.3 1096l2.7 -4.4M921 1096.1l2.6 -4.5M932.7 1096.1l2.4 -4.6M944.4 1096.1l2.3 -4.7M956 1096.2l2.1 -4.7M967.7 1096.2l1.9 -4.8M979.4 1096.2l1.8 -4.9M991.1 1096.3l1.6 -5M1002.8 1096.3l1.4 -5M1014.5 1096.3l1.2 -5.1M1026.2 1096.4l1 -5.1M1037.9 1096.4l0.8 -5.1M1049.6 1096.4l0.6 -5.2M1061.3 1096.4l0.4 -5.2M1073 1096.4l0.1 -5.2M1084.7 1096.4l-0.1 -5.2M1096.4 1096.4l-0.3 -5.2M1108.2 1096.4l-0.5 -5.2M1119.9 1096.4l-0.7 -5.2M1131.6 1096.4l-0.9 -5.1M1143.3 1096.3l-1.1 -5.1M1155 1096.3l-1.3 -5M1166.7 1096.3l-1.5 -5M1178.4 1096.3l-1.7 -4.9M909.4 1109.2l2.6 -4.5M921.1 1109.3l2.5 -4.6M932.7 1109.3l2.3 -4.6M944.4 1109.4l2.2 -4.7M956.1 1109.4l2 -4.8M967.8 1109.4l1.9 -4.9M979.4 1109.5l1.7 -4.9M991.1 1109.5l1.5 -5M1002.8 1109.5l1.3 -5M1014.5 1109.5l1.1 -5.1M1026.2 1109.6l1 -5.1M1037.9 1109.6l0.8 -5.1M1049.6 1109.6l0.6 -5.2M1061.3 1109.6l0.3 -5.2M1073 1109.6l0.1 -5.2M1084.7 1109.6l-0.1 -5.2M1096.4 1109.6l-0.3 -5.2M1108.1 1109.6l-0.5 -5.2M1119.8 1109.6l-0.7 -5.2M1131.5 1109.6l-0.9 -5.1M1143.2 1109.5l-1.1 -5.1M1154.9 1109.5l-1.3 -5M1166.6 1109.5l-1.5 -5M1178.3 1109.5l-1.6 -4.9M909.4 1122.5l2.5 -4.5M921.1 1122.5l2.4 -4.6M932.8 1122.5l2.3 -4.7M944.4 1122.6l2.1 -4.8M956.1 1122.6l2 -4.8M967.8 1122.6l1.8 -4.9M979.5 1122.7l1.6 -4.9M991.2 1122.7l1.5 -5M1002.9 1122.7l1.3 -5M1014.5 1122.7l1.1 -5.1M1026.2 1122.8l0.9 -5.1M1037.9 1122.8l0.7 -5.1M1049.6 1122.8l0.5 -5.2M1061.3 1122.8l0.3 -5.2M1073 1122.8l0.1 -5.2M1084.7 1122.8l-0.1 -5.2M1096.4 1122.8l-0.3 -5.2M1108.1 1122.8l-0.5 -5.2M1119.8 1122.8l-0.7 -5.2M1131.5 1122.8l-0.8 -5.1M1143.2 1122.7l-1 -5.1M1154.9 1122.7l-1.2 -5.1M1166.6 1122.7l-1.4 -5M909.5 1135.7l2.5 -4.6M921.1 1135.7l2.3 -4.7M932.8 1135.8l2.2 -4.7M944.5 1135.8l2 -4.8M956.2 1135.8l1.9 -4.8M967.8 1135.9l1.7 -4.9M979.5 1135.9l1.6 -5M991.2 1135.9l1.4 -5M1002.9 1135.9l1.2 -5.1M1014.6 1135.9l1.1 -5.1M1026.3 1136l0.9 -5.1M1038 1136l0.7 -5.2M1049.6 1136l0.5 -5.2M1061.3 1136l0.3 -5.2M1073 1136l0.1 -5.2M1084.7 1136l-0.1 -5.2M1096.4 1136l-0.3 -5.2M1108.1 1136l-0.4 -5.2M1119.8 1136l-0.6 -5.2M1131.5 1136l-0.8 -5.1M1143.2 1136l-1 -5.1M1154.9 1135.9l-1.2 -5.1M1166.6 1135.9l-1.3 -5M921.2 1148.9l2.3 -4.7M932.8 1149l2.1 -4.8M944.5 1149l2 -4.8M956.2 1149l1.8 -4.9M967.9 1149.1l1.7 -4.9M979.5 1149.1l1.5 -5M991.2 1149.1l1.4 -5M1002.9 1149.1l1.2 -5.1M1014.6 1149.1l1 -5.1M1026.3 1149.2l0.8 -5.1M1038 1149.2l0.7 -5.2M1049.7 1149.2l0.5 -5.2M1061.3 1149.2l0.3 -5.2M1073 1149.2l0.1 -5.2M1084.7 1149.2l-0.1 -5.2M1096.4 1149.2l-0.2 -5.2M1108.1 1149.2l-0.4 -5.2M1119.8 1149.2l-0.6 -5.2M1131.5 1149.2l-0.8 -5.1M1143.2 1149.2l-1 -5.1M1154.9 1149.1l-1.1 -5.1M932.9 1162.2l2 -4.8M944.5 1162.2l1.9 -4.8M956.2 1162.2l1.8 -4.9M967.9 1162.3l1.6 -4.9M979.6 1162.3l1.5 -5M991.2 1162.3l1.3 -5M1002.9 1162.3l1.1 -5.1M1014.6 1162.4l1 -5.1M1026.3 1162.4l0.8 -5.1M1038 1162.4l0.6 -5.2M1049.7 1162.4l0.5 -5.2M1061.4 1162.4l0.3 -5.2M1073 1162.4l0.1 -5.2M1084.7 1162.4l-0.1 -5.2M1096.4 1162.4l-0.2 -5.2M1108.1 1162.4l-0.4 -5.2M1119.8 1162.4l-0.6 -5.2M1131.5 1162.4l-0.8 -5.1M1143.2 1162.4l-0.9 -5.1M1154.8 1162.3l-1.1 -5.1M944.6 1175.4l1.8 -4.9M956.2 1175.5l1.7 -4.9M967.9 1175.5l1.6 -5M979.6 1175.5l1.4 -5M991.3 1175.5l1.3 -5M1002.9 1175.5l1.1 -5.1M1014.6 1175.6l0.9 -5.1M1026.3 1175.6l0.8 -5.1M1038 1175.6l0.6 -5.2M1049.7 1175.6l0.5 -5.2M1061.4 1175.6l0.3 -5.2M1073 1175.6l0.1 -5.2M1084.7 1175.6l-0.1 -5.2M1096.4 1175.6l-0.2 -5.2M1108.1 1175.6l-0.4 -5.2M1119.8 1175.6l-0.6 -5.2M1131.5 1175.6l-0.7 -5.1M1143.1 1175.6l-0.9 -5.1M956.3 1188.7l1.6 -4.9M967.9 1188.7l1.5 -5M979.6 1188.7l1.4 -5M991.3 1188.7l1.2 -5.1M1003 1188.7l1.1 -5.1M1014.6 1188.8l0.9 -5.1M1026.3 1188.8l0.8 -5.1M1038 1188.8l0.6 -5.2M1049.7 1188.8l0.4 -5.2M1061.4 1188.8l0.3 -5.2M1073 1188.8l0.1 -5.2M1084.7 1188.8l-0.1 -5.2M1096.4 1188.8l-0.2 -5.2M1108.1 1188.8l-0.4 -5.2M1119.8 1188.8l-0.5 -5.2M1131.4 1188.8l-0.7 -5.2M968 1201.9l1.5 -5M979.6 1201.9l1.3 -5M991.3 1201.9l1.2 -5.1M1003 1201.9l1 -5.1M1014.7 1202l0.9 -5.1M1026.3 1202l0.7 -5.1M1038 1202l0.6 -5.2M1049.7 1202l0.4 -5.2M1061.4 1202l0.3 -5.2M1073 1202l0.1 -5.2M1084.7 1202l-0.1 -5.2M1096.4 1202l-0.2 -5.2M1108.1 1202l-0.4 -5.2M1003 1215.2l1 -5.1M1014.7 1215.2l0.9 -5.1M1026.3 1215.2l0.7 -5.2M1038 1215.2l0.6 -5.2M1049.7 1215.2l0.4 -5.2M1061.4 1215.2l0.3 -5.2M1073 1215.2l0.1 -5.2" stroke="#f6eab0" stroke-width="1.3" stroke-linecap="round" opacity="0.75" fill="none"/>
</g>
<circle cx="1040.9" cy="1076.2" r="146.8" fill="none" stroke="#2a2a2a" stroke-width="1.8"/>
<line x1="1030.7" y1="930.2" x2="1030.3" y2="932.2" stroke="#35b53a" stroke-width="4.6" stroke-linecap="round"/>
<line x1="1030.3" y1="932.2" x2="1021.7" y2="979.8" stroke="#c145bf" stroke-width="4.6" stroke-linecap="round"/>
<line x1="1021.7" y1="979.8" x2="1058.9" y2="1036.3" stroke="#c145bf" stroke-width="4.6" stroke-linecap="round"/>
<line x1="1133" y1="962.9" x2="1125.6" y2="970.3" stroke="#35b53a" stroke-width="4.6" stroke-linecap="round"/>
<line x1="1125.6" y1="970.3" x2="1058.9" y2="1036.3" stroke="#c145bf" stroke-width="4.6" stroke-linecap="round"/>
<line x1="1058.9" y1="1036.3" x2="1008.6" y2="1035.1" stroke="#c145bf" stroke-width="4.6" stroke-linecap="round"/>
<line x1="1008.6" y1="1035.1" x2="999.5" y2="1034.9" stroke="#35b53a" stroke-width="4.6" stroke-linecap="round"/>
<line x1="999.5" y1="1034.9" x2="967.5" y2="1034.1" stroke="#c145bf" stroke-width="4.6" stroke-linecap="round"/>
<line x1="967.5" y1="1034.1" x2="906.6" y2="1052.3" stroke="#c145bf" stroke-width="4.6" stroke-linecap="round"/>
<line x1="906.6" y1="1052.3" x2="895.8" y2="1055.5" stroke="#35b53a" stroke-width="4.6" stroke-linecap="round"/>
<line x1="967.5" y1="1034.1" x2="976.5" y2="1098.4" stroke="#c145bf" stroke-width="4.6" stroke-linecap="round"/>
<line x1="976.5" y1="1098.4" x2="1009.8" y2="1124.4" stroke="#c145bf" stroke-width="4.6" stroke-linecap="round"/>
<line x1="1009.8" y1="1124.4" x2="1016.5" y2="1129.6" stroke="#35b53a" stroke-width="4.6" stroke-linecap="round"/>
<line x1="1016.5" y1="1129.6" x2="1043.1" y2="1150.4" stroke="#c145bf" stroke-width="4.6" stroke-linecap="round"/>
<line x1="976.5" y1="1098.4" x2="963.6" y2="1121.4" stroke="#c145bf" stroke-width="4.6" stroke-linecap="round"/>
<line x1="963.6" y1="1121.4" x2="933.6" y2="1175.2" stroke="#35b53a" stroke-width="4.6" stroke-linecap="round"/>
<line x1="1043.1" y1="1150.4" x2="1047.5" y2="1175.7" stroke="#c145bf" stroke-width="4.6" stroke-linecap="round"/>
<line x1="1047.5" y1="1175.7" x2="1051.2" y2="1197.3" stroke="#35b53a" stroke-width="4.6" stroke-linecap="round"/>
<line x1="1051.2" y1="1197.3" x2="1055.2" y2="1220.4" stroke="#c145bf" stroke-width="4.6" stroke-linecap="round"/>
<line x1="1055.2" y1="1220.4" x2="1055.6" y2="1222.6" stroke="#35b53a" stroke-width="4.6" stroke-linecap="round"/>
<line x1="1043.1" y1="1150.4" x2="1109.7" y2="1066.8" stroke="#c145bf" stroke-width="4.6" stroke-linecap="round"/>
<line x1="1058.9" y1="1036.3" x2="1109.7" y2="1066.8" stroke="#c145bf" stroke-width="4.6" stroke-linecap="round"/>
<line x1="1109.7" y1="1066.8" x2="1176.2" y2="1118.3" stroke="#c145bf" stroke-width="4.6" stroke-linecap="round"/>
<line x1="1176.2" y1="1118.3" x2="1179.7" y2="1121" stroke="#35b53a" stroke-width="4.6" stroke-linecap="round"/>
<line x1="1030.7" y1="930.2" x2="1030.3" y2="932.2" stroke="#0d7d14" stroke-width="1.1" stroke-opacity="0.8"/>
<line x1="1030.3" y1="932.2" x2="1021.7" y2="979.8" stroke="#5a1a5a" stroke-width="1.1" stroke-opacity="0.8"/>
<line x1="1021.7" y1="979.8" x2="1058.9" y2="1036.3" stroke="#5a1a5a" stroke-width="1.1" stroke-opacity="0.8"/>
<line x1="1133" y1="962.9" x2="1125.6" y2="970.3" stroke="#0d7d14" stroke-width="1.1" stroke-opacity="0.8"/>
<line x1="1125.6" y1="970.3" x2="1058.9" y2="1036.3" stroke="#5a1a5a" stroke-width="1.1" stroke-opacity="0.8"/>
<line x1="1058.9" y1="1036.3" x2="1008.6" y2="1035.1" stroke="#5a1a5a" stroke-width="1.1" stroke-opacity="0.8"/>
<line x1="1008.6" y1="1035.1" x2="999.5" y2="1034.9" stroke="#0d7d14" stroke-width="1.1" stroke-opacity="0.8"/>
<line x1="999.5" y1="1034.9" x2="967.5" y2="1034.1" stroke="#5a1a5a" stroke-width="1.1" stroke-opacity="0.8"/>
<line x1="967.5" y1="1034.1" x2="906.6" y2="1052.3" stroke="#5a1a5a" stroke-width="1.1" stroke-opacity="0.8"/>
<line x1="906.6" y1="1052.3" x2="895.8" y2="1055.5" stroke="#0d7d14" stroke-width="1.1" stroke-opacity="0.8"/>
<line x1="967.5" y1="1034.1" x2="976.5" y2="1098.4" stroke="#5a1a5a" stroke-width="1.1" stroke-opacity="0.8"/>
<line x1="976.5" y1="1098.4" x2="1009.8" y2="1124.4" stroke="#5a1a5a" stroke-width="1.1" stroke-opacity="0.8"/>
<line x1="1009.8" y1="1124.4" x2="1016.5" y2="1129.6" stroke="#0d7d14" stroke-width="1.1" stroke-opacity="0.8"/>
<line x1="1016.5" y1="1129.6" x2="1043.1" y2="1150.4" stroke="#5a1a5a" stroke-width="1.1" stroke-opacity="0.8"/>
<line x1="976.5" y1="1098.4" x2="963.6" y2="1121.4" stroke="#5a1a5a" stroke-width="1.1" stroke-opacity="0.8"/>
<line x1="963.6" y1="1121.4" x2="933.6" y2="1175.2" stroke="#0d7d14" stroke-width="1.1" stroke-opacity="0.8"/>
<line x1="1043.1" y1="1150.4" x2="1047.5" y2="1175.7" stroke="#5a1a5a" stroke-width="1.1" stroke-opacity="0.8"/>
<line x1="1047.5" y1="1175.7" x2="1051.2" y2="1197.3" stroke="#0d7d14" stroke-width="1.1" stroke-opacity="0.8"/>
<line x1="1051.2" y1="1197.3" x2="1055.2" y2="1220.4" stroke="#5a1a5a" stroke-width="1.1" stroke-opacity="0.8"/>
<line x1="1055.2" y1="1220.4" x2="1055.6" y2="1222.6" stroke="#0d7d14" stroke-width="1.1" stroke-opacity="0.8"/>
<line x1="1043.1" y1="1150.4" x2="1109.7" y2="1066.8" stroke="#5a1a5a" stroke-width="1.1" stroke-opacity="0.8"/>
<line x1="1058.9" y1="1036.3" x2="1109.7" y2="1066.8" stroke="#5a1a5a" stroke-width="1.1" stroke-opacity="0.8"/>
<line x1="1109.7" y1="1066.8" x2="1176.2" y2="1118.3" stroke="#5a1a5a" stroke-width="1.1" stroke-opacity="0.8"/>
<line x1="1176.2" y1="1118.3" x2="1179.7" y2="1121" stroke="#0d7d14" stroke-width="1.1" stroke-opacity="0.8"/>
<text x="1041" y="915.2" font-size="24" text-anchor="middle" stroke="#000" stroke-width="0.3" textLength="106.3" lengthAdjust="spacing">T=3000 s</text>
<text x="872.5" y="924" font-size="43" font-weight="bold">j</text>
<text x="868.2" y="1260.4" font-size="24.5" stroke="#000" stroke-width="0.3" textLength="150.8" lengthAdjust="spacing">CBD Domain</text>
<defs><linearGradient id="licb" x1="0" y1="0" x2="0" y2="1"><stop offset="0" stop-color="#1c2c66"/><stop offset="0.15" stop-color="#213d7c"/><stop offset="0.3" stop-color="#3d4b72"/><stop offset="0.45" stop-color="#5f6470"/><stop offset="0.55" stop-color="#737270"/><stop offset="0.7" stop-color="#9a906e"/><stop offset="0.8" stop-color="#b8a866"/><stop offset="0.9" stop-color="#d8c455"/><stop offset="1" stop-color="#f3df45"/></linearGradient></defs>
<rect x="1206.7" y="962.5" width="16" height="296.4" fill="url(#licb)" stroke="#5a4a3a" stroke-width="0.8"/>
<defs><linearGradient id="dmcb" x1="0" y1="0" x2="0" y2="1"><stop offset="0" stop-color="#c242b8"/><stop offset="0.25" stop-color="#c43aa2"/><stop offset="0.45" stop-color="#b94f7c"/><stop offset="0.4999" stop-color="#aa5a6a"/><stop offset="0.5" stop-color="#7b7a02"/><stop offset="0.6" stop-color="#5c9a0c"/><stop offset="0.7" stop-color="#44b21c"/><stop offset="0.85" stop-color="#45bf42"/><stop offset="1" stop-color="#56c556"/></linearGradient></defs>
<rect x="1291.5" y="962.5" width="16" height="296" fill="url(#dmcb)" stroke="#5a4a3a" stroke-width="0.8"/>
<path d="M1219.7 992.1h3M1304.5 992.1h3M1219.7 1021.8h3M1304.5 1021.8h3M1219.7 1051.4h3M1304.5 1051.4h3M1219.7 1081.1h3M1304.5 1081.1h3M1219.7 1110.7h3M1304.5 1110.7h3M1219.7 1140.3h3M1304.5 1140.3h3M1219.7 1170h3M1304.5 1170h3M1219.7 1199.6h3M1304.5 1199.6h3M1219.7 1229.3h3M1304.5 1229.3h3" stroke="#333" stroke-width="1"/>
<text x="1223.1" y="952.6" font-size="23.5" text-anchor="middle" stroke="#000" stroke-width="0.3" textLength="63.4" lengthAdjust="spacing">100%</text>
<text x="1219.2" y="1289.2" font-size="23.5" text-anchor="middle" stroke="#000" stroke-width="0.3" textLength="35.8" lengthAdjust="spacing">0%</text>
<text x="1299.7" y="952.6" font-size="23.5" text-anchor="middle" stroke="#000" stroke-width="0.3" textLength="13.8" lengthAdjust="spacing">1</text>
<text x="1299.7" y="1290.6" font-size="23.5" text-anchor="middle" stroke="#000" stroke-width="0.3" textLength="13.8" lengthAdjust="spacing">0</text>
<text x="1234.6" y="1116.9" font-size="24" text-anchor="middle" stroke="#000" stroke-width="0.3" textLength="248.2" lengthAdjust="spacing" transform="rotate(90 1234.6 1116.9)">Lithium Concentration</text>
<text x="1322.5" y="1124.4" font-size="24" text-anchor="middle" stroke="#000" stroke-width="0.3" textLength="238.9" lengthAdjust="spacing" transform="rotate(90 1322.5 1124.4)">Damage (arb. units )</text>
<path d="M1480.7 973.4V1290.4M1549 973.4V1290.4M1617.2 973.4V1290.4M1685.5 973.4V1290.4M1753.7 973.4V1290.4M1822 973.4V1290.4M1890.2 973.4V1290.4M1458.7 1242.7H1939.9M1458.7 1176H1939.9M1458.7 1109.2H1939.9M1458.7 1042.4H1939.9M1458.7 973.6H1939.9" stroke="#dcdcdc" stroke-width="1" stroke-dasharray="5 3 1 3" fill="none"/>
<line x1="1458.7" y1="971.4" x2="1458.7" y2="1290.4" stroke="#555" stroke-width="1.5"/>
<line x1="1458.7" y1="1290.4" x2="1939.9" y2="1290.4" stroke="#555" stroke-width="1.5"/>
<path d="M1480.7 1290.4v-4M1549 1290.4v-4M1617.2 1290.4v-4M1685.5 1290.4v-4M1753.7 1290.4v-4M1822 1290.4v-4M1890.2 1290.4v-4M1458.7 1242.7h4M1458.7 1176h4M1458.7 1109.2h4M1458.7 1042.4h4" stroke="#555" stroke-width="1"/>
<text x="1455.8" y="993.8" font-size="22.5" text-anchor="end" stroke="#000" stroke-width="0.3" textLength="39.6" lengthAdjust="spacing">100</text>
<text x="1453.5" y="1059" font-size="22.5" text-anchor="end" stroke="#000" stroke-width="0.3" textLength="26.4" lengthAdjust="spacing">80</text>
<text x="1453.5" y="1117.4" font-size="22.5" text-anchor="end" stroke="#000" stroke-width="0.3" textLength="26.4" lengthAdjust="spacing">60</text>
<text x="1453.5" y="1176.3" font-size="22.5" text-anchor="end" stroke="#000" stroke-width="0.3" textLength="26.4" lengthAdjust="spacing">40</text>
<text x="1453.5" y="1235.5" font-size="22.5" text-anchor="end" stroke="#000" stroke-width="0.3" textLength="26.4" lengthAdjust="spacing">20</text>
<text x="1445" y="1292.7" font-size="22.5" text-anchor="end" stroke="#000" stroke-width="0.3" textLength="13.2" lengthAdjust="spacing">0</text>
<text x="1480.2" y="1312.9" font-size="22.5" text-anchor="middle" stroke="#000" stroke-width="0.3" textLength="13.2" lengthAdjust="spacing">0</text>
<text x="1616.7" y="1312.9" font-size="22.5" text-anchor="middle" stroke="#000" stroke-width="0.3" textLength="52.8" lengthAdjust="spacing">1000</text>
<text x="1753.2" y="1312.9" font-size="22.5" text-anchor="middle" stroke="#000" stroke-width="0.3" textLength="52.8" lengthAdjust="spacing">2000</text>
<text x="1889.7" y="1312.9" font-size="22.5" text-anchor="middle" stroke="#000" stroke-width="0.3" textLength="52.8" lengthAdjust="spacing">3000</text>
<text x="1699.5" y="1339.2" font-size="24" text-anchor="middle" stroke="#000" stroke-width="0.3" textLength="121" lengthAdjust="spacing">Time (min)</text>
<text x="1401.2" y="1125.3" font-size="24" text-anchor="middle" stroke="#000" stroke-width="0.3" textLength="296" lengthAdjust="spacing" transform="rotate(-90 1401.2 1125.3)">Lithium Concentration (%)</text>
<text x="1431" y="925" font-size="43" font-weight="bold">k</text>
<path d="M1480.3 985.3 C1481.6 987.8 1485.2 994.1 1487.9 1000.4 C1490.7 1006.7 1493.8 1016 1496.8 1023.2 C1499.8 1030.4 1502 1036.7 1505.6 1043.4 C1509.2 1050.1 1514.1 1057.7 1518.3 1063.6 C1522.5 1069.5 1526.3 1074.2 1530.9 1078.8 C1535.5 1083.4 1540.6 1087.4 1546.1 1091.4 C1551.6 1095.4 1557.9 1099.4 1563.8 1102.8 C1569.7 1106.2 1575.1 1108.1 1581.4 1111.7 C1587.7 1115.3 1595 1120.3 1601.7 1124.3 C1608.5 1128.3 1615.2 1131.9 1621.9 1135.7 C1628.6 1139.5 1635.4 1143.5 1642.1 1147.1 C1648.8 1150.7 1655.5 1154 1662.3 1157.2 C1669 1160.4 1675.8 1163 1682.6 1166 C1689.3 1169 1695.2 1171.7 1702.8 1174.9 C1710.4 1178.1 1719.7 1181.6 1728.1 1185 C1736.5 1188.4 1744.9 1191.7 1753.3 1195.1 C1761.7 1198.5 1770.2 1201.8 1778.6 1205.2 C1787 1208.6 1797.2 1212.8 1803.9 1215.3 C1810.7 1217.8 1813.2 1217.9 1819.1 1220.4 C1825 1222.9 1832.6 1227.1 1839.3 1230.5 C1846 1233.9 1852.8 1237.2 1859.5 1240.6 C1866.2 1244 1873 1247.1 1879.7 1250.7 C1886.4 1254.3 1893.6 1258.1 1899.9 1262.1 C1906.2 1266.1 1914.6 1272.6 1917.6 1274.7" stroke="#b88a78" stroke-width="1.5" fill="none"/>
<path d="M1480.3 985.3 C1481.6 987.8 1485.2 994.1 1487.9 1000.4 C1490.7 1006.7 1493.8 1016 1496.8 1023.2 C1499.8 1030.4 1502 1036.7 1505.6 1043.4 C1509.2 1050.1 1514.1 1057.7 1518.3 1063.6 C1522.5 1069.5 1526.3 1074.2 1530.9 1078.8 C1535.5 1083.4 1540.6 1087.4 1546.1 1091.4 C1551.6 1095.4 1557.9 1099.4 1563.8 1102.8 C1569.7 1106.2 1575.1 1108.1 1581.4 1111.7 C1587.7 1115.3 1595 1120.1 1601.7 1124.3 C1608.5 1128.5 1616.4 1133.1 1621.9 1136.9 C1627.4 1140.7 1630.3 1144.1 1634.5 1147.1 C1638.7 1150 1642.6 1152.3 1647.2 1154.6 C1651.8 1156.9 1656.4 1158.5 1662.3 1161 C1668.2 1163.5 1675.8 1167.1 1682.6 1169.8 C1689.3 1172.5 1695.2 1174.7 1702.8 1177.4 C1710.4 1180.1 1719.7 1183.1 1728.1 1186.2 C1736.5 1189.3 1744.9 1192.9 1753.3 1196.3 C1761.7 1199.7 1770.2 1203.1 1778.6 1206.5 C1787 1209.9 1797.2 1213.9 1803.9 1216.6 C1810.7 1219.3 1813.2 1220.2 1819.1 1222.9 C1825 1225.6 1832.6 1229.6 1839.3 1233 C1846 1236.4 1852.8 1239.7 1859.5 1243.1 C1866.2 1246.5 1873 1249.6 1879.7 1253.2 C1886.4 1256.8 1893.6 1260.8 1899.9 1264.6 C1906.2 1268.4 1914.6 1274.1 1917.6 1276" stroke="#f19ad6" stroke-width="1.5" fill="none"/>
<path d="M1480.3 985.3 C1483.7 986.3 1493.8 989.1 1500.6 991.6 C1507.3 994.1 1514.1 996.8 1520.8 1000.4 C1527.5 1004 1534.3 1008.7 1541 1013.1 C1547.7 1017.5 1554.5 1022.4 1561.2 1027 C1567.9 1031.6 1574.7 1036.1 1581.4 1040.9 C1588.2 1045.8 1595 1051 1601.7 1056.1 C1608.5 1061.1 1615.2 1066.2 1621.9 1071.2 C1628.6 1076.2 1635.4 1080.9 1642.1 1086.4 C1648.8 1091.9 1655.5 1098.6 1662.3 1104.1 C1669 1109.6 1675.8 1114.2 1682.6 1119.3 C1689.3 1124.3 1696.1 1129.8 1702.8 1134.4 C1709.5 1139 1716.3 1142.9 1723 1147.1 C1729.7 1151.3 1736.5 1155.5 1743.2 1159.7 C1749.9 1163.9 1756.7 1168.1 1763.4 1172.3 C1770.2 1176.5 1777 1181.2 1783.7 1185 C1790.5 1188.8 1797.2 1191.7 1803.9 1195.1 C1810.6 1198.5 1817.4 1201 1824.1 1205.2 C1830.8 1209.4 1837.1 1215.4 1844.3 1220.4 C1851.5 1225.5 1859.1 1230.5 1867.1 1235.5 C1875.1 1240.5 1884 1245.9 1892.4 1250.7 C1900.8 1255.5 1913.4 1262.3 1917.6 1264.6" stroke="#c38ad0" stroke-width="1.5" fill="none"/>
<path d="M1480.3 985.3 C1483.7 985.4 1495.1 985.2 1500.6 986 C1506.1 986.8 1509 987.8 1513.2 989.8 C1517.4 991.8 1521.6 994.4 1525.8 997.9 C1530 1001.4 1534.3 1006.4 1538.5 1010.6 C1542.7 1014.8 1546.9 1019 1551.1 1023.2 C1555.3 1027.4 1559.6 1031.4 1563.8 1035.8 C1568 1040.2 1571.8 1045.5 1576.4 1049.7 C1581 1053.9 1585.7 1057.3 1591.6 1061.1 C1597.5 1064.9 1605.9 1069.2 1611.8 1072.5 C1617.7 1075.8 1623.5 1078.9 1626.9 1080.8 C1630.3 1082.7 1628.6 1082.8 1632 1083.9 C1635.4 1085.1 1642.6 1085.6 1647.2 1087.7 C1651.8 1089.8 1656 1093.8 1659.8 1096.5 C1663.6 1099.2 1666.1 1100.7 1669.9 1104.1 C1673.7 1107.5 1677.1 1112.3 1682.6 1116.7 C1688.1 1121.1 1695.2 1125.5 1702.8 1130.6 C1710.4 1135.7 1719.7 1141.8 1728.1 1147.1 C1736.5 1152.4 1744.9 1157.2 1753.3 1162.2 C1761.7 1167.2 1770.2 1172.3 1778.6 1177.4 C1787 1182.5 1796.3 1188.2 1803.9 1192.6 C1811.5 1197 1817.4 1199.3 1824.1 1203.9 C1830.8 1208.5 1837.1 1215.1 1844.3 1220.4 C1851.5 1225.7 1859.1 1230.5 1867.1 1235.5 C1875.1 1240.5 1884 1245.6 1892.4 1250.7 C1900.8 1255.8 1913.4 1263.4 1917.6 1265.9" stroke="#d9622b" stroke-width="1.5" fill="none"/>
<path d="M1480.3 985.3 C1483.7 985.9 1494.7 987.6 1500.6 989.1 C1506.5 990.6 1510.7 992.2 1515.7 994.1 C1520.8 996 1525 997.2 1530.9 1000.4 C1536.8 1003.6 1544.4 1008.5 1551.1 1013.1 C1557.8 1017.8 1565 1023.7 1571.3 1028.3 C1577.6 1032.9 1583.1 1036.7 1589 1040.9 C1594.9 1045.1 1600.4 1048.9 1606.7 1053.5 C1613 1058.1 1621 1064.7 1626.9 1068.7 C1632.8 1072.7 1636.2 1074.1 1642.1 1077.5 C1648 1080.9 1656.4 1084.9 1662.3 1088.9 C1668.2 1092.9 1672.4 1097.8 1677.5 1101.6 C1682.6 1105.4 1686.8 1107.5 1692.7 1111.7 C1698.6 1115.9 1706.2 1121.8 1712.9 1126.8 C1719.6 1131.8 1726.4 1137.4 1733.1 1142 C1739.8 1146.6 1746.5 1150 1753.3 1154.6 C1760 1159.2 1766.8 1165.2 1773.6 1169.8 C1780.3 1174.4 1787.1 1178.2 1793.8 1182.4 C1800.5 1186.6 1807.3 1190.4 1814 1195.1 C1820.7 1199.8 1827.5 1205.7 1834.2 1210.3 C1840.9 1214.9 1846.8 1217.9 1854.4 1222.9 C1862 1228 1869.2 1233.9 1879.7 1240.6 C1890.2 1247.3 1911.3 1259.5 1917.6 1263.3" stroke="#3b8bc9" stroke-width="1.5" fill="none"/>
<path d="M1480.3 985.3 C1487.9 985.4 1514.4 985.6 1525.8 985.8 C1537.2 986 1541.4 985.8 1548.6 986.5 C1555.8 987.2 1561.6 988.3 1568.8 989.8 C1576 991.3 1584.4 992.8 1591.6 995.4 C1598.8 998 1605.1 1001.7 1611.8 1005.5 C1618.5 1009.3 1625.3 1013.2 1632 1018.1 C1638.7 1023 1645.9 1030 1652.2 1034.6 C1658.5 1039.2 1664 1041.7 1669.9 1045.9 C1675.8 1050.1 1681.3 1054.7 1687.6 1059.8 C1693.9 1064.9 1701 1070.6 1707.8 1076.3 C1714.5 1082 1721.3 1087.7 1728.1 1094 C1734.8 1100.3 1741.6 1107.5 1748.3 1114.2 C1755 1120.9 1761.8 1127.7 1768.5 1134.4 C1775.2 1141.1 1782.8 1149.1 1788.7 1154.6 C1794.6 1160.1 1799.7 1164.1 1803.9 1167.3 C1808.1 1170.5 1811 1172.3 1814 1173.6 C1817 1174.9 1819.1 1174.2 1821.6 1174.9 C1824.1 1175.6 1824.6 1175 1829.2 1177.9 C1833.8 1180.9 1842.7 1187.6 1849.4 1192.6 C1856.1 1197.6 1862.9 1202.2 1869.6 1207.7 C1876.3 1213.2 1881.8 1218.9 1889.8 1225.4 C1897.8 1231.9 1913 1243.3 1917.6 1246.9" stroke="#eca43c" stroke-width="1.5" fill="none"/>
<path d="M1480.3 985.3 C1487.9 985.4 1514.4 985.6 1525.8 985.8 C1537.2 986 1541.4 986 1548.6 986.5 C1555.8 987 1562.1 987.8 1568.8 989.1 C1575.5 990.4 1582.7 992.2 1589 994.1 C1595.3 996 1600.4 997.6 1606.7 1000.4 C1613 1003.1 1621 1007.4 1626.9 1010.6 C1632.8 1013.8 1635.8 1015.2 1642.1 1019.4 C1648.4 1023.6 1657.7 1030.3 1664.9 1035.8 C1672.1 1041.3 1678.8 1047.4 1685.1 1052.3 C1691.4 1057.2 1697.8 1061.1 1702.8 1064.9 C1707.8 1068.7 1709.9 1070.4 1715.4 1075 C1720.9 1079.6 1729.3 1087 1735.6 1092.7 C1741.9 1098.4 1747 1103.2 1753.3 1109.1 C1759.6 1115 1767.3 1122.2 1773.6 1128.1 C1779.9 1134 1785.4 1138.8 1791.3 1144.5 C1797.2 1150.2 1804.3 1157.8 1808.9 1162.2 C1813.5 1166.6 1815.7 1168.6 1819.1 1171.1 C1822.5 1173.6 1824.2 1173.8 1829.2 1177.4 C1834.2 1181 1842.7 1187.5 1849.4 1192.6 C1856.1 1197.6 1862.9 1202.2 1869.6 1207.7 C1876.3 1213.2 1881.8 1218.9 1889.8 1225.4 C1897.8 1231.9 1913 1243.3 1917.6 1246.9" stroke="#34a57e" stroke-width="1.5" fill="none"/>
<line x1="1592.3" y1="944" x2="1624.8" y2="944" stroke="#3b8bc9" stroke-width="1.8"/>
<text x="1637" y="950.9" font-size="23.5" stroke="#000" stroke-width="0.3" textLength="31.7" lengthAdjust="spacing">D1</text>
<line x1="1680.5" y1="944" x2="1713" y2="944" stroke="#eca43c" stroke-width="1.8"/>
<text x="1729.6" y="950.9" font-size="23.5" stroke="#000" stroke-width="0.3" textLength="31.7" lengthAdjust="spacing">D2</text>
<line x1="1768.7" y1="944" x2="1801.2" y2="944" stroke="#34a57e" stroke-width="1.8"/>
<text x="1810.9" y="950.9" font-size="23.5" stroke="#000" stroke-width="0.3" textLength="31.7" lengthAdjust="spacing">D3</text>
<line x1="1863.8" y1="944" x2="1896.3" y2="944" stroke="#d9622b" stroke-width="1.8"/>
<text x="1912.2" y="950.9" font-size="23.5" stroke="#000" stroke-width="0.3" textLength="31.7" lengthAdjust="spacing">D4</text>
<line x1="1590.6" y1="983.7" x2="1623.1" y2="983.7" stroke="#c38ad0" stroke-width="1.8"/>
<text x="1638" y="991.3" font-size="23.5" stroke="#000" stroke-width="0.3" textLength="31.7" lengthAdjust="spacing">D5</text>
<line x1="1681.2" y1="983.7" x2="1713.7" y2="983.7" stroke="#b88a78" stroke-width="1.8"/>
<text x="1731.3" y="991.3" font-size="23.5" stroke="#000" stroke-width="0.3" textLength="31.7" lengthAdjust="spacing">D6</text>
<line x1="1769.4" y1="983.7" x2="1801.9" y2="983.7" stroke="#f19ad6" stroke-width="1.8"/>
<text x="1808.5" y="991.3" font-size="23.5" stroke="#000" stroke-width="0.3" textLength="31.7" lengthAdjust="spacing">D7</text>
</svg></body></html>
